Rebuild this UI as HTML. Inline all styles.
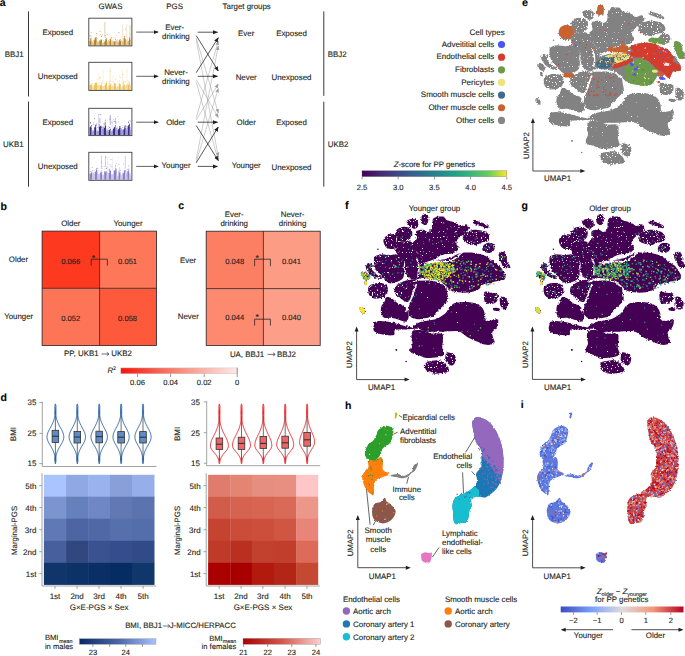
<!DOCTYPE html>
<html><head><meta charset="utf-8"><style>
html,body{margin:0;padding:0;background:#fff;}
svg{display:block;}
text{font-family:"Liberation Sans", sans-serif;text-rendering:geometricPrecision;stroke:currentColor;stroke-width:0.12px;color:#231f20;}
</style></head><body>
<svg width="685" height="656" viewBox="0 0 685 656">
<rect width="685" height="656" fill="#fff"/>
<text x="-0.30" y="5.70" font-size="10.5" text-anchor="start" fill="#000" color="#000" stroke-width="0.12" font-weight="bold" >a</text><text x="110.50" y="9.00" font-size="7.9" text-anchor="middle" fill="#231f20" color="#231f20" stroke-width="0.12" font-weight="normal" >GWAS</text><text x="174.70" y="9.00" font-size="7.9" text-anchor="middle" fill="#231f20" color="#231f20" stroke-width="0.12" font-weight="normal" >PGS</text><text x="246.70" y="8.80" font-size="7.9" text-anchor="middle" fill="#231f20" color="#231f20" stroke-width="0.12" font-weight="normal" >Target groups</text><line x1="28.50" y1="11.40" x2="28.50" y2="96.50" stroke="#3a3a3a" stroke-width="1.0" /><line x1="28.50" y1="101.60" x2="28.50" y2="186.70" stroke="#3a3a3a" stroke-width="1.0" /><line x1="323.80" y1="11.40" x2="323.80" y2="95.90" stroke="#3a3a3a" stroke-width="1.0" /><line x1="323.80" y1="101.70" x2="323.80" y2="186.70" stroke="#3a3a3a" stroke-width="1.0" /><text x="23.60" y="57.10" font-size="7.9" text-anchor="end" fill="#231f20" color="#231f20" stroke-width="0.12" font-weight="normal" >BBJ1</text><text x="23.60" y="146.80" font-size="7.9" text-anchor="end" fill="#231f20" color="#231f20" stroke-width="0.12" font-weight="normal" >UKB1</text><text x="327.80" y="56.60" font-size="7.9" text-anchor="start" fill="#231f20" color="#231f20" stroke-width="0.12" font-weight="normal" >BBJ2</text><text x="327.80" y="147.20" font-size="7.9" text-anchor="start" fill="#231f20" color="#231f20" stroke-width="0.12" font-weight="normal" >UKB2</text><text x="57.80" y="35.00" font-size="7.9" text-anchor="middle" fill="#231f20" color="#231f20" stroke-width="0.12" font-weight="normal" >Exposed</text><text x="57.80" y="79.10" font-size="7.9" text-anchor="middle" fill="#231f20" color="#231f20" stroke-width="0.12" font-weight="normal" >Unexposed</text><text x="57.80" y="124.90" font-size="7.9" text-anchor="middle" fill="#231f20" color="#231f20" stroke-width="0.12" font-weight="normal" >Exposed</text><text x="57.80" y="168.80" font-size="7.9" text-anchor="middle" fill="#231f20" color="#231f20" stroke-width="0.12" font-weight="normal" >Unexposed</text><path d="M89.60,45.40 L89.60,40.97 L90.20,40.97 L90.20,39.16 L90.80,39.16 L90.80,37.52 L91.40,37.52 L91.40,41.03 L91.65,41.03 L91.65,45.40Z" fill="#b6842a"/><rect x="90.74" y="32.41" width="0.75" height="0.75" fill="#b6842a"/><rect x="89.93" y="38.40" width="0.75" height="0.75" fill="#b6842a"/><rect x="89.61" y="35.61" width="0.75" height="0.75" fill="#b6842a"/><rect x="90.76" y="35.56" width="0.75" height="0.75" fill="#b6842a"/><path d="M91.65,45.40 L91.65,42.37 L92.25,42.37 L92.25,41.45 L92.85,41.45 L92.85,40.28 L93.45,40.28 L93.45,42.57 L94.00,42.57 L94.00,45.40Z" fill="#e2c690"/><rect x="93.93" y="37.49" width="0.75" height="0.75" fill="#e2c690"/><rect x="93.47" y="40.58" width="0.75" height="0.75" fill="#e2c690"/><rect x="93.04" y="40.28" width="0.75" height="0.75" fill="#e2c690"/><path d="M94.00,45.40 L94.00,40.20 L94.60,40.20 L94.60,38.44 L95.20,38.44 L95.20,37.33 L95.80,37.33 L95.80,37.55 L96.40,37.55 L96.40,39.30 L96.67,39.30 L96.67,45.40Z" fill="#b6842a"/><rect x="96.26" y="33.09" width="0.75" height="0.75" fill="#b6842a"/><rect x="96.05" y="36.96" width="0.75" height="0.75" fill="#b6842a"/><path d="M96.67,45.40 L96.67,42.12 L97.27,42.12 L97.27,41.25 L97.87,41.25 L97.87,42.27 L98.47,42.27 L98.47,41.29 L99.07,41.29 L99.07,41.90 L99.28,41.90 L99.28,45.40Z" fill="#e2c690"/><rect x="96.80" y="40.79" width="0.75" height="0.75" fill="#e2c690"/><rect x="97.48" y="38.29" width="0.75" height="0.75" fill="#e2c690"/><path d="M99.28,45.40 L99.28,40.24 L99.88,40.24 L99.88,40.68 L100.48,40.68 L100.48,39.62 L101.08,39.62 L101.08,39.72 L101.68,39.72 L101.68,39.27 L101.91,39.27 L101.91,45.40Z" fill="#b6842a"/><rect x="99.83" y="30.91" width="0.75" height="0.75" fill="#b6842a"/><rect x="100.33" y="34.38" width="0.75" height="0.75" fill="#b6842a"/><rect x="101.01" y="36.30" width="0.75" height="0.75" fill="#b6842a"/><rect x="101.12" y="35.71" width="0.75" height="0.75" fill="#b6842a"/><path d="M101.91,45.40 L101.91,43.09 L102.51,43.09 L102.51,42.60 L103.11,42.60 L103.11,42.57 L103.71,42.57 L103.71,42.85 L104.24,42.85 L104.24,45.40Z" fill="#e2c690"/><rect x="102.20" y="34.53" width="0.75" height="0.75" fill="#e2c690"/><rect x="102.85" y="39.98" width="0.75" height="0.75" fill="#e2c690"/><rect x="102.71" y="41.51" width="0.75" height="0.75" fill="#e2c690"/><path d="M104.24,45.40 L104.24,41.43 L104.84,41.43 L104.84,40.63 L105.44,40.63 L105.44,39.24 L106.04,39.24 L106.04,37.75 L106.64,37.75 L106.64,39.72 L106.94,39.72 L106.94,45.40Z" fill="#b6842a"/><rect x="105.32" y="36.89" width="0.75" height="0.75" fill="#b6842a"/><rect x="104.76" y="35.31" width="0.75" height="0.75" fill="#b6842a"/><rect x="104.98" y="39.46" width="0.75" height="0.75" fill="#b6842a"/><rect x="106.77" y="34.38" width="0.75" height="0.75" fill="#b6842a"/><rect x="104.56" y="22.07" width="0.7" height="14.72" fill="#b6842a" opacity="0.55"/><path d="M106.94,45.40 L106.94,41.90 L107.54,41.90 L107.54,41.36 L108.14,41.36 L108.14,40.22 L108.74,40.22 L108.74,40.90 L109.34,40.90 L109.34,42.42 L109.38,42.42 L109.38,45.40Z" fill="#e2c690"/><rect x="108.02" y="40.13" width="0.75" height="0.75" fill="#e2c690"/><rect x="109.32" y="40.22" width="0.75" height="0.75" fill="#e2c690"/><rect x="107.80" y="40.04" width="0.75" height="0.75" fill="#e2c690"/><rect x="109.11" y="39.18" width="0.75" height="0.75" fill="#e2c690"/><path d="M109.38,45.40 L109.38,40.88 L109.98,40.88 L109.98,39.16 L110.58,39.16 L110.58,38.58 L111.18,38.58 L111.18,40.47 L111.36,40.47 L111.36,45.40Z" fill="#b6842a"/><rect x="111.04" y="37.45" width="0.75" height="0.75" fill="#b6842a"/><rect x="110.61" y="37.48" width="0.75" height="0.75" fill="#b6842a"/><path d="M111.36,45.40 L111.36,42.51 L111.96,42.51 L111.96,41.54 L112.56,41.54 L112.56,39.41 L113.16,39.41 L113.16,40.89 L113.71,40.89 L113.71,45.40Z" fill="#e2c690"/><rect x="112.28" y="37.37" width="0.75" height="0.75" fill="#e2c690"/><rect x="113.38" y="42.35" width="0.75" height="0.75" fill="#e2c690"/><path d="M113.71,45.40 L113.71,41.81 L114.31,41.81 L114.31,41.22 L114.91,41.22 L114.91,41.11 L115.51,41.11 L115.51,40.34 L115.66,40.34 L115.66,45.40Z" fill="#b6842a"/><rect x="114.82" y="37.38" width="0.75" height="0.75" fill="#b6842a"/><rect x="115.19" y="39.04" width="0.75" height="0.75" fill="#b6842a"/><path d="M115.66,45.40 L115.66,41.69 L116.26,41.69 L116.26,39.82 L116.86,39.82 L116.86,41.46 L117.46,41.46 L117.46,39.48 L118.06,39.48 L118.06,40.13 L118.49,40.13 L118.49,45.40Z" fill="#e2c690"/><rect x="118.25" y="32.04" width="0.75" height="0.75" fill="#e2c690"/><rect x="116.46" y="35.07" width="0.75" height="0.75" fill="#e2c690"/><path d="M118.49,45.40 L118.49,42.15 L119.09,42.15 L119.09,40.22 L119.69,40.22 L119.69,39.44 L120.29,39.44 L120.29,40.99 L120.89,40.99 L120.89,40.02 L121.34,40.02 L121.34,45.40Z" fill="#b6842a"/><rect x="119.85" y="39.22" width="0.75" height="0.75" fill="#b6842a"/><rect x="118.63" y="32.33" width="0.75" height="0.75" fill="#b6842a"/><path d="M121.34,45.40 L121.34,42.59 L121.94,42.59 L121.94,41.26 L122.54,41.26 L122.54,41.22 L123.14,41.22 L123.14,41.93 L123.57,41.93 L123.57,45.40Z" fill="#e2c690"/><rect x="122.63" y="29.91" width="0.75" height="0.75" fill="#e2c690"/><rect x="121.36" y="36.50" width="0.75" height="0.75" fill="#e2c690"/><rect x="122.13" y="24.52" width="0.7" height="16.11" fill="#e2c690" opacity="0.55"/><path d="M123.57,45.40 L123.57,38.26 L124.17,38.26 L124.17,35.93 L124.77,35.93 L124.77,38.54 L125.37,38.54 L125.37,39.92 L125.78,39.92 L125.78,45.40Z" fill="#b6842a"/><rect x="125.27" y="28.69" width="0.75" height="0.75" fill="#b6842a"/><rect x="125.15" y="39.31" width="0.75" height="0.75" fill="#b6842a"/><rect x="124.02" y="35.93" width="0.75" height="0.75" fill="#b6842a"/><path d="M125.78,45.40 L125.78,42.51 L126.38,42.51 L126.38,39.67 L126.98,39.67 L126.98,41.19 L127.58,41.19 L127.58,39.81 L128.18,39.81 L128.18,40.25 L128.45,40.25 L128.45,45.40Z" fill="#e2c690"/><rect x="127.23" y="38.56" width="0.75" height="0.75" fill="#e2c690"/><rect x="127.11" y="39.42" width="0.75" height="0.75" fill="#e2c690"/><rect x="126.46" y="24.09" width="0.7" height="14.39" fill="#e2c690" opacity="0.55"/><path d="M128.45,45.40 L128.45,41.06 L129.05,41.06 L129.05,38.16 L129.65,38.16 L129.65,37.40 L130.25,37.40 L130.25,40.75 L130.56,40.75 L130.56,45.40Z" fill="#b6842a"/><rect x="129.01" y="37.07" width="0.75" height="0.75" fill="#b6842a"/><rect x="129.84" y="40.23" width="0.75" height="0.75" fill="#b6842a"/><rect x="129.68" y="25.22" width="0.7" height="11.70" fill="#b6842a" opacity="0.55"/><path d="M130.56,45.40 L130.56,41.30 L131.10,41.30 L131.10,45.40Z" fill="#e2c690"/><rect x="130.57" y="38.98" width="0.75" height="0.75" fill="#e2c690"/><rect x="130.83" y="33.78" width="0.75" height="0.75" fill="#e2c690"/><rect x="130.75" y="37.82" width="0.75" height="0.75" fill="#e2c690"/><rect x="88.80" y="18.20" width="43.10" height="27.70" fill="none" stroke="#3f3f3f" stroke-width="0.9"/><path d="M89.60,89.90 L89.60,84.64 L90.20,84.64 L90.20,84.56 L90.80,84.56 L90.80,84.55 L91.40,84.55 L91.40,84.38 L92.00,84.38 L92.00,85.49 L92.08,85.49 L92.08,89.90Z" fill="#edc25a"/><rect x="91.64" y="79.85" width="0.75" height="0.75" fill="#edc25a"/><rect x="91.79" y="83.14" width="0.75" height="0.75" fill="#edc25a"/><path d="M92.08,89.90 L92.08,86.37 L92.68,86.37 L92.68,87.17 L93.28,87.17 L93.28,85.85 L93.88,85.85 L93.88,86.31 L94.18,86.31 L94.18,89.90Z" fill="#f5dc9f"/><rect x="92.13" y="85.32" width="0.75" height="0.75" fill="#f5dc9f"/><rect x="93.26" y="87.07" width="0.75" height="0.75" fill="#f5dc9f"/><rect x="92.46" y="86.98" width="0.75" height="0.75" fill="#f5dc9f"/><path d="M94.18,89.90 L94.18,84.65 L94.78,84.65 L94.78,82.82 L95.38,82.82 L95.38,82.70 L95.98,82.70 L95.98,82.78 L96.58,82.78 L96.58,82.19 L97.04,82.19 L97.04,89.90Z" fill="#edc25a"/><rect x="96.67" y="78.45" width="0.75" height="0.75" fill="#edc25a"/><rect x="94.19" y="85.38" width="0.75" height="0.75" fill="#edc25a"/><path d="M97.04,89.90 L97.04,84.91 L97.64,84.91 L97.64,84.30 L98.24,84.30 L98.24,85.81 L98.84,85.81 L98.84,84.20 L99.44,84.20 L99.44,84.67 L99.87,84.67 L99.87,89.90Z" fill="#f5dc9f"/><rect x="99.28" y="85.90" width="0.75" height="0.75" fill="#f5dc9f"/><rect x="99.28" y="77.27" width="0.75" height="0.75" fill="#f5dc9f"/><rect x="98.30" y="82.87" width="0.75" height="0.75" fill="#f5dc9f"/><rect x="99.74" y="82.10" width="0.75" height="0.75" fill="#f5dc9f"/><rect x="98.56" y="72.92" width="0.7" height="9.94" fill="#f5dc9f" opacity="0.55"/><path d="M99.87,89.90 L99.87,86.25 L100.47,86.25 L100.47,84.89 L101.07,84.89 L101.07,82.13 L101.67,82.13 L101.67,85.55 L102.23,85.55 L102.23,89.90Z" fill="#edc25a"/><rect x="100.46" y="85.12" width="0.75" height="0.75" fill="#edc25a"/><rect x="102.19" y="80.79" width="0.75" height="0.75" fill="#edc25a"/><rect x="100.09" y="76.64" width="0.75" height="0.75" fill="#edc25a"/><rect x="99.89" y="77.47" width="0.75" height="0.75" fill="#edc25a"/><path d="M102.23,89.90 L102.23,85.80 L102.83,85.80 L102.83,86.48 L103.43,86.48 L103.43,85.93 L104.03,85.93 L104.03,85.34 L104.63,85.34 L104.63,86.16 L104.80,86.16 L104.80,89.90Z" fill="#f5dc9f"/><rect x="103.09" y="83.11" width="0.75" height="0.75" fill="#f5dc9f"/><rect x="103.97" y="82.75" width="0.75" height="0.75" fill="#f5dc9f"/><rect x="102.37" y="86.50" width="0.75" height="0.75" fill="#f5dc9f"/><rect x="102.77" y="69.08" width="0.7" height="14.82" fill="#f5dc9f" opacity="0.55"/><path d="M104.80,89.90 L104.80,85.09 L105.40,85.09 L105.40,83.44 L106.00,83.44 L106.00,82.86 L106.60,82.86 L106.60,83.86 L106.91,83.86 L106.91,89.90Z" fill="#edc25a"/><rect x="106.20" y="83.26" width="0.75" height="0.75" fill="#edc25a"/><rect x="105.95" y="81.48" width="0.75" height="0.75" fill="#edc25a"/><rect x="106.35" y="83.54" width="0.75" height="0.75" fill="#edc25a"/><path d="M106.91,89.90 L106.91,87.67 L107.51,87.67 L107.51,87.23 L108.11,87.23 L108.11,84.86 L108.71,84.86 L108.71,86.09 L109.03,86.09 L109.03,89.90Z" fill="#f5dc9f"/><rect x="108.32" y="83.25" width="0.75" height="0.75" fill="#f5dc9f"/><rect x="108.93" y="83.50" width="0.75" height="0.75" fill="#f5dc9f"/><rect x="109.00" y="84.73" width="0.75" height="0.75" fill="#f5dc9f"/><path d="M109.03,89.90 L109.03,85.44 L109.63,85.44 L109.63,83.42 L110.23,83.42 L110.23,84.61 L110.83,84.61 L110.83,83.34 L111.22,83.34 L111.22,89.90Z" fill="#edc25a"/><rect x="109.17" y="81.78" width="0.75" height="0.75" fill="#edc25a"/><rect x="110.43" y="71.43" width="0.75" height="0.75" fill="#edc25a"/><rect x="110.78" y="80.65" width="0.75" height="0.75" fill="#edc25a"/><rect x="109.35" y="80.97" width="0.75" height="0.75" fill="#edc25a"/><rect x="109.71" y="67.70" width="0.7" height="13.38" fill="#edc25a" opacity="0.55"/><path d="M111.22,89.90 L111.22,86.95 L111.82,86.95 L111.82,86.14 L112.42,86.14 L112.42,85.76 L113.02,85.76 L113.02,86.18 L113.62,86.18 L113.62,85.32 L113.81,85.32 L113.81,89.90Z" fill="#f5dc9f"/><rect x="112.94" y="81.88" width="0.75" height="0.75" fill="#f5dc9f"/><rect x="111.32" y="84.31" width="0.75" height="0.75" fill="#f5dc9f"/><rect x="113.07" y="81.45" width="0.75" height="0.75" fill="#f5dc9f"/><rect x="112.70" y="75.63" width="0.7" height="7.64" fill="#f5dc9f" opacity="0.55"/><path d="M113.81,89.90 L113.81,83.80 L114.41,83.80 L114.41,82.73 L115.01,82.73 L115.01,83.33 L115.61,83.33 L115.61,84.60 L115.93,84.60 L115.93,89.90Z" fill="#edc25a"/><rect x="114.05" y="83.50" width="0.75" height="0.75" fill="#edc25a"/><rect x="115.32" y="78.77" width="0.75" height="0.75" fill="#edc25a"/><path d="M115.93,89.90 L115.93,87.37 L116.53,87.37 L116.53,87.18 L117.13,87.18 L117.13,86.30 L117.73,86.30 L117.73,85.82 L118.33,85.82 L118.33,85.33 L118.80,85.33 L118.80,89.90Z" fill="#f5dc9f"/><rect x="116.60" y="83.81" width="0.75" height="0.75" fill="#f5dc9f"/><rect x="117.53" y="81.43" width="0.75" height="0.75" fill="#f5dc9f"/><path d="M118.80,89.90 L118.80,82.68 L119.40,82.68 L119.40,83.64 L120.00,83.64 L120.00,84.61 L120.60,84.61 L120.60,84.49 L120.77,84.49 L120.77,89.90Z" fill="#edc25a"/><rect x="119.72" y="84.25" width="0.75" height="0.75" fill="#edc25a"/><rect x="119.12" y="75.52" width="0.75" height="0.75" fill="#edc25a"/><rect x="120.54" y="77.19" width="0.75" height="0.75" fill="#edc25a"/><rect x="119.17" y="80.54" width="0.75" height="0.75" fill="#edc25a"/><path d="M120.77,89.90 L120.77,86.69 L121.37,86.69 L121.37,87.46 L121.97,87.46 L121.97,86.36 L122.57,86.36 L122.57,86.78 L122.86,86.78 L122.86,89.90Z" fill="#f5dc9f"/><rect x="122.20" y="82.39" width="0.75" height="0.75" fill="#f5dc9f"/><rect x="122.73" y="74.75" width="0.75" height="0.75" fill="#f5dc9f"/><rect x="122.55" y="84.61" width="0.75" height="0.75" fill="#f5dc9f"/><rect x="122.05" y="69.40" width="0.7" height="16.00" fill="#f5dc9f" opacity="0.55"/><path d="M122.86,89.90 L122.86,85.51 L123.46,85.51 L123.46,80.87 L124.06,80.87 L124.06,84.35 L124.66,84.35 L124.66,85.18 L124.85,85.18 L124.85,89.90Z" fill="#edc25a"/><rect x="123.11" y="74.30" width="0.75" height="0.75" fill="#edc25a"/><rect x="124.68" y="81.15" width="0.75" height="0.75" fill="#edc25a"/><path d="M124.85,89.90 L124.85,86.66 L125.45,86.66 L125.45,84.42 L126.05,84.42 L126.05,84.39 L126.65,84.39 L126.65,84.86 L127.25,84.86 L127.25,86.41 L127.52,86.41 L127.52,89.90Z" fill="#f5dc9f"/><rect x="126.87" y="83.32" width="0.75" height="0.75" fill="#f5dc9f"/><rect x="127.30" y="79.83" width="0.75" height="0.75" fill="#f5dc9f"/><rect x="124.97" y="81.53" width="0.75" height="0.75" fill="#f5dc9f"/><rect x="126.59" y="68.46" width="0.7" height="15.00" fill="#f5dc9f" opacity="0.55"/><path d="M127.52,89.90 L127.52,84.01 L128.12,84.01 L128.12,84.80 L128.72,84.80 L128.72,80.82 L129.32,80.82 L129.32,84.59 L129.79,84.59 L129.79,89.90Z" fill="#edc25a"/><rect x="128.52" y="85.44" width="0.75" height="0.75" fill="#edc25a"/><rect x="129.24" y="83.23" width="0.75" height="0.75" fill="#edc25a"/><path d="M129.79,89.90 L129.79,86.00 L130.39,86.00 L130.39,84.78 L130.99,84.78 L130.99,87.09 L131.10,87.09 L131.10,89.90Z" fill="#f5dc9f"/><rect x="130.82" y="78.93" width="0.75" height="0.75" fill="#f5dc9f"/><rect x="130.72" y="76.39" width="0.75" height="0.75" fill="#f5dc9f"/><rect x="88.80" y="62.30" width="43.10" height="28.10" fill="none" stroke="#3f3f3f" stroke-width="0.9"/><path d="M89.60,135.10 L89.60,127.24 L90.20,127.24 L90.20,126.57 L90.80,126.57 L90.80,125.67 L91.40,125.67 L91.40,128.40 L91.65,128.40 L91.65,135.10Z" fill="#36308a"/><rect x="89.90" y="122.30" width="0.75" height="0.75" fill="#36308a"/><rect x="90.97" y="127.85" width="0.75" height="0.75" fill="#36308a"/><rect x="90.28" y="122.63" width="0.75" height="0.75" fill="#36308a"/><rect x="91.13" y="125.20" width="0.75" height="0.75" fill="#36308a"/><path d="M91.65,135.10 L91.65,132.02 L92.25,132.02 L92.25,130.57 L92.85,130.57 L92.85,129.83 L93.45,129.83 L93.45,130.85 L94.05,130.85 L94.05,131.14 L94.16,131.14 L94.16,135.10Z" fill="#a49ed4"/><rect x="93.33" y="123.91" width="0.75" height="0.75" fill="#a49ed4"/><rect x="93.26" y="121.90" width="0.75" height="0.75" fill="#a49ed4"/><rect x="92.77" y="124.06" width="0.75" height="0.75" fill="#a49ed4"/><path d="M94.16,135.10 L94.16,127.61 L94.76,127.61 L94.76,126.81 L95.36,126.81 L95.36,124.67 L95.96,124.67 L95.96,127.45 L96.23,127.45 L96.23,135.10Z" fill="#36308a"/><rect x="96.18" y="125.48" width="0.75" height="0.75" fill="#36308a"/><rect x="96.10" y="123.62" width="0.75" height="0.75" fill="#36308a"/><rect x="94.31" y="118.34" width="0.75" height="0.75" fill="#36308a"/><rect x="94.96" y="125.39" width="0.75" height="0.75" fill="#36308a"/><path d="M96.23,135.10 L96.23,131.40 L96.83,131.40 L96.83,130.29 L97.43,130.29 L97.43,130.93 L98.03,130.93 L98.03,130.73 L98.63,130.73 L98.63,131.91 L98.85,131.91 L98.85,135.10Z" fill="#a49ed4"/><rect x="96.83" y="130.68" width="0.75" height="0.75" fill="#a49ed4"/><rect x="96.63" y="131.52" width="0.75" height="0.75" fill="#a49ed4"/><rect x="97.33" y="127.32" width="0.75" height="0.75" fill="#a49ed4"/><rect x="97.32" y="130.89" width="0.75" height="0.75" fill="#a49ed4"/><rect x="98.03" y="113.45" width="0.7" height="15.10" fill="#a49ed4" opacity="0.55"/><path d="M98.85,135.10 L98.85,127.12 L99.45,127.12 L99.45,125.75 L100.05,125.75 L100.05,126.36 L100.65,126.36 L100.65,125.45 L101.25,125.45 L101.25,127.56 L101.35,127.56 L101.35,135.10Z" fill="#36308a"/><rect x="99.08" y="124.57" width="0.75" height="0.75" fill="#36308a"/><rect x="99.82" y="114.31" width="0.75" height="0.75" fill="#36308a"/><rect x="101.15" y="127.14" width="0.75" height="0.75" fill="#36308a"/><rect x="99.56" y="118.21" width="0.7" height="5.24" fill="#36308a" opacity="0.55"/><path d="M101.35,135.10 L101.35,129.06 L101.95,129.06 L101.95,128.71 L102.55,128.71 L102.55,127.00 L103.15,127.00 L103.15,129.11 L103.64,129.11 L103.64,135.10Z" fill="#a49ed4"/><rect x="103.27" y="125.86" width="0.75" height="0.75" fill="#a49ed4"/><rect x="103.02" y="127.23" width="0.75" height="0.75" fill="#a49ed4"/><rect x="101.78" y="126.54" width="0.75" height="0.75" fill="#a49ed4"/><rect x="102.38" y="126.77" width="0.75" height="0.75" fill="#a49ed4"/><path d="M103.64,135.10 L103.64,127.73 L104.24,127.73 L104.24,127.69 L104.84,127.69 L104.84,121.83 L105.44,121.83 L105.44,125.70 L106.04,125.70 L106.04,127.95 L106.16,127.95 L106.16,135.10Z" fill="#36308a"/><rect x="103.66" y="123.64" width="0.75" height="0.75" fill="#36308a"/><rect x="105.04" y="119.78" width="0.75" height="0.75" fill="#36308a"/><path d="M106.16,135.10 L106.16,131.08 L106.76,131.08 L106.76,130.43 L107.36,130.43 L107.36,129.23 L107.96,129.23 L107.96,132.10 L108.56,132.10 L108.56,131.52 L108.62,131.52 L108.62,135.10Z" fill="#a49ed4"/><rect x="107.63" y="130.03" width="0.75" height="0.75" fill="#a49ed4"/><rect x="108.38" y="125.90" width="0.75" height="0.75" fill="#a49ed4"/><rect x="108.52" y="130.44" width="0.75" height="0.75" fill="#a49ed4"/><rect x="107.87" y="128.14" width="0.75" height="0.75" fill="#a49ed4"/><path d="M108.62,135.10 L108.62,130.26 L109.22,130.26 L109.22,129.63 L109.82,129.63 L109.82,128.92 L110.42,128.92 L110.42,126.98 L110.57,126.98 L110.57,135.10Z" fill="#36308a"/><rect x="110.34" y="128.85" width="0.75" height="0.75" fill="#36308a"/><rect x="109.54" y="118.68" width="0.75" height="0.75" fill="#36308a"/><rect x="109.09" y="127.21" width="0.75" height="0.75" fill="#36308a"/><rect x="109.85" y="114.91" width="0.7" height="9.76" fill="#36308a" opacity="0.55"/><path d="M110.57,135.10 L110.57,130.21 L111.17,130.21 L111.17,131.20 L111.77,131.20 L111.77,130.77 L112.37,130.77 L112.37,129.38 L112.97,129.38 L112.97,129.40 L113.00,129.40 L113.00,135.10Z" fill="#a49ed4"/><rect x="111.66" y="122.19" width="0.75" height="0.75" fill="#a49ed4"/><rect x="112.97" y="118.97" width="0.75" height="0.75" fill="#a49ed4"/><rect x="111.73" y="120.33" width="0.7" height="7.21" fill="#a49ed4" opacity="0.55"/><path d="M113.00,135.10 L113.00,128.76 L113.60,128.76 L113.60,127.72 L114.20,127.72 L114.20,127.05 L114.80,127.05 L114.80,125.86 L115.40,125.86 L115.40,126.47 L115.52,126.47 L115.52,135.10Z" fill="#36308a"/><rect x="113.81" y="121.05" width="0.75" height="0.75" fill="#36308a"/><rect x="115.05" y="118.57" width="0.75" height="0.75" fill="#36308a"/><rect x="115.12" y="125.29" width="0.75" height="0.75" fill="#36308a"/><rect x="114.95" y="120.44" width="0.7" height="3.37" fill="#36308a" opacity="0.55"/><path d="M115.52,135.10 L115.52,130.56 L116.12,130.56 L116.12,128.12 L116.72,128.12 L116.72,126.35 L117.32,126.35 L117.32,129.99 L117.92,129.99 L117.92,131.27 L117.93,131.27 L117.93,135.10Z" fill="#a49ed4"/><rect x="116.04" y="122.62" width="0.75" height="0.75" fill="#a49ed4"/><rect x="117.50" y="116.23" width="0.75" height="0.75" fill="#a49ed4"/><rect x="117.87" y="121.46" width="0.75" height="0.75" fill="#a49ed4"/><path d="M117.93,135.10 L117.93,128.63 L118.53,128.63 L118.53,129.40 L119.13,129.40 L119.13,127.62 L119.73,127.62 L119.73,126.10 L120.33,126.10 L120.33,130.29 L120.71,130.29 L120.71,135.10Z" fill="#36308a"/><rect x="119.15" y="128.86" width="0.75" height="0.75" fill="#36308a"/><rect x="119.39" y="128.43" width="0.75" height="0.75" fill="#36308a"/><rect x="119.05" y="126.28" width="0.75" height="0.75" fill="#36308a"/><rect x="120.12" y="128.42" width="0.75" height="0.75" fill="#36308a"/><path d="M120.71,135.10 L120.71,128.73 L121.31,128.73 L121.31,128.30 L121.91,128.30 L121.91,129.15 L122.51,129.15 L122.51,129.46 L123.11,129.46 L123.11,128.57 L123.35,128.57 L123.35,135.10Z" fill="#a49ed4"/><rect x="122.39" y="127.01" width="0.75" height="0.75" fill="#a49ed4"/><rect x="121.73" y="125.21" width="0.75" height="0.75" fill="#a49ed4"/><rect x="122.95" y="130.66" width="0.75" height="0.75" fill="#a49ed4"/><rect x="122.04" y="127.30" width="0.75" height="0.75" fill="#a49ed4"/><path d="M123.35,135.10 L123.35,129.50 L123.95,129.50 L123.95,129.00 L124.55,129.00 L124.55,126.00 L125.15,126.00 L125.15,127.44 L125.63,127.44 L125.63,135.10Z" fill="#36308a"/><rect x="125.04" y="126.34" width="0.75" height="0.75" fill="#36308a"/><rect x="124.59" y="128.09" width="0.75" height="0.75" fill="#36308a"/><rect x="124.83" y="125.24" width="0.75" height="0.75" fill="#36308a"/><rect x="124.16" y="128.97" width="0.75" height="0.75" fill="#36308a"/><rect x="124.23" y="127.60" width="0.75" height="0.75" fill="#36308a"/><path d="M125.63,135.10 L125.63,130.78 L126.23,130.78 L126.23,128.24 L126.83,128.24 L126.83,126.72 L127.43,126.72 L127.43,130.58 L127.75,130.58 L127.75,135.10Z" fill="#a49ed4"/><rect x="127.69" y="128.29" width="0.75" height="0.75" fill="#a49ed4"/><rect x="125.95" y="126.07" width="0.75" height="0.75" fill="#a49ed4"/><rect x="127.50" y="128.08" width="0.75" height="0.75" fill="#a49ed4"/><path d="M127.75,135.10 L127.75,125.98 L128.35,125.98 L128.35,125.00 L128.95,125.00 L128.95,123.47 L129.55,123.47 L129.55,124.31 L129.78,124.31 L129.78,135.10Z" fill="#36308a"/><rect x="128.24" y="121.73" width="0.75" height="0.75" fill="#36308a"/><rect x="129.75" y="120.55" width="0.75" height="0.75" fill="#36308a"/><rect x="128.08" y="121.83" width="0.75" height="0.75" fill="#36308a"/><path d="M129.78,135.10 L129.78,130.15 L130.38,130.15 L130.38,127.06 L130.98,127.06 L130.98,129.48 L131.10,129.48 L131.10,135.10Z" fill="#a49ed4"/><rect x="130.86" y="123.69" width="0.75" height="0.75" fill="#a49ed4"/><rect x="131.00" y="129.96" width="0.75" height="0.75" fill="#a49ed4"/><rect x="88.80" y="108.30" width="43.10" height="27.30" fill="none" stroke="#3f3f3f" stroke-width="0.9"/><path d="M89.60,179.80 L89.60,173.88 L90.20,173.88 L90.20,174.37 L90.80,174.37 L90.80,172.73 L91.40,172.73 L91.40,171.51 L92.00,171.51 L92.00,172.47 L92.48,172.47 L92.48,179.80Z" fill="#8a82c8"/><rect x="91.86" y="167.06" width="0.75" height="0.75" fill="#8a82c8"/><rect x="90.32" y="170.95" width="0.75" height="0.75" fill="#8a82c8"/><rect x="92.32" y="170.12" width="0.75" height="0.75" fill="#8a82c8"/><rect x="90.32" y="173.35" width="0.75" height="0.75" fill="#8a82c8"/><path d="M92.48,179.80 L92.48,173.35 L93.08,173.35 L93.08,173.56 L93.68,173.56 L93.68,171.99 L94.28,171.99 L94.28,174.44 L94.84,174.44 L94.84,179.80Z" fill="#cbc6ea"/><rect x="92.82" y="173.04" width="0.75" height="0.75" fill="#cbc6ea"/><rect x="92.71" y="170.90" width="0.75" height="0.75" fill="#cbc6ea"/><rect x="94.39" y="172.11" width="0.75" height="0.75" fill="#cbc6ea"/><rect x="93.62" y="157.79" width="0.75" height="0.75" fill="#cbc6ea"/><path d="M94.84,179.80 L94.84,171.27 L95.44,171.27 L95.44,172.09 L96.04,172.09 L96.04,169.57 L96.64,169.57 L96.64,170.08 L97.24,170.08 L97.24,172.26 L97.45,172.26 L97.45,179.80Z" fill="#8a82c8"/><rect x="96.00" y="168.47" width="0.75" height="0.75" fill="#8a82c8"/><rect x="96.00" y="171.09" width="0.75" height="0.75" fill="#8a82c8"/><rect x="97.12" y="167.79" width="0.75" height="0.75" fill="#8a82c8"/><rect x="96.47" y="171.30" width="0.75" height="0.75" fill="#8a82c8"/><rect x="96.35" y="168.05" width="0.75" height="0.75" fill="#8a82c8"/><rect x="96.09" y="169.54" width="0.75" height="0.75" fill="#8a82c8"/><path d="M97.45,179.80 L97.45,175.31 L98.05,175.31 L98.05,174.18 L98.65,174.18 L98.65,174.40 L99.25,174.40 L99.25,173.52 L99.85,173.52 L99.85,175.98 L100.09,175.98 L100.09,179.80Z" fill="#cbc6ea"/><rect x="97.93" y="170.39" width="0.75" height="0.75" fill="#cbc6ea"/><rect x="97.54" y="168.28" width="0.75" height="0.75" fill="#cbc6ea"/><rect x="99.94" y="172.88" width="0.75" height="0.75" fill="#cbc6ea"/><rect x="98.33" y="174.16" width="0.75" height="0.75" fill="#cbc6ea"/><rect x="97.53" y="170.36" width="0.75" height="0.75" fill="#cbc6ea"/><rect x="97.88" y="174.19" width="0.75" height="0.75" fill="#cbc6ea"/><path d="M100.09,179.80 L100.09,172.70 L100.69,172.70 L100.69,171.28 L101.29,171.28 L101.29,172.56 L101.89,172.56 L101.89,173.89 L102.20,173.89 L102.20,179.80Z" fill="#8a82c8"/><rect x="100.93" y="170.44" width="0.75" height="0.75" fill="#8a82c8"/><rect x="101.77" y="172.32" width="0.75" height="0.75" fill="#8a82c8"/><rect x="101.73" y="166.25" width="0.75" height="0.75" fill="#8a82c8"/><rect x="101.24" y="161.68" width="0.75" height="0.75" fill="#8a82c8"/><rect x="101.13" y="155.51" width="0.7" height="13.49" fill="#8a82c8" opacity="0.55"/><path d="M102.20,179.80 L102.20,176.34 L102.80,176.34 L102.80,175.02 L103.40,175.02 L103.40,174.14 L104.00,174.14 L104.00,174.58 L104.18,174.58 L104.18,179.80Z" fill="#cbc6ea"/><rect x="102.23" y="168.23" width="0.75" height="0.75" fill="#cbc6ea"/><rect x="103.29" y="176.37" width="0.75" height="0.75" fill="#cbc6ea"/><rect x="104.05" y="168.88" width="0.75" height="0.75" fill="#cbc6ea"/><path d="M104.18,179.80 L104.18,170.91 L104.78,170.91 L104.78,172.29 L105.38,172.29 L105.38,171.30 L105.98,171.30 L105.98,171.18 L106.58,171.18 L106.58,170.83 L106.68,170.83 L106.68,179.80Z" fill="#8a82c8"/><rect x="106.08" y="168.14" width="0.75" height="0.75" fill="#8a82c8"/><rect x="104.67" y="166.22" width="0.75" height="0.75" fill="#8a82c8"/><rect x="105.47" y="157.30" width="0.75" height="0.75" fill="#8a82c8"/><rect x="106.54" y="172.75" width="0.75" height="0.75" fill="#8a82c8"/><rect x="105.72" y="168.22" width="0.75" height="0.75" fill="#8a82c8"/><rect x="106.51" y="166.66" width="0.75" height="0.75" fill="#8a82c8"/><rect x="105.01" y="155.55" width="0.7" height="11.25" fill="#8a82c8" opacity="0.55"/><path d="M106.68,179.80 L106.68,174.69 L107.28,174.69 L107.28,172.17 L107.88,172.17 L107.88,172.99 L108.48,172.99 L108.48,174.93 L108.71,174.93 L108.71,179.80Z" fill="#cbc6ea"/><rect x="107.44" y="174.95" width="0.75" height="0.75" fill="#cbc6ea"/><rect x="108.00" y="172.88" width="0.75" height="0.75" fill="#cbc6ea"/><rect x="108.12" y="173.16" width="0.75" height="0.75" fill="#cbc6ea"/><rect x="107.34" y="171.35" width="0.75" height="0.75" fill="#cbc6ea"/><rect x="107.55" y="156.51" width="0.7" height="14.61" fill="#cbc6ea" opacity="0.55"/><path d="M108.71,179.80 L108.71,173.33 L109.31,173.33 L109.31,168.85 L109.91,168.85 L109.91,170.25 L110.51,170.25 L110.51,170.65 L110.99,170.65 L110.99,179.80Z" fill="#8a82c8"/><rect x="110.58" y="166.38" width="0.75" height="0.75" fill="#8a82c8"/><rect x="108.78" y="169.51" width="0.75" height="0.75" fill="#8a82c8"/><rect x="109.65" y="164.34" width="0.75" height="0.75" fill="#8a82c8"/><rect x="110.59" y="159.21" width="0.75" height="0.75" fill="#8a82c8"/><path d="M110.99,179.80 L110.99,174.67 L111.59,174.67 L111.59,174.50 L112.19,174.50 L112.19,174.46 L112.79,174.46 L112.79,174.12 L113.39,174.12 L113.39,172.60 L113.78,172.60 L113.78,179.80Z" fill="#cbc6ea"/><rect x="111.11" y="174.11" width="0.75" height="0.75" fill="#cbc6ea"/><rect x="112.51" y="174.06" width="0.75" height="0.75" fill="#cbc6ea"/><rect x="111.72" y="167.38" width="0.75" height="0.75" fill="#cbc6ea"/><rect x="113.27" y="171.31" width="0.75" height="0.75" fill="#cbc6ea"/><rect x="111.54" y="165.05" width="0.75" height="0.75" fill="#cbc6ea"/><rect x="111.93" y="157.69" width="0.7" height="12.88" fill="#cbc6ea" opacity="0.55"/><path d="M113.78,179.80 L113.78,171.07 L114.38,171.07 L114.38,170.31 L114.98,170.31 L114.98,167.58 L115.58,167.58 L115.58,170.29 L116.18,170.29 L116.18,169.14 L116.55,169.14 L116.55,179.80Z" fill="#8a82c8"/><rect x="114.61" y="170.15" width="0.75" height="0.75" fill="#8a82c8"/><rect x="115.02" y="164.79" width="0.75" height="0.75" fill="#8a82c8"/><rect x="115.84" y="168.55" width="0.75" height="0.75" fill="#8a82c8"/><rect x="115.84" y="163.36" width="0.75" height="0.75" fill="#8a82c8"/><rect x="115.75" y="172.10" width="0.75" height="0.75" fill="#8a82c8"/><rect x="115.02" y="165.65" width="0.75" height="0.75" fill="#8a82c8"/><path d="M116.55,179.80 L116.55,176.36 L117.15,176.36 L117.15,175.81 L117.75,175.81 L117.75,175.32 L118.35,175.32 L118.35,175.47 L118.57,175.47 L118.57,179.80Z" fill="#cbc6ea"/><rect x="116.84" y="173.88" width="0.75" height="0.75" fill="#cbc6ea"/><rect x="118.21" y="157.08" width="0.75" height="0.75" fill="#cbc6ea"/><rect x="118.04" y="175.82" width="0.75" height="0.75" fill="#cbc6ea"/><path d="M118.57,179.80 L118.57,170.86 L119.17,170.86 L119.17,172.45 L119.77,172.45 L119.77,171.86 L120.37,171.86 L120.37,173.78 L120.55,173.78 L120.55,179.80Z" fill="#8a82c8"/><rect x="119.29" y="170.66" width="0.75" height="0.75" fill="#8a82c8"/><rect x="118.62" y="163.92" width="0.75" height="0.75" fill="#8a82c8"/><rect x="119.86" y="170.14" width="0.75" height="0.75" fill="#8a82c8"/><rect x="119.43" y="168.90" width="0.75" height="0.75" fill="#8a82c8"/><rect x="119.37" y="167.61" width="0.75" height="0.75" fill="#8a82c8"/><path d="M120.55,179.80 L120.55,177.12 L121.15,177.12 L121.15,175.11 L121.75,175.11 L121.75,174.57 L122.35,174.57 L122.35,176.52 L122.67,176.52 L122.67,179.80Z" fill="#cbc6ea"/><rect x="122.59" y="175.14" width="0.75" height="0.75" fill="#cbc6ea"/><rect x="122.65" y="174.45" width="0.75" height="0.75" fill="#cbc6ea"/><rect x="121.63" y="173.61" width="0.75" height="0.75" fill="#cbc6ea"/><path d="M122.67,179.80 L122.67,172.40 L123.27,172.40 L123.27,173.16 L123.87,173.16 L123.87,169.74 L124.47,169.74 L124.47,170.65 L125.07,170.65 L125.07,170.94 L125.40,170.94 L125.40,179.80Z" fill="#8a82c8"/><rect x="125.02" y="169.90" width="0.75" height="0.75" fill="#8a82c8"/><rect x="125.16" y="171.34" width="0.75" height="0.75" fill="#8a82c8"/><rect x="123.25" y="163.72" width="0.75" height="0.75" fill="#8a82c8"/><rect x="124.87" y="155.72" width="0.7" height="12.86" fill="#8a82c8" opacity="0.55"/><path d="M125.40,179.80 L125.40,174.58 L126.00,174.58 L126.00,172.69 L126.60,172.69 L126.60,172.30 L127.20,172.30 L127.20,174.07 L127.33,174.07 L127.33,179.80Z" fill="#cbc6ea"/><rect x="126.29" y="170.11" width="0.75" height="0.75" fill="#cbc6ea"/><rect x="126.80" y="171.16" width="0.75" height="0.75" fill="#cbc6ea"/><rect x="126.98" y="172.35" width="0.75" height="0.75" fill="#cbc6ea"/><rect x="126.53" y="171.32" width="0.75" height="0.75" fill="#cbc6ea"/><rect x="125.46" y="171.44" width="0.75" height="0.75" fill="#cbc6ea"/><rect x="126.82" y="175.20" width="0.75" height="0.75" fill="#cbc6ea"/><path d="M127.33,179.80 L127.33,171.38 L127.93,171.38 L127.93,170.98 L128.53,170.98 L128.53,168.38 L129.13,168.38 L129.13,173.37 L129.45,173.37 L129.45,179.80Z" fill="#8a82c8"/><rect x="128.18" y="165.54" width="0.75" height="0.75" fill="#8a82c8"/><rect x="127.47" y="169.05" width="0.75" height="0.75" fill="#8a82c8"/><rect x="128.45" y="173.55" width="0.75" height="0.75" fill="#8a82c8"/><path d="M129.45,179.80 L129.45,174.59 L130.05,174.59 L130.05,174.70 L130.65,174.70 L130.65,175.40 L131.10,175.40 L131.10,179.80Z" fill="#cbc6ea"/><rect x="130.32" y="173.95" width="0.75" height="0.75" fill="#cbc6ea"/><rect x="131.05" y="170.40" width="0.75" height="0.75" fill="#cbc6ea"/><rect x="130.58" y="173.15" width="0.75" height="0.75" fill="#cbc6ea"/><rect x="88.80" y="152.30" width="43.10" height="28.00" fill="none" stroke="#3f3f3f" stroke-width="0.9"/><defs>
<marker id="ah" viewBox="0 0 10 10" refX="9" refY="5" markerWidth="5" markerHeight="5" orient="auto-start-reverse" markerUnits="userSpaceOnUse"><path d="M0,1 L10,5 L0,9 z" fill="#231f20"/></marker>
<marker id="ahg" viewBox="0 0 10 10" refX="9" refY="5" markerWidth="4.5" markerHeight="4.5" orient="auto-start-reverse" markerUnits="userSpaceOnUse"><path d="M0,1 L10,5 L0,9 z" fill="#a0a0a0"/></marker>
<marker id="ahs" viewBox="0 0 10 10" refX="9" refY="5" markerWidth="5" markerHeight="5" orient="auto-start-reverse" markerUnits="userSpaceOnUse"><path d="M0,1 L10,5 L0,9 z" fill="#231f20"/></marker>
</defs><line x1="136.20" y1="32.10" x2="158.20" y2="32.10" stroke="#231f20" stroke-width="0.7" marker-end="url(#ah)"/><line x1="136.20" y1="76.30" x2="158.20" y2="76.30" stroke="#231f20" stroke-width="0.7" marker-end="url(#ah)"/><line x1="136.20" y1="122.20" x2="158.20" y2="122.20" stroke="#231f20" stroke-width="0.7" marker-end="url(#ah)"/><line x1="136.20" y1="166.40" x2="158.20" y2="166.40" stroke="#231f20" stroke-width="0.7" marker-end="url(#ah)"/><text x="174.70" y="30.00" font-size="7.9" text-anchor="middle" fill="#231f20" color="#231f20" stroke-width="0.12" font-weight="normal" >Ever-</text><text x="175.90" y="38.90" font-size="7.9" text-anchor="middle" fill="#231f20" color="#231f20" stroke-width="0.12" font-weight="normal" >drinking</text><text x="176.00" y="74.60" font-size="7.9" text-anchor="middle" fill="#231f20" color="#231f20" stroke-width="0.12" font-weight="normal" >Never-</text><text x="175.90" y="83.60" font-size="7.9" text-anchor="middle" fill="#231f20" color="#231f20" stroke-width="0.12" font-weight="normal" >drinking</text><text x="175.80" y="124.50" font-size="7.9" text-anchor="middle" fill="#231f20" color="#231f20" stroke-width="0.12" font-weight="normal" >Older</text><text x="176.10" y="167.90" font-size="7.9" text-anchor="middle" fill="#231f20" color="#231f20" stroke-width="0.12" font-weight="normal" >Younger</text><text x="246.20" y="35.60" font-size="7.9" text-anchor="middle" fill="#231f20" color="#231f20" stroke-width="0.12" font-weight="normal" >Ever</text><text x="246.20" y="79.90" font-size="7.9" text-anchor="middle" fill="#231f20" color="#231f20" stroke-width="0.12" font-weight="normal" >Never</text><text x="246.20" y="124.70" font-size="7.9" text-anchor="middle" fill="#231f20" color="#231f20" stroke-width="0.12" font-weight="normal" >Older</text><text x="246.20" y="167.90" font-size="7.9" text-anchor="middle" fill="#231f20" color="#231f20" stroke-width="0.12" font-weight="normal" >Younger</text><text x="291.50" y="35.60" font-size="7.9" text-anchor="middle" fill="#231f20" color="#231f20" stroke-width="0.12" font-weight="normal" >Exposed</text><text x="291.50" y="79.90" font-size="7.9" text-anchor="middle" fill="#231f20" color="#231f20" stroke-width="0.12" font-weight="normal" >Unexposed</text><text x="291.50" y="124.70" font-size="7.9" text-anchor="middle" fill="#231f20" color="#231f20" stroke-width="0.12" font-weight="normal" >Exposed</text><text x="291.50" y="170.00" font-size="7.9" text-anchor="middle" fill="#231f20" color="#231f20" stroke-width="0.12" font-weight="normal" >Unexposed</text><line x1="196.20" y1="37.80" x2="218.30" y2="113.00" stroke="#9c9c9c" stroke-width="0.5" marker-end="url(#ahg)"/><line x1="196.20" y1="39.80" x2="218.30" y2="156.50" stroke="#9c9c9c" stroke-width="0.5" marker-end="url(#ahg)"/><line x1="196.20" y1="79.50" x2="218.30" y2="117.50" stroke="#9c9c9c" stroke-width="0.5" marker-end="url(#ahg)"/><line x1="196.20" y1="82.00" x2="218.30" y2="160.50" stroke="#9c9c9c" stroke-width="0.5" marker-end="url(#ahg)"/><line x1="196.20" y1="118.00" x2="218.30" y2="41.00" stroke="#9c9c9c" stroke-width="0.5" marker-end="url(#ahg)"/><line x1="196.20" y1="120.00" x2="218.30" y2="84.00" stroke="#9c9c9c" stroke-width="0.5" marker-end="url(#ahg)"/><line x1="196.20" y1="159.50" x2="218.30" y2="46.00" stroke="#9c9c9c" stroke-width="0.5" marker-end="url(#ahg)"/><line x1="196.20" y1="162.00" x2="218.30" y2="88.50" stroke="#9c9c9c" stroke-width="0.5" marker-end="url(#ahg)"/><line x1="197.70" y1="32.20" x2="217.50" y2="32.20" stroke="#231f20" stroke-width="0.75" marker-end="url(#ah)"/><line x1="197.70" y1="76.30" x2="217.50" y2="76.30" stroke="#231f20" stroke-width="0.75" marker-end="url(#ah)"/><line x1="197.70" y1="122.20" x2="217.50" y2="122.20" stroke="#231f20" stroke-width="0.75" marker-end="url(#ah)"/><line x1="197.70" y1="166.40" x2="217.50" y2="166.40" stroke="#231f20" stroke-width="0.75" marker-end="url(#ah)"/><line x1="196.20" y1="35.60" x2="218.30" y2="71.00" stroke="#231f20" stroke-width="0.75" marker-end="url(#ah)"/><line x1="196.20" y1="72.70" x2="218.30" y2="37.70" stroke="#231f20" stroke-width="0.75" marker-end="url(#ah)"/><line x1="196.20" y1="125.50" x2="218.30" y2="160.60" stroke="#231f20" stroke-width="0.75" marker-end="url(#ah)"/><line x1="196.20" y1="162.80" x2="218.30" y2="127.00" stroke="#231f20" stroke-width="0.75" marker-end="url(#ah)"/><text x="0.40" y="209.60" font-size="10.5" text-anchor="start" fill="#000" color="#000" stroke-width="0.12" font-weight="bold" >b</text><text x="178.20" y="209.00" font-size="10.5" text-anchor="start" fill="#000" color="#000" stroke-width="0.12" font-weight="bold" >c</text><rect x="42.10" y="231.10" width="57.50" height="57.20" fill="#fd3a1f"/><rect x="99.60" y="231.10" width="56.90" height="57.20" fill="#fe7759"/><rect x="42.10" y="288.30" width="57.50" height="57.10" fill="#fe7457"/><rect x="99.60" y="288.30" width="56.90" height="57.10" fill="#fe593b"/><rect x="42.10" y="231.10" width="114.40" height="114.30" fill="none" stroke="#231f20" stroke-width="0.8"/><line x1="99.60" y1="231.10" x2="99.60" y2="345.40" stroke="#231f20" stroke-width="0.8" /><line x1="42.10" y1="288.30" x2="156.50" y2="288.30" stroke="#231f20" stroke-width="0.8" /><text x="70.70" y="263.60" font-size="7.6" text-anchor="middle" fill="#231f20" color="#231f20" stroke-width="0.12" font-weight="normal" >0.066</text><text x="127.60" y="263.60" font-size="7.6" text-anchor="middle" fill="#231f20" color="#231f20" stroke-width="0.12" font-weight="normal" >0.051</text><text x="70.70" y="320.90" font-size="7.6" text-anchor="middle" fill="#231f20" color="#231f20" stroke-width="0.12" font-weight="normal" >0.052</text><text x="127.60" y="320.90" font-size="7.6" text-anchor="middle" fill="#231f20" color="#231f20" stroke-width="0.12" font-weight="normal" >0.058</text><rect x="206.20" y="231.20" width="57.20" height="57.40" fill="#fd7f63"/><rect x="263.40" y="231.20" width="56.80" height="57.40" fill="#fd9c85"/><rect x="206.20" y="288.60" width="57.20" height="56.80" fill="#fd8a6f"/><rect x="263.40" y="288.60" width="56.80" height="56.80" fill="#fd9e88"/><rect x="206.20" y="231.20" width="114.00" height="114.20" fill="none" stroke="#231f20" stroke-width="0.8"/><line x1="263.40" y1="231.20" x2="263.40" y2="345.40" stroke="#231f20" stroke-width="0.8" /><line x1="206.20" y1="288.60" x2="320.20" y2="288.60" stroke="#231f20" stroke-width="0.8" /><text x="234.70" y="263.90" font-size="7.6" text-anchor="middle" fill="#231f20" color="#231f20" stroke-width="0.12" font-weight="normal" >0.048</text><text x="291.50" y="263.90" font-size="7.6" text-anchor="middle" fill="#231f20" color="#231f20" stroke-width="0.12" font-weight="normal" >0.041</text><text x="234.70" y="320.20" font-size="7.6" text-anchor="middle" fill="#231f20" color="#231f20" stroke-width="0.12" font-weight="normal" >0.044</text><text x="291.50" y="320.20" font-size="7.6" text-anchor="middle" fill="#231f20" color="#231f20" stroke-width="0.12" font-weight="normal" >0.040</text><path d="M91.2,265.6 L91.2,259.2 L107.4,259.2 L107.4,265.6" fill="none" stroke="#231f20" stroke-width="0.75"/><text x="93.50" y="261.00" font-size="8.6" text-anchor="middle" fill="#231f20" color="#231f20" stroke-width="0.12" font-weight="normal" >*</text><path d="M254.6,266.2 L254.6,259.2 L270.4,259.2 L270.4,266.2" fill="none" stroke="#231f20" stroke-width="0.75"/><text x="257.10" y="261.00" font-size="8.6" text-anchor="middle" fill="#231f20" color="#231f20" stroke-width="0.12" font-weight="normal" >*</text><path d="M254.6,325.5 L254.6,319.2 L270.4,319.2 L270.4,325.5" fill="none" stroke="#231f20" stroke-width="0.75"/><text x="257.10" y="320.00" font-size="8.6" text-anchor="middle" fill="#231f20" color="#231f20" stroke-width="0.12" font-weight="normal" >*</text><text x="70.80" y="226.40" font-size="7.9" text-anchor="middle" fill="#231f20" color="#231f20" stroke-width="0.12" font-weight="normal" >Older</text><text x="128.00" y="226.40" font-size="7.9" text-anchor="middle" fill="#231f20" color="#231f20" stroke-width="0.12" font-weight="normal" >Younger</text><text x="18.50" y="262.20" font-size="7.9" text-anchor="middle" fill="#231f20" color="#231f20" stroke-width="0.12" font-weight="normal" >Older</text><text x="18.70" y="319.10" font-size="7.9" text-anchor="middle" fill="#231f20" color="#231f20" stroke-width="0.12" font-weight="normal" >Younger</text><text x="234.20" y="216.50" font-size="7.9" text-anchor="middle" fill="#231f20" color="#231f20" stroke-width="0.12" font-weight="normal" >Ever-</text><text x="234.20" y="226.10" font-size="7.9" text-anchor="middle" fill="#231f20" color="#231f20" stroke-width="0.12" font-weight="normal" >drinking</text><text x="292.60" y="216.50" font-size="7.9" text-anchor="middle" fill="#231f20" color="#231f20" stroke-width="0.12" font-weight="normal" >Never-</text><text x="292.60" y="226.10" font-size="7.9" text-anchor="middle" fill="#231f20" color="#231f20" stroke-width="0.12" font-weight="normal" >drinking</text><text x="188.10" y="262.70" font-size="7.9" text-anchor="middle" fill="#231f20" color="#231f20" stroke-width="0.12" font-weight="normal" >Ever</text><text x="188.30" y="318.50" font-size="7.9" text-anchor="middle" fill="#231f20" color="#231f20" stroke-width="0.12" font-weight="normal" >Never</text><text x="98.60" y="356.20" font-size="7.9" text-anchor="end" fill="#231f20" color="#231f20" stroke-width="0.12" font-weight="normal" >PP, UKB1</text><path d="M101.60,354.00 L108.70,354.00 M106.80,352.30 L109.00,354.00 L106.80,355.70" fill="none" stroke="#231f20" stroke-width="0.65"/><text x="111.30" y="356.20" font-size="7.9" text-anchor="start" fill="#231f20" color="#231f20" stroke-width="0.12" font-weight="normal" >UKB2</text><text x="264.10" y="356.60" font-size="7.9" text-anchor="end" fill="#231f20" color="#231f20" stroke-width="0.12" font-weight="normal" >UA, BBJ1</text><path d="M267.60,354.40 L274.90,354.40 M273.00,352.70 L275.20,354.40 L273.00,356.10" fill="none" stroke="#231f20" stroke-width="0.65"/><text x="277.00" y="356.60" font-size="7.9" text-anchor="start" fill="#231f20" color="#231f20" stroke-width="0.12" font-weight="normal" >BBJ2</text><defs><linearGradient id="gR2" x1="0" x2="1" y1="0" y2="0"><stop offset="0" stop-color="#f5140a"/><stop offset="0.5" stop-color="#f98a78"/><stop offset="1" stop-color="#fdeaea"/></linearGradient></defs><rect x="120.8" y="367.9" width="116.4" height="5.9" fill="url(#gR2)" stroke="#c8c8c8" stroke-width="0.5"/><line x1="137.50" y1="373.80" x2="137.50" y2="377.00" stroke="#555" stroke-width="0.6" /><text x="137.50" y="385.30" font-size="7.6" text-anchor="middle" fill="#231f20" color="#231f20" stroke-width="0.12" font-weight="normal" >0.06</text><line x1="170.60" y1="373.80" x2="170.60" y2="377.00" stroke="#555" stroke-width="0.6" /><text x="170.60" y="385.30" font-size="7.6" text-anchor="middle" fill="#231f20" color="#231f20" stroke-width="0.12" font-weight="normal" >0.04</text><line x1="204.20" y1="373.80" x2="204.20" y2="377.00" stroke="#555" stroke-width="0.6" /><text x="204.20" y="385.30" font-size="7.6" text-anchor="middle" fill="#231f20" color="#231f20" stroke-width="0.12" font-weight="normal" >0.02</text><line x1="237.20" y1="373.80" x2="237.20" y2="377.00" stroke="#555" stroke-width="0.6" /><text x="237.20" y="385.30" font-size="7.6" text-anchor="middle" fill="#231f20" color="#231f20" stroke-width="0.12" font-weight="normal" >0</text><line x1="237.20" y1="367.70" x2="237.20" y2="373.80" stroke="#555" stroke-width="0.6" /><text x="107.4" y="373.1" font-size="7.8" font-style="italic" fill="#231f20">R</text><text x="112.90" y="369.60" font-size="5.2" text-anchor="start" fill="#231f20" color="#231f20" stroke-width="0.12" font-weight="normal" >2</text><text x="0.40" y="401.20" font-size="10.5" text-anchor="start" fill="#000" color="#000" stroke-width="0.12" font-weight="bold" >d</text><line x1="42.30" y1="401.80" x2="42.30" y2="466.50" stroke="#8c8c8c" stroke-width="0.8" /><line x1="42.30" y1="466.50" x2="156.50" y2="466.50" stroke="#8c8c8c" stroke-width="0.8" /><line x1="39.40" y1="402.50" x2="42.30" y2="402.50" stroke="#8c8c8c" stroke-width="0.8" /><text x="36.30" y="405.30" font-size="7.9" text-anchor="end" fill="#231f20" color="#231f20" stroke-width="0.12" font-weight="normal" >35</text><line x1="39.40" y1="433.40" x2="42.30" y2="433.40" stroke="#8c8c8c" stroke-width="0.8" /><text x="36.30" y="436.20" font-size="7.9" text-anchor="end" fill="#231f20" color="#231f20" stroke-width="0.12" font-weight="normal" >25</text><line x1="39.40" y1="463.60" x2="42.30" y2="463.60" stroke="#8c8c8c" stroke-width="0.8" /><text x="36.30" y="466.40" font-size="7.9" text-anchor="end" fill="#231f20" color="#231f20" stroke-width="0.12" font-weight="normal" >15</text><text x="13.8" y="0" font-size="8.0" fill="#231f20" text-anchor="middle" transform="translate(13.8,434) rotate(-90) translate(-13.8,0) translate(0,2.6)">BMI</text><path d="M55.41,403.90 L55.62,404.65 L55.85,405.39 L55.95,406.14 L55.95,406.89 L55.95,407.64 L55.95,408.38 L55.95,409.13 L55.95,409.88 L55.95,410.63 L55.95,411.38 L55.95,412.12 L55.95,412.87 L55.95,413.62 L55.95,414.36 L55.95,415.11 L56.00,415.86 L56.12,416.61 L56.26,417.35 L56.42,418.10 L56.60,418.85 L56.80,419.60 L57.03,420.34 L57.28,421.09 L57.56,421.84 L57.86,422.59 L58.18,423.33 L58.53,424.08 L58.90,424.83 L59.28,425.58 L59.68,426.32 L60.09,427.07 L60.50,427.82 L60.92,428.57 L61.32,429.31 L61.72,430.06 L62.10,430.81 L62.45,431.56 L62.77,432.31 L63.06,433.05 L63.31,433.80 L63.51,434.55 L63.66,435.29 L63.75,436.04 L63.80,436.79 L63.78,437.54 L63.70,438.28 L63.56,439.03 L63.36,439.78 L63.10,440.53 L62.80,441.27 L62.45,442.02 L62.07,442.77 L61.65,443.52 L61.22,444.26 L60.78,445.01 L60.33,445.76 L59.88,446.51 L59.45,447.25 L59.02,448.00 L58.62,448.75 L58.24,449.50 L57.88,450.25 L57.56,450.99 L57.26,451.74 L56.99,452.49 L56.75,453.24 L56.53,453.98 L56.35,454.73 L56.18,455.48 L56.05,456.22 L55.95,456.97 L55.95,457.72 L55.95,458.47 L55.95,459.21 L55.95,459.96 L55.95,460.71 L55.95,461.46 L55.85,462.20 L55.62,462.95 L55.46,463.70 L55.34,463.70 L55.18,462.95 L54.95,462.20 L54.85,461.46 L54.85,460.71 L54.85,459.96 L54.85,459.21 L54.85,458.47 L54.85,457.72 L54.85,456.97 L54.75,456.22 L54.62,455.48 L54.45,454.73 L54.27,453.98 L54.05,453.24 L53.81,452.49 L53.54,451.74 L53.24,450.99 L52.92,450.25 L52.56,449.50 L52.18,448.75 L51.78,448.00 L51.35,447.25 L50.92,446.51 L50.47,445.76 L50.02,445.01 L49.58,444.26 L49.15,443.52 L48.73,442.77 L48.35,442.02 L48.00,441.27 L47.70,440.53 L47.44,439.78 L47.24,439.03 L47.10,438.28 L47.02,437.54 L47.00,436.79 L47.05,436.04 L47.14,435.29 L47.29,434.55 L47.49,433.80 L47.74,433.05 L48.03,432.31 L48.35,431.56 L48.70,430.81 L49.08,430.06 L49.48,429.31 L49.88,428.57 L50.30,427.82 L50.71,427.07 L51.12,426.32 L51.52,425.58 L51.90,424.83 L52.27,424.08 L52.62,423.33 L52.94,422.59 L53.24,421.84 L53.52,421.09 L53.77,420.34 L54.00,419.60 L54.20,418.85 L54.38,418.10 L54.54,417.35 L54.68,416.61 L54.80,415.86 L54.85,415.11 L54.85,414.36 L54.85,413.62 L54.85,412.87 L54.85,412.12 L54.85,411.38 L54.85,410.63 L54.85,409.88 L54.85,409.13 L54.85,408.38 L54.85,407.64 L54.85,406.89 L54.85,406.14 L54.95,405.39 L55.18,404.65 L55.39,403.90Z" fill="none" stroke="#1d5ea8" stroke-width="0.9" stroke-linejoin="round"/><line x1="55.40" y1="415.90" x2="55.40" y2="460.70" stroke="#4a4a4a" stroke-width="0.8" /><rect x="52.10" y="430.30" width="6.6" height="12.30" fill="#5d8cc6" stroke="#333" stroke-width="0.8"/><line x1="52.10" y1="436.20" x2="58.70" y2="436.20" stroke="#333" stroke-width="1.1" /><path d="M55.40,403.90 L56.10,412.90 L55.40,417.90 L54.70,412.90Z" fill="#1d5ea8" opacity="0.9"/><path d="M55.40,463.70 L56.10,458.70 L55.40,454.70 L54.70,458.70Z" fill="#1d5ea8" opacity="0.9"/><path d="M77.31,403.90 L77.52,404.65 L77.75,405.39 L77.85,406.14 L77.85,406.89 L77.85,407.64 L77.85,408.38 L77.85,409.13 L77.85,409.88 L77.85,410.63 L77.85,411.38 L77.85,412.12 L77.85,412.87 L77.85,413.62 L77.85,414.36 L77.85,415.11 L77.88,415.86 L78.00,416.61 L78.14,417.35 L78.29,418.10 L78.47,418.85 L78.67,419.60 L78.89,420.34 L79.13,421.09 L79.40,421.84 L79.70,422.59 L80.02,423.33 L80.36,424.08 L80.71,424.83 L81.09,425.58 L81.48,426.32 L81.88,427.07 L82.28,427.82 L82.68,428.57 L83.08,429.31 L83.47,430.06 L83.84,430.81 L84.18,431.56 L84.50,432.31 L84.78,433.05 L85.02,433.80 L85.21,434.55 L85.36,435.29 L85.46,436.04 L85.50,436.79 L85.48,437.54 L85.41,438.28 L85.27,439.03 L85.07,439.78 L84.82,440.53 L84.52,441.27 L84.18,442.02 L83.81,442.77 L83.41,443.52 L82.98,444.26 L82.55,445.01 L82.11,445.76 L81.68,446.51 L81.25,447.25 L80.84,448.00 L80.44,448.75 L80.07,449.50 L79.73,450.25 L79.41,450.99 L79.11,451.74 L78.85,452.49 L78.61,453.24 L78.41,453.98 L78.22,454.73 L78.07,455.48 L77.93,456.22 L77.85,456.97 L77.85,457.72 L77.85,458.47 L77.85,459.21 L77.85,459.96 L77.85,460.71 L77.85,461.46 L77.75,462.20 L77.52,462.95 L77.36,463.70 L77.24,463.70 L77.08,462.95 L76.85,462.20 L76.75,461.46 L76.75,460.71 L76.75,459.96 L76.75,459.21 L76.75,458.47 L76.75,457.72 L76.75,456.97 L76.67,456.22 L76.53,455.48 L76.38,454.73 L76.19,453.98 L75.99,453.24 L75.75,452.49 L75.49,451.74 L75.19,450.99 L74.87,450.25 L74.53,449.50 L74.16,448.75 L73.76,448.00 L73.35,447.25 L72.92,446.51 L72.49,445.76 L72.05,445.01 L71.62,444.26 L71.19,443.52 L70.79,442.77 L70.42,442.02 L70.08,441.27 L69.78,440.53 L69.53,439.78 L69.33,439.03 L69.19,438.28 L69.12,437.54 L69.10,436.79 L69.14,436.04 L69.24,435.29 L69.39,434.55 L69.58,433.80 L69.82,433.05 L70.10,432.31 L70.42,431.56 L70.76,430.81 L71.13,430.06 L71.52,429.31 L71.92,428.57 L72.32,427.82 L72.72,427.07 L73.12,426.32 L73.51,425.58 L73.89,424.83 L74.24,424.08 L74.58,423.33 L74.90,422.59 L75.20,421.84 L75.47,421.09 L75.71,420.34 L75.93,419.60 L76.13,418.85 L76.31,418.10 L76.46,417.35 L76.60,416.61 L76.72,415.86 L76.75,415.11 L76.75,414.36 L76.75,413.62 L76.75,412.87 L76.75,412.12 L76.75,411.38 L76.75,410.63 L76.75,409.88 L76.75,409.13 L76.75,408.38 L76.75,407.64 L76.75,406.89 L76.75,406.14 L76.85,405.39 L77.08,404.65 L77.29,403.90Z" fill="none" stroke="#1d5ea8" stroke-width="0.9" stroke-linejoin="round"/><line x1="77.30" y1="415.90" x2="77.30" y2="460.70" stroke="#4a4a4a" stroke-width="0.8" /><rect x="74.00" y="431.50" width="6.6" height="11.50" fill="#5d8cc6" stroke="#333" stroke-width="0.8"/><line x1="74.00" y1="437.00" x2="80.60" y2="437.00" stroke="#333" stroke-width="1.1" /><path d="M77.30,403.90 L78.00,412.90 L77.30,417.90 L76.60,412.90Z" fill="#1d5ea8" opacity="0.9"/><path d="M77.30,463.70 L78.00,458.70 L77.30,454.70 L76.60,458.70Z" fill="#1d5ea8" opacity="0.9"/><path d="M99.21,403.90 L99.42,404.65 L99.65,405.39 L99.75,406.14 L99.75,406.89 L99.75,407.64 L99.75,408.38 L99.75,409.13 L99.75,409.88 L99.75,410.63 L99.75,411.38 L99.75,412.12 L99.75,412.87 L99.75,413.62 L99.75,414.36 L99.75,415.11 L99.78,415.86 L99.90,416.61 L100.04,417.35 L100.19,418.10 L100.37,418.85 L100.57,419.60 L100.79,420.34 L101.03,421.09 L101.30,421.84 L101.60,422.59 L101.92,423.33 L102.26,424.08 L102.61,424.83 L102.99,425.58 L103.38,426.32 L103.78,427.07 L104.18,427.82 L104.58,428.57 L104.98,429.31 L105.37,430.06 L105.74,430.81 L106.08,431.56 L106.40,432.31 L106.68,433.05 L106.92,433.80 L107.11,434.55 L107.26,435.29 L107.36,436.04 L107.40,436.79 L107.38,437.54 L107.31,438.28 L107.17,439.03 L106.97,439.78 L106.72,440.53 L106.42,441.27 L106.08,442.02 L105.71,442.77 L105.31,443.52 L104.88,444.26 L104.45,445.01 L104.01,445.76 L103.58,446.51 L103.15,447.25 L102.74,448.00 L102.34,448.75 L101.97,449.50 L101.63,450.25 L101.31,450.99 L101.01,451.74 L100.75,452.49 L100.51,453.24 L100.31,453.98 L100.12,454.73 L99.97,455.48 L99.83,456.22 L99.75,456.97 L99.75,457.72 L99.75,458.47 L99.75,459.21 L99.75,459.96 L99.75,460.71 L99.75,461.46 L99.65,462.20 L99.42,462.95 L99.26,463.70 L99.14,463.70 L98.98,462.95 L98.75,462.20 L98.65,461.46 L98.65,460.71 L98.65,459.96 L98.65,459.21 L98.65,458.47 L98.65,457.72 L98.65,456.97 L98.57,456.22 L98.43,455.48 L98.28,454.73 L98.09,453.98 L97.89,453.24 L97.65,452.49 L97.39,451.74 L97.09,450.99 L96.77,450.25 L96.43,449.50 L96.06,448.75 L95.66,448.00 L95.25,447.25 L94.82,446.51 L94.39,445.76 L93.95,445.01 L93.52,444.26 L93.09,443.52 L92.69,442.77 L92.32,442.02 L91.98,441.27 L91.68,440.53 L91.43,439.78 L91.23,439.03 L91.09,438.28 L91.02,437.54 L91.00,436.79 L91.04,436.04 L91.14,435.29 L91.29,434.55 L91.48,433.80 L91.72,433.05 L92.00,432.31 L92.32,431.56 L92.66,430.81 L93.03,430.06 L93.42,429.31 L93.82,428.57 L94.22,427.82 L94.62,427.07 L95.02,426.32 L95.41,425.58 L95.79,424.83 L96.14,424.08 L96.48,423.33 L96.80,422.59 L97.10,421.84 L97.37,421.09 L97.61,420.34 L97.83,419.60 L98.03,418.85 L98.21,418.10 L98.36,417.35 L98.50,416.61 L98.62,415.86 L98.65,415.11 L98.65,414.36 L98.65,413.62 L98.65,412.87 L98.65,412.12 L98.65,411.38 L98.65,410.63 L98.65,409.88 L98.65,409.13 L98.65,408.38 L98.65,407.64 L98.65,406.89 L98.65,406.14 L98.75,405.39 L98.98,404.65 L99.19,403.90Z" fill="none" stroke="#1d5ea8" stroke-width="0.9" stroke-linejoin="round"/><line x1="99.20" y1="415.90" x2="99.20" y2="460.70" stroke="#4a4a4a" stroke-width="0.8" /><rect x="95.90" y="431.20" width="6.6" height="11.60" fill="#5d8cc6" stroke="#333" stroke-width="0.8"/><line x1="95.90" y1="436.60" x2="102.50" y2="436.60" stroke="#333" stroke-width="1.1" /><path d="M99.20,403.90 L99.90,412.90 L99.20,417.90 L98.50,412.90Z" fill="#1d5ea8" opacity="0.9"/><path d="M99.20,463.70 L99.90,458.70 L99.20,454.70 L98.50,458.70Z" fill="#1d5ea8" opacity="0.9"/><path d="M121.11,403.90 L121.32,404.65 L121.55,405.39 L121.65,406.14 L121.65,406.89 L121.65,407.64 L121.65,408.38 L121.65,409.13 L121.65,409.88 L121.65,410.63 L121.65,411.38 L121.65,412.12 L121.65,412.87 L121.65,413.62 L121.65,414.36 L121.65,415.11 L121.68,415.86 L121.79,416.61 L121.93,417.35 L122.08,418.10 L122.25,418.85 L122.45,419.60 L122.67,420.34 L122.91,421.09 L123.18,421.84 L123.47,422.59 L123.78,423.33 L124.12,424.08 L124.47,424.83 L124.84,425.58 L125.23,426.32 L125.62,427.07 L126.02,427.82 L126.42,428.57 L126.81,429.31 L127.19,430.06 L127.56,430.81 L127.90,431.56 L128.21,432.31 L128.49,433.05 L128.72,433.80 L128.92,434.55 L129.06,435.29 L129.16,436.04 L129.20,436.79 L129.18,437.54 L129.11,438.28 L128.97,439.03 L128.78,439.78 L128.53,440.53 L128.23,441.27 L127.90,442.02 L127.53,442.77 L127.13,443.52 L126.71,444.26 L126.29,445.01 L125.85,445.76 L125.42,446.51 L125.00,447.25 L124.59,448.00 L124.21,448.75 L123.84,449.50 L123.50,450.25 L123.18,450.99 L122.89,451.74 L122.63,452.49 L122.40,453.24 L122.19,453.98 L122.01,454.73 L121.86,455.48 L121.72,456.22 L121.65,456.97 L121.65,457.72 L121.65,458.47 L121.65,459.21 L121.65,459.96 L121.65,460.71 L121.65,461.46 L121.55,462.20 L121.32,462.95 L121.16,463.70 L121.04,463.70 L120.88,462.95 L120.65,462.20 L120.55,461.46 L120.55,460.71 L120.55,459.96 L120.55,459.21 L120.55,458.47 L120.55,457.72 L120.55,456.97 L120.48,456.22 L120.34,455.48 L120.19,454.73 L120.01,453.98 L119.80,453.24 L119.57,452.49 L119.31,451.74 L119.02,450.99 L118.70,450.25 L118.36,449.50 L117.99,448.75 L117.61,448.00 L117.20,447.25 L116.78,446.51 L116.35,445.76 L115.91,445.01 L115.49,444.26 L115.07,443.52 L114.67,442.77 L114.30,442.02 L113.97,441.27 L113.67,440.53 L113.42,439.78 L113.23,439.03 L113.09,438.28 L113.02,437.54 L113.00,436.79 L113.04,436.04 L113.14,435.29 L113.28,434.55 L113.48,433.80 L113.71,433.05 L113.99,432.31 L114.30,431.56 L114.64,430.81 L115.01,430.06 L115.39,429.31 L115.78,428.57 L116.18,427.82 L116.58,427.07 L116.97,426.32 L117.36,425.58 L117.73,424.83 L118.08,424.08 L118.42,423.33 L118.73,422.59 L119.02,421.84 L119.29,421.09 L119.53,420.34 L119.75,419.60 L119.95,418.85 L120.12,418.10 L120.27,417.35 L120.41,416.61 L120.52,415.86 L120.55,415.11 L120.55,414.36 L120.55,413.62 L120.55,412.87 L120.55,412.12 L120.55,411.38 L120.55,410.63 L120.55,409.88 L120.55,409.13 L120.55,408.38 L120.55,407.64 L120.55,406.89 L120.55,406.14 L120.65,405.39 L120.88,404.65 L121.09,403.90Z" fill="none" stroke="#1d5ea8" stroke-width="0.9" stroke-linejoin="round"/><line x1="121.10" y1="415.90" x2="121.10" y2="460.70" stroke="#4a4a4a" stroke-width="0.8" /><rect x="117.80" y="431.60" width="6.6" height="11.40" fill="#5d8cc6" stroke="#333" stroke-width="0.8"/><line x1="117.80" y1="437.20" x2="124.40" y2="437.20" stroke="#333" stroke-width="1.1" /><path d="M121.10,403.90 L121.80,412.90 L121.10,417.90 L120.40,412.90Z" fill="#1d5ea8" opacity="0.9"/><path d="M121.10,463.70 L121.80,458.70 L121.10,454.70 L120.40,458.70Z" fill="#1d5ea8" opacity="0.9"/><path d="M143.01,403.90 L143.22,404.65 L143.45,405.39 L143.55,406.14 L143.55,406.89 L143.55,407.64 L143.55,408.38 L143.55,409.13 L143.55,409.88 L143.55,410.63 L143.55,411.38 L143.55,412.12 L143.55,412.87 L143.55,413.62 L143.55,414.36 L143.55,415.11 L143.58,415.86 L143.69,416.61 L143.83,417.35 L143.98,418.10 L144.15,418.85 L144.35,419.60 L144.57,420.34 L144.81,421.09 L145.08,421.84 L145.37,422.59 L145.68,423.33 L146.02,424.08 L146.37,424.83 L146.74,425.58 L147.13,426.32 L147.52,427.07 L147.92,427.82 L148.32,428.57 L148.71,429.31 L149.09,430.06 L149.46,430.81 L149.80,431.56 L150.11,432.31 L150.39,433.05 L150.62,433.80 L150.82,434.55 L150.96,435.29 L151.06,436.04 L151.10,436.79 L151.08,437.54 L151.01,438.28 L150.87,439.03 L150.68,439.78 L150.43,440.53 L150.13,441.27 L149.80,442.02 L149.43,442.77 L149.03,443.52 L148.61,444.26 L148.19,445.01 L147.75,445.76 L147.32,446.51 L146.90,447.25 L146.49,448.00 L146.11,448.75 L145.74,449.50 L145.40,450.25 L145.08,450.99 L144.79,451.74 L144.53,452.49 L144.30,453.24 L144.09,453.98 L143.91,454.73 L143.76,455.48 L143.62,456.22 L143.55,456.97 L143.55,457.72 L143.55,458.47 L143.55,459.21 L143.55,459.96 L143.55,460.71 L143.55,461.46 L143.45,462.20 L143.22,462.95 L143.06,463.70 L142.94,463.70 L142.78,462.95 L142.55,462.20 L142.45,461.46 L142.45,460.71 L142.45,459.96 L142.45,459.21 L142.45,458.47 L142.45,457.72 L142.45,456.97 L142.38,456.22 L142.24,455.48 L142.09,454.73 L141.91,453.98 L141.70,453.24 L141.47,452.49 L141.21,451.74 L140.92,450.99 L140.60,450.25 L140.26,449.50 L139.89,448.75 L139.51,448.00 L139.10,447.25 L138.68,446.51 L138.25,445.76 L137.81,445.01 L137.39,444.26 L136.97,443.52 L136.57,442.77 L136.20,442.02 L135.87,441.27 L135.57,440.53 L135.32,439.78 L135.13,439.03 L134.99,438.28 L134.92,437.54 L134.90,436.79 L134.94,436.04 L135.04,435.29 L135.18,434.55 L135.38,433.80 L135.61,433.05 L135.89,432.31 L136.20,431.56 L136.54,430.81 L136.91,430.06 L137.29,429.31 L137.68,428.57 L138.08,427.82 L138.48,427.07 L138.87,426.32 L139.26,425.58 L139.63,424.83 L139.98,424.08 L140.32,423.33 L140.63,422.59 L140.92,421.84 L141.19,421.09 L141.43,420.34 L141.65,419.60 L141.85,418.85 L142.02,418.10 L142.17,417.35 L142.31,416.61 L142.42,415.86 L142.45,415.11 L142.45,414.36 L142.45,413.62 L142.45,412.87 L142.45,412.12 L142.45,411.38 L142.45,410.63 L142.45,409.88 L142.45,409.13 L142.45,408.38 L142.45,407.64 L142.45,406.89 L142.45,406.14 L142.55,405.39 L142.78,404.65 L142.99,403.90Z" fill="none" stroke="#1d5ea8" stroke-width="0.9" stroke-linejoin="round"/><line x1="143.00" y1="415.90" x2="143.00" y2="460.70" stroke="#4a4a4a" stroke-width="0.8" /><rect x="139.70" y="431.60" width="6.6" height="11.40" fill="#5d8cc6" stroke="#333" stroke-width="0.8"/><line x1="139.70" y1="437.20" x2="146.30" y2="437.20" stroke="#333" stroke-width="1.1" /><path d="M143.00,403.90 L143.70,412.90 L143.00,417.90 L142.30,412.90Z" fill="#1d5ea8" opacity="0.9"/><path d="M143.00,463.70 L143.70,458.70 L143.00,454.70 L142.30,458.70Z" fill="#1d5ea8" opacity="0.9"/><line x1="206.70" y1="401.20" x2="206.70" y2="465.70" stroke="#8c8c8c" stroke-width="0.8" /><line x1="206.70" y1="465.70" x2="320.20" y2="465.70" stroke="#8c8c8c" stroke-width="0.8" /><line x1="203.80" y1="401.90" x2="206.70" y2="401.90" stroke="#8c8c8c" stroke-width="0.8" /><text x="199.90" y="404.70" font-size="7.9" text-anchor="end" fill="#231f20" color="#231f20" stroke-width="0.12" font-weight="normal" >35</text><line x1="203.80" y1="432.70" x2="206.70" y2="432.70" stroke="#8c8c8c" stroke-width="0.8" /><text x="199.90" y="435.50" font-size="7.9" text-anchor="end" fill="#231f20" color="#231f20" stroke-width="0.12" font-weight="normal" >25</text><line x1="203.80" y1="463.20" x2="206.70" y2="463.20" stroke="#8c8c8c" stroke-width="0.8" /><text x="199.90" y="466.00" font-size="7.9" text-anchor="end" fill="#231f20" color="#231f20" stroke-width="0.12" font-weight="normal" >15</text><text x="177.4" y="0" font-size="8.0" fill="#231f20" text-anchor="middle" transform="translate(177.4,434) rotate(-90) translate(-177.4,0) translate(0,2.6)">BMI</text><path d="M219.40,403.90 L219.62,404.65 L219.85,405.39 L219.95,406.14 L219.95,406.89 L219.95,407.64 L219.95,408.38 L219.95,409.13 L219.95,409.88 L219.95,410.63 L219.95,411.38 L219.95,412.12 L219.95,412.87 L219.95,413.62 L219.95,414.36 L219.95,415.11 L219.95,415.86 L219.95,416.61 L219.95,417.35 L219.95,418.10 L219.95,418.85 L219.95,419.60 L219.95,420.34 L219.97,421.09 L220.07,421.84 L220.19,422.59 L220.32,423.33 L220.46,424.08 L220.63,424.83 L220.81,425.58 L221.01,426.32 L221.23,427.07 L221.47,427.82 L221.73,428.57 L222.01,429.31 L222.31,430.06 L222.63,430.81 L222.96,431.56 L223.31,432.31 L223.67,433.05 L224.04,433.80 L224.42,434.55 L224.81,435.29 L225.19,436.04 L225.57,436.79 L225.95,437.54 L226.31,438.28 L226.65,439.03 L226.98,439.78 L227.28,440.53 L227.55,441.27 L227.79,442.02 L227.99,442.77 L228.16,443.52 L228.28,444.26 L228.36,445.01 L228.40,445.76 L228.37,446.51 L228.23,447.25 L227.97,448.00 L227.60,448.75 L227.14,449.50 L226.60,450.25 L226.02,450.99 L225.39,451.74 L224.75,452.49 L224.12,453.24 L223.50,453.98 L222.91,454.73 L222.37,455.48 L221.88,456.22 L221.44,456.97 L221.05,457.72 L220.72,458.47 L220.44,459.21 L220.21,459.96 L220.02,460.71 L219.95,461.46 L219.85,462.20 L219.66,462.95 L219.59,463.70 L219.21,463.70 L219.14,462.95 L218.95,462.20 L218.85,461.46 L218.78,460.71 L218.59,459.96 L218.36,459.21 L218.08,458.47 L217.75,457.72 L217.36,456.97 L216.92,456.22 L216.43,455.48 L215.89,454.73 L215.30,453.98 L214.68,453.24 L214.05,452.49 L213.41,451.74 L212.78,450.99 L212.20,450.25 L211.66,449.50 L211.20,448.75 L210.83,448.00 L210.57,447.25 L210.43,446.51 L210.40,445.76 L210.44,445.01 L210.52,444.26 L210.64,443.52 L210.81,442.77 L211.01,442.02 L211.25,441.27 L211.52,440.53 L211.82,439.78 L212.15,439.03 L212.49,438.28 L212.85,437.54 L213.23,436.79 L213.61,436.04 L213.99,435.29 L214.38,434.55 L214.76,433.80 L215.13,433.05 L215.49,432.31 L215.84,431.56 L216.17,430.81 L216.49,430.06 L216.79,429.31 L217.07,428.57 L217.33,427.82 L217.57,427.07 L217.79,426.32 L217.99,425.58 L218.17,424.83 L218.34,424.08 L218.48,423.33 L218.61,422.59 L218.73,421.84 L218.83,421.09 L218.85,420.34 L218.85,419.60 L218.85,418.85 L218.85,418.10 L218.85,417.35 L218.85,416.61 L218.85,415.86 L218.85,415.11 L218.85,414.36 L218.85,413.62 L218.85,412.87 L218.85,412.12 L218.85,411.38 L218.85,410.63 L218.85,409.88 L218.85,409.13 L218.85,408.38 L218.85,407.64 L218.85,406.89 L218.85,406.14 L218.95,405.39 L219.18,404.65 L219.40,403.90Z" fill="none" stroke="#ee1c22" stroke-width="0.9" stroke-linejoin="round"/><line x1="219.40" y1="415.90" x2="219.40" y2="460.70" stroke="#4a4a4a" stroke-width="0.8" /><rect x="216.10" y="438.00" width="6.6" height="11.40" fill="#f26464" stroke="#333" stroke-width="0.8"/><line x1="216.10" y1="444.20" x2="222.70" y2="444.20" stroke="#333" stroke-width="1.1" /><path d="M219.40,403.90 L220.10,412.90 L219.40,417.90 L218.70,412.90Z" fill="#ee1c22" opacity="0.9"/><path d="M219.40,463.70 L220.10,458.70 L219.40,454.70 L218.70,458.70Z" fill="#ee1c22" opacity="0.9"/><path d="M241.50,403.90 L241.72,404.65 L241.95,405.39 L242.05,406.14 L242.05,406.89 L242.05,407.64 L242.05,408.38 L242.05,409.13 L242.05,409.88 L242.05,410.63 L242.05,411.38 L242.05,412.12 L242.05,412.87 L242.05,413.62 L242.05,414.36 L242.05,415.11 L242.05,415.86 L242.05,416.61 L242.05,417.35 L242.05,418.10 L242.05,418.85 L242.05,419.60 L242.05,420.34 L242.14,421.09 L242.25,421.84 L242.37,422.59 L242.51,423.33 L242.67,424.08 L242.85,424.83 L243.04,425.58 L243.26,426.32 L243.49,427.07 L243.74,427.82 L244.02,428.57 L244.31,429.31 L244.62,430.06 L244.95,430.81 L245.29,431.56 L245.65,432.31 L246.02,433.05 L246.40,433.80 L246.78,434.55 L247.17,435.29 L247.55,436.04 L247.92,436.79 L248.29,437.54 L248.64,438.28 L248.97,439.03 L249.28,439.78 L249.56,440.53 L249.81,441.27 L250.03,442.02 L250.21,442.77 L250.34,443.52 L250.44,444.26 L250.49,445.01 L250.49,445.76 L250.39,446.51 L250.16,447.25 L249.83,448.00 L249.40,448.75 L248.89,449.50 L248.32,450.25 L247.70,450.99 L247.07,451.74 L246.43,452.49 L245.80,453.24 L245.20,453.98 L244.64,454.73 L244.13,455.48 L243.68,456.22 L243.27,456.97 L242.92,457.72 L242.63,458.47 L242.38,459.21 L242.18,459.96 L242.05,460.71 L242.05,461.46 L241.95,462.20 L241.72,462.95 L241.65,463.70 L241.35,463.70 L241.28,462.95 L241.05,462.20 L240.95,461.46 L240.95,460.71 L240.82,459.96 L240.62,459.21 L240.37,458.47 L240.08,457.72 L239.73,456.97 L239.32,456.22 L238.87,455.48 L238.36,454.73 L237.80,453.98 L237.20,453.24 L236.57,452.49 L235.93,451.74 L235.30,450.99 L234.68,450.25 L234.11,449.50 L233.60,448.75 L233.17,448.00 L232.84,447.25 L232.61,446.51 L232.51,445.76 L232.51,445.01 L232.56,444.26 L232.66,443.52 L232.79,442.77 L232.97,442.02 L233.19,441.27 L233.44,440.53 L233.72,439.78 L234.03,439.03 L234.36,438.28 L234.71,437.54 L235.08,436.79 L235.45,436.04 L235.83,435.29 L236.22,434.55 L236.60,433.80 L236.98,433.05 L237.35,432.31 L237.71,431.56 L238.05,430.81 L238.38,430.06 L238.69,429.31 L238.98,428.57 L239.26,427.82 L239.51,427.07 L239.74,426.32 L239.96,425.58 L240.15,424.83 L240.33,424.08 L240.49,423.33 L240.63,422.59 L240.75,421.84 L240.86,421.09 L240.95,420.34 L240.95,419.60 L240.95,418.85 L240.95,418.10 L240.95,417.35 L240.95,416.61 L240.95,415.86 L240.95,415.11 L240.95,414.36 L240.95,413.62 L240.95,412.87 L240.95,412.12 L240.95,411.38 L240.95,410.63 L240.95,409.88 L240.95,409.13 L240.95,408.38 L240.95,407.64 L240.95,406.89 L240.95,406.14 L241.05,405.39 L241.28,404.65 L241.50,403.90Z" fill="none" stroke="#ee1c22" stroke-width="0.9" stroke-linejoin="round"/><line x1="241.50" y1="415.90" x2="241.50" y2="460.70" stroke="#4a4a4a" stroke-width="0.8" /><rect x="238.20" y="437.20" width="6.6" height="12.20" fill="#f26464" stroke="#333" stroke-width="0.8"/><line x1="238.20" y1="443.40" x2="244.80" y2="443.40" stroke="#333" stroke-width="1.1" /><path d="M241.50,403.90 L242.20,412.90 L241.50,417.90 L240.80,412.90Z" fill="#ee1c22" opacity="0.9"/><path d="M241.50,463.70 L242.20,458.70 L241.50,454.70 L240.80,458.70Z" fill="#ee1c22" opacity="0.9"/><path d="M263.30,403.90 L263.52,404.65 L263.75,405.39 L263.85,406.14 L263.85,406.89 L263.85,407.64 L263.85,408.38 L263.85,409.13 L263.85,409.88 L263.85,410.63 L263.85,411.38 L263.85,412.12 L263.85,412.87 L263.85,413.62 L263.85,414.36 L263.85,415.11 L263.85,415.86 L263.85,416.61 L263.85,417.35 L263.85,418.10 L263.85,418.85 L263.85,419.60 L263.85,420.34 L263.90,421.09 L264.01,421.84 L264.12,422.59 L264.26,423.33 L264.41,424.08 L264.57,424.83 L264.76,425.58 L264.96,426.32 L265.18,427.07 L265.42,427.82 L265.68,428.57 L265.95,429.31 L266.25,430.06 L266.56,430.81 L266.88,431.56 L267.22,432.31 L267.57,433.05 L267.93,433.80 L268.29,434.55 L268.65,435.29 L269.01,436.04 L269.37,436.79 L269.71,437.54 L270.04,438.28 L270.36,439.03 L270.65,439.78 L270.92,440.53 L271.15,441.27 L271.36,442.02 L271.52,442.77 L271.65,443.52 L271.74,444.26 L271.79,445.01 L271.79,445.76 L271.69,446.51 L271.48,447.25 L271.17,448.00 L270.76,448.75 L270.28,449.50 L269.74,450.25 L269.16,450.99 L268.56,451.74 L267.95,452.49 L267.36,453.24 L266.80,453.98 L266.27,454.73 L265.79,455.48 L265.35,456.22 L264.97,456.97 L264.65,457.72 L264.37,458.47 L264.13,459.21 L263.94,459.96 L263.85,460.71 L263.85,461.46 L263.75,462.20 L263.52,462.95 L263.44,463.70 L263.16,463.70 L263.08,462.95 L262.85,462.20 L262.75,461.46 L262.75,460.71 L262.66,459.96 L262.47,459.21 L262.23,458.47 L261.95,457.72 L261.63,456.97 L261.25,456.22 L260.81,455.48 L260.33,454.73 L259.80,453.98 L259.24,453.24 L258.65,452.49 L258.04,451.74 L257.44,450.99 L256.86,450.25 L256.32,449.50 L255.84,448.75 L255.43,448.00 L255.12,447.25 L254.91,446.51 L254.81,445.76 L254.81,445.01 L254.86,444.26 L254.95,443.52 L255.08,442.77 L255.24,442.02 L255.45,441.27 L255.68,440.53 L255.95,439.78 L256.24,439.03 L256.56,438.28 L256.89,437.54 L257.23,436.79 L257.59,436.04 L257.95,435.29 L258.31,434.55 L258.67,433.80 L259.03,433.05 L259.38,432.31 L259.72,431.56 L260.04,430.81 L260.35,430.06 L260.65,429.31 L260.92,428.57 L261.18,427.82 L261.42,427.07 L261.64,426.32 L261.84,425.58 L262.03,424.83 L262.19,424.08 L262.34,423.33 L262.48,422.59 L262.59,421.84 L262.70,421.09 L262.75,420.34 L262.75,419.60 L262.75,418.85 L262.75,418.10 L262.75,417.35 L262.75,416.61 L262.75,415.86 L262.75,415.11 L262.75,414.36 L262.75,413.62 L262.75,412.87 L262.75,412.12 L262.75,411.38 L262.75,410.63 L262.75,409.88 L262.75,409.13 L262.75,408.38 L262.75,407.64 L262.75,406.89 L262.75,406.14 L262.85,405.39 L263.08,404.65 L263.30,403.90Z" fill="none" stroke="#ee1c22" stroke-width="0.9" stroke-linejoin="round"/><line x1="263.30" y1="415.90" x2="263.30" y2="460.70" stroke="#4a4a4a" stroke-width="0.8" /><rect x="260.00" y="436.40" width="6.6" height="12.00" fill="#f26464" stroke="#333" stroke-width="0.8"/><line x1="260.00" y1="443.40" x2="266.60" y2="443.40" stroke="#333" stroke-width="1.1" /><path d="M263.30,403.90 L264.00,412.90 L263.30,417.90 L262.60,412.90Z" fill="#ee1c22" opacity="0.9"/><path d="M263.30,463.70 L264.00,458.70 L263.30,454.70 L262.60,458.70Z" fill="#ee1c22" opacity="0.9"/><path d="M285.20,403.90 L285.42,404.65 L285.65,405.39 L285.75,406.14 L285.75,406.89 L285.75,407.64 L285.75,408.38 L285.75,409.13 L285.75,409.88 L285.75,410.63 L285.75,411.38 L285.75,412.12 L285.75,412.87 L285.75,413.62 L285.75,414.36 L285.75,415.11 L285.75,415.86 L285.75,416.61 L285.75,417.35 L285.75,418.10 L285.75,418.85 L285.75,419.60 L285.77,420.34 L285.87,421.09 L285.98,421.84 L286.11,422.59 L286.26,423.33 L286.42,424.08 L286.59,424.83 L286.79,425.58 L287.00,426.32 L287.24,427.07 L287.49,427.82 L287.76,428.57 L288.05,429.31 L288.35,430.06 L288.67,430.81 L289.01,431.56 L289.35,432.31 L289.71,433.05 L290.07,433.80 L290.43,434.55 L290.79,435.29 L291.15,436.04 L291.50,436.79 L291.84,437.54 L292.16,438.28 L292.46,439.03 L292.73,439.78 L292.98,440.53 L293.19,441.27 L293.37,442.02 L293.51,442.77 L293.62,443.52 L293.68,444.26 L293.70,445.01 L293.64,445.76 L293.46,446.51 L293.18,447.25 L292.80,448.00 L292.35,448.75 L291.82,449.50 L291.25,450.25 L290.66,450.99 L290.05,451.74 L289.45,452.49 L288.88,453.24 L288.34,453.98 L287.84,454.73 L287.39,455.48 L286.99,456.22 L286.65,456.97 L286.35,457.72 L286.11,458.47 L285.90,459.21 L285.75,459.96 L285.75,460.71 L285.75,461.46 L285.65,462.20 L285.42,462.95 L285.31,463.70 L285.09,463.70 L284.98,462.95 L284.75,462.20 L284.65,461.46 L284.65,460.71 L284.65,459.96 L284.50,459.21 L284.29,458.47 L284.05,457.72 L283.75,456.97 L283.41,456.22 L283.01,455.48 L282.56,454.73 L282.06,453.98 L281.52,453.24 L280.95,452.49 L280.35,451.74 L279.74,450.99 L279.15,450.25 L278.58,449.50 L278.05,448.75 L277.60,448.00 L277.22,447.25 L276.94,446.51 L276.76,445.76 L276.70,445.01 L276.72,444.26 L276.78,443.52 L276.89,442.77 L277.03,442.02 L277.21,441.27 L277.42,440.53 L277.67,439.78 L277.94,439.03 L278.24,438.28 L278.56,437.54 L278.90,436.79 L279.25,436.04 L279.61,435.29 L279.97,434.55 L280.33,433.80 L280.69,433.05 L281.05,432.31 L281.39,431.56 L281.73,430.81 L282.05,430.06 L282.35,429.31 L282.64,428.57 L282.91,427.82 L283.16,427.07 L283.40,426.32 L283.61,425.58 L283.81,424.83 L283.98,424.08 L284.14,423.33 L284.29,422.59 L284.42,421.84 L284.53,421.09 L284.63,420.34 L284.65,419.60 L284.65,418.85 L284.65,418.10 L284.65,417.35 L284.65,416.61 L284.65,415.86 L284.65,415.11 L284.65,414.36 L284.65,413.62 L284.65,412.87 L284.65,412.12 L284.65,411.38 L284.65,410.63 L284.65,409.88 L284.65,409.13 L284.65,408.38 L284.65,407.64 L284.65,406.89 L284.65,406.14 L284.75,405.39 L284.98,404.65 L285.20,403.90Z" fill="none" stroke="#ee1c22" stroke-width="0.9" stroke-linejoin="round"/><line x1="285.20" y1="415.90" x2="285.20" y2="460.70" stroke="#4a4a4a" stroke-width="0.8" /><rect x="281.90" y="436.20" width="6.6" height="12.00" fill="#f26464" stroke="#333" stroke-width="0.8"/><line x1="281.90" y1="442.80" x2="288.50" y2="442.80" stroke="#333" stroke-width="1.1" /><path d="M285.20,403.90 L285.90,412.90 L285.20,417.90 L284.50,412.90Z" fill="#ee1c22" opacity="0.9"/><path d="M285.20,463.70 L285.90,458.70 L285.20,454.70 L284.50,458.70Z" fill="#ee1c22" opacity="0.9"/><path d="M307.11,403.90 L307.32,404.65 L307.55,405.39 L307.65,406.14 L307.65,406.89 L307.65,407.64 L307.65,408.38 L307.65,409.13 L307.65,409.88 L307.65,410.63 L307.65,411.38 L307.65,412.12 L307.65,412.87 L307.65,413.62 L307.65,414.36 L307.65,415.11 L307.65,415.86 L307.65,416.61 L307.65,417.35 L307.66,418.10 L307.75,418.85 L307.86,419.60 L307.98,420.34 L308.12,421.09 L308.27,421.84 L308.43,422.59 L308.62,423.33 L308.82,424.08 L309.03,424.83 L309.26,425.58 L309.51,426.32 L309.78,427.07 L310.05,427.82 L310.34,428.57 L310.64,429.31 L310.95,430.06 L311.27,430.81 L311.59,431.56 L311.91,432.31 L312.23,433.05 L312.54,433.80 L312.84,434.55 L313.13,435.29 L313.40,436.04 L313.65,436.79 L313.88,437.54 L314.08,438.28 L314.25,439.03 L314.39,439.78 L314.50,440.53 L314.57,441.27 L314.60,442.02 L314.58,442.77 L314.49,443.52 L314.32,444.26 L314.07,445.01 L313.75,445.76 L313.38,446.51 L312.97,447.25 L312.52,448.00 L312.05,448.75 L311.57,449.50 L311.09,450.25 L310.62,450.99 L310.18,451.74 L309.76,452.49 L309.37,453.24 L309.02,453.98 L308.70,454.73 L308.42,455.48 L308.18,456.22 L307.97,456.97 L307.80,457.72 L307.65,458.47 L307.65,459.21 L307.65,459.96 L307.65,460.71 L307.65,461.46 L307.55,462.20 L307.32,462.95 L307.18,463.70 L307.02,463.70 L306.88,462.95 L306.65,462.20 L306.55,461.46 L306.55,460.71 L306.55,459.96 L306.55,459.21 L306.55,458.47 L306.40,457.72 L306.23,456.97 L306.02,456.22 L305.78,455.48 L305.50,454.73 L305.18,453.98 L304.83,453.24 L304.44,452.49 L304.02,451.74 L303.58,450.99 L303.11,450.25 L302.63,449.50 L302.15,448.75 L301.68,448.00 L301.23,447.25 L300.82,446.51 L300.45,445.76 L300.13,445.01 L299.88,444.26 L299.71,443.52 L299.62,442.77 L299.60,442.02 L299.63,441.27 L299.70,440.53 L299.81,439.78 L299.95,439.03 L300.12,438.28 L300.32,437.54 L300.55,436.79 L300.80,436.04 L301.07,435.29 L301.36,434.55 L301.66,433.80 L301.97,433.05 L302.29,432.31 L302.61,431.56 L302.93,430.81 L303.25,430.06 L303.56,429.31 L303.86,428.57 L304.15,427.82 L304.42,427.07 L304.69,426.32 L304.94,425.58 L305.17,424.83 L305.38,424.08 L305.58,423.33 L305.77,422.59 L305.93,421.84 L306.08,421.09 L306.22,420.34 L306.34,419.60 L306.45,418.85 L306.54,418.10 L306.55,417.35 L306.55,416.61 L306.55,415.86 L306.55,415.11 L306.55,414.36 L306.55,413.62 L306.55,412.87 L306.55,412.12 L306.55,411.38 L306.55,410.63 L306.55,409.88 L306.55,409.13 L306.55,408.38 L306.55,407.64 L306.55,406.89 L306.55,406.14 L306.65,405.39 L306.88,404.65 L307.09,403.90Z" fill="none" stroke="#ee1c22" stroke-width="0.9" stroke-linejoin="round"/><line x1="307.10" y1="415.90" x2="307.10" y2="460.70" stroke="#4a4a4a" stroke-width="0.8" /><rect x="303.80" y="432.40" width="6.6" height="13.80" fill="#f26464" stroke="#333" stroke-width="0.8"/><line x1="303.80" y1="439.80" x2="310.40" y2="439.80" stroke="#333" stroke-width="1.1" /><path d="M307.10,403.90 L307.80,412.90 L307.10,417.90 L306.40,412.90Z" fill="#ee1c22" opacity="0.9"/><path d="M307.10,463.70 L307.80,458.70 L307.10,454.70 L306.40,458.70Z" fill="#ee1c22" opacity="0.9"/><rect x="43.90" y="474.80" width="22.45" height="22.10" fill="#aac4ff"/><rect x="66.05" y="474.80" width="22.35" height="22.10" fill="#90a9e4"/><rect x="88.10" y="474.80" width="22.20" height="22.10" fill="#9ab3ee"/><rect x="110.00" y="474.80" width="22.30" height="22.10" fill="#889fd9"/><rect x="132.00" y="474.80" width="22.50" height="22.10" fill="#96aeea"/><rect x="43.90" y="496.60" width="22.45" height="22.40" fill="#7b95d0"/><rect x="66.05" y="496.60" width="22.35" height="22.40" fill="#6580bd"/><rect x="88.10" y="496.60" width="22.20" height="22.40" fill="#6f88c5"/><rect x="110.00" y="496.60" width="22.30" height="22.40" fill="#6178b4"/><rect x="132.00" y="496.60" width="22.50" height="22.40" fill="#5b74b0"/><rect x="43.90" y="518.70" width="22.45" height="22.40" fill="#5f78b6"/><rect x="66.05" y="518.70" width="22.35" height="22.40" fill="#4d65a2"/><rect x="88.10" y="518.70" width="22.20" height="22.40" fill="#5068a6"/><rect x="110.00" y="518.70" width="22.30" height="22.40" fill="#5670ad"/><rect x="132.00" y="518.70" width="22.50" height="22.40" fill="#546dab"/><rect x="43.90" y="540.80" width="22.45" height="22.10" fill="#485f9e"/><rect x="66.05" y="540.80" width="22.35" height="22.10" fill="#30487f"/><rect x="88.10" y="540.80" width="22.20" height="22.10" fill="#3a5290"/><rect x="110.00" y="540.80" width="22.30" height="22.10" fill="#354d8c"/><rect x="132.00" y="540.80" width="22.50" height="22.10" fill="#314a88"/><rect x="43.90" y="562.60" width="22.45" height="22.30" fill="#10356b"/><rect x="66.05" y="562.60" width="22.35" height="22.30" fill="#0c3268"/><rect x="88.10" y="562.60" width="22.20" height="22.30" fill="#0a2f66"/><rect x="110.00" y="562.60" width="22.30" height="22.30" fill="#052c63"/><rect x="132.00" y="562.60" width="22.50" height="22.30" fill="#103769"/><line x1="42.00" y1="473.20" x2="42.00" y2="586.00" stroke="#8c8c8c" stroke-width="0.8" /><line x1="42.00" y1="586.00" x2="156.00" y2="586.00" stroke="#8c8c8c" stroke-width="0.8" /><line x1="39.20" y1="485.70" x2="42.00" y2="485.70" stroke="#8c8c8c" stroke-width="0.8" /><text x="36.40" y="488.80" font-size="8.0" text-anchor="end" fill="#231f20" color="#231f20" stroke-width="0.12" font-weight="normal" >5th</text><line x1="39.20" y1="507.65" x2="42.00" y2="507.65" stroke="#8c8c8c" stroke-width="0.8" /><text x="36.40" y="510.75" font-size="8.0" text-anchor="end" fill="#231f20" color="#231f20" stroke-width="0.12" font-weight="normal" >4th</text><line x1="39.20" y1="529.75" x2="42.00" y2="529.75" stroke="#8c8c8c" stroke-width="0.8" /><text x="36.40" y="532.85" font-size="8.0" text-anchor="end" fill="#231f20" color="#231f20" stroke-width="0.12" font-weight="normal" >3rd</text><line x1="39.20" y1="551.70" x2="42.00" y2="551.70" stroke="#8c8c8c" stroke-width="0.8" /><text x="36.40" y="554.80" font-size="8.0" text-anchor="end" fill="#231f20" color="#231f20" stroke-width="0.12" font-weight="normal" >2nd</text><line x1="39.20" y1="573.60" x2="42.00" y2="573.60" stroke="#8c8c8c" stroke-width="0.8" /><text x="36.40" y="576.70" font-size="8.0" text-anchor="end" fill="#231f20" color="#231f20" stroke-width="0.12" font-weight="normal" >1st</text><line x1="54.97" y1="586.00" x2="54.97" y2="588.80" stroke="#8c8c8c" stroke-width="0.8" /><text x="54.97" y="598.80" font-size="8.0" text-anchor="middle" fill="#231f20" color="#231f20" stroke-width="0.12" font-weight="normal" >1st</text><line x1="77.07" y1="586.00" x2="77.07" y2="588.80" stroke="#8c8c8c" stroke-width="0.8" /><text x="77.07" y="598.80" font-size="8.0" text-anchor="middle" fill="#231f20" color="#231f20" stroke-width="0.12" font-weight="normal" >2nd</text><line x1="99.05" y1="586.00" x2="99.05" y2="588.80" stroke="#8c8c8c" stroke-width="0.8" /><text x="99.05" y="598.80" font-size="8.0" text-anchor="middle" fill="#231f20" color="#231f20" stroke-width="0.12" font-weight="normal" >3rd</text><line x1="121.00" y1="586.00" x2="121.00" y2="588.80" stroke="#8c8c8c" stroke-width="0.8" /><text x="121.00" y="598.80" font-size="8.0" text-anchor="middle" fill="#231f20" color="#231f20" stroke-width="0.12" font-weight="normal" >4th</text><line x1="143.10" y1="586.00" x2="143.10" y2="588.80" stroke="#8c8c8c" stroke-width="0.8" /><text x="143.10" y="598.80" font-size="8.0" text-anchor="middle" fill="#231f20" color="#231f20" stroke-width="0.12" font-weight="normal" >5th</text><text x="99.05" y="610.20" font-size="8.0" text-anchor="middle" fill="#231f20" color="#231f20" stroke-width="0.12" font-weight="normal" >G×E-PGS × Sex</text><rect x="208.10" y="474.80" width="22.50" height="22.10" fill="#e07c6e"/><rect x="230.30" y="474.80" width="21.80" height="22.10" fill="#e48574"/><rect x="251.80" y="474.80" width="22.50" height="22.10" fill="#e68e80"/><rect x="274.00" y="474.80" width="22.40" height="22.10" fill="#e88f82"/><rect x="296.10" y="474.80" width="22.10" height="22.10" fill="#fec6c6"/><rect x="208.10" y="496.60" width="22.50" height="22.40" fill="#d15c4a"/><rect x="230.30" y="496.60" width="21.80" height="22.40" fill="#d66350"/><rect x="251.80" y="496.60" width="22.50" height="22.40" fill="#d86552"/><rect x="274.00" y="496.60" width="22.40" height="22.40" fill="#d96a57"/><rect x="296.10" y="496.60" width="22.10" height="22.40" fill="#eb978a"/><rect x="208.10" y="518.70" width="22.50" height="22.40" fill="#c54431"/><rect x="230.30" y="518.70" width="21.80" height="22.40" fill="#ca4c39"/><rect x="251.80" y="518.70" width="22.50" height="22.40" fill="#cc4f3d"/><rect x="274.00" y="518.70" width="22.40" height="22.40" fill="#ce5643"/><rect x="296.10" y="518.70" width="22.10" height="22.40" fill="#e88578"/><rect x="208.10" y="540.80" width="22.50" height="22.10" fill="#bf3a28"/><rect x="230.30" y="540.80" width="21.80" height="22.10" fill="#ba3020"/><rect x="251.80" y="540.80" width="22.50" height="22.10" fill="#c2402e"/><rect x="274.00" y="540.80" width="22.40" height="22.10" fill="#c13d2c"/><rect x="296.10" y="540.80" width="22.10" height="22.10" fill="#dc6b59"/><rect x="208.10" y="562.60" width="22.50" height="22.30" fill="#aa0000"/><rect x="230.30" y="562.60" width="21.80" height="22.30" fill="#a80000"/><rect x="251.80" y="562.60" width="22.50" height="22.30" fill="#b21a0e"/><rect x="274.00" y="562.60" width="22.40" height="22.30" fill="#b32516"/><rect x="296.10" y="562.60" width="22.10" height="22.30" fill="#c54833"/><line x1="206.20" y1="473.20" x2="206.20" y2="586.00" stroke="#8c8c8c" stroke-width="0.8" /><line x1="206.20" y1="586.00" x2="319.70" y2="586.00" stroke="#8c8c8c" stroke-width="0.8" /><line x1="203.40" y1="485.70" x2="206.20" y2="485.70" stroke="#8c8c8c" stroke-width="0.8" /><text x="200.60" y="488.80" font-size="8.0" text-anchor="end" fill="#231f20" color="#231f20" stroke-width="0.12" font-weight="normal" >5th</text><line x1="203.40" y1="507.65" x2="206.20" y2="507.65" stroke="#8c8c8c" stroke-width="0.8" /><text x="200.60" y="510.75" font-size="8.0" text-anchor="end" fill="#231f20" color="#231f20" stroke-width="0.12" font-weight="normal" >4th</text><line x1="203.40" y1="529.75" x2="206.20" y2="529.75" stroke="#8c8c8c" stroke-width="0.8" /><text x="200.60" y="532.85" font-size="8.0" text-anchor="end" fill="#231f20" color="#231f20" stroke-width="0.12" font-weight="normal" >3rd</text><line x1="203.40" y1="551.70" x2="206.20" y2="551.70" stroke="#8c8c8c" stroke-width="0.8" /><text x="200.60" y="554.80" font-size="8.0" text-anchor="end" fill="#231f20" color="#231f20" stroke-width="0.12" font-weight="normal" >2nd</text><line x1="203.40" y1="573.60" x2="206.20" y2="573.60" stroke="#8c8c8c" stroke-width="0.8" /><text x="200.60" y="576.70" font-size="8.0" text-anchor="end" fill="#231f20" color="#231f20" stroke-width="0.12" font-weight="normal" >1st</text><line x1="219.20" y1="586.00" x2="219.20" y2="588.80" stroke="#8c8c8c" stroke-width="0.8" /><text x="219.20" y="598.80" font-size="8.0" text-anchor="middle" fill="#231f20" color="#231f20" stroke-width="0.12" font-weight="normal" >1st</text><line x1="241.05" y1="586.00" x2="241.05" y2="588.80" stroke="#8c8c8c" stroke-width="0.8" /><text x="241.05" y="598.80" font-size="8.0" text-anchor="middle" fill="#231f20" color="#231f20" stroke-width="0.12" font-weight="normal" >2nd</text><line x1="262.90" y1="586.00" x2="262.90" y2="588.80" stroke="#8c8c8c" stroke-width="0.8" /><text x="262.90" y="598.80" font-size="8.0" text-anchor="middle" fill="#231f20" color="#231f20" stroke-width="0.12" font-weight="normal" >3rd</text><line x1="285.05" y1="586.00" x2="285.05" y2="588.80" stroke="#8c8c8c" stroke-width="0.8" /><text x="285.05" y="598.80" font-size="8.0" text-anchor="middle" fill="#231f20" color="#231f20" stroke-width="0.12" font-weight="normal" >4th</text><line x1="307.00" y1="586.00" x2="307.00" y2="588.80" stroke="#8c8c8c" stroke-width="0.8" /><text x="307.00" y="598.80" font-size="8.0" text-anchor="middle" fill="#231f20" color="#231f20" stroke-width="0.12" font-weight="normal" >5th</text><text x="263.00" y="610.20" font-size="8.0" text-anchor="middle" fill="#231f20" color="#231f20" stroke-width="0.12" font-weight="normal" >G×E-PGS × Sex</text><text x="0" y="0" font-size="7.8" fill="#231f20" text-anchor="middle" transform="translate(17.1,530.4) rotate(-90)">Marginal-PGS</text><text x="0" y="0" font-size="7.8" fill="#231f20" text-anchor="middle" transform="translate(179.79999999999998,530.4) rotate(-90)">Marginal-PGS</text><text x="162.00" y="628.30" font-size="7.8" text-anchor="end" fill="#231f20" color="#231f20" stroke-width="0.12" font-weight="normal" >BMI, BBJ1</text><path d="M162.90,626.00 L169.60,626.00 M167.70,624.30 L169.90,626.00 L167.70,627.70" fill="none" stroke="#231f20" stroke-width="0.6"/><text x="169.70" y="628.30" font-size="7.8" text-anchor="start" fill="#231f20" color="#231f20" stroke-width="0.12" font-weight="normal" >J-MICC/HERPACC</text><defs><linearGradient id="gBl" x1="0" x2="1"><stop offset="0" stop-color="#082a64"/><stop offset="0.5" stop-color="#4a64a6"/><stop offset="1" stop-color="#a8c2ff"/></linearGradient><linearGradient id="gRd" x1="0" x2="1"><stop offset="0" stop-color="#a80000"/><stop offset="0.5" stop-color="#d2584a"/><stop offset="1" stop-color="#ffd0d0"/></linearGradient></defs><rect x="79.4" y="638.7" width="76.6" height="5.6" fill="url(#gBl)" stroke="#9a9a9a" stroke-width="0.4"/><rect x="243.0" y="638.3" width="77.7" height="6.0" fill="url(#gRd)" stroke="#9a9a9a" stroke-width="0.4"/><line x1="92.90" y1="644.30" x2="92.90" y2="646.90" stroke="#555" stroke-width="0.6" /><line x1="109.70" y1="644.30" x2="109.70" y2="646.90" stroke="#555" stroke-width="0.6" /><line x1="125.80" y1="644.30" x2="125.80" y2="646.90" stroke="#555" stroke-width="0.6" /><line x1="142.50" y1="644.30" x2="142.50" y2="646.90" stroke="#555" stroke-width="0.6" /><text x="92.90" y="655.10" font-size="7.6" text-anchor="middle" fill="#231f20" color="#231f20" stroke-width="0.12" font-weight="normal" >23</text><text x="125.80" y="655.10" font-size="7.6" text-anchor="middle" fill="#231f20" color="#231f20" stroke-width="0.12" font-weight="normal" >24</text><line x1="243.60" y1="644.30" x2="243.60" y2="646.90" stroke="#555" stroke-width="0.6" /><text x="243.60" y="655.10" font-size="7.6" text-anchor="middle" fill="#231f20" color="#231f20" stroke-width="0.12" font-weight="normal" >21</text><line x1="267.70" y1="644.30" x2="267.70" y2="646.90" stroke="#555" stroke-width="0.6" /><text x="267.70" y="655.10" font-size="7.6" text-anchor="middle" fill="#231f20" color="#231f20" stroke-width="0.12" font-weight="normal" >22</text><line x1="291.80" y1="644.30" x2="291.80" y2="646.90" stroke="#555" stroke-width="0.6" /><text x="291.80" y="655.10" font-size="7.6" text-anchor="middle" fill="#231f20" color="#231f20" stroke-width="0.12" font-weight="normal" >23</text><line x1="315.90" y1="644.30" x2="315.90" y2="646.90" stroke="#555" stroke-width="0.6" /><text x="315.90" y="655.10" font-size="7.6" text-anchor="middle" fill="#231f20" color="#231f20" stroke-width="0.12" font-weight="normal" >24</text><text x="44.90" y="639.90" font-size="7.6" text-anchor="start" fill="#231f20" color="#231f20" stroke-width="0.12" font-weight="normal" >BMI</text><text x="58.90" y="642.50" font-size="5.4" text-anchor="start" fill="#231f20" color="#231f20" stroke-width="0.12" font-weight="normal" >mean</text><text x="44.90" y="648.70" font-size="7.6" text-anchor="start" fill="#231f20" color="#231f20" stroke-width="0.12" font-weight="normal" >in males</text><text x="236.20" y="640.70" font-size="7.6" text-anchor="end" fill="#231f20" color="#231f20" stroke-width="0.12" font-weight="normal" >BMI<tspan font-size="5.4" dy="2.6">mean</tspan></text><text x="236.20" y="648.90" font-size="7.6" text-anchor="end" fill="#231f20" color="#231f20" stroke-width="0.12" font-weight="normal" >in females</text><defs><g id="umapA"><path d="M362.00,273.00 C362.50,272.33 364.00,271.83 365.00,272.00 C366.00,272.17 367.23,273.00 368.00,274.00 C368.77,275.00 369.68,277.00 369.60,278.00 C369.52,279.00 368.43,279.92 367.50,280.00 C366.57,280.08 364.92,279.17 364.00,278.50 C363.08,277.83 362.33,276.92 362.00,276.00 C361.67,275.08 361.50,273.67 362.00,273.00Z"/><path d="M360.00,307.50 C360.42,306.98 361.70,306.98 362.50,307.40 C363.30,307.82 364.47,308.98 364.80,310.00 C365.13,311.02 364.97,313.00 364.50,313.50 C364.03,314.00 362.75,313.50 362.00,313.00 C361.25,312.50 360.33,311.42 360.00,310.50 C359.67,309.58 359.58,308.02 360.00,307.50Z"/><path d="M364.60,281.50 C364.88,280.87 366.32,280.70 366.70,281.20 C367.08,281.70 367.18,283.87 366.90,284.50 C366.62,285.13 365.38,285.50 365.00,285.00 C364.62,284.50 364.32,282.13 364.60,281.50Z"/><path d="M426.00,263.00 C427.50,262.47 428.12,263.22 430.00,262.80 C431.88,262.38 434.87,261.08 437.30,260.50 C439.73,259.92 442.15,259.88 444.60,259.30 C447.05,258.72 449.97,257.80 452.00,257.00 C454.03,256.20 454.78,255.23 456.80,254.50 C458.82,253.77 461.65,252.92 464.10,252.60 C466.55,252.28 469.05,252.40 471.50,252.60 C473.95,252.80 476.37,253.20 478.80,253.80 C481.23,254.40 484.07,255.18 486.10,256.20 C488.13,257.22 489.37,258.68 491.00,259.90 C492.63,261.12 494.48,262.48 495.90,263.50 C497.32,264.52 498.28,264.77 499.50,266.00 C500.72,267.23 502.18,269.28 503.20,270.90 C504.22,272.52 505.40,274.25 505.60,275.70 C505.80,277.15 505.33,278.82 504.40,279.60 C503.47,280.38 501.83,280.02 500.00,280.40 C498.17,280.78 495.73,281.38 493.40,281.90 C491.07,282.42 487.93,282.93 486.00,283.50 C484.07,284.07 483.00,284.35 481.80,285.30 C480.60,286.25 480.75,288.03 478.80,289.20 C476.85,290.37 473.50,291.78 470.10,292.30 C466.70,292.82 461.75,292.68 458.40,292.30 C455.05,291.92 452.07,291.13 450.00,290.00 C447.93,288.87 447.52,286.92 446.00,285.50 C444.48,284.08 443.57,282.58 440.90,281.50 C438.23,280.42 433.42,279.72 430.00,279.00 C426.58,278.28 422.32,278.37 420.40,277.20 C418.48,276.03 418.40,273.87 418.50,272.00 C418.60,270.13 419.75,267.50 421.00,266.00 C422.25,264.50 424.50,263.53 426.00,263.00Z"/><path d="M416.00,282.00 C417.75,280.25 421.83,280.75 425.00,280.50 C428.17,280.25 432.17,280.25 435.00,280.50 C437.83,280.75 440.17,281.25 442.00,282.00 C443.83,282.75 445.17,283.33 446.00,285.00 C446.83,286.67 446.67,289.50 447.00,292.00 C447.33,294.50 448.80,297.53 448.00,300.00 C447.20,302.47 443.98,304.85 442.20,306.80 C440.42,308.75 438.72,310.07 437.30,311.70 C435.88,313.33 435.02,315.63 433.70,316.60 C432.38,317.57 431.13,317.18 429.40,317.50 C427.67,317.82 425.13,318.17 423.30,318.50 C421.47,318.83 420.23,319.58 418.40,319.50 C416.57,319.42 413.92,318.90 412.30,318.00 C410.68,317.10 409.30,315.97 408.70,314.10 C408.10,312.23 408.10,309.43 408.70,306.80 C409.30,304.17 411.33,300.93 412.30,298.30 C413.27,295.67 413.88,293.72 414.50,291.00 C415.12,288.28 414.25,283.75 416.00,282.00Z"/><path d="M384.30,302.00 C385.22,300.38 385.48,297.72 386.70,297.10 C387.92,296.48 389.77,297.28 391.60,298.30 C393.43,299.32 395.67,301.98 397.70,303.20 C399.73,304.42 402.18,304.38 403.80,305.60 C405.42,306.82 406.58,308.67 407.40,310.50 C408.22,312.33 408.90,314.77 408.70,316.60 C408.50,318.43 407.63,320.90 406.20,321.50 C404.77,322.10 402.53,320.82 400.10,320.20 C397.67,319.58 394.23,318.20 391.60,317.80 C388.97,317.40 386.03,318.42 384.30,317.80 C382.57,317.18 381.72,315.93 381.20,314.10 C380.68,312.27 380.68,308.82 381.20,306.80 C381.72,304.78 383.38,303.62 384.30,302.00Z"/><path d="M374.50,322.10 C375.42,321.40 377.37,321.00 379.40,320.90 C381.43,320.80 384.07,321.10 386.70,321.50 C389.33,321.90 392.35,322.60 395.20,323.30 C398.05,324.00 400.95,324.98 403.80,325.70 C406.65,326.42 410.68,327.08 412.30,327.60 C413.92,328.12 414.52,328.50 413.50,328.80 C412.48,329.10 409.25,329.20 406.20,329.40 C403.15,329.60 397.23,329.08 395.20,330.00 C393.17,330.92 395.62,334.08 394.00,334.90 C392.38,335.72 388.55,335.32 385.50,334.90 C382.45,334.48 377.73,333.42 375.70,332.40 C373.67,331.38 373.60,330.02 373.30,328.80 C373.00,327.58 373.70,326.22 373.90,325.10 C374.10,323.98 373.58,322.80 374.50,322.10Z"/><path d="M450.70,305.60 C452.12,304.48 454.15,303.20 456.80,302.60 C459.45,302.00 463.35,301.80 466.60,302.00 C469.85,302.20 473.67,302.80 476.30,303.80 C478.93,304.80 480.97,306.28 482.40,308.00 C483.83,309.72 484.28,312.07 484.90,314.10 C485.52,316.13 484.68,319.18 486.10,320.20 C487.52,321.22 491.57,320.40 493.40,320.20 C495.23,320.00 496.28,318.58 497.10,319.00 C497.92,319.42 498.50,321.07 498.30,322.70 C498.10,324.33 496.92,327.18 495.90,328.80 C494.88,330.42 492.62,330.78 492.20,332.40 C491.78,334.02 493.00,336.87 493.40,338.50 C493.80,340.13 495.00,341.18 494.60,342.20 C494.20,343.22 492.62,344.20 491.00,344.60 C489.38,345.00 486.93,345.00 484.90,344.60 C482.87,344.20 480.83,343.00 478.80,342.20 C476.77,341.40 474.53,340.62 472.70,339.80 C470.87,338.98 469.43,338.32 467.80,337.30 C466.17,336.28 464.32,334.62 462.90,333.70 C461.48,332.78 461.12,332.12 459.30,331.80 C457.48,331.48 454.45,331.77 452.00,331.80 C449.55,331.83 447.27,331.87 444.60,332.00 C441.93,332.13 438.43,332.53 436.00,332.60 C433.57,332.67 431.92,332.63 430.00,332.40 C428.08,332.17 426.43,331.80 424.50,331.20 C422.57,330.60 420.23,329.20 418.40,328.80 C416.57,328.40 414.52,329.00 413.50,328.80 C412.48,328.60 411.55,328.57 412.30,327.60 C413.05,326.63 415.88,324.10 418.00,323.00 C420.12,321.90 423.00,321.47 425.00,321.00 C427.00,320.53 428.15,320.53 430.00,320.20 C431.85,319.87 433.67,320.02 436.10,319.00 C438.53,317.98 442.57,315.72 444.60,314.10 C446.63,312.48 447.28,310.72 448.30,309.30 C449.32,307.88 449.28,306.72 450.70,305.60Z"/><path d="M412.50,331.10 C413.67,329.83 416.07,329.90 418.40,329.90 C420.73,329.90 424.57,330.55 426.50,331.10 C428.43,331.65 427.47,332.78 430.00,333.20 C432.53,333.62 439.55,332.30 441.70,333.60 C443.85,334.90 442.80,338.60 442.90,341.00 C443.00,343.40 442.10,345.85 442.30,348.00 C442.50,350.15 444.58,352.43 444.10,353.90 C443.62,355.37 441.75,356.12 439.40,356.80 C437.05,357.48 432.53,357.90 430.00,358.00 C427.47,358.10 426.13,357.90 424.20,357.40 C422.27,356.90 420.53,355.78 418.40,355.00 C416.27,354.22 412.77,353.67 411.40,352.70 C410.03,351.73 410.02,350.75 410.20,349.20 C410.38,347.65 412.30,345.35 412.50,343.40 C412.70,341.45 411.40,339.55 411.40,337.50 C411.40,335.45 411.33,332.37 412.50,331.10Z"/><path d="M493.40,308.00 C494.32,307.67 498.57,308.03 499.50,308.50 C500.43,308.97 499.92,310.47 499.00,310.80 C498.08,311.13 494.93,310.97 494.00,310.50 C493.07,310.03 492.48,308.33 493.40,308.00Z"/></g><g id="umapB"><path d="M422.10,215.40 C422.90,214.68 425.28,213.90 426.30,214.10 C427.32,214.30 427.88,215.47 428.20,216.60 C428.52,217.73 428.40,219.58 428.20,220.90 C428.00,222.22 427.82,223.90 427.00,224.50 C426.18,225.10 424.32,224.90 423.30,224.50 C422.28,224.10 421.20,223.12 420.90,222.10 C420.60,221.08 421.30,219.52 421.50,218.40 C421.70,217.28 421.30,216.12 422.10,215.40Z"/><path d="M406.80,220.90 C407.42,219.98 409.57,219.22 411.10,219.00 C412.63,218.78 414.78,218.88 416.00,219.60 C417.22,220.32 418.20,221.97 418.40,223.30 C418.60,224.63 418.02,226.68 417.20,227.60 C416.38,228.52 414.72,228.90 413.50,228.80 C412.28,228.70 410.92,227.72 409.90,227.00 C408.88,226.28 407.92,225.52 407.40,224.50 C406.88,223.48 406.18,221.82 406.80,220.90Z"/><path d="M395.90,231.20 C396.72,229.68 398.38,228.30 400.10,227.60 C401.82,226.90 404.37,226.70 406.20,227.00 C408.03,227.30 410.08,228.18 411.10,229.40 C412.12,230.62 412.50,232.68 412.30,234.30 C412.10,235.92 411.32,237.88 409.90,239.10 C408.48,240.32 405.83,241.38 403.80,241.60 C401.77,241.82 399.13,241.22 397.70,240.40 C396.27,239.58 395.50,238.23 395.20,236.70 C394.90,235.17 395.08,232.72 395.90,231.20Z"/><path d="M384.30,237.90 C385.42,236.48 388.37,234.70 390.40,234.30 C392.43,233.90 395.08,234.48 396.50,235.50 C397.92,236.52 398.70,238.57 398.90,240.40 C399.10,242.23 398.72,245.08 397.70,246.50 C396.68,247.92 394.63,248.70 392.80,248.90 C390.97,249.10 388.22,248.72 386.70,247.70 C385.18,246.68 384.10,244.43 383.70,242.80 C383.30,241.17 383.18,239.32 384.30,237.90Z"/><path d="M465.40,233.00 C467.03,231.88 470.07,230.40 472.70,230.00 C475.33,229.60 478.77,230.10 481.20,230.60 C483.63,231.10 485.87,231.78 487.30,233.00 C488.73,234.22 489.80,236.47 489.80,237.90 C489.80,239.33 488.73,240.78 487.30,241.60 C485.87,242.42 483.03,242.20 481.20,242.80 C479.37,243.40 478.13,245.00 476.30,245.20 C474.47,245.40 472.23,244.60 470.20,244.00 C468.17,243.40 465.32,242.82 464.10,241.60 C462.88,240.38 462.68,238.13 462.90,236.70 C463.12,235.27 463.77,234.12 465.40,233.00Z"/><path d="M473.90,220.90 C474.82,220.60 476.97,221.00 478.80,221.50 C480.63,222.00 483.28,223.10 484.90,223.90 C486.52,224.70 488.10,225.58 488.50,226.30 C488.90,227.02 488.32,228.08 487.30,228.20 C486.28,228.32 484.02,227.52 482.40,227.00 C480.78,226.48 479.12,225.72 477.60,225.10 C476.08,224.48 473.92,224.00 473.30,223.30 C472.68,222.60 472.98,221.20 473.90,220.90Z"/><path d="M483.70,245.20 C484.72,243.98 486.88,243.00 488.50,242.80 C490.12,242.60 492.38,242.98 493.40,244.00 C494.42,245.02 495.00,247.47 494.60,248.90 C494.20,250.33 492.42,251.98 491.00,252.60 C489.58,253.22 487.53,253.02 486.10,252.60 C484.67,252.18 482.80,251.33 482.40,250.10 C482.00,248.87 482.68,246.42 483.70,245.20Z"/><path d="M499.50,252.60 C500.43,251.60 503.18,251.40 504.40,252.00 C505.62,252.60 506.37,254.60 506.80,256.20 C507.23,257.80 506.45,259.97 507.00,261.60 C507.55,263.23 509.95,264.92 510.10,266.00 C510.25,267.08 509.00,267.85 507.90,268.10 C506.80,268.35 504.60,268.40 503.50,267.50 C502.40,266.60 502.08,264.28 501.30,262.70 C500.52,261.12 499.10,259.68 498.80,258.00 C498.50,256.32 498.57,253.60 499.50,252.60Z"/><path d="M366.00,264.70 C366.53,263.93 367.72,262.97 368.70,262.90 C369.68,262.83 371.22,263.70 371.90,264.30 C372.58,264.90 372.95,265.97 372.80,266.50 C372.65,267.03 370.92,266.73 371.00,267.50 C371.08,268.27 372.30,269.88 373.30,271.10 C374.30,272.32 375.78,274.03 377.00,274.80 C378.22,275.57 379.85,275.10 380.60,275.70 C381.35,276.30 382.10,277.95 381.50,278.40 C380.90,278.85 378.37,278.70 377.00,278.40 C375.63,278.10 374.53,277.35 373.30,276.60 C372.07,275.85 370.67,274.97 369.60,273.90 C368.53,272.83 367.58,271.27 366.90,270.20 C366.22,269.13 365.65,268.42 365.50,267.50 C365.35,266.58 365.47,265.47 366.00,264.70Z"/><path d="M368.40,287.30 C369.12,285.48 371.27,284.42 373.30,283.70 C375.33,282.98 378.37,282.70 380.60,283.00 C382.83,283.30 385.48,284.17 386.70,285.50 C387.92,286.83 388.10,289.27 387.90,291.00 C387.70,292.73 386.92,294.68 385.50,295.90 C384.08,297.12 381.43,297.90 379.40,298.30 C377.37,298.70 375.03,298.92 373.30,298.30 C371.57,297.68 369.82,296.43 369.00,294.60 C368.18,292.77 367.68,289.12 368.40,287.30Z"/><path d="M425.40,362.60 C426.37,361.23 428.87,361.28 431.20,360.90 C433.53,360.52 437.25,359.92 439.40,360.30 C441.55,360.68 442.73,362.13 444.10,363.20 C445.47,364.27 446.83,365.33 447.60,366.70 C448.37,368.07 449.68,370.33 448.70,371.40 C447.72,372.47 444.03,372.72 441.70,373.10 C439.37,373.48 436.83,373.88 434.70,373.70 C432.57,373.52 430.45,372.77 428.90,372.00 C427.35,371.23 425.98,370.67 425.40,369.10 C424.82,367.53 424.43,363.97 425.40,362.60Z"/><path d="M446.40,352.70 C447.18,351.73 448.73,352.50 449.90,352.70 C451.07,352.90 452.43,353.12 453.40,353.90 C454.37,354.68 455.50,355.85 455.70,357.40 C455.90,358.95 455.38,361.85 454.60,363.20 C453.82,364.55 452.37,365.70 451.00,365.50 C449.63,365.30 447.37,363.17 446.40,362.00 C445.43,360.83 445.20,360.05 445.20,358.50 C445.20,356.95 445.62,353.67 446.40,352.70Z"/><path d="M484.30,292.20 C485.32,290.67 488.87,292.50 491.00,292.80 C493.13,293.10 495.98,292.88 497.10,294.00 C498.22,295.12 498.12,297.97 497.70,299.50 C497.28,301.03 496.13,302.48 494.60,303.20 C493.07,303.92 490.12,304.00 488.50,303.80 C486.88,303.60 485.60,303.93 484.90,302.00 C484.20,300.07 483.28,293.73 484.30,292.20Z"/><path d="M500.10,297.10 C500.82,295.88 503.18,296.50 504.40,297.10 C505.62,297.70 506.80,299.28 507.40,300.70 C508.00,302.12 508.30,304.17 508.00,305.60 C507.70,307.03 506.60,308.78 505.60,309.30 C504.60,309.82 502.92,309.52 502.00,308.70 C501.08,307.88 500.42,306.33 500.10,304.40 C499.78,302.47 499.38,298.32 500.10,297.10Z"/></g><g id="umapM"><path d="M416.90,230.80 C418.18,230.07 421.68,229.52 423.50,229.70 C425.32,229.88 426.47,232.02 427.80,231.90 C429.13,231.78 430.77,230.65 431.50,229.00 C432.23,227.35 431.72,223.88 432.20,222.00 C432.68,220.12 432.57,218.60 434.40,217.70 C436.23,216.80 441.18,216.23 443.20,216.60 C445.22,216.97 445.05,219.08 446.50,219.90 C447.95,220.72 450.08,220.87 451.90,221.50 C453.72,222.13 455.93,222.97 457.40,223.70 C458.87,224.43 459.23,225.82 460.70,225.90 C462.17,225.98 464.83,223.93 466.20,224.20 C467.57,224.47 468.90,226.13 468.90,227.50 C468.90,228.87 467.57,230.93 466.20,232.40 C464.83,233.87 462.17,235.10 460.70,236.30 C459.23,237.50 458.13,238.33 457.40,239.60 C456.67,240.87 456.12,242.63 456.30,243.90 C456.48,245.17 458.50,245.92 458.50,247.20 C458.50,248.48 457.58,250.50 456.30,251.60 C455.02,252.70 452.80,253.32 450.80,253.80 C448.80,254.28 446.30,254.05 444.30,254.50 C442.30,254.95 440.45,255.70 438.80,256.50 C437.15,257.30 436.23,258.47 434.40,259.30 C432.57,260.13 429.62,260.95 427.80,261.50 C425.98,262.05 424.58,263.33 423.50,262.60 C422.42,261.87 422.22,258.75 421.30,257.10 C420.38,255.45 419.10,253.80 418.00,252.70 C416.90,251.60 415.80,251.60 414.70,250.50 C413.60,249.40 411.58,247.55 411.40,246.10 C411.22,244.65 412.68,243.07 413.60,241.80 C414.52,240.53 416.53,239.78 416.90,238.50 C417.27,237.22 415.80,235.38 415.80,234.10 C415.80,232.82 415.62,231.53 416.90,230.80Z"/><path d="M400.50,242.50 C402.42,241.33 408.63,240.67 411.00,242.00 C413.37,243.33 413.53,248.72 414.70,250.50 C415.87,252.28 416.90,251.60 418.00,252.70 C419.10,253.80 420.38,255.45 421.30,257.10 C422.22,258.75 422.72,260.95 423.50,262.60 C424.28,264.25 425.92,265.43 426.00,267.00 C426.08,268.57 424.83,270.17 424.00,272.00 C423.17,273.83 422.67,276.75 421.00,278.00 C419.33,279.25 416.17,279.67 414.00,279.50 C411.83,279.33 409.50,278.58 408.00,277.00 C406.50,275.42 405.50,272.33 405.00,270.00 C404.50,267.67 405.50,265.33 405.00,263.00 C404.50,260.67 402.92,258.33 402.00,256.00 C401.08,253.67 399.75,251.25 399.50,249.00 C399.25,246.75 398.58,243.67 400.50,242.50Z"/><path d="M374.90,256.40 C376.12,255.70 378.80,254.48 381.30,254.30 C383.80,254.12 387.58,255.30 389.90,255.30 C392.22,255.30 393.27,254.18 395.20,254.30 C397.13,254.42 399.98,254.93 401.50,256.00 C403.02,257.07 403.95,258.85 404.30,260.70 C404.65,262.55 403.60,265.33 403.60,267.10 C403.60,268.87 404.33,269.62 404.30,271.30 C404.27,272.98 404.05,275.70 403.40,277.20 C402.75,278.70 401.77,279.40 400.40,280.30 C399.03,281.20 396.95,282.12 395.20,282.60 C393.45,283.08 391.68,283.73 389.90,283.20 C388.12,282.67 386.02,280.85 384.50,279.40 C382.98,277.95 382.13,275.90 380.80,274.50 C379.47,273.10 377.60,272.77 376.50,271.00 C375.40,269.23 374.62,265.98 374.20,263.90 C373.78,261.82 373.88,259.75 374.00,258.50 C374.12,257.25 373.68,257.10 374.90,256.40Z"/><path d="M397.00,244.00 C398.42,242.67 401.50,241.75 404.00,241.50 C406.50,241.25 410.33,241.25 412.00,242.50 C413.67,243.75 414.17,246.92 414.00,249.00 C413.83,251.08 412.67,253.50 411.00,255.00 C409.33,256.50 406.17,258.00 404.00,258.00 C401.83,258.00 399.42,256.42 398.00,255.00 C396.58,253.58 395.67,251.33 395.50,249.50 C395.33,247.67 395.58,245.33 397.00,244.00Z"/><path d="M395.20,287.30 C396.22,285.47 399.05,283.62 401.30,282.40 C403.55,281.18 405.85,280.40 408.70,280.00 C411.55,279.60 417.18,278.78 418.40,280.00 C419.62,281.22 417.02,285.27 416.00,287.30 C414.98,289.33 412.92,290.37 412.30,292.20 C411.68,294.03 412.90,296.67 412.30,298.30 C411.70,299.93 410.12,301.60 408.70,302.00 C407.28,302.40 405.43,301.52 403.80,300.70 C402.17,299.88 400.33,298.32 398.90,297.10 C397.47,295.88 395.82,295.03 395.20,293.40 C394.58,291.77 394.18,289.13 395.20,287.30Z"/></g><g id="umapcr"><polyline points="424,265.5 430,262.6 438,261.4 446,261.6 452,260.2 457,256.8 462,252.5" fill="none" stroke="#fff" stroke-width="1.6"/><polyline points="416.8,258.5 418.6,264 418.9,270 418,276" fill="none" stroke="#fff" stroke-width="1.6"/><polyline points="430,319.2 434.9,316.8 439.8,313.1 444.6,309.5 448.3,306.4 452,304" fill="none" stroke="#fff" stroke-width="1.6"/><polyline points="412,320.3 420,320.1 430,319.2" fill="none" stroke="#fff" stroke-width="1.6"/><polyline points="430,332.6 445,332.4 458,331.8" fill="none" stroke="#fff" stroke-width="1.6"/><polyline points="405.5,312 408,305 411.2,298.5 413.8,291 416.5,284" fill="none" stroke="#fff" stroke-width="1.6"/><polyline points="413,282 420,279.2 430,279.4 440,281.8 446,287" fill="none" stroke="#fff" stroke-width="1.6"/></g><g id="umapdots"><circle cx="377.9" cy="249.2" r="0.8"/><circle cx="396.2" cy="349.8" r="0.8"/><circle cx="406.1" cy="361.5" r="0.8"/><circle cx="396.5" cy="350.1" r="0.8"/><circle cx="437.5" cy="216.5" r="0.8"/></g><filter id="rough" x="-2%" y="-2%" width="104%" height="104%" color-interpolation-filters="sRGB"><feTurbulence type="fractalNoise" baseFrequency="0.55" numOctaves="2" seed="4" result="n"/><feDisplacementMap in="SourceGraphic" in2="n" scale="3.0" xChannelSelector="R" yChannelSelector="G" result="d"/><feTurbulence type="fractalNoise" baseFrequency="0.8" numOctaves="1" seed="9" result="n2"/><feColorMatrix in="n2" type="matrix" values="0 0 0 0 0  0 0 0 0 0  0 0 0 0 0  0 0 0 -18 14.40" result="m"/><feComposite in="d" in2="m" operator="in"/></filter><filter id="rough2" x="-2%" y="-2%" width="104%" height="104%" color-interpolation-filters="sRGB"><feTurbulence type="fractalNoise" baseFrequency="0.55" numOctaves="2" seed="4" result="n"/><feDisplacementMap in="SourceGraphic" in2="n" scale="3.0" xChannelSelector="R" yChannelSelector="G" result="d"/><feTurbulence type="fractalNoise" baseFrequency="0.8" numOctaves="1" seed="9" result="n2"/><feColorMatrix in="n2" type="matrix" values="0 0 0 0 0  0 0 0 0 0  0 0 0 0 0  0 0 0 -18 12.42" result="m"/><feComposite in="d" in2="m" operator="in"/></filter><filter id="roughM" x="-2%" y="-2%" width="104%" height="104%" color-interpolation-filters="sRGB"><feTurbulence type="fractalNoise" baseFrequency="0.55" numOctaves="2" seed="6" result="n"/><feDisplacementMap in="SourceGraphic" in2="n" scale="3.0" xChannelSelector="R" yChannelSelector="G" result="d"/><feTurbulence type="fractalNoise" baseFrequency="0.8" numOctaves="1" seed="11" result="n2"/><feColorMatrix in="n2" type="matrix" values="0 0 0 0 0  0 0 0 0 0  0 0 0 0 0  0 0 0 -18 13.23" result="m"/><feComposite in="d" in2="m" operator="in"/></filter></defs><g filter="url(#rough)"><g fill="#828282" transform="translate(175.6,-209.0)"><use href="#umapA"/></g></g><g filter="url(#rough2)"><g fill="#828282" transform="translate(175.6,-209.0)"><use href="#umapB"/></g></g><g filter="url(#roughM)"><g fill="#828282" transform="translate(175.6,-209.0)"><use href="#umapM"/></g></g><g filter="url(#rough)"><g transform="translate(175.6,-209.0)"><use href="#umapcr"/></g></g><g fill="#828282" transform="translate(175.6,-209.0)"><use href="#umapdots"/></g><g filter="url(#rough)"><g fill="#440154" transform="translate(0,0)"><use href="#umapA"/></g></g><g filter="url(#rough2)"><g fill="#440154" transform="translate(0,0)"><use href="#umapB"/></g></g><g filter="url(#roughM)"><g fill="#440154" transform="translate(0,0)"><use href="#umapM"/></g></g><g filter="url(#rough)"><g transform="translate(0,0)"><use href="#umapcr"/></g></g><g fill="#440154" transform="translate(0,0)"><use href="#umapdots"/></g><g filter="url(#rough)"><g fill="#440154" transform="translate(175.5,0)"><use href="#umapA"/></g></g><g filter="url(#rough2)"><g fill="#440154" transform="translate(175.5,0)"><use href="#umapB"/></g></g><g filter="url(#roughM)"><g fill="#440154" transform="translate(175.5,0)"><use href="#umapM"/></g></g><g filter="url(#rough)"><g transform="translate(175.5,0)"><use href="#umapcr"/></g></g><g fill="#440154" transform="translate(175.5,0)"><use href="#umapdots"/></g><defs><filter id="roughO" x="-5%" y="-5%" width="110%" height="110%"><feTurbulence type="fractalNoise" baseFrequency="0.7" numOctaves="2" seed="31" result="n"/><feDisplacementMap in="SourceGraphic" in2="n" scale="2.6" xChannelSelector="R" yChannelSelector="G"/></filter></defs><g filter="url(#roughO)"><path d="M631.40,46.10 C632.83,45.15 636.15,43.85 639.00,43.30 C641.85,42.75 645.65,42.65 648.50,42.80 C651.35,42.95 654.22,43.48 656.10,44.20 C657.98,44.92 657.92,46.30 659.80,47.10 C661.68,47.90 665.50,47.90 667.40,49.00 C669.30,50.10 670.08,52.28 671.20,53.70 C672.32,55.12 673.78,56.38 674.10,57.50 C674.42,58.62 672.47,59.28 673.10,60.40 C673.73,61.52 676.63,63.25 677.90,64.20 C679.17,65.15 680.38,65.00 680.70,66.10 C681.02,67.20 681.07,69.87 679.80,70.80 C678.53,71.73 674.68,70.60 673.10,71.70 C671.52,72.80 671.25,76.45 670.30,77.40 C669.35,78.35 668.67,78.18 667.40,77.40 C666.13,76.62 664.27,73.97 662.70,72.70 C661.13,71.43 659.73,71.07 658.00,69.80 C656.27,68.53 653.88,66.52 652.30,65.10 C650.72,63.68 649.93,62.40 648.50,61.30 C647.07,60.20 645.28,59.13 643.70,58.50 C642.12,57.87 640.90,57.67 639.00,57.50 C637.10,57.33 634.52,57.65 632.30,57.50 C630.08,57.35 627.43,56.92 625.70,56.60 C623.97,56.28 621.90,56.23 621.90,55.60 C621.90,54.97 623.80,53.43 625.70,52.80 C627.60,52.17 632.52,52.43 633.30,51.80 C634.08,51.17 630.72,49.95 630.40,49.00 C630.08,48.05 629.97,47.05 631.40,46.10Z" fill="#d43c2e" /><path d="M663,63 L667,62.5 L671,64.5 L668,66 L664,65.5Z" fill="#fff" opacity="0.85"/><path d="M625.70,65.10 C626.82,63.05 629.18,62.25 631.40,61.30 C633.62,60.35 636.78,59.72 639.00,59.40 C641.22,59.08 643.12,58.92 644.70,59.40 C646.28,59.88 647.23,61.18 648.50,62.30 C649.77,63.42 651.20,64.68 652.30,66.10 C653.40,67.52 654.47,69.07 655.10,70.80 C655.73,72.53 656.25,74.77 656.10,76.50 C655.95,78.23 655.15,79.78 654.20,81.20 C653.25,82.62 651.98,84.20 650.40,85.00 C648.82,85.80 646.92,86.00 644.70,86.00 C642.48,86.00 639.63,85.48 637.10,85.00 C634.57,84.52 631.40,84.05 629.50,83.10 C627.60,82.15 626.50,80.88 625.70,79.30 C624.90,77.72 624.70,75.97 624.70,73.60 C624.70,71.23 624.58,67.15 625.70,65.10Z" fill="#6c9a4a" /><path d="M605.00,57.00 C604.67,56.25 608.17,55.07 610.00,54.50 C611.83,53.93 614.00,53.75 616.00,53.60 C618.00,53.45 620.00,53.53 622.00,53.60 C624.00,53.67 626.67,53.60 628.00,54.00 C629.33,54.40 630.00,55.00 630.00,56.00 C630.00,57.00 629.00,59.00 628.00,60.00 C627.00,61.00 625.67,61.42 624.00,62.00 C622.33,62.58 619.83,63.00 618.00,63.50 C616.17,64.00 614.33,65.08 613.00,65.00 C611.67,64.92 610.17,64.00 610.00,63.00 C609.83,62.00 612.83,60.00 612.00,59.00 C611.17,58.00 605.33,57.75 605.00,57.00Z" fill="#ece37a" /><path d="M596.60,62.00 C597.10,60.83 598.60,59.75 600.00,59.00 C601.40,58.25 603.33,57.83 605.00,57.50 C606.67,57.17 608.50,56.92 610.00,57.00 C611.50,57.08 613.33,57.00 614.00,58.00 C614.67,59.00 614.50,61.58 614.00,63.00 C613.50,64.42 612.33,65.58 611.00,66.50 C609.67,67.42 607.83,68.25 606.00,68.50 C604.17,68.75 601.50,68.42 600.00,68.00 C598.50,67.58 597.57,67.00 597.00,66.00 C596.43,65.00 596.10,63.17 596.60,62.00Z" fill="#3d6a8e" /><path d="M612.40,64.50 C613.40,63.50 617.73,63.25 620.00,62.50 C622.27,61.75 624.17,60.75 626.00,60.00 C627.83,59.25 629.83,58.00 631.00,58.00 C632.17,58.00 633.50,59.00 633.00,60.00 C632.50,61.00 630.17,62.83 628.00,64.00 C625.83,65.17 622.33,66.25 620.00,67.00 C617.67,67.75 615.27,68.92 614.00,68.50 C612.73,68.08 611.40,65.50 612.40,64.50Z" fill="#d43c2e" /><path d="M608.00,49.00 C608.18,48.20 608.83,47.35 610.00,47.10 C611.17,46.85 613.58,47.65 615.00,47.50 C616.42,47.35 617.47,46.57 618.50,46.20 C619.53,45.83 619.88,45.38 621.20,45.30 C622.52,45.22 625.17,45.33 626.40,45.70 C627.63,46.07 628.45,46.68 628.60,47.50 C628.75,48.32 628.10,49.80 627.30,50.60 C626.50,51.40 625.27,52.08 623.80,52.30 C622.33,52.52 620.25,51.90 618.50,51.90 C616.75,51.90 614.90,52.30 613.30,52.30 C611.70,52.30 609.78,52.45 608.90,51.90 C608.02,51.35 607.82,49.80 608.00,49.00Z" fill="#c9622f" /><path d="M620.00,46.00 C620.75,45.03 623.58,45.03 625.00,45.20 C626.42,45.37 628.00,46.03 628.50,47.00 C629.00,47.97 628.75,50.03 628.00,51.00 C627.25,51.97 625.25,52.80 624.00,52.80 C622.75,52.80 621.17,52.13 620.50,51.00 C619.83,49.87 619.25,46.97 620.00,46.00Z" fill="#c9622f" /><path d="M648.50,39.50 C649.00,38.77 650.58,37.85 652.00,37.60 C653.42,37.35 655.50,37.68 657.00,38.00 C658.50,38.32 659.73,39.00 661.00,39.50 C662.27,40.00 664.27,40.22 664.60,41.00 C664.93,41.78 664.10,43.78 663.00,44.20 C661.90,44.62 659.67,43.70 658.00,43.50 C656.33,43.30 654.50,43.25 653.00,43.00 C651.50,42.75 649.75,42.58 649.00,42.00 C648.25,41.42 648.00,40.23 648.50,39.50Z" fill="#6c9a4a" /><path d="M674.50,41.40 C675.32,40.70 677.83,41.20 679.00,41.80 C680.17,42.40 681.00,43.63 681.50,45.00 C682.00,46.37 681.50,48.67 682.00,50.00 C682.50,51.33 684.17,51.75 684.50,53.00 C684.83,54.25 684.83,56.58 684.00,57.50 C683.17,58.42 680.67,58.92 679.50,58.50 C678.33,58.08 677.67,56.42 677.00,55.00 C676.33,53.58 675.98,51.50 675.50,50.00 C675.02,48.50 674.27,47.43 674.10,46.00 C673.93,44.57 673.68,42.10 674.50,41.40Z" fill="#6c9a4a" /><ellipse cx="566.2" cy="32" rx="7.6" ry="7" fill="#c9622f"/><path d="M598.90,4.90 C599.52,4.50 601.28,3.90 602.00,4.30 C602.72,4.70 603.10,6.18 603.20,7.30 C603.30,8.42 602.50,9.88 602.60,11.00 C602.70,12.12 604.22,13.40 603.80,14.00 C603.38,14.60 601.32,14.60 600.10,14.60 C598.88,14.60 597.20,14.50 596.50,14.00 C595.80,13.50 595.60,12.30 595.90,11.60 C596.20,10.90 597.90,10.62 598.30,9.80 C598.70,8.98 598.20,7.52 598.30,6.70 C598.40,5.88 598.28,5.30 598.90,4.90Z" fill="#c9622f" /><path d="M564.00,73.50 C565.00,72.92 568.33,72.92 570.00,73.00 C571.67,73.08 573.50,73.33 574.00,74.00 C574.50,74.67 574.17,76.42 573.00,77.00 C571.83,77.58 568.50,77.58 567.00,77.50 C565.50,77.42 564.50,77.17 564.00,76.50 C563.50,75.83 563.00,74.08 564.00,73.50Z" fill="#c9622f" /><path d="M658.00,71.70 C658.25,70.95 660.07,71.20 661.00,71.50 C661.93,71.80 663.27,72.67 663.60,73.50 C663.93,74.33 663.68,76.08 663.00,76.50 C662.32,76.92 660.33,76.80 659.50,76.00 C658.67,75.20 657.75,72.45 658.00,71.70Z" fill="#c9622f" /><path d="M652.30,70.00 C652.80,69.55 655.05,69.55 656.00,69.80 C656.95,70.05 658.00,71.02 658.00,71.50 C658.00,71.98 656.83,72.53 656.00,72.70 C655.17,72.87 653.62,72.95 653.00,72.50 C652.38,72.05 651.80,70.45 652.30,70.00Z" fill="#ece37a" /><path d="M658.90,77.00 C659.23,76.50 660.90,76.25 662.00,76.50 C663.10,76.75 665.08,77.95 665.50,78.50 C665.92,79.05 665.42,79.63 664.50,79.80 C663.58,79.97 660.93,79.97 660.00,79.50 C659.07,79.03 658.57,77.50 658.90,77.00Z" fill="#4b55f2" /><rect x="630.4" y="62.3" width="2.9" height="3.8" fill="#4b55f2"/><rect x="634.2" y="68" width="3.5" height="2.5" fill="#4b55f2"/><rect x="636.5" y="66.5" width="2" height="2.5" fill="#4b55f2"/><rect x="633.3" y="73.6" width="2.8" height="1.9" fill="#4b55f2"/><rect x="575" y="45" width="1.5" height="1.5" fill="#4b55f2"/><rect x="657.5" y="81.2" width="2.3" height="1.9" fill="#d43c2e"/><rect x="617.23" y="54.23" width="1.20" height="1.20" fill="#d43c2e"/><rect x="599.41" y="61.48" width="1.20" height="1.20" fill="#d43c2e"/><rect x="609.78" y="56.62" width="1.20" height="1.20" fill="#d43c2e"/><rect x="609.98" y="64.94" width="1.20" height="1.20" fill="#ece37a"/><rect x="615.06" y="54.08" width="1.20" height="1.20" fill="#d43c2e"/><rect x="597.89" y="65.39" width="1.20" height="1.20" fill="#3d6a8e"/><rect x="609.81" y="60.88" width="1.20" height="1.20" fill="#d43c2e"/><rect x="606.27" y="64.79" width="1.20" height="1.20" fill="#ece37a"/><rect x="599.70" y="61.31" width="1.20" height="1.20" fill="#ece37a"/><rect x="608.32" y="60.98" width="1.20" height="1.20" fill="#ece37a"/><rect x="614.46" y="61.99" width="1.20" height="1.20" fill="#3d6a8e"/><rect x="618.17" y="59.27" width="1.20" height="1.20" fill="#3d6a8e"/><rect x="607.97" y="56.73" width="1.20" height="1.20" fill="#ece37a"/><rect x="618.77" y="56.67" width="1.20" height="1.20" fill="#d43c2e"/><rect x="606.01" y="60.23" width="1.20" height="1.20" fill="#3d6a8e"/><rect x="619.74" y="57.29" width="1.20" height="1.20" fill="#ece37a"/><rect x="600.18" y="59.14" width="1.20" height="1.20" fill="#3d6a8e"/><rect x="601.26" y="60.14" width="1.20" height="1.20" fill="#ece37a"/><rect x="627.18" y="54.30" width="1.20" height="1.20" fill="#d43c2e"/><rect x="606.44" y="63.07" width="1.20" height="1.20" fill="#d43c2e"/><rect x="612.29" y="64.52" width="1.20" height="1.20" fill="#ece37a"/><rect x="611.57" y="62.63" width="1.20" height="1.20" fill="#ece37a"/><rect x="619.80" y="57.60" width="1.20" height="1.20" fill="#d43c2e"/><rect x="605.51" y="58.68" width="1.20" height="1.20" fill="#6c9a4a"/><rect x="607.77" y="61.88" width="1.20" height="1.20" fill="#3d6a8e"/><rect x="598.29" y="64.11" width="1.20" height="1.20" fill="#ece37a"/><rect x="620.03" y="58.85" width="1.20" height="1.20" fill="#3d6a8e"/><rect x="605.31" y="59.10" width="1.20" height="1.20" fill="#3d6a8e"/><rect x="618.25" y="58.60" width="1.20" height="1.20" fill="#ece37a"/><rect x="611.92" y="61.57" width="1.20" height="1.20" fill="#3d6a8e"/><rect x="613.51" y="61.86" width="1.20" height="1.20" fill="#3d6a8e"/><rect x="612.90" y="61.97" width="1.20" height="1.20" fill="#6c9a4a"/><rect x="620.07" y="59.68" width="1.20" height="1.20" fill="#6c9a4a"/><rect x="621.93" y="58.77" width="1.20" height="1.20" fill="#3d6a8e"/><rect x="609.01" y="60.04" width="1.20" height="1.20" fill="#3d6a8e"/><rect x="616.05" y="55.31" width="1.20" height="1.20" fill="#3d6a8e"/><rect x="611.57" y="54.84" width="1.20" height="1.20" fill="#3d6a8e"/><rect x="611.88" y="54.42" width="1.20" height="1.20" fill="#ece37a"/><rect x="611.72" y="63.03" width="1.20" height="1.20" fill="#d43c2e"/><rect x="613.30" y="55.28" width="1.20" height="1.20" fill="#d43c2e"/><rect x="605.94" y="62.33" width="1.20" height="1.20" fill="#ece37a"/><rect x="618.68" y="56.91" width="1.20" height="1.20" fill="#3d6a8e"/><rect x="625.46" y="58.25" width="1.20" height="1.20" fill="#ece37a"/><rect x="613.44" y="64.26" width="1.20" height="1.20" fill="#3d6a8e"/><rect x="616.77" y="61.91" width="1.20" height="1.20" fill="#ece37a"/><rect x="620.08" y="56.42" width="1.20" height="1.20" fill="#d43c2e"/><rect x="612.17" y="63.58" width="1.20" height="1.20" fill="#ece37a"/><rect x="621.68" y="59.91" width="1.20" height="1.20" fill="#ece37a"/><rect x="608.07" y="56.33" width="1.20" height="1.20" fill="#ece37a"/><rect x="611.44" y="58.00" width="1.20" height="1.20" fill="#3d6a8e"/><rect x="623.29" y="60.01" width="1.20" height="1.20" fill="#6c9a4a"/><rect x="607.41" y="62.33" width="1.20" height="1.20" fill="#6c9a4a"/><rect x="619.17" y="56.03" width="1.20" height="1.20" fill="#ece37a"/><rect x="610.29" y="62.23" width="1.20" height="1.20" fill="#ece37a"/><rect x="609.07" y="58.90" width="1.20" height="1.20" fill="#ece37a"/><rect x="619.59" y="55.61" width="1.20" height="1.20" fill="#ece37a"/><rect x="597.28" y="61.59" width="1.20" height="1.20" fill="#3d6a8e"/><rect x="622.21" y="55.28" width="1.20" height="1.20" fill="#d43c2e"/><rect x="607.61" y="60.99" width="1.20" height="1.20" fill="#ece37a"/><rect x="619.64" y="54.66" width="1.20" height="1.20" fill="#6c9a4a"/><rect x="626.28" y="59.36" width="1.20" height="1.20" fill="#ece37a"/><rect x="622.84" y="56.20" width="1.20" height="1.20" fill="#3d6a8e"/><rect x="603.21" y="60.32" width="1.20" height="1.20" fill="#d43c2e"/><rect x="606.83" y="60.93" width="1.20" height="1.20" fill="#ece37a"/><rect x="598.35" y="63.71" width="1.20" height="1.20" fill="#3d6a8e"/><rect x="624.50" y="55.06" width="1.20" height="1.20" fill="#ece37a"/><rect x="610.48" y="55.80" width="1.20" height="1.20" fill="#ece37a"/><rect x="621.23" y="55.33" width="1.20" height="1.20" fill="#ece37a"/><rect x="611.55" y="63.50" width="1.20" height="1.20" fill="#d43c2e"/><rect x="598.38" y="62.89" width="1.20" height="1.20" fill="#d43c2e"/><rect x="599.80" y="61.16" width="1.20" height="1.20" fill="#ece37a"/><rect x="599.53" y="59.62" width="1.20" height="1.20" fill="#ece37a"/><rect x="610.58" y="61.90" width="1.20" height="1.20" fill="#d43c2e"/><rect x="615.80" y="56.03" width="1.20" height="1.20" fill="#3d6a8e"/><rect x="610.88" y="60.77" width="1.20" height="1.20" fill="#3d6a8e"/><rect x="612.65" y="56.72" width="1.20" height="1.20" fill="#d43c2e"/><rect x="604.71" y="61.15" width="1.20" height="1.20" fill="#ece37a"/><rect x="623.28" y="55.15" width="1.20" height="1.20" fill="#ece37a"/><rect x="608.96" y="57.69" width="1.20" height="1.20" fill="#6c9a4a"/><rect x="625.10" y="55.39" width="1.20" height="1.20" fill="#6c9a4a"/><rect x="616.99" y="58.40" width="1.20" height="1.20" fill="#3d6a8e"/><rect x="603.43" y="66.73" width="1.20" height="1.20" fill="#3d6a8e"/><rect x="624.72" y="55.51" width="1.20" height="1.20" fill="#6c9a4a"/><rect x="623.04" y="55.49" width="1.20" height="1.20" fill="#3d6a8e"/><rect x="628.21" y="58.93" width="1.20" height="1.20" fill="#3d6a8e"/><rect x="602.66" y="57.72" width="1.20" height="1.20" fill="#6c9a4a"/><rect x="608.11" y="58.00" width="1.20" height="1.20" fill="#3d6a8e"/><rect x="607.01" y="62.06" width="1.20" height="1.20" fill="#d43c2e"/><rect x="627.14" y="54.80" width="1.20" height="1.20" fill="#ece37a"/><rect x="627.49" y="54.69" width="1.20" height="1.20" fill="#3d6a8e"/><rect x="632.64" y="82.90" width="1.20" height="1.20" fill="#8a8a8a"/><rect x="632.59" y="62.25" width="1.20" height="1.20" fill="#ece37a"/><rect x="650.78" y="76.78" width="1.20" height="1.20" fill="#3d6a8e"/><rect x="636.85" y="73.07" width="1.20" height="1.20" fill="#ece37a"/><rect x="646.09" y="61.18" width="1.20" height="1.20" fill="#8a8a8a"/><rect x="649.21" y="63.68" width="1.20" height="1.20" fill="#8a8a8a"/><rect x="626.88" y="65.73" width="1.20" height="1.20" fill="#8a8a8a"/><rect x="638.35" y="67.82" width="1.20" height="1.20" fill="#ece37a"/><rect x="628.16" y="72.82" width="1.20" height="1.20" fill="#8a8a8a"/><rect x="632.32" y="63.62" width="1.20" height="1.20" fill="#3d6a8e"/><rect x="643.84" y="72.93" width="1.20" height="1.20" fill="#8a8a8a"/><rect x="633.20" y="72.10" width="1.20" height="1.20" fill="#8a8a8a"/><rect x="632.59" y="80.18" width="1.20" height="1.20" fill="#3d6a8e"/><rect x="639.98" y="84.82" width="1.20" height="1.20" fill="#ece37a"/><rect x="631.81" y="70.69" width="1.20" height="1.20" fill="#ece37a"/><rect x="644.71" y="73.32" width="1.20" height="1.20" fill="#ece37a"/><rect x="630.86" y="64.91" width="1.20" height="1.20" fill="#8a8a8a"/><rect x="650.23" y="77.60" width="1.20" height="1.20" fill="#8a8a8a"/><rect x="636.81" y="68.04" width="1.20" height="1.20" fill="#8a8a8a"/><rect x="643.74" y="82.20" width="1.20" height="1.20" fill="#ece37a"/><rect x="650.52" y="81.96" width="1.20" height="1.20" fill="#3d6a8e"/><rect x="642.90" y="77.23" width="1.20" height="1.20" fill="#8a8a8a"/><rect x="638.53" y="62.99" width="1.20" height="1.20" fill="#ece37a"/><rect x="629.84" y="67.72" width="1.20" height="1.20" fill="#8a8a8a"/><rect x="639.00" y="72.17" width="1.20" height="1.20" fill="#8a8a8a"/><rect x="631.89" y="79.45" width="1.20" height="1.20" fill="#8a8a8a"/><rect x="632.39" y="61.19" width="1.20" height="1.20" fill="#ece37a"/><rect x="642.53" y="69.28" width="1.20" height="1.20" fill="#3d6a8e"/><rect x="633.65" y="64.99" width="1.20" height="1.20" fill="#8a8a8a"/><rect x="644.75" y="77.85" width="1.20" height="1.20" fill="#ece37a"/><rect x="648.10" y="77.97" width="1.20" height="1.20" fill="#ece37a"/><rect x="628.79" y="78.06" width="1.20" height="1.20" fill="#8a8a8a"/><rect x="652.11" y="75.49" width="1.20" height="1.20" fill="#8a8a8a"/><rect x="652.67" y="78.83" width="1.20" height="1.20" fill="#8a8a8a"/><rect x="650.05" y="74.34" width="1.20" height="1.20" fill="#8a8a8a"/><rect x="644.11" y="84.32" width="1.20" height="1.20" fill="#ece37a"/><rect x="650.34" y="73.66" width="1.20" height="1.20" fill="#8a8a8a"/><rect x="643.76" y="76.91" width="1.20" height="1.20" fill="#ece37a"/><rect x="632.38" y="70.95" width="1.20" height="1.20" fill="#8a8a8a"/><rect x="647.60" y="72.18" width="1.20" height="1.20" fill="#8a8a8a"/><rect x="664.72" y="51.03" width="1.00" height="1.00" fill="#8a8a8a"/><rect x="665.88" y="50.28" width="1.00" height="1.00" fill="#4b55f2"/><rect x="661.60" y="68.84" width="1.00" height="1.00" fill="#4b55f2"/><rect x="658.61" y="49.16" width="1.00" height="1.00" fill="#4b55f2"/><rect x="665.10" y="52.83" width="1.00" height="1.00" fill="#4b55f2"/><rect x="653.69" y="53.08" width="1.00" height="1.00" fill="#8a8a8a"/><rect x="637.20" y="49.56" width="1.00" height="1.00" fill="#8a8a8a"/><rect x="665.35" y="51.36" width="1.00" height="1.00" fill="#ffffff"/><rect x="662.76" y="50.31" width="1.00" height="1.00" fill="#ffffff"/><rect x="644.57" y="47.80" width="1.00" height="1.00" fill="#ffffff"/><rect x="661.48" y="56.33" width="1.00" height="1.00" fill="#4b55f2"/><rect x="629.67" y="54.20" width="1.00" height="1.00" fill="#ffffff"/><rect x="628.51" y="53.76" width="1.00" height="1.00" fill="#ffffff"/><rect x="665.54" y="71.33" width="1.00" height="1.00" fill="#8a8a8a"/><rect x="636.29" y="44.55" width="1.00" height="1.00" fill="#ffffff"/><rect x="642.61" y="57.11" width="1.00" height="1.00" fill="#ffffff"/><rect x="658.74" y="47.45" width="1.00" height="1.00" fill="#ffffff"/><rect x="647.05" y="53.22" width="1.00" height="1.00" fill="#ffffff"/><rect x="667.57" y="57.10" width="1.00" height="1.00" fill="#8a8a8a"/><rect x="669.14" y="64.13" width="1.00" height="1.00" fill="#4b55f2"/><rect x="659.30" y="52.20" width="1.00" height="1.00" fill="#8a8a8a"/><rect x="631.44" y="56.65" width="1.00" height="1.00" fill="#ffffff"/><rect x="659.97" y="52.71" width="1.00" height="1.00" fill="#4b55f2"/><rect x="653.76" y="57.97" width="1.00" height="1.00" fill="#ffffff"/><rect x="626.73" y="54.13" width="1.00" height="1.00" fill="#8a8a8a"/></g><rect x="605.4" y="90.3" width="1.1" height="1.1" fill="#d43c2e"/><rect x="610.3" y="94.7" width="1.1" height="1.1" fill="#d43c2e"/><rect x="608.7" y="94.3" width="1.1" height="1.1" fill="#d43c2e"/><rect x="588.8" y="84.2" width="1.1" height="1.1" fill="#d43c2e"/><rect x="614.4" y="88.3" width="1.1" height="1.1" fill="#d43c2e"/><rect x="613.2" y="76.5" width="1.1" height="1.1" fill="#d43c2e"/><rect x="601.1" y="79.4" width="1.1" height="1.1" fill="#d43c2e"/><rect x="603.2" y="86.6" width="1.1" height="1.1" fill="#d43c2e"/><rect x="588.4" y="78.8" width="1.1" height="1.1" fill="#d43c2e"/><rect x="595.8" y="94.2" width="1.1" height="1.1" fill="#d43c2e"/><rect x="609.4" y="77.5" width="1.1" height="1.1" fill="#d43c2e"/><rect x="610.3" y="77.1" width="1.1" height="1.1" fill="#d43c2e"/><rect x="605.3" y="76.8" width="1.1" height="1.1" fill="#d43c2e"/><rect x="588.0" y="93.2" width="1.1" height="1.1" fill="#d43c2e"/><rect x="593.9" y="78.7" width="1.1" height="1.1" fill="#d43c2e"/><rect x="615.5" y="93.2" width="1.1" height="1.1" fill="#d43c2e"/><rect x="596.1" y="95.2" width="1.1" height="1.1" fill="#d43c2e"/><rect x="603.1" y="88.9" width="1.1" height="1.1" fill="#d43c2e"/><rect x="593.7" y="94.7" width="1.1" height="1.1" fill="#d43c2e"/><rect x="607.3" y="95.3" width="1.1" height="1.1" fill="#d43c2e"/><rect x="613.0" y="80.6" width="1.1" height="1.1" fill="#d43c2e"/><rect x="598.1" y="77.7" width="1.1" height="1.1" fill="#d43c2e"/><rect x="592.1" y="75.4" width="1.1" height="1.1" fill="#d43c2e"/><rect x="596.4" y="87.3" width="1.1" height="1.1" fill="#d43c2e"/><rect x="588.1" y="88.9" width="1.1" height="1.1" fill="#d43c2e"/><rect x="597.5" y="80.8" width="1.1" height="1.1" fill="#d43c2e"/><rect x="610.9" y="84.6" width="1.1" height="1.1" fill="#d43c2e"/><rect x="596.8" y="84.6" width="1.1" height="1.1" fill="#d43c2e"/><rect x="607.7" y="75.3" width="1.1" height="1.1" fill="#d43c2e"/><rect x="615.3" y="74.5" width="1.1" height="1.1" fill="#d43c2e"/><rect x="609.0" y="92.6" width="1.1" height="1.1" fill="#d43c2e"/><rect x="588.5" y="91.3" width="1.1" height="1.1" fill="#d43c2e"/><rect x="598.3" y="86.7" width="1.1" height="1.1" fill="#d43c2e"/><rect x="588.3" y="75.0" width="1.1" height="1.1" fill="#d43c2e"/><rect x="593.1" y="95.0" width="1.1" height="1.1" fill="#d43c2e"/><rect x="593.5" y="90.6" width="1.1" height="1.1" fill="#d43c2e"/><rect x="614.0" y="94.7" width="1.1" height="1.1" fill="#d43c2e"/><rect x="597.6" y="81.8" width="1.1" height="1.1" fill="#d43c2e"/><rect x="602.7" y="91.1" width="1.1" height="1.1" fill="#d43c2e"/><rect x="591.0" y="90.5" width="1.1" height="1.1" fill="#d43c2e"/><rect x="610.3" y="92.9" width="1.1" height="1.1" fill="#d43c2e"/><rect x="589.0" y="94.8" width="1.1" height="1.1" fill="#d43c2e"/><rect x="590.6" y="81.5" width="1.1" height="1.1" fill="#d43c2e"/><rect x="605.1" y="94.2" width="1.1" height="1.1" fill="#d43c2e"/><rect x="597.5" y="94.3" width="1.1" height="1.1" fill="#d43c2e"/><rect x="572" y="40" width="1.2" height="1.2" fill="#d43c2e"/><rect x="579" y="42" width="1.2" height="1.2" fill="#d43c2e"/><rect x="585" y="47" width="1.2" height="1.2" fill="#d43c2e"/><rect x="589" y="52" width="1.2" height="1.2" fill="#d43c2e"/><rect x="558" y="64" width="1.2" height="1.2" fill="#d43c2e"/><rect x="566" y="54" width="1.2" height="1.2" fill="#d43c2e"/><rect x="592" y="48" width="1.2" height="1.2" fill="#d43c2e"/><rect x="604" y="30" width="1.2" height="1.2" fill="#d43c2e"/><rect x="640" y="32" width="1.2" height="1.2" fill="#d43c2e"/><rect x="571" y="44" width="1.2" height="1.2" fill="#d43c2e"/><rect x="586" y="44" width="1.2" height="1.2" fill="#d43c2e"/><rect x="622" y="41" width="1.2" height="1.2" fill="#d43c2e"/><rect x="628" y="23" width="1.2" height="1.2" fill="#d43c2e"/><text x="504.70" y="34.60" font-size="8.0" text-anchor="end" fill="#231f20" color="#231f20" stroke-width="0.12" font-weight="normal" >Cell types</text><text x="494.20" y="46.70" font-size="8.0" text-anchor="end" fill="#231f20" color="#231f20" stroke-width="0.12" font-weight="normal" >Adveititial cells</text><circle cx="501.5" cy="44.50" r="3.6" fill="#4b55f2"/><text x="494.20" y="59.35" font-size="8.0" text-anchor="end" fill="#231f20" color="#231f20" stroke-width="0.12" font-weight="normal" >Endothelial cells</text><circle cx="501.5" cy="57.15" r="3.6" fill="#d43c2e"/><text x="494.20" y="72.00" font-size="8.0" text-anchor="end" fill="#231f20" color="#231f20" stroke-width="0.12" font-weight="normal" >Fibroblasts</text><circle cx="501.5" cy="69.80" r="3.6" fill="#6c9a4a"/><text x="494.20" y="84.65" font-size="8.0" text-anchor="end" fill="#231f20" color="#231f20" stroke-width="0.12" font-weight="normal" >Pericytes</text><circle cx="501.5" cy="82.45" r="3.6" fill="#ece37a"/><text x="494.20" y="97.30" font-size="8.0" text-anchor="end" fill="#231f20" color="#231f20" stroke-width="0.12" font-weight="normal" >Smooth muscle cells</text><circle cx="501.5" cy="95.10" r="3.6" fill="#3d6a8e"/><text x="494.20" y="109.95" font-size="8.0" text-anchor="end" fill="#231f20" color="#231f20" stroke-width="0.12" font-weight="normal" >Other muscle cells</text><circle cx="501.5" cy="107.75" r="3.6" fill="#c9622f"/><text x="494.20" y="122.60" font-size="8.0" text-anchor="end" fill="#231f20" color="#231f20" stroke-width="0.12" font-weight="normal" >Other cells</text><circle cx="501.5" cy="120.40" r="3.6" fill="#868686"/><defs><linearGradient id="gVir" x1="0" x2="1"><stop offset="0" stop-color="#440154"/><stop offset="0.13" stop-color="#482878"/><stop offset="0.25" stop-color="#3e4989"/><stop offset="0.38" stop-color="#31688e"/><stop offset="0.5" stop-color="#26828e"/><stop offset="0.63" stop-color="#1f9e89"/><stop offset="0.75" stop-color="#35b779"/><stop offset="0.88" stop-color="#6ece58"/><stop offset="1" stop-color="#fde725"/></linearGradient></defs><rect x="362" y="170.8" width="144.8" height="5.8" fill="url(#gVir)" stroke="#555" stroke-width="0.3"/><line x1="362.00" y1="176.60" x2="362.00" y2="179.40" stroke="#555" stroke-width="0.6" /><text x="362.00" y="189.50" font-size="7.6" text-anchor="middle" fill="#231f20" color="#231f20" stroke-width="0.12" font-weight="normal" >2.5</text><line x1="398.20" y1="176.60" x2="398.20" y2="179.40" stroke="#555" stroke-width="0.6" /><text x="398.20" y="189.50" font-size="7.6" text-anchor="middle" fill="#231f20" color="#231f20" stroke-width="0.12" font-weight="normal" >3.0</text><line x1="434.40" y1="176.60" x2="434.40" y2="179.40" stroke="#555" stroke-width="0.6" /><text x="434.40" y="189.50" font-size="7.6" text-anchor="middle" fill="#231f20" color="#231f20" stroke-width="0.12" font-weight="normal" >3.5</text><line x1="470.60" y1="176.60" x2="470.60" y2="179.40" stroke="#555" stroke-width="0.6" /><text x="470.60" y="189.50" font-size="7.6" text-anchor="middle" fill="#231f20" color="#231f20" stroke-width="0.12" font-weight="normal" >4.0</text><line x1="506.80" y1="176.60" x2="506.80" y2="179.40" stroke="#555" stroke-width="0.6" /><text x="506.80" y="189.50" font-size="7.6" text-anchor="middle" fill="#231f20" color="#231f20" stroke-width="0.12" font-weight="normal" >4.5</text><text x="434.4" y="166.5" font-size="7.8" text-anchor="middle" fill="#231f20"><tspan font-style="italic">Z</tspan>-score for PP genetics</text><text x="522.10" y="5.80" font-size="10.8" text-anchor="start" fill="#000" color="#000" stroke-width="0.12" font-weight="bold" >e</text><path d="M532.9,121.9 L532.9,171.0 L581.3,171.0" fill="none" stroke="#231f20" stroke-width="0.8"/><path d="M532.9,117.9 L530.9,122.9 L534.9,122.9Z" fill="#231f20"/><path d="M585.3,171.0 L580.3,169.0 L580.3,173.0Z" fill="#231f20"/><text x="557.60" y="180.70" font-size="7.9" text-anchor="middle" fill="#231f20" color="#231f20" stroke-width="0.12" font-weight="normal" >UMAP1</text><text x="0" y="0" font-size="7.8" fill="#231f20" text-anchor="middle" transform="translate(528.7,145.5) rotate(-90)">UMAP2</text><path d="M356.6,330.6 L356.6,379.6 L405.6,379.6" fill="none" stroke="#231f20" stroke-width="0.8"/><path d="M356.6,326.6 L354.6,331.6 L358.6,331.6Z" fill="#231f20"/><path d="M409.6,379.6 L404.6,377.6 L404.6,381.6Z" fill="#231f20"/><text x="381.50" y="390.40" font-size="7.9" text-anchor="middle" fill="#231f20" color="#231f20" stroke-width="0.12" font-weight="normal" >UMAP1</text><text x="0" y="0" font-size="7.8" fill="#231f20" text-anchor="middle" transform="translate(352.3,354.6) rotate(-90)">UMAP2</text><path d="M532.4,330.6 L532.4,379.4 L581.9,379.4" fill="none" stroke="#231f20" stroke-width="0.8"/><path d="M532.4,326.6 L530.4,331.6 L534.4,331.6Z" fill="#231f20"/><path d="M585.9,379.4 L580.9,377.4 L580.9,381.4Z" fill="#231f20"/><text x="557.60" y="390.40" font-size="7.9" text-anchor="middle" fill="#231f20" color="#231f20" stroke-width="0.12" font-weight="normal" >UMAP1</text><text x="0" y="0" font-size="7.8" fill="#231f20" text-anchor="middle" transform="translate(528.1,354.6) rotate(-90)">UMAP2</text><text x="345.00" y="209.20" font-size="11" text-anchor="start" fill="#000" color="#000" stroke-width="0.12" font-weight="bold" >f</text><text x="521.60" y="208.60" font-size="10.5" text-anchor="start" fill="#000" color="#000" stroke-width="0.12" font-weight="bold" >g</text><text x="434.50" y="210.90" font-size="7.9" text-anchor="middle" fill="#231f20" color="#231f20" stroke-width="0.12" font-weight="normal" >Younger group</text><text x="610.00" y="210.90" font-size="7.9" text-anchor="middle" fill="#231f20" color="#231f20" stroke-width="0.12" font-weight="normal" >Older group</text><rect x="435.49" y="271.60" width="1.40" height="1.40" fill="#b5de2b"/><rect x="435.47" y="276.76" width="1.40" height="1.40" fill="#fde725"/><rect x="425.32" y="270.76" width="1.40" height="1.40" fill="#fde725"/><rect x="421.88" y="267.11" width="1.40" height="1.40" fill="#fde725"/><rect x="438.77" y="277.38" width="1.40" height="1.40" fill="#fde725"/><rect x="440.93" y="268.73" width="1.40" height="1.40" fill="#b5de2b"/><rect x="443.15" y="272.57" width="1.40" height="1.40" fill="#fde725"/><rect x="441.98" y="276.35" width="1.40" height="1.40" fill="#fde725"/><rect x="435.93" y="269.51" width="1.40" height="1.40" fill="#fde725"/><rect x="438.03" y="273.01" width="1.40" height="1.40" fill="#b5de2b"/><rect x="443.18" y="268.92" width="1.40" height="1.40" fill="#fde725"/><rect x="445.20" y="267.32" width="1.40" height="1.40" fill="#fde725"/><rect x="437.79" y="262.32" width="1.40" height="1.40" fill="#fde725"/><rect x="433.52" y="276.62" width="1.40" height="1.40" fill="#22a884"/><rect x="444.33" y="265.54" width="1.40" height="1.40" fill="#fde725"/><rect x="433.40" y="263.08" width="1.40" height="1.40" fill="#fde725"/><rect x="447.88" y="266.52" width="1.40" height="1.40" fill="#fde725"/><rect x="433.88" y="277.95" width="1.40" height="1.40" fill="#fde725"/><rect x="427.66" y="263.57" width="1.40" height="1.40" fill="#fde725"/><rect x="435.97" y="270.32" width="1.40" height="1.40" fill="#fde725"/><rect x="435.30" y="265.14" width="1.40" height="1.40" fill="#fde725"/><rect x="434.23" y="268.52" width="1.40" height="1.40" fill="#22a884"/><rect x="434.29" y="265.53" width="1.40" height="1.40" fill="#7ad151"/><rect x="440.22" y="262.54" width="1.40" height="1.40" fill="#fde725"/><rect x="426.40" y="266.32" width="1.40" height="1.40" fill="#7ad151"/><rect x="449.85" y="268.56" width="1.40" height="1.40" fill="#fde725"/><rect x="421.72" y="272.00" width="1.40" height="1.40" fill="#fde725"/><rect x="418.89" y="268.25" width="1.40" height="1.40" fill="#b5de2b"/><rect x="423.13" y="272.08" width="1.40" height="1.40" fill="#fde725"/><rect x="451.23" y="265.00" width="1.40" height="1.40" fill="#fde725"/><rect x="430.11" y="265.80" width="1.40" height="1.40" fill="#fde725"/><rect x="445.86" y="264.57" width="1.40" height="1.40" fill="#fde725"/><rect x="444.41" y="268.59" width="1.40" height="1.40" fill="#b5de2b"/><rect x="441.23" y="269.18" width="1.40" height="1.40" fill="#fde725"/><rect x="422.44" y="270.77" width="1.40" height="1.40" fill="#7ad151"/><rect x="427.36" y="274.13" width="1.40" height="1.40" fill="#7ad151"/><rect x="434.29" y="277.63" width="1.40" height="1.40" fill="#b5de2b"/><rect x="429.45" y="264.87" width="1.40" height="1.40" fill="#fde725"/><rect x="423.10" y="270.19" width="1.40" height="1.40" fill="#fde725"/><rect x="428.53" y="269.60" width="1.40" height="1.40" fill="#fde725"/><rect x="420.07" y="266.73" width="1.40" height="1.40" fill="#fde725"/><rect x="435.41" y="267.59" width="1.40" height="1.40" fill="#fde725"/><rect x="440.72" y="277.96" width="1.40" height="1.40" fill="#b5de2b"/><rect x="442.48" y="270.24" width="1.40" height="1.40" fill="#7ad151"/><rect x="421.16" y="271.36" width="1.40" height="1.40" fill="#fde725"/><rect x="445.04" y="275.68" width="1.40" height="1.40" fill="#7ad151"/><rect x="431.67" y="273.79" width="1.40" height="1.40" fill="#fde725"/><rect x="451.40" y="269.10" width="1.40" height="1.40" fill="#fde725"/><rect x="451.11" y="271.82" width="1.40" height="1.40" fill="#22a884"/><rect x="422.69" y="266.30" width="1.40" height="1.40" fill="#22a884"/><rect x="445.97" y="268.60" width="1.40" height="1.40" fill="#b5de2b"/><rect x="435.04" y="276.47" width="1.40" height="1.40" fill="#fde725"/><rect x="438.01" y="270.80" width="1.40" height="1.40" fill="#7ad151"/><rect x="441.15" y="270.22" width="1.40" height="1.40" fill="#fde725"/><rect x="447.94" y="273.35" width="1.40" height="1.40" fill="#b5de2b"/><rect x="429.74" y="273.67" width="1.40" height="1.40" fill="#fde725"/><rect x="438.00" y="274.99" width="1.40" height="1.40" fill="#7ad151"/><rect x="443.38" y="269.53" width="1.40" height="1.40" fill="#fde725"/><rect x="430.72" y="273.45" width="1.40" height="1.40" fill="#fde725"/><rect x="442.40" y="275.86" width="1.40" height="1.40" fill="#fde725"/><rect x="451.75" y="268.53" width="1.40" height="1.40" fill="#7ad151"/><rect x="426.28" y="264.15" width="1.40" height="1.40" fill="#7ad151"/><rect x="428.82" y="264.76" width="1.40" height="1.40" fill="#b5de2b"/><rect x="436.21" y="278.00" width="1.40" height="1.40" fill="#22a884"/><rect x="432.84" y="270.90" width="1.40" height="1.40" fill="#7ad151"/><rect x="445.52" y="276.53" width="1.40" height="1.40" fill="#b5de2b"/><rect x="430.47" y="276.30" width="1.40" height="1.40" fill="#7ad151"/><rect x="445.23" y="271.79" width="1.40" height="1.40" fill="#7ad151"/><rect x="442.97" y="271.67" width="1.40" height="1.40" fill="#fde725"/><rect x="433.70" y="265.12" width="1.40" height="1.40" fill="#7ad151"/><rect x="427.32" y="264.27" width="1.40" height="1.40" fill="#fde725"/><rect x="422.44" y="271.17" width="1.40" height="1.40" fill="#7ad151"/><rect x="425.87" y="270.11" width="1.40" height="1.40" fill="#fde725"/><rect x="445.44" y="275.01" width="1.40" height="1.40" fill="#fde725"/><rect x="425.11" y="266.57" width="1.40" height="1.40" fill="#7ad151"/><rect x="438.81" y="278.37" width="1.40" height="1.40" fill="#fde725"/><rect x="433.25" y="275.66" width="1.40" height="1.40" fill="#fde725"/><rect x="445.75" y="264.07" width="1.40" height="1.40" fill="#b5de2b"/><rect x="425.78" y="277.33" width="1.40" height="1.40" fill="#fde725"/><rect x="432.62" y="271.75" width="1.40" height="1.40" fill="#7ad151"/><rect x="435.92" y="273.20" width="1.40" height="1.40" fill="#fde725"/><rect x="422.99" y="266.04" width="1.40" height="1.40" fill="#22a884"/><rect x="438.70" y="275.64" width="1.40" height="1.40" fill="#7ad151"/><rect x="428.25" y="274.37" width="1.40" height="1.40" fill="#fde725"/><rect x="431.54" y="263.25" width="1.40" height="1.40" fill="#b5de2b"/><rect x="431.30" y="269.17" width="1.40" height="1.40" fill="#7ad151"/><rect x="436.82" y="262.30" width="1.40" height="1.40" fill="#fde725"/><rect x="434.60" y="262.41" width="1.40" height="1.40" fill="#7ad151"/><rect x="452.52" y="270.87" width="1.40" height="1.40" fill="#b5de2b"/><rect x="454.24" y="270.42" width="1.40" height="1.40" fill="#fde725"/><rect x="447.10" y="269.49" width="1.40" height="1.40" fill="#7ad151"/><rect x="449.88" y="271.63" width="1.40" height="1.40" fill="#fde725"/><rect x="438.17" y="276.56" width="1.40" height="1.40" fill="#7ad151"/><rect x="430.14" y="268.47" width="1.40" height="1.40" fill="#fde725"/><rect x="429.87" y="264.27" width="1.40" height="1.40" fill="#7ad151"/><rect x="440.07" y="265.32" width="1.40" height="1.40" fill="#fde725"/><rect x="437.42" y="272.39" width="1.40" height="1.40" fill="#fde725"/><rect x="438.76" y="262.57" width="1.40" height="1.40" fill="#22a884"/><rect x="438.97" y="279.11" width="1.40" height="1.40" fill="#fde725"/><rect x="436.96" y="273.89" width="1.40" height="1.40" fill="#fde725"/><rect x="453.67" y="269.83" width="1.40" height="1.40" fill="#22a884"/><rect x="428.53" y="270.08" width="1.40" height="1.40" fill="#fde725"/><rect x="431.21" y="277.57" width="1.40" height="1.40" fill="#b5de2b"/><rect x="438.25" y="263.70" width="1.40" height="1.40" fill="#22a884"/><rect x="441.78" y="277.99" width="1.40" height="1.40" fill="#fde725"/><rect x="418.75" y="266.77" width="1.40" height="1.40" fill="#7ad151"/><rect x="427.59" y="270.53" width="1.40" height="1.40" fill="#b5de2b"/><rect x="446.07" y="263.95" width="1.40" height="1.40" fill="#7ad151"/><rect x="445.57" y="274.07" width="1.40" height="1.40" fill="#22a884"/><rect x="419.18" y="272.88" width="1.40" height="1.40" fill="#fde725"/><rect x="438.75" y="276.92" width="1.40" height="1.40" fill="#fde725"/><rect x="438.43" y="276.70" width="1.40" height="1.40" fill="#fde725"/><rect x="427.14" y="274.76" width="1.40" height="1.40" fill="#7ad151"/><rect x="452.60" y="267.33" width="1.40" height="1.40" fill="#7ad151"/><rect x="452.14" y="265.21" width="1.40" height="1.40" fill="#fde725"/><rect x="452.03" y="264.14" width="1.40" height="1.40" fill="#fde725"/><rect x="433.04" y="269.41" width="1.40" height="1.40" fill="#22a884"/><rect x="438.94" y="274.13" width="1.40" height="1.40" fill="#fde725"/><rect x="433.61" y="273.79" width="1.40" height="1.40" fill="#fde725"/><rect x="421.95" y="271.77" width="1.40" height="1.40" fill="#7ad151"/><rect x="422.69" y="270.65" width="1.40" height="1.40" fill="#7ad151"/><rect x="437.41" y="273.80" width="1.40" height="1.40" fill="#fde725"/><rect x="448.81" y="270.24" width="1.40" height="1.40" fill="#fde725"/><rect x="419.72" y="271.45" width="1.40" height="1.40" fill="#b5de2b"/><rect x="423.87" y="265.03" width="1.40" height="1.40" fill="#fde725"/><rect x="424.85" y="264.57" width="1.40" height="1.40" fill="#7ad151"/><rect x="435.86" y="275.18" width="1.40" height="1.40" fill="#7ad151"/><rect x="433.15" y="269.26" width="1.40" height="1.40" fill="#7ad151"/><rect x="434.64" y="272.32" width="1.40" height="1.40" fill="#fde725"/><rect x="442.39" y="262.52" width="1.40" height="1.40" fill="#fde725"/><rect x="425.19" y="269.74" width="1.40" height="1.40" fill="#7ad151"/><rect x="433.70" y="265.21" width="1.40" height="1.40" fill="#fde725"/><rect x="430.60" y="263.28" width="1.40" height="1.40" fill="#22a884"/><rect x="439.95" y="265.14" width="1.40" height="1.40" fill="#7ad151"/><rect x="448.88" y="266.32" width="1.40" height="1.40" fill="#fde725"/><rect x="446.59" y="275.41" width="1.40" height="1.40" fill="#22a884"/><rect x="423.36" y="267.57" width="1.40" height="1.40" fill="#7ad151"/><rect x="447.46" y="275.19" width="1.40" height="1.40" fill="#22a884"/><rect x="426.16" y="265.03" width="1.40" height="1.40" fill="#7ad151"/><rect x="429.76" y="263.57" width="1.40" height="1.40" fill="#7ad151"/><rect x="420.18" y="266.58" width="1.40" height="1.40" fill="#7ad151"/><rect x="431.14" y="273.35" width="1.40" height="1.40" fill="#fde725"/><rect x="438.56" y="268.62" width="1.40" height="1.40" fill="#b5de2b"/><rect x="442.71" y="274.07" width="1.40" height="1.40" fill="#22a884"/><rect x="441.69" y="274.73" width="1.40" height="1.40" fill="#7ad151"/><rect x="435.16" y="270.63" width="1.40" height="1.40" fill="#fde725"/><rect x="442.92" y="261.99" width="1.40" height="1.40" fill="#7ad151"/><rect x="427.83" y="277.65" width="1.40" height="1.40" fill="#22a884"/><rect x="449.06" y="263.13" width="1.40" height="1.40" fill="#fde725"/><rect x="432.98" y="278.23" width="1.40" height="1.40" fill="#22a884"/><rect x="436.23" y="264.76" width="1.40" height="1.40" fill="#b5de2b"/><rect x="438.89" y="272.24" width="1.40" height="1.40" fill="#22a884"/><rect x="454.22" y="269.16" width="1.40" height="1.40" fill="#22a884"/><rect x="441.02" y="268.20" width="1.40" height="1.40" fill="#7ad151"/><rect x="436.66" y="266.52" width="1.40" height="1.40" fill="#7ad151"/><rect x="443.52" y="274.89" width="1.40" height="1.40" fill="#fde725"/><rect x="446.98" y="268.62" width="1.40" height="1.40" fill="#7ad151"/><rect x="446.74" y="262.68" width="1.40" height="1.40" fill="#7ad151"/><rect x="434.62" y="270.16" width="1.40" height="1.40" fill="#fde725"/><rect x="427.62" y="274.16" width="1.40" height="1.40" fill="#fde725"/><rect x="442.02" y="269.77" width="1.40" height="1.40" fill="#fde725"/><rect x="451.02" y="268.04" width="1.40" height="1.40" fill="#fde725"/><rect x="423.02" y="269.55" width="1.40" height="1.40" fill="#22a884"/><rect x="435.61" y="266.39" width="1.40" height="1.40" fill="#22a884"/><rect x="432.13" y="274.82" width="1.40" height="1.40" fill="#fde725"/><rect x="427.36" y="263.79" width="1.40" height="1.40" fill="#7ad151"/><rect x="448.10" y="272.74" width="1.40" height="1.40" fill="#7ad151"/><rect x="428.74" y="272.47" width="1.40" height="1.40" fill="#fde725"/><rect x="442.36" y="274.98" width="1.40" height="1.40" fill="#fde725"/><rect x="443.11" y="265.23" width="1.40" height="1.40" fill="#fde725"/><rect x="442.18" y="261.97" width="1.40" height="1.40" fill="#7ad151"/><rect x="434.46" y="272.71" width="1.40" height="1.40" fill="#fde725"/><rect x="426.76" y="266.67" width="1.40" height="1.40" fill="#fde725"/><rect x="452.99" y="264.62" width="1.40" height="1.40" fill="#fde725"/><rect x="442.28" y="268.33" width="1.40" height="1.40" fill="#b5de2b"/><rect x="431.76" y="267.72" width="1.40" height="1.40" fill="#b5de2b"/><rect x="446.60" y="276.47" width="1.40" height="1.40" fill="#fde725"/><rect x="448.79" y="269.63" width="1.40" height="1.40" fill="#fde725"/><rect x="435.18" y="274.88" width="1.40" height="1.40" fill="#22a884"/><rect x="449.08" y="268.26" width="1.40" height="1.40" fill="#7ad151"/><rect x="429.35" y="275.08" width="1.40" height="1.40" fill="#fde725"/><rect x="434.55" y="268.26" width="1.40" height="1.40" fill="#fde725"/><rect x="435.86" y="267.47" width="1.40" height="1.40" fill="#fde725"/><rect x="434.72" y="271.74" width="1.40" height="1.40" fill="#b5de2b"/><rect x="429.66" y="275.37" width="1.40" height="1.40" fill="#fde725"/><rect x="430.09" y="277.74" width="1.40" height="1.40" fill="#fde725"/><rect x="444.71" y="270.46" width="1.40" height="1.40" fill="#7ad151"/><rect x="429.05" y="264.30" width="1.40" height="1.40" fill="#7ad151"/><rect x="443.28" y="267.52" width="1.40" height="1.40" fill="#fde725"/><rect x="430.55" y="269.52" width="1.40" height="1.40" fill="#7ad151"/><rect x="434.94" y="275.85" width="1.40" height="1.40" fill="#7ad151"/><rect x="435.71" y="265.67" width="1.40" height="1.40" fill="#fde725"/><rect x="419.22" y="273.65" width="1.40" height="1.40" fill="#22a884"/><rect x="448.55" y="274.73" width="1.40" height="1.40" fill="#7ad151"/><rect x="448.59" y="271.26" width="1.40" height="1.40" fill="#fde725"/><rect x="425.01" y="275.08" width="1.40" height="1.40" fill="#7ad151"/><rect x="449.15" y="265.67" width="1.40" height="1.40" fill="#fde725"/><rect x="438.98" y="271.73" width="1.40" height="1.40" fill="#fde725"/><rect x="443.05" y="275.88" width="1.40" height="1.40" fill="#fde725"/><rect x="440.41" y="267.15" width="1.40" height="1.40" fill="#fde725"/><rect x="431.01" y="266.59" width="1.40" height="1.40" fill="#fde725"/><rect x="442.40" y="264.32" width="1.40" height="1.40" fill="#22a884"/><rect x="427.63" y="265.66" width="1.40" height="1.40" fill="#7ad151"/><rect x="447.36" y="268.70" width="1.40" height="1.40" fill="#7ad151"/><rect x="448.98" y="267.63" width="1.40" height="1.40" fill="#fde725"/><rect x="437.06" y="271.20" width="1.40" height="1.40" fill="#fde725"/><rect x="433.90" y="276.26" width="1.40" height="1.40" fill="#7ad151"/><rect x="438.21" y="274.23" width="1.40" height="1.40" fill="#fde725"/><rect x="434.32" y="269.16" width="1.40" height="1.40" fill="#fde725"/><rect x="427.64" y="264.64" width="1.40" height="1.40" fill="#22a884"/><rect x="444.29" y="267.42" width="1.40" height="1.40" fill="#22a884"/><rect x="434.45" y="266.91" width="1.40" height="1.40" fill="#fde725"/><rect x="436.21" y="274.59" width="1.40" height="1.40" fill="#7ad151"/><rect x="442.92" y="275.38" width="1.40" height="1.40" fill="#fde725"/><rect x="418.95" y="270.22" width="1.40" height="1.40" fill="#fde725"/><rect x="430.18" y="265.26" width="1.40" height="1.40" fill="#7ad151"/><rect x="426.56" y="265.92" width="1.40" height="1.40" fill="#b5de2b"/><rect x="440.90" y="265.72" width="1.40" height="1.40" fill="#fde725"/><rect x="452.29" y="268.84" width="1.40" height="1.40" fill="#7ad151"/><rect x="442.12" y="278.28" width="1.40" height="1.40" fill="#b5de2b"/><rect x="450.73" y="270.28" width="1.40" height="1.40" fill="#22a884"/><rect x="453.04" y="267.79" width="1.40" height="1.40" fill="#fde725"/><rect x="436.64" y="265.67" width="1.40" height="1.40" fill="#fde725"/><rect x="426.56" y="264.15" width="1.40" height="1.40" fill="#22a884"/><rect x="447.72" y="275.58" width="1.40" height="1.40" fill="#fde725"/><rect x="443.29" y="265.96" width="1.40" height="1.40" fill="#fde725"/><rect x="435.40" y="266.11" width="1.40" height="1.40" fill="#22a884"/><rect x="441.33" y="264.55" width="1.40" height="1.40" fill="#fde725"/><rect x="447.63" y="264.33" width="1.40" height="1.40" fill="#fde725"/><rect x="428.43" y="271.16" width="1.40" height="1.40" fill="#fde725"/><rect x="440.03" y="264.92" width="1.40" height="1.40" fill="#fde725"/><rect x="449.54" y="263.24" width="1.40" height="1.40" fill="#7ad151"/><rect x="441.66" y="271.04" width="1.40" height="1.40" fill="#b5de2b"/><rect x="444.66" y="263.25" width="1.40" height="1.40" fill="#7ad151"/><rect x="425.64" y="273.74" width="1.40" height="1.40" fill="#b5de2b"/><rect x="426.22" y="271.31" width="1.40" height="1.40" fill="#b5de2b"/><rect x="424.29" y="276.36" width="1.40" height="1.40" fill="#7ad151"/><rect x="430.31" y="268.90" width="1.40" height="1.40" fill="#7ad151"/><rect x="423.64" y="273.48" width="1.40" height="1.40" fill="#b5de2b"/><rect x="446.67" y="275.53" width="1.40" height="1.40" fill="#fde725"/><rect x="443.15" y="262.02" width="1.40" height="1.40" fill="#22a884"/><rect x="445.35" y="270.12" width="1.40" height="1.40" fill="#7ad151"/><rect x="439.74" y="269.82" width="1.40" height="1.40" fill="#fde725"/><rect x="424.08" y="272.79" width="1.40" height="1.40" fill="#7ad151"/><rect x="439.41" y="263.32" width="1.40" height="1.40" fill="#fde725"/><rect x="425.90" y="274.60" width="1.40" height="1.40" fill="#7ad151"/><rect x="430.07" y="266.59" width="1.40" height="1.40" fill="#b5de2b"/><rect x="445.80" y="267.60" width="1.40" height="1.40" fill="#22a884"/><rect x="421.89" y="273.66" width="1.40" height="1.40" fill="#fde725"/><rect x="425.14" y="268.84" width="1.40" height="1.40" fill="#b5de2b"/><rect x="440.82" y="263.38" width="1.40" height="1.40" fill="#fde725"/><rect x="434.78" y="275.30" width="1.40" height="1.40" fill="#7ad151"/><rect x="453.28" y="269.27" width="1.40" height="1.40" fill="#fde725"/><rect x="442.90" y="275.22" width="1.40" height="1.40" fill="#22a884"/><rect x="436.64" y="277.92" width="1.40" height="1.40" fill="#fde725"/><rect x="445.92" y="272.53" width="1.40" height="1.40" fill="#7ad151"/><rect x="443.39" y="272.45" width="1.40" height="1.40" fill="#fde725"/><rect x="428.21" y="265.10" width="1.40" height="1.40" fill="#7ad151"/><rect x="443.03" y="263.66" width="1.40" height="1.40" fill="#22a884"/><rect x="426.09" y="267.62" width="1.40" height="1.40" fill="#7ad151"/><rect x="449.66" y="272.50" width="1.40" height="1.40" fill="#fde725"/><rect x="427.95" y="271.23" width="1.40" height="1.40" fill="#7ad151"/><rect x="439.13" y="267.97" width="1.40" height="1.40" fill="#fde725"/><rect x="440.12" y="265.27" width="1.40" height="1.40" fill="#fde725"/><rect x="439.86" y="262.27" width="1.40" height="1.40" fill="#fde725"/><rect x="447.81" y="264.18" width="1.40" height="1.40" fill="#b5de2b"/><rect x="440.21" y="274.00" width="1.40" height="1.40" fill="#7ad151"/><rect x="428.41" y="277.25" width="1.40" height="1.40" fill="#b5de2b"/><rect x="452.65" y="271.31" width="1.40" height="1.40" fill="#fde725"/><rect x="439.59" y="266.43" width="1.40" height="1.40" fill="#7ad151"/><rect x="441.16" y="263.95" width="1.40" height="1.40" fill="#fde725"/><rect x="429.27" y="277.50" width="1.40" height="1.40" fill="#fde725"/><rect x="447.12" y="268.15" width="1.40" height="1.40" fill="#fde725"/><rect x="425.35" y="271.39" width="1.40" height="1.40" fill="#fde725"/><rect x="435.57" y="268.86" width="1.40" height="1.40" fill="#fde725"/><rect x="429.99" y="273.55" width="1.40" height="1.40" fill="#22a884"/><rect x="441.68" y="273.01" width="1.40" height="1.40" fill="#fde725"/><rect x="424.32" y="269.01" width="1.40" height="1.40" fill="#fde725"/><rect x="423.73" y="268.56" width="1.40" height="1.40" fill="#22a884"/><rect x="424.90" y="270.90" width="1.40" height="1.40" fill="#7ad151"/><rect x="445.72" y="275.58" width="1.40" height="1.40" fill="#22a884"/><rect x="436.16" y="269.00" width="1.40" height="1.40" fill="#22a884"/><rect x="446.87" y="270.30" width="1.40" height="1.40" fill="#b5de2b"/><rect x="433.84" y="269.39" width="1.40" height="1.40" fill="#fde725"/><rect x="452.70" y="271.00" width="1.40" height="1.40" fill="#22a884"/><rect x="452.78" y="266.98" width="1.40" height="1.40" fill="#22a884"/><rect x="446.12" y="272.26" width="1.40" height="1.40" fill="#7ad151"/><rect x="427.59" y="276.58" width="1.40" height="1.40" fill="#fde725"/><rect x="437.40" y="268.74" width="1.40" height="1.40" fill="#fde725"/><rect x="436.38" y="263.64" width="1.40" height="1.40" fill="#fde725"/><rect x="439.01" y="273.29" width="1.40" height="1.40" fill="#fde725"/><rect x="432.31" y="271.36" width="1.40" height="1.40" fill="#fde725"/><rect x="426.73" y="274.87" width="1.40" height="1.40" fill="#fde725"/><rect x="448.41" y="263.97" width="1.40" height="1.40" fill="#b5de2b"/><rect x="429.67" y="267.48" width="1.40" height="1.40" fill="#fde725"/><rect x="435.05" y="269.68" width="1.40" height="1.40" fill="#22a884"/><rect x="423.67" y="273.91" width="1.40" height="1.40" fill="#fde725"/><rect x="452.44" y="267.19" width="1.40" height="1.40" fill="#b5de2b"/><rect x="423.74" y="275.39" width="1.40" height="1.40" fill="#b5de2b"/><rect x="451.69" y="265.35" width="1.40" height="1.40" fill="#fde725"/><rect x="448.16" y="274.00" width="1.30" height="1.30" fill="#fde725"/><rect x="472.63" y="280.99" width="1.30" height="1.30" fill="#22a884"/><rect x="434.92" y="278.95" width="1.30" height="1.30" fill="#7ad151"/><rect x="473.91" y="268.84" width="1.30" height="1.30" fill="#7ad151"/><rect x="453.92" y="286.60" width="1.30" height="1.30" fill="#7ad151"/><rect x="456.08" y="261.80" width="1.30" height="1.30" fill="#7ad151"/><rect x="477.48" y="267.69" width="1.30" height="1.30" fill="#2a788e"/><rect x="437.83" y="279.95" width="1.30" height="1.30" fill="#414487"/><rect x="462.97" y="262.94" width="1.30" height="1.30" fill="#22a884"/><rect x="437.27" y="268.68" width="1.30" height="1.30" fill="#fde725"/><rect x="475.38" y="267.93" width="1.30" height="1.30" fill="#2a788e"/><rect x="475.45" y="273.69" width="1.30" height="1.30" fill="#fde725"/><rect x="455.66" y="275.73" width="1.30" height="1.30" fill="#22a884"/><rect x="468.38" y="276.00" width="1.30" height="1.30" fill="#22a884"/><rect x="487.23" y="262.05" width="1.30" height="1.30" fill="#7ad151"/><rect x="471.46" y="287.76" width="1.30" height="1.30" fill="#2a788e"/><rect x="460.84" y="264.93" width="1.30" height="1.30" fill="#22a884"/><rect x="445.26" y="274.34" width="1.30" height="1.30" fill="#fde725"/><rect x="462.31" y="275.02" width="1.30" height="1.30" fill="#2a788e"/><rect x="476.88" y="275.49" width="1.30" height="1.30" fill="#22a884"/><rect x="431.72" y="278.20" width="1.30" height="1.30" fill="#7ad151"/><rect x="475.50" y="276.33" width="1.30" height="1.30" fill="#7ad151"/><rect x="485.78" y="283.88" width="1.30" height="1.30" fill="#7ad151"/><rect x="439.94" y="276.22" width="1.30" height="1.30" fill="#2a788e"/><rect x="469.84" y="267.45" width="1.30" height="1.30" fill="#7ad151"/><rect x="469.27" y="281.51" width="1.30" height="1.30" fill="#2a788e"/><rect x="456.36" y="286.65" width="1.30" height="1.30" fill="#7ad151"/><rect x="460.51" y="272.82" width="1.30" height="1.30" fill="#22a884"/><rect x="480.26" y="285.91" width="1.30" height="1.30" fill="#fde725"/><rect x="466.84" y="276.19" width="1.30" height="1.30" fill="#414487"/><rect x="480.18" y="278.67" width="1.30" height="1.30" fill="#fde725"/><rect x="444.70" y="278.61" width="1.30" height="1.30" fill="#22a884"/><rect x="485.27" y="283.07" width="1.30" height="1.30" fill="#22a884"/><rect x="432.28" y="267.25" width="1.30" height="1.30" fill="#fde725"/><rect x="460.58" y="279.78" width="1.30" height="1.30" fill="#2a788e"/><rect x="453.07" y="270.65" width="1.30" height="1.30" fill="#7ad151"/><rect x="469.62" y="263.52" width="1.30" height="1.30" fill="#2a788e"/><rect x="456.96" y="282.44" width="1.30" height="1.30" fill="#fde725"/><rect x="463.08" y="262.18" width="1.30" height="1.30" fill="#22a884"/><rect x="443.28" y="272.51" width="1.30" height="1.30" fill="#fde725"/><rect x="470.63" y="268.52" width="1.30" height="1.30" fill="#fde725"/><rect x="465.36" y="266.84" width="1.30" height="1.30" fill="#22a884"/><rect x="424.83" y="266.39" width="1.30" height="1.30" fill="#7ad151"/><rect x="470.50" y="260.58" width="1.30" height="1.30" fill="#22a884"/><rect x="481.51" y="276.94" width="1.30" height="1.30" fill="#2a788e"/><rect x="435.91" y="271.09" width="1.30" height="1.30" fill="#fde725"/><rect x="436.09" y="270.12" width="1.30" height="1.30" fill="#fde725"/><rect x="486.37" y="284.28" width="1.30" height="1.30" fill="#22a884"/><rect x="435.07" y="266.00" width="1.30" height="1.30" fill="#22a884"/><rect x="483.44" y="274.00" width="1.30" height="1.30" fill="#22a884"/><rect x="492.41" y="265.69" width="1.30" height="1.30" fill="#22a884"/><rect x="453.82" y="260.81" width="1.30" height="1.30" fill="#7ad151"/><rect x="448.92" y="267.86" width="1.30" height="1.30" fill="#fde725"/><rect x="462.49" y="282.34" width="1.30" height="1.30" fill="#22a884"/><rect x="451.54" y="287.98" width="1.30" height="1.30" fill="#2a788e"/><rect x="436.28" y="262.56" width="1.30" height="1.30" fill="#fde725"/><rect x="448.65" y="283.09" width="1.30" height="1.30" fill="#2a788e"/><rect x="490.37" y="263.05" width="1.30" height="1.30" fill="#7ad151"/><rect x="490.33" y="273.30" width="1.30" height="1.30" fill="#22a884"/><rect x="445.65" y="283.24" width="1.30" height="1.30" fill="#22a884"/><rect x="475.57" y="268.72" width="1.30" height="1.30" fill="#2a788e"/><rect x="430.48" y="277.81" width="1.30" height="1.30" fill="#fde725"/><rect x="435.49" y="272.08" width="1.30" height="1.30" fill="#22a884"/><rect x="464.68" y="263.57" width="1.30" height="1.30" fill="#2a788e"/><rect x="465.04" y="269.08" width="1.30" height="1.30" fill="#22a884"/><rect x="475.31" y="263.91" width="1.30" height="1.30" fill="#7ad151"/><rect x="489.96" y="275.93" width="1.30" height="1.30" fill="#22a884"/><rect x="452.61" y="271.33" width="1.30" height="1.30" fill="#7ad151"/><rect x="437.02" y="268.40" width="1.30" height="1.30" fill="#7ad151"/><rect x="470.53" y="263.70" width="1.30" height="1.30" fill="#fde725"/><rect x="482.35" y="274.32" width="1.30" height="1.30" fill="#fde725"/><rect x="443.28" y="280.14" width="1.30" height="1.30" fill="#7ad151"/><rect x="465.91" y="270.30" width="1.30" height="1.30" fill="#fde725"/><rect x="437.76" y="278.96" width="1.30" height="1.30" fill="#fde725"/><rect x="486.91" y="263.06" width="1.30" height="1.30" fill="#22a884"/><rect x="422.58" y="271.23" width="1.30" height="1.30" fill="#7ad151"/><rect x="442.11" y="281.15" width="1.30" height="1.30" fill="#7ad151"/><rect x="431.15" y="271.83" width="1.30" height="1.30" fill="#22a884"/><rect x="484.19" y="270.22" width="1.30" height="1.30" fill="#2a788e"/><rect x="438.21" y="262.23" width="1.30" height="1.30" fill="#7ad151"/><rect x="458.96" y="267.32" width="1.30" height="1.30" fill="#22a884"/><rect x="441.01" y="271.04" width="1.30" height="1.30" fill="#2a788e"/><rect x="443.45" y="281.64" width="1.30" height="1.30" fill="#7ad151"/><rect x="445.50" y="270.92" width="1.30" height="1.30" fill="#7ad151"/><rect x="440.14" y="280.06" width="1.30" height="1.30" fill="#fde725"/><rect x="473.23" y="271.27" width="1.30" height="1.30" fill="#7ad151"/><rect x="500.41" y="270.59" width="1.30" height="1.30" fill="#2a788e"/><rect x="478.88" y="266.06" width="1.30" height="1.30" fill="#fde725"/><rect x="471.93" y="278.60" width="1.30" height="1.30" fill="#22a884"/><rect x="470.66" y="261.32" width="1.30" height="1.30" fill="#fde725"/><rect x="450.57" y="287.55" width="1.30" height="1.30" fill="#fde725"/><rect x="487.28" y="280.54" width="1.30" height="1.30" fill="#7ad151"/><rect x="444.20" y="270.52" width="1.30" height="1.30" fill="#fde725"/><rect x="430.39" y="265.32" width="1.30" height="1.30" fill="#7ad151"/><rect x="439.81" y="266.17" width="1.30" height="1.30" fill="#22a884"/><rect x="451.62" y="266.77" width="1.30" height="1.30" fill="#22a884"/><rect x="491.21" y="283.07" width="1.30" height="1.30" fill="#fde725"/><rect x="471.67" y="276.73" width="1.30" height="1.30" fill="#2a788e"/><rect x="501.64" y="269.69" width="1.30" height="1.30" fill="#7ad151"/><rect x="487.44" y="265.80" width="1.30" height="1.30" fill="#22a884"/><rect x="489.07" y="264.29" width="1.30" height="1.30" fill="#2a788e"/><rect x="477.32" y="284.30" width="1.30" height="1.30" fill="#7ad151"/><rect x="449.50" y="268.21" width="1.30" height="1.30" fill="#2a788e"/><rect x="475.47" y="274.80" width="1.30" height="1.30" fill="#2a788e"/><rect x="439.04" y="269.42" width="1.30" height="1.30" fill="#fde725"/><rect x="461.92" y="280.41" width="1.30" height="1.30" fill="#fde725"/><rect x="439.44" y="275.08" width="1.30" height="1.30" fill="#414487"/><rect x="477.71" y="267.19" width="1.30" height="1.30" fill="#2a788e"/><rect x="445.79" y="269.70" width="1.30" height="1.30" fill="#414487"/><rect x="435.17" y="276.83" width="1.30" height="1.30" fill="#fde725"/><rect x="466.72" y="272.39" width="1.30" height="1.30" fill="#2a788e"/><rect x="440.75" y="264.34" width="1.30" height="1.30" fill="#7ad151"/><rect x="450.14" y="280.10" width="1.30" height="1.30" fill="#7ad151"/><rect x="458.40" y="280.86" width="1.30" height="1.30" fill="#414487"/><rect x="477.17" y="272.35" width="1.30" height="1.30" fill="#2a788e"/><rect x="475.27" y="271.34" width="1.30" height="1.30" fill="#2a788e"/><rect x="479.40" y="263.02" width="1.30" height="1.30" fill="#fde725"/><rect x="434.21" y="270.40" width="1.30" height="1.30" fill="#22a884"/><rect x="464.55" y="274.32" width="1.30" height="1.30" fill="#7ad151"/><rect x="423.21" y="272.95" width="1.30" height="1.30" fill="#2a788e"/><rect x="442.03" y="271.49" width="1.30" height="1.30" fill="#2a788e"/><rect x="452.86" y="263.75" width="1.30" height="1.30" fill="#2a788e"/><rect x="451.22" y="280.87" width="1.30" height="1.30" fill="#22a884"/><rect x="455.83" y="285.20" width="1.30" height="1.30" fill="#22a884"/><rect x="459.83" y="263.08" width="1.30" height="1.30" fill="#7ad151"/><rect x="494.30" y="267.73" width="1.30" height="1.30" fill="#2a788e"/><rect x="441.19" y="266.40" width="1.30" height="1.30" fill="#22a884"/><rect x="434.85" y="276.45" width="1.30" height="1.30" fill="#22a884"/><rect x="495.01" y="268.94" width="1.30" height="1.30" fill="#fde725"/><rect x="420.14" y="270.24" width="1.30" height="1.30" fill="#22a884"/><rect x="451.80" y="261.14" width="1.30" height="1.30" fill="#22a884"/><rect x="471.00" y="284.99" width="1.30" height="1.30" fill="#7ad151"/><rect x="455.91" y="285.20" width="1.30" height="1.30" fill="#2a788e"/><rect x="499.54" y="276.06" width="1.30" height="1.30" fill="#2a788e"/><rect x="423.85" y="270.48" width="1.30" height="1.30" fill="#414487"/><rect x="465.70" y="261.30" width="1.30" height="1.30" fill="#22a884"/><rect x="418.26" y="265.86" width="1.30" height="1.30" fill="#7ad151"/><rect x="487.83" y="283.91" width="1.30" height="1.30" fill="#2a788e"/><rect x="460.41" y="268.90" width="1.30" height="1.30" fill="#22a884"/><rect x="489.36" y="283.15" width="1.30" height="1.30" fill="#414487"/><rect x="452.35" y="281.21" width="1.30" height="1.30" fill="#7ad151"/><rect x="495.56" y="278.69" width="1.30" height="1.30" fill="#fde725"/><rect x="467.53" y="266.39" width="1.30" height="1.30" fill="#22a884"/><rect x="480.37" y="275.04" width="1.30" height="1.30" fill="#7ad151"/><rect x="487.89" y="270.66" width="1.30" height="1.30" fill="#2a788e"/><rect x="456.48" y="269.03" width="1.30" height="1.30" fill="#fde725"/><rect x="496.10" y="269.32" width="1.30" height="1.30" fill="#fde725"/><rect x="440.37" y="265.97" width="1.30" height="1.30" fill="#fde725"/><rect x="464.87" y="280.44" width="1.30" height="1.30" fill="#fde725"/><rect x="447.58" y="264.17" width="1.30" height="1.30" fill="#7ad151"/><rect x="447.83" y="272.70" width="1.30" height="1.30" fill="#fde725"/><rect x="452.13" y="260.97" width="1.30" height="1.30" fill="#fde725"/><rect x="445.32" y="276.00" width="1.30" height="1.30" fill="#414487"/><rect x="445.27" y="282.73" width="1.30" height="1.30" fill="#fde725"/><rect x="467.70" y="269.32" width="1.30" height="1.30" fill="#22a884"/><rect x="452.86" y="281.24" width="1.30" height="1.30" fill="#fde725"/><rect x="451.29" y="287.90" width="1.30" height="1.30" fill="#fde725"/><rect x="485.01" y="275.63" width="1.30" height="1.30" fill="#fde725"/><rect x="450.25" y="279.31" width="1.30" height="1.30" fill="#7ad151"/><rect x="470.98" y="270.03" width="1.30" height="1.30" fill="#22a884"/><rect x="491.85" y="278.84" width="1.30" height="1.30" fill="#22a884"/><rect x="482.09" y="272.87" width="1.30" height="1.30" fill="#22a884"/><rect x="453.84" y="271.27" width="1.30" height="1.30" fill="#7ad151"/><rect x="450.01" y="276.13" width="1.30" height="1.30" fill="#fde725"/><rect x="462.18" y="260.35" width="1.30" height="1.30" fill="#2a788e"/><rect x="456.65" y="268.16" width="1.30" height="1.30" fill="#fde725"/><rect x="469.08" y="288.23" width="1.30" height="1.30" fill="#fde725"/><rect x="464.07" y="269.52" width="1.30" height="1.30" fill="#7ad151"/><rect x="481.56" y="269.05" width="1.30" height="1.30" fill="#2a788e"/><rect x="458.15" y="276.45" width="1.30" height="1.30" fill="#fde725"/><rect x="503.49" y="274.57" width="1.30" height="1.30" fill="#7ad151"/><rect x="486.07" y="263.76" width="1.30" height="1.30" fill="#fde725"/><rect x="486.75" y="275.21" width="1.30" height="1.30" fill="#7ad151"/><rect x="479.26" y="267.12" width="1.30" height="1.30" fill="#414487"/><rect x="447.69" y="265.78" width="1.30" height="1.30" fill="#fde725"/><rect x="492.65" y="265.43" width="1.30" height="1.30" fill="#7ad151"/><rect x="426.68" y="273.00" width="1.30" height="1.30" fill="#414487"/><rect x="460.05" y="266.85" width="1.30" height="1.30" fill="#414487"/><rect x="460.56" y="261.08" width="1.30" height="1.30" fill="#22a884"/><rect x="432.88" y="269.70" width="1.30" height="1.30" fill="#7ad151"/><rect x="442.45" y="272.25" width="1.30" height="1.30" fill="#2a788e"/><rect x="451.16" y="285.68" width="1.30" height="1.30" fill="#2a788e"/><rect x="457.86" y="274.51" width="1.30" height="1.30" fill="#fde725"/><rect x="472.09" y="286.52" width="1.30" height="1.30" fill="#2a788e"/><rect x="501.76" y="276.71" width="1.30" height="1.30" fill="#22a884"/><rect x="450.25" y="284.66" width="1.30" height="1.30" fill="#2a788e"/><rect x="444.78" y="278.87" width="1.30" height="1.30" fill="#7ad151"/><rect x="474.62" y="265.82" width="1.30" height="1.30" fill="#7ad151"/><rect x="433.07" y="263.32" width="1.30" height="1.30" fill="#2a788e"/><rect x="467.86" y="260.63" width="1.30" height="1.30" fill="#7ad151"/><rect x="470.42" y="270.43" width="1.30" height="1.30" fill="#7ad151"/><rect x="493.08" y="283.21" width="1.30" height="1.30" fill="#7ad151"/><rect x="454.30" y="284.77" width="1.30" height="1.30" fill="#22a884"/><rect x="441.64" y="263.50" width="1.30" height="1.30" fill="#fde725"/><rect x="499.27" y="270.09" width="1.30" height="1.30" fill="#2a788e"/><rect x="453.70" y="274.62" width="1.30" height="1.30" fill="#fde725"/><rect x="476.22" y="273.45" width="1.30" height="1.30" fill="#22a884"/><rect x="451.07" y="282.39" width="1.30" height="1.30" fill="#2a788e"/><rect x="436.52" y="279.18" width="1.30" height="1.30" fill="#7ad151"/><rect x="453.81" y="268.07" width="1.30" height="1.30" fill="#22a884"/><rect x="474.64" y="267.65" width="1.30" height="1.30" fill="#2a788e"/><rect x="477.81" y="280.18" width="1.30" height="1.30" fill="#7ad151"/><rect x="468.97" y="286.20" width="1.30" height="1.30" fill="#22a884"/><rect x="453.95" y="269.94" width="1.30" height="1.30" fill="#414487"/><rect x="468.74" y="276.27" width="1.30" height="1.30" fill="#fde725"/><rect x="456.77" y="265.84" width="1.30" height="1.30" fill="#414487"/><rect x="448.98" y="270.96" width="1.30" height="1.30" fill="#2a788e"/><rect x="468.70" y="280.97" width="1.30" height="1.30" fill="#fde725"/><rect x="475.46" y="264.18" width="1.30" height="1.30" fill="#fde725"/><rect x="448.82" y="273.76" width="1.30" height="1.30" fill="#7ad151"/><rect x="459.08" y="279.56" width="1.30" height="1.30" fill="#fde725"/><rect x="489.44" y="279.50" width="1.30" height="1.30" fill="#2a788e"/><rect x="462.40" y="277.46" width="1.30" height="1.30" fill="#22a884"/><rect x="449.53" y="263.78" width="1.30" height="1.30" fill="#22a884"/><rect x="477.89" y="283.73" width="1.30" height="1.30" fill="#7ad151"/><rect x="458.57" y="286.75" width="1.30" height="1.30" fill="#22a884"/><rect x="458.12" y="259.84" width="1.30" height="1.30" fill="#7ad151"/><rect x="419.45" y="270.23" width="1.30" height="1.30" fill="#22a884"/><rect x="466.16" y="289.56" width="1.30" height="1.30" fill="#414487"/><rect x="486.01" y="268.70" width="1.30" height="1.30" fill="#22a884"/><rect x="466.42" y="261.45" width="1.30" height="1.30" fill="#7ad151"/><rect x="461.91" y="268.46" width="1.30" height="1.30" fill="#414487"/><rect x="438.74" y="277.66" width="1.30" height="1.30" fill="#22a884"/><rect x="422.07" y="266.10" width="1.30" height="1.30" fill="#22a884"/><rect x="432.16" y="262.59" width="1.30" height="1.30" fill="#fde725"/><rect x="491.31" y="264.15" width="1.30" height="1.30" fill="#2a788e"/><rect x="463.02" y="271.95" width="1.30" height="1.30" fill="#2a788e"/><rect x="450.11" y="268.47" width="1.30" height="1.30" fill="#2a788e"/><rect x="473.30" y="285.63" width="1.30" height="1.30" fill="#fde725"/><rect x="451.26" y="268.63" width="1.30" height="1.30" fill="#7ad151"/><rect x="463.63" y="231.12" width="1.20" height="1.20" fill="#2a788e"/><rect x="443.01" y="222.34" width="1.20" height="1.20" fill="#7ad151"/><rect x="446.78" y="228.30" width="1.20" height="1.20" fill="#7ad151"/><rect x="425.65" y="232.92" width="1.20" height="1.20" fill="#2a788e"/><rect x="456.32" y="233.69" width="1.20" height="1.20" fill="#2a788e"/><rect x="428.69" y="240.43" width="1.20" height="1.20" fill="#22a884"/><rect x="441.15" y="241.19" width="1.20" height="1.20" fill="#2a788e"/><rect x="440.69" y="240.24" width="1.20" height="1.20" fill="#22a884"/><rect x="432.27" y="243.29" width="1.20" height="1.20" fill="#22a884"/><rect x="445.19" y="232.97" width="1.20" height="1.20" fill="#2a788e"/><rect x="422.86" y="251.08" width="1.20" height="1.20" fill="#22a884"/><rect x="428.92" y="238.89" width="1.20" height="1.20" fill="#7ad151"/><rect x="454.41" y="231.86" width="1.20" height="1.20" fill="#22a884"/><rect x="423.06" y="243.12" width="1.20" height="1.20" fill="#2a788e"/><rect x="393.01" y="264.49" width="1.20" height="1.20" fill="#22a884"/><rect x="382.06" y="273.35" width="1.20" height="1.20" fill="#22a884"/><rect x="385.42" y="260.21" width="1.20" height="1.20" fill="#2a788e"/><rect x="383.34" y="262.87" width="1.20" height="1.20" fill="#22a884"/><rect x="397.29" y="272.26" width="1.20" height="1.20" fill="#22a884"/><rect x="385.37" y="256.12" width="1.20" height="1.20" fill="#22a884"/><rect x="401.50" y="272.16" width="1.20" height="1.20" fill="#22a884"/><rect x="392.09" y="273.43" width="1.20" height="1.20" fill="#22a884"/><rect x="395.73" y="265.79" width="1.20" height="1.20" fill="#22a884"/><rect x="378.63" y="256.11" width="1.20" height="1.20" fill="#22a884"/><rect x="384.85" y="266.64" width="1.20" height="1.20" fill="#2a788e"/><rect x="397.68" y="266.56" width="1.20" height="1.20" fill="#22a884"/><rect x="384.18" y="277.73" width="1.20" height="1.20" fill="#22a884"/><rect x="394.70" y="265.18" width="1.20" height="1.20" fill="#7ad151"/><rect x="376.34" y="263.07" width="1.20" height="1.20" fill="#22a884"/><rect x="398.83" y="257.27" width="1.20" height="1.20" fill="#2a788e"/><rect x="387.71" y="254.61" width="1.20" height="1.20" fill="#2a788e"/><rect x="401.59" y="259.49" width="1.20" height="1.20" fill="#2a788e"/><rect x="388.36" y="273.63" width="1.20" height="1.20" fill="#2a788e"/><rect x="388.90" y="267.62" width="1.20" height="1.20" fill="#7ad151"/><rect x="395.89" y="258.51" width="1.20" height="1.20" fill="#7ad151"/><rect x="383.22" y="254.13" width="1.20" height="1.20" fill="#22a884"/><rect x="393.14" y="264.60" width="1.20" height="1.20" fill="#7ad151"/><rect x="394.12" y="266.79" width="1.20" height="1.20" fill="#7ad151"/><rect x="398.92" y="264.05" width="1.20" height="1.20" fill="#7ad151"/><rect x="385.41" y="256.31" width="1.20" height="1.20" fill="#2a788e"/><rect x="380.48" y="261.25" width="1.20" height="1.20" fill="#2a788e"/><rect x="390.82" y="261.13" width="1.20" height="1.20" fill="#22a884"/><rect x="397.72" y="261.06" width="1.20" height="1.20" fill="#22a884"/><rect x="395.11" y="266.21" width="1.20" height="1.20" fill="#7ad151"/><rect x="365.94" y="265.09" width="1.20" height="1.20" fill="#2a788e"/><rect x="370.23" y="264.65" width="1.20" height="1.20" fill="#2a788e"/><rect x="368.09" y="270.59" width="1.20" height="1.20" fill="#7ad151"/><rect x="370.41" y="264.83" width="1.20" height="1.20" fill="#22a884"/><rect x="374.22" y="276.24" width="1.20" height="1.20" fill="#2a788e"/><rect x="369.59" y="266.22" width="1.20" height="1.20" fill="#22a884"/><rect x="369.10" y="263.47" width="1.20" height="1.20" fill="#22a884"/><rect x="369.46" y="266.60" width="1.20" height="1.20" fill="#7ad151"/><rect x="367.33" y="268.34" width="1.20" height="1.20" fill="#7ad151"/><rect x="373.60" y="273.68" width="1.20" height="1.20" fill="#7ad151"/><rect x="374.33" y="272.20" width="1.20" height="1.20" fill="#2a788e"/><rect x="370.70" y="274.50" width="1.20" height="1.20" fill="#22a884"/><rect x="372.60" y="272.94" width="1.20" height="1.20" fill="#2a788e"/><rect x="376.57" y="276.93" width="1.20" height="1.20" fill="#7ad151"/><rect x="418.74" y="308.24" width="1.20" height="1.20" fill="#22a884"/><rect x="411.06" y="301.35" width="1.20" height="1.20" fill="#7ad151"/><rect x="410.92" y="315.07" width="1.20" height="1.20" fill="#22a884"/><rect x="415.78" y="294.23" width="1.20" height="1.20" fill="#2a788e"/><rect x="442.37" y="282.30" width="1.20" height="1.20" fill="#22a884"/><rect x="413.63" y="296.02" width="1.20" height="1.20" fill="#22a884"/><rect x="428.58" y="282.91" width="1.20" height="1.20" fill="#7ad151"/><rect x="434.80" y="283.26" width="1.20" height="1.20" fill="#2a788e"/><rect x="471.34" y="302.66" width="1.20" height="1.20" fill="#7ad151"/><rect x="479.99" y="327.34" width="1.20" height="1.20" fill="#7ad151"/><rect x="427.73" y="327.16" width="1.20" height="1.20" fill="#7ad151"/><rect x="477.63" y="329.98" width="1.20" height="1.20" fill="#22a884"/><rect x="483.37" y="318.76" width="1.20" height="1.20" fill="#2a788e"/><rect x="473.87" y="323.60" width="1.20" height="1.20" fill="#2a788e"/><rect x="450.82" y="311.38" width="1.20" height="1.20" fill="#2a788e"/><rect x="433.49" y="321.81" width="1.20" height="1.20" fill="#2a788e"/><rect x="427.59" y="330.29" width="1.20" height="1.20" fill="#7ad151"/><rect x="434.08" y="323.67" width="1.20" height="1.20" fill="#2a788e"/><rect x="461.01" y="302.35" width="1.20" height="1.20" fill="#2a788e"/><rect x="469.67" y="335.07" width="1.20" height="1.20" fill="#7ad151"/><rect x="396.18" y="236.40" width="1.20" height="1.20" fill="#7ad151"/><rect x="398.78" y="229.58" width="1.20" height="1.20" fill="#2a788e"/><rect x="404.13" y="228.42" width="1.20" height="1.20" fill="#2a788e"/><rect x="401.77" y="236.19" width="1.20" height="1.20" fill="#22a884"/><rect x="400.38" y="237.94" width="1.20" height="1.20" fill="#2a788e"/><rect x="410.10" y="234.61" width="1.20" height="1.20" fill="#22a884"/><rect x="377.08" y="294.92" width="1.20" height="1.20" fill="#22a884"/><rect x="386.41" y="288.90" width="1.20" height="1.20" fill="#22a884"/><rect x="370.60" y="285.55" width="1.20" height="1.20" fill="#2a788e"/><rect x="374.47" y="296.64" width="1.20" height="1.20" fill="#22a884"/><rect x="383.47" y="287.29" width="1.20" height="1.20" fill="#22a884"/><rect x="371.56" y="284.48" width="1.20" height="1.20" fill="#22a884"/><rect x="385.01" y="293.51" width="1.20" height="1.20" fill="#2a788e"/><rect x="374.96" y="293.52" width="1.20" height="1.20" fill="#2a788e"/><rect x="480.49" y="231.27" width="1.20" height="1.20" fill="#2a788e"/><rect x="476.47" y="237.61" width="1.20" height="1.20" fill="#7ad151"/><rect x="474.20" y="241.61" width="1.20" height="1.20" fill="#2a788e"/><rect x="470.62" y="240.96" width="1.20" height="1.20" fill="#7ad151"/><rect x="479.47" y="230.99" width="1.20" height="1.20" fill="#2a788e"/><rect x="474.67" y="238.57" width="1.20" height="1.20" fill="#2a788e"/><rect x="474.81" y="232.30" width="1.20" height="1.20" fill="#2a788e"/><rect x="482.82" y="235.49" width="1.20" height="1.20" fill="#22a884"/><rect x="473.09" y="241.90" width="1.20" height="1.20" fill="#22a884"/><rect x="462.95" y="235.85" width="1.20" height="1.20" fill="#2a788e"/><rect x="489.27" y="242.82" width="1.20" height="1.20" fill="#22a884"/><rect x="484.98" y="248.26" width="1.20" height="1.20" fill="#2a788e"/><rect x="490.19" y="244.66" width="1.20" height="1.20" fill="#2a788e"/><rect x="488.87" y="248.20" width="1.20" height="1.20" fill="#2a788e"/><rect x="488.39" y="246.71" width="1.20" height="1.20" fill="#2a788e"/><rect x="493.38" y="247.02" width="1.20" height="1.20" fill="#7ad151"/><rect x="483.78" y="247.19" width="1.20" height="1.20" fill="#2a788e"/><rect x="485.62" y="247.64" width="1.20" height="1.20" fill="#2a788e"/><rect x="419.23" y="332.02" width="1.20" height="1.20" fill="#22a884"/><rect x="421.37" y="345.02" width="1.20" height="1.20" fill="#2a788e"/><rect x="434.86" y="351.79" width="1.20" height="1.20" fill="#2a788e"/><rect x="432.84" y="347.92" width="1.20" height="1.20" fill="#2a788e"/><rect x="418.72" y="345.44" width="1.20" height="1.20" fill="#7ad151"/><rect x="425.27" y="331.83" width="1.20" height="1.20" fill="#2a788e"/><rect x="402.69" y="242.42" width="1.20" height="1.20" fill="#7ad151"/><rect x="410.63" y="244.57" width="1.20" height="1.20" fill="#22a884"/><rect x="410.19" y="262.22" width="1.20" height="1.20" fill="#22a884"/><rect x="411.88" y="259.48" width="1.20" height="1.20" fill="#2a788e"/><rect x="407.27" y="266.36" width="1.20" height="1.20" fill="#7ad151"/><rect x="407.98" y="248.77" width="1.20" height="1.20" fill="#22a884"/><rect x="417.17" y="258.13" width="1.20" height="1.20" fill="#2a788e"/><rect x="417.06" y="271.30" width="1.20" height="1.20" fill="#2a788e"/><rect x="420.35" y="271.45" width="1.20" height="1.20" fill="#22a884"/><rect x="420.33" y="277.26" width="1.20" height="1.20" fill="#2a788e"/><rect x="411.38" y="265.55" width="1.20" height="1.20" fill="#2a788e"/><rect x="423.61" y="265.56" width="1.20" height="1.20" fill="#22a884"/><rect x="400.62" y="285.74" width="1.20" height="1.20" fill="#2a788e"/><rect x="401.81" y="283.49" width="1.20" height="1.20" fill="#2a788e"/><rect x="397.51" y="295.39" width="1.20" height="1.20" fill="#22a884"/><rect x="404.72" y="288.37" width="1.20" height="1.20" fill="#2a788e"/><rect x="407.80" y="300.16" width="1.20" height="1.20" fill="#2a788e"/><rect x="399.82" y="295.04" width="1.20" height="1.20" fill="#22a884"/><rect x="413.06" y="284.43" width="1.20" height="1.20" fill="#7ad151"/><rect x="406.57" y="286.35" width="1.20" height="1.20" fill="#2a788e"/><rect x="499.37" y="256.69" width="1.20" height="1.20" fill="#22a884"/><rect x="501.97" y="255.90" width="1.20" height="1.20" fill="#7ad151"/><rect x="504.15" y="256.04" width="1.20" height="1.20" fill="#7ad151"/><rect x="502.32" y="258.39" width="1.20" height="1.20" fill="#2a788e"/><rect x="498.99" y="252.24" width="1.20" height="1.20" fill="#2a788e"/><rect x="507.12" y="266.16" width="1.20" height="1.20" fill="#22a884"/><rect x="485.33" y="296.62" width="1.20" height="1.20" fill="#2a788e"/><rect x="493.92" y="298.04" width="1.20" height="1.20" fill="#7ad151"/><rect x="495.79" y="294.51" width="1.20" height="1.20" fill="#7ad151"/><rect x="484.87" y="293.71" width="1.20" height="1.20" fill="#22a884"/><rect x="611.83" y="273.31" width="1.40" height="1.40" fill="#fde725"/><rect x="607.09" y="268.48" width="1.40" height="1.40" fill="#7ad151"/><rect x="612.14" y="273.06" width="1.40" height="1.40" fill="#7ad151"/><rect x="620.04" y="272.33" width="1.40" height="1.40" fill="#2a788e"/><rect x="593.86" y="272.72" width="1.40" height="1.40" fill="#7ad151"/><rect x="607.77" y="267.74" width="1.40" height="1.40" fill="#22a884"/><rect x="596.64" y="273.82" width="1.40" height="1.40" fill="#7ad151"/><rect x="619.69" y="275.76" width="1.40" height="1.40" fill="#22a884"/><rect x="628.57" y="270.71" width="1.40" height="1.40" fill="#22a884"/><rect x="610.66" y="273.37" width="1.40" height="1.40" fill="#22a884"/><rect x="614.30" y="277.24" width="1.40" height="1.40" fill="#2a788e"/><rect x="600.01" y="273.99" width="1.40" height="1.40" fill="#22a884"/><rect x="614.90" y="270.68" width="1.40" height="1.40" fill="#22a884"/><rect x="609.02" y="269.13" width="1.40" height="1.40" fill="#2a788e"/><rect x="611.64" y="272.46" width="1.40" height="1.40" fill="#2a788e"/><rect x="619.02" y="268.04" width="1.40" height="1.40" fill="#7ad151"/><rect x="626.71" y="268.55" width="1.40" height="1.40" fill="#7ad151"/><rect x="598.13" y="265.91" width="1.40" height="1.40" fill="#7ad151"/><rect x="607.91" y="271.83" width="1.40" height="1.40" fill="#5ec962"/><rect x="612.80" y="262.29" width="1.40" height="1.40" fill="#5ec962"/><rect x="594.78" y="273.62" width="1.40" height="1.40" fill="#22a884"/><rect x="608.55" y="275.31" width="1.40" height="1.40" fill="#22a884"/><rect x="622.43" y="265.66" width="1.40" height="1.40" fill="#22a884"/><rect x="620.24" y="262.44" width="1.40" height="1.40" fill="#7ad151"/><rect x="612.74" y="272.34" width="1.40" height="1.40" fill="#fde725"/><rect x="595.78" y="269.84" width="1.40" height="1.40" fill="#22a884"/><rect x="606.71" y="269.77" width="1.40" height="1.40" fill="#fde725"/><rect x="628.92" y="268.17" width="1.40" height="1.40" fill="#22a884"/><rect x="622.92" y="265.65" width="1.40" height="1.40" fill="#2a788e"/><rect x="594.05" y="266.49" width="1.40" height="1.40" fill="#5ec962"/><rect x="624.25" y="264.94" width="1.40" height="1.40" fill="#5ec962"/><rect x="594.71" y="267.44" width="1.40" height="1.40" fill="#5ec962"/><rect x="619.21" y="266.69" width="1.40" height="1.40" fill="#22a884"/><rect x="602.52" y="271.03" width="1.40" height="1.40" fill="#7ad151"/><rect x="612.41" y="267.99" width="1.40" height="1.40" fill="#fde725"/><rect x="599.96" y="266.90" width="1.40" height="1.40" fill="#5ec962"/><rect x="595.55" y="267.58" width="1.40" height="1.40" fill="#5ec962"/><rect x="613.38" y="273.98" width="1.40" height="1.40" fill="#fde725"/><rect x="623.90" y="274.65" width="1.40" height="1.40" fill="#2a788e"/><rect x="603.49" y="273.76" width="1.40" height="1.40" fill="#fde725"/><rect x="594.84" y="271.57" width="1.40" height="1.40" fill="#7ad151"/><rect x="609.77" y="266.02" width="1.40" height="1.40" fill="#7ad151"/><rect x="611.73" y="262.83" width="1.40" height="1.40" fill="#2a788e"/><rect x="617.54" y="277.90" width="1.40" height="1.40" fill="#7ad151"/><rect x="622.70" y="269.11" width="1.40" height="1.40" fill="#2a788e"/><rect x="597.33" y="268.88" width="1.40" height="1.40" fill="#22a884"/><rect x="615.85" y="267.88" width="1.40" height="1.40" fill="#7ad151"/><rect x="618.05" y="268.54" width="1.40" height="1.40" fill="#22a884"/><rect x="614.13" y="275.61" width="1.40" height="1.40" fill="#7ad151"/><rect x="623.91" y="274.23" width="1.40" height="1.40" fill="#22a884"/><rect x="619.99" y="271.28" width="1.40" height="1.40" fill="#2a788e"/><rect x="617.02" y="265.51" width="1.40" height="1.40" fill="#2a788e"/><rect x="620.42" y="268.70" width="1.40" height="1.40" fill="#22a884"/><rect x="596.53" y="268.03" width="1.40" height="1.40" fill="#22a884"/><rect x="619.84" y="264.28" width="1.40" height="1.40" fill="#22a884"/><rect x="621.19" y="267.24" width="1.40" height="1.40" fill="#22a884"/><rect x="622.67" y="273.34" width="1.40" height="1.40" fill="#7ad151"/><rect x="612.34" y="269.56" width="1.40" height="1.40" fill="#22a884"/><rect x="595.95" y="272.20" width="1.40" height="1.40" fill="#7ad151"/><rect x="602.86" y="267.53" width="1.40" height="1.40" fill="#22a884"/><rect x="594.09" y="268.11" width="1.40" height="1.40" fill="#7ad151"/><rect x="626.05" y="273.85" width="1.40" height="1.40" fill="#7ad151"/><rect x="612.84" y="274.02" width="1.40" height="1.40" fill="#22a884"/><rect x="612.83" y="268.60" width="1.40" height="1.40" fill="#2a788e"/><rect x="625.83" y="266.17" width="1.40" height="1.40" fill="#7ad151"/><rect x="623.65" y="262.66" width="1.40" height="1.40" fill="#5ec962"/><rect x="602.45" y="271.21" width="1.40" height="1.40" fill="#5ec962"/><rect x="623.89" y="270.92" width="1.40" height="1.40" fill="#7ad151"/><rect x="614.85" y="273.71" width="1.40" height="1.40" fill="#7ad151"/><rect x="617.84" y="264.78" width="1.40" height="1.40" fill="#7ad151"/><rect x="602.38" y="271.33" width="1.40" height="1.40" fill="#7ad151"/><rect x="612.60" y="269.31" width="1.40" height="1.40" fill="#7ad151"/><rect x="616.55" y="268.61" width="1.40" height="1.40" fill="#5ec962"/><rect x="623.80" y="272.43" width="1.40" height="1.40" fill="#22a884"/><rect x="598.58" y="273.02" width="1.40" height="1.40" fill="#5ec962"/><rect x="618.81" y="275.73" width="1.40" height="1.40" fill="#7ad151"/><rect x="609.47" y="272.61" width="1.40" height="1.40" fill="#7ad151"/><rect x="606.71" y="275.25" width="1.40" height="1.40" fill="#7ad151"/><rect x="608.42" y="268.79" width="1.40" height="1.40" fill="#5ec962"/><rect x="600.74" y="275.60" width="1.40" height="1.40" fill="#5ec962"/><rect x="613.66" y="262.73" width="1.40" height="1.40" fill="#5ec962"/><rect x="618.61" y="274.78" width="1.40" height="1.40" fill="#fde725"/><rect x="607.43" y="274.66" width="1.40" height="1.40" fill="#7ad151"/><rect x="605.62" y="277.07" width="1.40" height="1.40" fill="#fde725"/><rect x="600.30" y="264.66" width="1.40" height="1.40" fill="#fde725"/><rect x="614.55" y="262.18" width="1.40" height="1.40" fill="#22a884"/><rect x="607.66" y="270.52" width="1.40" height="1.40" fill="#22a884"/><rect x="610.84" y="271.03" width="1.40" height="1.40" fill="#fde725"/><rect x="598.61" y="268.67" width="1.40" height="1.40" fill="#7ad151"/><rect x="617.95" y="269.98" width="1.40" height="1.40" fill="#fde725"/><rect x="599.69" y="275.05" width="1.40" height="1.40" fill="#7ad151"/><rect x="619.73" y="269.27" width="1.40" height="1.40" fill="#7ad151"/><rect x="630.38" y="268.36" width="1.40" height="1.40" fill="#22a884"/><rect x="625.68" y="264.06" width="1.40" height="1.40" fill="#22a884"/><rect x="602.60" y="269.20" width="1.40" height="1.40" fill="#5ec962"/><rect x="603.28" y="263.78" width="1.40" height="1.40" fill="#fde725"/><rect x="615.26" y="277.96" width="1.40" height="1.40" fill="#fde725"/><rect x="611.87" y="265.42" width="1.40" height="1.40" fill="#5ec962"/><rect x="606.60" y="273.17" width="1.40" height="1.40" fill="#5ec962"/><rect x="605.81" y="266.03" width="1.40" height="1.40" fill="#22a884"/><rect x="618.73" y="267.70" width="1.40" height="1.40" fill="#22a884"/><rect x="629.27" y="268.14" width="1.40" height="1.40" fill="#7ad151"/><rect x="598.45" y="270.30" width="1.40" height="1.40" fill="#22a884"/><rect x="602.48" y="270.24" width="1.40" height="1.40" fill="#fde725"/><rect x="606.72" y="268.89" width="1.40" height="1.40" fill="#7ad151"/><rect x="606.71" y="268.48" width="1.40" height="1.40" fill="#5ec962"/><rect x="606.82" y="277.36" width="1.40" height="1.40" fill="#fde725"/><rect x="614.17" y="268.13" width="1.40" height="1.40" fill="#22a884"/><rect x="606.77" y="266.46" width="1.40" height="1.40" fill="#2a788e"/><rect x="598.62" y="271.27" width="1.40" height="1.40" fill="#7ad151"/><rect x="622.11" y="266.21" width="1.40" height="1.40" fill="#7ad151"/><rect x="616.10" y="270.42" width="1.40" height="1.40" fill="#7ad151"/><rect x="614.63" y="272.23" width="1.40" height="1.40" fill="#2a788e"/><rect x="604.30" y="267.67" width="1.40" height="1.40" fill="#7ad151"/><rect x="606.35" y="270.59" width="1.40" height="1.40" fill="#7ad151"/><rect x="596.50" y="272.73" width="1.40" height="1.40" fill="#22a884"/><rect x="617.21" y="276.82" width="1.40" height="1.40" fill="#22a884"/><rect x="605.08" y="267.62" width="1.40" height="1.40" fill="#fde725"/><rect x="618.21" y="262.55" width="1.40" height="1.40" fill="#7ad151"/><rect x="618.41" y="263.09" width="1.40" height="1.40" fill="#fde725"/><rect x="613.77" y="276.95" width="1.40" height="1.40" fill="#22a884"/><rect x="619.40" y="264.80" width="1.40" height="1.40" fill="#7ad151"/><rect x="619.94" y="265.08" width="1.40" height="1.40" fill="#7ad151"/><rect x="618.05" y="272.95" width="1.40" height="1.40" fill="#2a788e"/><rect x="600.76" y="274.81" width="1.40" height="1.40" fill="#7ad151"/><rect x="611.22" y="278.20" width="1.40" height="1.40" fill="#7ad151"/><rect x="610.57" y="268.60" width="1.40" height="1.40" fill="#7ad151"/><rect x="620.97" y="274.95" width="1.40" height="1.40" fill="#22a884"/><rect x="616.23" y="275.53" width="1.40" height="1.40" fill="#7ad151"/><rect x="612.86" y="273.39" width="1.40" height="1.40" fill="#2a788e"/><rect x="626.07" y="267.74" width="1.40" height="1.40" fill="#7ad151"/><rect x="628.09" y="264.45" width="1.40" height="1.40" fill="#5ec962"/><rect x="613.57" y="271.90" width="1.40" height="1.40" fill="#22a884"/><rect x="603.65" y="269.04" width="1.40" height="1.40" fill="#22a884"/><rect x="599.20" y="269.73" width="1.40" height="1.40" fill="#2a788e"/><rect x="605.48" y="264.57" width="1.40" height="1.40" fill="#22a884"/><rect x="623.41" y="271.45" width="1.40" height="1.40" fill="#2a788e"/><rect x="612.43" y="272.32" width="1.40" height="1.40" fill="#22a884"/><rect x="599.35" y="265.79" width="1.40" height="1.40" fill="#5ec962"/><rect x="613.89" y="266.29" width="1.40" height="1.40" fill="#2a788e"/><rect x="624.97" y="275.54" width="1.40" height="1.40" fill="#22a884"/><rect x="614.76" y="275.65" width="1.40" height="1.40" fill="#7ad151"/><rect x="595.10" y="271.36" width="1.40" height="1.40" fill="#7ad151"/><rect x="597.93" y="272.60" width="1.40" height="1.40" fill="#22a884"/><rect x="625.97" y="262.81" width="1.40" height="1.40" fill="#7ad151"/><rect x="594.62" y="270.45" width="1.40" height="1.40" fill="#7ad151"/><rect x="625.78" y="263.29" width="1.40" height="1.40" fill="#2a788e"/><rect x="628.77" y="270.94" width="1.40" height="1.40" fill="#2a788e"/><rect x="622.59" y="268.79" width="1.40" height="1.40" fill="#22a884"/><rect x="625.99" y="268.32" width="1.40" height="1.40" fill="#22a884"/><rect x="613.85" y="272.69" width="1.40" height="1.40" fill="#7ad151"/><rect x="602.15" y="268.93" width="1.40" height="1.40" fill="#5ec962"/><rect x="613.38" y="268.69" width="1.40" height="1.40" fill="#22a884"/><rect x="623.33" y="273.65" width="1.40" height="1.40" fill="#5ec962"/><rect x="620.11" y="267.87" width="1.40" height="1.40" fill="#fde725"/><rect x="616.71" y="264.15" width="1.40" height="1.40" fill="#2a788e"/><rect x="614.04" y="264.90" width="1.40" height="1.40" fill="#5ec962"/><rect x="627.90" y="267.98" width="1.40" height="1.40" fill="#22a884"/><rect x="599.29" y="269.82" width="1.40" height="1.40" fill="#7ad151"/><rect x="620.44" y="274.95" width="1.40" height="1.40" fill="#5ec962"/><rect x="610.23" y="275.17" width="1.40" height="1.40" fill="#22a884"/><rect x="617.45" y="268.06" width="1.40" height="1.40" fill="#22a884"/><rect x="617.10" y="268.31" width="1.40" height="1.40" fill="#7ad151"/><rect x="606.16" y="271.71" width="1.40" height="1.40" fill="#2a788e"/><rect x="626.93" y="272.68" width="1.40" height="1.40" fill="#2a788e"/><rect x="628.18" y="267.03" width="1.40" height="1.40" fill="#5ec962"/><rect x="615.05" y="264.24" width="1.40" height="1.40" fill="#5ec962"/><rect x="595.99" y="267.37" width="1.40" height="1.40" fill="#2a788e"/><rect x="618.93" y="274.16" width="1.40" height="1.40" fill="#22a884"/><rect x="631.30" y="267.76" width="1.40" height="1.40" fill="#7ad151"/><rect x="623.41" y="269.45" width="1.40" height="1.40" fill="#7ad151"/><rect x="618.89" y="270.20" width="1.40" height="1.40" fill="#22a884"/><rect x="626.49" y="272.67" width="1.40" height="1.40" fill="#5ec962"/><rect x="597.37" y="270.18" width="1.40" height="1.40" fill="#5ec962"/><rect x="629.23" y="270.80" width="1.40" height="1.40" fill="#fde725"/><rect x="628.18" y="271.14" width="1.40" height="1.40" fill="#7ad151"/><rect x="625.93" y="273.66" width="1.40" height="1.40" fill="#2a788e"/><rect x="619.74" y="271.08" width="1.40" height="1.40" fill="#fde725"/><rect x="610.81" y="264.50" width="1.40" height="1.40" fill="#22a884"/><rect x="618.50" y="265.53" width="1.40" height="1.40" fill="#7ad151"/><rect x="617.52" y="267.54" width="1.40" height="1.40" fill="#fde725"/><rect x="610.93" y="263.39" width="1.40" height="1.40" fill="#fde725"/><rect x="608.68" y="265.31" width="1.40" height="1.40" fill="#5ec962"/><rect x="618.50" y="264.32" width="1.40" height="1.40" fill="#2a788e"/><rect x="620.45" y="274.46" width="1.40" height="1.40" fill="#fde725"/><rect x="616.11" y="264.78" width="1.40" height="1.40" fill="#22a884"/><rect x="611.73" y="276.71" width="1.40" height="1.40" fill="#fde725"/><rect x="627.61" y="264.59" width="1.40" height="1.40" fill="#22a884"/><rect x="626.39" y="269.86" width="1.40" height="1.40" fill="#fde725"/><rect x="615.16" y="265.82" width="1.40" height="1.40" fill="#7ad151"/><rect x="627.76" y="270.84" width="1.40" height="1.40" fill="#2a788e"/><rect x="603.21" y="276.84" width="1.40" height="1.40" fill="#7ad151"/><rect x="603.31" y="268.68" width="1.40" height="1.40" fill="#2a788e"/><rect x="627.18" y="273.52" width="1.40" height="1.40" fill="#7ad151"/><rect x="616.61" y="269.69" width="1.40" height="1.40" fill="#2a788e"/><rect x="598.59" y="265.30" width="1.40" height="1.40" fill="#7ad151"/><rect x="623.00" y="271.55" width="1.40" height="1.40" fill="#fde725"/><rect x="599.15" y="267.03" width="1.40" height="1.40" fill="#22a884"/><rect x="597.18" y="273.19" width="1.40" height="1.40" fill="#fde725"/><rect x="625.72" y="271.18" width="1.40" height="1.40" fill="#22a884"/><rect x="613.20" y="275.68" width="1.40" height="1.40" fill="#22a884"/><rect x="594.77" y="267.65" width="1.40" height="1.40" fill="#22a884"/><rect x="603.90" y="277.36" width="1.40" height="1.40" fill="#7ad151"/><rect x="605.38" y="268.07" width="1.40" height="1.40" fill="#fde725"/><rect x="616.02" y="269.48" width="1.40" height="1.40" fill="#5ec962"/><rect x="609.24" y="278.42" width="1.40" height="1.40" fill="#7ad151"/><rect x="604.19" y="273.98" width="1.40" height="1.40" fill="#7ad151"/><rect x="623.35" y="270.18" width="1.40" height="1.40" fill="#7ad151"/><rect x="608.72" y="273.98" width="1.40" height="1.40" fill="#fde725"/><rect x="608.49" y="262.98" width="1.40" height="1.40" fill="#22a884"/><rect x="616.90" y="264.74" width="1.40" height="1.40" fill="#fde725"/><rect x="625.93" y="269.66" width="1.40" height="1.40" fill="#2a788e"/><rect x="605.12" y="274.53" width="1.40" height="1.40" fill="#22a884"/><rect x="612.55" y="271.61" width="1.40" height="1.40" fill="#5ec962"/><rect x="620.92" y="264.84" width="1.40" height="1.40" fill="#22a884"/><rect x="624.33" y="269.04" width="1.40" height="1.40" fill="#22a884"/><rect x="594.02" y="269.89" width="1.40" height="1.40" fill="#7ad151"/><rect x="596.68" y="267.72" width="1.40" height="1.40" fill="#22a884"/><rect x="597.90" y="269.22" width="1.40" height="1.40" fill="#7ad151"/><rect x="601.21" y="269.05" width="1.40" height="1.40" fill="#22a884"/><rect x="673.59" y="281.62" width="1.30" height="1.30" fill="#2a788e"/><rect x="663.66" y="282.24" width="1.30" height="1.30" fill="#7ad151"/><rect x="662.06" y="279.54" width="1.30" height="1.30" fill="#414487"/><rect x="639.43" y="262.07" width="1.30" height="1.30" fill="#7ad151"/><rect x="607.83" y="272.82" width="1.30" height="1.30" fill="#7ad151"/><rect x="658.14" y="270.27" width="1.30" height="1.30" fill="#22a884"/><rect x="608.95" y="278.79" width="1.30" height="1.30" fill="#414487"/><rect x="636.11" y="272.60" width="1.30" height="1.30" fill="#7ad151"/><rect x="657.12" y="268.81" width="1.30" height="1.30" fill="#7ad151"/><rect x="597.84" y="275.27" width="1.30" height="1.30" fill="#7ad151"/><rect x="659.65" y="281.22" width="1.30" height="1.30" fill="#22a884"/><rect x="607.27" y="272.43" width="1.30" height="1.30" fill="#22a884"/><rect x="667.99" y="269.52" width="1.30" height="1.30" fill="#7ad151"/><rect x="643.31" y="279.45" width="1.30" height="1.30" fill="#22a884"/><rect x="636.17" y="272.61" width="1.30" height="1.30" fill="#7ad151"/><rect x="640.48" y="271.91" width="1.30" height="1.30" fill="#2a788e"/><rect x="663.39" y="268.05" width="1.30" height="1.30" fill="#2a788e"/><rect x="656.09" y="261.60" width="1.30" height="1.30" fill="#7ad151"/><rect x="663.49" y="279.35" width="1.30" height="1.30" fill="#7ad151"/><rect x="650.53" y="264.43" width="1.30" height="1.30" fill="#2a788e"/><rect x="640.70" y="269.22" width="1.30" height="1.30" fill="#7ad151"/><rect x="661.48" y="267.30" width="1.30" height="1.30" fill="#414487"/><rect x="628.60" y="268.15" width="1.30" height="1.30" fill="#22a884"/><rect x="647.39" y="273.50" width="1.30" height="1.30" fill="#2a788e"/><rect x="638.34" y="263.00" width="1.30" height="1.30" fill="#2a788e"/><rect x="639.95" y="263.84" width="1.30" height="1.30" fill="#7ad151"/><rect x="639.19" y="287.77" width="1.30" height="1.30" fill="#fde725"/><rect x="626.27" y="278.64" width="1.30" height="1.30" fill="#fde725"/><rect x="646.19" y="285.54" width="1.30" height="1.30" fill="#22a884"/><rect x="596.61" y="270.19" width="1.30" height="1.30" fill="#7ad151"/><rect x="651.09" y="279.12" width="1.30" height="1.30" fill="#22a884"/><rect x="625.71" y="265.17" width="1.30" height="1.30" fill="#22a884"/><rect x="610.94" y="266.93" width="1.30" height="1.30" fill="#7ad151"/><rect x="610.92" y="274.50" width="1.30" height="1.30" fill="#22a884"/><rect x="609.60" y="264.28" width="1.30" height="1.30" fill="#7ad151"/><rect x="639.89" y="262.19" width="1.30" height="1.30" fill="#2a788e"/><rect x="659.92" y="270.85" width="1.30" height="1.30" fill="#2a788e"/><rect x="626.20" y="285.12" width="1.30" height="1.30" fill="#22a884"/><rect x="645.91" y="272.78" width="1.30" height="1.30" fill="#2a788e"/><rect x="612.12" y="267.59" width="1.30" height="1.30" fill="#22a884"/><rect x="631.78" y="280.41" width="1.30" height="1.30" fill="#22a884"/><rect x="617.72" y="265.71" width="1.30" height="1.30" fill="#414487"/><rect x="636.49" y="278.44" width="1.30" height="1.30" fill="#7ad151"/><rect x="667.28" y="275.30" width="1.30" height="1.30" fill="#2a788e"/><rect x="616.64" y="266.50" width="1.30" height="1.30" fill="#fde725"/><rect x="670.31" y="273.18" width="1.30" height="1.30" fill="#2a788e"/><rect x="645.99" y="260.70" width="1.30" height="1.30" fill="#22a884"/><rect x="608.09" y="277.67" width="1.30" height="1.30" fill="#2a788e"/><rect x="635.50" y="263.53" width="1.30" height="1.30" fill="#22a884"/><rect x="625.40" y="276.81" width="1.30" height="1.30" fill="#fde725"/><rect x="632.41" y="269.10" width="1.30" height="1.30" fill="#22a884"/><rect x="642.16" y="286.02" width="1.30" height="1.30" fill="#414487"/><rect x="651.95" y="262.98" width="1.30" height="1.30" fill="#22a884"/><rect x="633.97" y="288.14" width="1.30" height="1.30" fill="#22a884"/><rect x="664.56" y="278.81" width="1.30" height="1.30" fill="#7ad151"/><rect x="598.64" y="265.20" width="1.30" height="1.30" fill="#7ad151"/><rect x="659.71" y="277.43" width="1.30" height="1.30" fill="#7ad151"/><rect x="653.34" y="285.15" width="1.30" height="1.30" fill="#7ad151"/><rect x="616.20" y="274.25" width="1.30" height="1.30" fill="#2a788e"/><rect x="605.15" y="266.96" width="1.30" height="1.30" fill="#22a884"/><rect x="630.61" y="280.57" width="1.30" height="1.30" fill="#7ad151"/><rect x="666.98" y="278.00" width="1.30" height="1.30" fill="#7ad151"/><rect x="615.90" y="268.33" width="1.30" height="1.30" fill="#22a884"/><rect x="615.18" y="263.28" width="1.30" height="1.30" fill="#7ad151"/><rect x="638.66" y="275.42" width="1.30" height="1.30" fill="#7ad151"/><rect x="610.02" y="278.61" width="1.30" height="1.30" fill="#fde725"/><rect x="645.37" y="284.42" width="1.30" height="1.30" fill="#414487"/><rect x="603.09" y="273.54" width="1.30" height="1.30" fill="#7ad151"/><rect x="625.31" y="282.41" width="1.30" height="1.30" fill="#2a788e"/><rect x="603.23" y="276.18" width="1.30" height="1.30" fill="#7ad151"/><rect x="663.92" y="272.59" width="1.30" height="1.30" fill="#414487"/><rect x="628.06" y="274.46" width="1.30" height="1.30" fill="#22a884"/><rect x="621.10" y="273.67" width="1.30" height="1.30" fill="#22a884"/><rect x="649.82" y="282.49" width="1.30" height="1.30" fill="#22a884"/><rect x="646.24" y="275.56" width="1.30" height="1.30" fill="#22a884"/><rect x="674.73" y="277.17" width="1.30" height="1.30" fill="#22a884"/><rect x="631.66" y="270.01" width="1.30" height="1.30" fill="#2a788e"/><rect x="656.35" y="272.29" width="1.30" height="1.30" fill="#2a788e"/><rect x="660.96" y="270.71" width="1.30" height="1.30" fill="#7ad151"/><rect x="657.07" y="283.68" width="1.30" height="1.30" fill="#2a788e"/><rect x="642.73" y="266.15" width="1.30" height="1.30" fill="#22a884"/><rect x="655.20" y="267.93" width="1.30" height="1.30" fill="#22a884"/><rect x="666.22" y="280.45" width="1.30" height="1.30" fill="#22a884"/><rect x="615.13" y="262.55" width="1.30" height="1.30" fill="#414487"/><rect x="625.70" y="268.04" width="1.30" height="1.30" fill="#22a884"/><rect x="623.71" y="281.09" width="1.30" height="1.30" fill="#2a788e"/><rect x="650.07" y="276.72" width="1.30" height="1.30" fill="#7ad151"/><rect x="631.66" y="263.07" width="1.30" height="1.30" fill="#22a884"/><rect x="640.01" y="286.79" width="1.30" height="1.30" fill="#7ad151"/><rect x="633.68" y="286.26" width="1.30" height="1.30" fill="#2a788e"/><rect x="648.40" y="266.34" width="1.30" height="1.30" fill="#7ad151"/><rect x="633.33" y="281.97" width="1.30" height="1.30" fill="#2a788e"/><rect x="656.11" y="271.95" width="1.30" height="1.30" fill="#22a884"/><rect x="642.79" y="283.61" width="1.30" height="1.30" fill="#2a788e"/><rect x="671.49" y="271.91" width="1.30" height="1.30" fill="#22a884"/><rect x="647.29" y="287.82" width="1.30" height="1.30" fill="#414487"/><rect x="600.60" y="275.32" width="1.30" height="1.30" fill="#2a788e"/><rect x="612.70" y="275.21" width="1.30" height="1.30" fill="#7ad151"/><rect x="596.27" y="274.34" width="1.30" height="1.30" fill="#2a788e"/><rect x="665.54" y="280.55" width="1.30" height="1.30" fill="#2a788e"/><rect x="642.40" y="275.17" width="1.30" height="1.30" fill="#22a884"/><rect x="653.25" y="287.17" width="1.30" height="1.30" fill="#fde725"/><rect x="650.42" y="260.28" width="1.30" height="1.30" fill="#22a884"/><rect x="660.62" y="272.24" width="1.30" height="1.30" fill="#22a884"/><rect x="673.57" y="275.54" width="1.30" height="1.30" fill="#414487"/><rect x="614.74" y="264.04" width="1.30" height="1.30" fill="#fde725"/><rect x="638.54" y="284.48" width="1.30" height="1.30" fill="#2a788e"/><rect x="625.45" y="286.41" width="1.30" height="1.30" fill="#2a788e"/><rect x="624.55" y="269.85" width="1.30" height="1.30" fill="#2a788e"/><rect x="664.69" y="277.67" width="1.30" height="1.30" fill="#2a788e"/><rect x="645.47" y="270.83" width="1.30" height="1.30" fill="#7ad151"/><rect x="597.93" y="275.67" width="1.30" height="1.30" fill="#7ad151"/><rect x="602.23" y="268.04" width="1.30" height="1.30" fill="#fde725"/><rect x="621.34" y="283.22" width="1.30" height="1.30" fill="#2a788e"/><rect x="598.86" y="267.15" width="1.30" height="1.30" fill="#22a884"/><rect x="654.95" y="277.36" width="1.30" height="1.30" fill="#2a788e"/><rect x="665.03" y="266.17" width="1.30" height="1.30" fill="#414487"/><rect x="645.00" y="273.75" width="1.30" height="1.30" fill="#2a788e"/><rect x="637.65" y="261.62" width="1.30" height="1.30" fill="#2a788e"/><rect x="629.66" y="276.60" width="1.30" height="1.30" fill="#7ad151"/><rect x="674.72" y="269.34" width="1.30" height="1.30" fill="#fde725"/><rect x="636.24" y="285.40" width="1.30" height="1.30" fill="#2a788e"/><rect x="654.48" y="275.83" width="1.30" height="1.30" fill="#22a884"/><rect x="639.32" y="268.52" width="1.30" height="1.30" fill="#7ad151"/><rect x="651.05" y="270.47" width="1.30" height="1.30" fill="#22a884"/><rect x="657.36" y="286.81" width="1.30" height="1.30" fill="#22a884"/><rect x="670.66" y="266.38" width="1.30" height="1.30" fill="#414487"/><rect x="622.51" y="268.58" width="1.30" height="1.30" fill="#7ad151"/><rect x="627.75" y="279.39" width="1.30" height="1.30" fill="#2a788e"/><rect x="622.99" y="267.24" width="1.30" height="1.30" fill="#2a788e"/><rect x="638.45" y="262.70" width="1.30" height="1.30" fill="#414487"/><rect x="599.77" y="269.99" width="1.30" height="1.30" fill="#2a788e"/><rect x="657.59" y="269.61" width="1.30" height="1.30" fill="#7ad151"/><rect x="667.89" y="282.61" width="1.30" height="1.30" fill="#22a884"/><rect x="667.04" y="274.12" width="1.30" height="1.30" fill="#22a884"/><rect x="657.79" y="264.70" width="1.30" height="1.30" fill="#fde725"/><rect x="642.37" y="286.60" width="1.30" height="1.30" fill="#414487"/><rect x="626.09" y="261.01" width="1.30" height="1.30" fill="#22a884"/><rect x="632.32" y="273.00" width="1.30" height="1.30" fill="#7ad151"/><rect x="615.53" y="270.66" width="1.30" height="1.30" fill="#22a884"/><rect x="608.58" y="268.42" width="1.30" height="1.30" fill="#414487"/><rect x="677.30" y="276.57" width="1.30" height="1.30" fill="#22a884"/><rect x="637.63" y="280.13" width="1.30" height="1.30" fill="#2a788e"/><rect x="673.09" y="278.11" width="1.30" height="1.30" fill="#2a788e"/><rect x="654.91" y="283.78" width="1.30" height="1.30" fill="#fde725"/><rect x="634.40" y="276.82" width="1.30" height="1.30" fill="#22a884"/><rect x="636.60" y="284.14" width="1.30" height="1.30" fill="#7ad151"/><rect x="637.80" y="285.16" width="1.30" height="1.30" fill="#7ad151"/><rect x="638.89" y="286.42" width="1.30" height="1.30" fill="#22a884"/><rect x="622.95" y="272.45" width="1.30" height="1.30" fill="#22a884"/><rect x="636.05" y="286.09" width="1.30" height="1.30" fill="#22a884"/><rect x="604.77" y="277.04" width="1.30" height="1.30" fill="#414487"/><rect x="632.91" y="278.86" width="1.30" height="1.30" fill="#414487"/><rect x="620.49" y="279.35" width="1.30" height="1.30" fill="#7ad151"/><rect x="676.92" y="276.26" width="1.30" height="1.30" fill="#414487"/><rect x="618.42" y="274.14" width="1.30" height="1.30" fill="#7ad151"/><rect x="623.36" y="285.30" width="1.30" height="1.30" fill="#2a788e"/><rect x="594.37" y="265.16" width="1.30" height="1.30" fill="#22a884"/><rect x="654.81" y="287.34" width="1.30" height="1.30" fill="#22a884"/><rect x="646.45" y="285.48" width="1.30" height="1.30" fill="#2a788e"/><rect x="646.94" y="265.55" width="1.30" height="1.30" fill="#7ad151"/><rect x="674.61" y="272.85" width="1.30" height="1.30" fill="#7ad151"/><rect x="605.56" y="277.28" width="1.30" height="1.30" fill="#22a884"/><rect x="675.36" y="277.28" width="1.30" height="1.30" fill="#7ad151"/><rect x="637.06" y="273.44" width="1.30" height="1.30" fill="#7ad151"/><rect x="634.50" y="259.82" width="1.30" height="1.30" fill="#fde725"/><rect x="640.62" y="263.60" width="1.30" height="1.30" fill="#2a788e"/><rect x="660.39" y="271.80" width="1.30" height="1.30" fill="#22a884"/><rect x="607.27" y="268.75" width="1.30" height="1.30" fill="#7ad151"/><rect x="649.26" y="282.92" width="1.30" height="1.30" fill="#2a788e"/><rect x="602.32" y="268.67" width="1.30" height="1.30" fill="#7ad151"/><rect x="679.51" y="276.29" width="1.30" height="1.30" fill="#2a788e"/><rect x="660.08" y="283.39" width="1.30" height="1.30" fill="#22a884"/><rect x="664.74" y="268.97" width="1.30" height="1.30" fill="#22a884"/><rect x="668.08" y="275.01" width="1.30" height="1.30" fill="#22a884"/><rect x="637.45" y="273.20" width="1.30" height="1.30" fill="#fde725"/><rect x="621.68" y="279.95" width="1.30" height="1.30" fill="#2a788e"/><rect x="667.83" y="274.64" width="1.30" height="1.30" fill="#22a884"/><rect x="597.23" y="274.17" width="1.30" height="1.30" fill="#2a788e"/><rect x="645.78" y="277.93" width="1.30" height="1.30" fill="#7ad151"/><rect x="626.31" y="282.99" width="1.30" height="1.30" fill="#7ad151"/><rect x="613.98" y="263.28" width="1.30" height="1.30" fill="#fde725"/><rect x="600.41" y="265.41" width="1.30" height="1.30" fill="#2a788e"/><rect x="639.38" y="270.34" width="1.30" height="1.30" fill="#22a884"/><rect x="628.42" y="267.32" width="1.30" height="1.30" fill="#7ad151"/><rect x="659.52" y="264.06" width="1.30" height="1.30" fill="#2a788e"/><rect x="652.06" y="266.20" width="1.30" height="1.30" fill="#22a884"/><rect x="663.81" y="264.16" width="1.30" height="1.30" fill="#22a884"/><rect x="648.23" y="276.25" width="1.30" height="1.30" fill="#414487"/><rect x="652.62" y="280.87" width="1.30" height="1.30" fill="#fde725"/><rect x="621.06" y="282.66" width="1.30" height="1.30" fill="#414487"/><rect x="636.63" y="274.64" width="1.30" height="1.30" fill="#2a788e"/><rect x="653.16" y="270.99" width="1.30" height="1.30" fill="#7ad151"/><rect x="600.84" y="267.44" width="1.30" height="1.30" fill="#22a884"/><rect x="633.36" y="268.88" width="1.30" height="1.30" fill="#7ad151"/><rect x="654.19" y="284.91" width="1.30" height="1.30" fill="#2a788e"/><rect x="648.43" y="282.52" width="1.30" height="1.30" fill="#7ad151"/><rect x="630.12" y="284.42" width="1.30" height="1.30" fill="#7ad151"/><rect x="671.58" y="281.52" width="1.30" height="1.30" fill="#7ad151"/><rect x="615.60" y="271.90" width="1.30" height="1.30" fill="#22a884"/><rect x="638.63" y="286.19" width="1.30" height="1.30" fill="#22a884"/><rect x="665.73" y="276.62" width="1.30" height="1.30" fill="#7ad151"/><rect x="643.11" y="274.36" width="1.30" height="1.30" fill="#7ad151"/><rect x="659.38" y="275.19" width="1.30" height="1.30" fill="#22a884"/><rect x="641.93" y="279.20" width="1.30" height="1.30" fill="#22a884"/><rect x="669.26" y="271.42" width="1.30" height="1.30" fill="#22a884"/><rect x="611.32" y="272.60" width="1.30" height="1.30" fill="#22a884"/><rect x="622.14" y="278.86" width="1.30" height="1.30" fill="#22a884"/><rect x="663.45" y="275.63" width="1.30" height="1.30" fill="#7ad151"/><rect x="626.91" y="264.86" width="1.30" height="1.30" fill="#2a788e"/><rect x="664.23" y="283.56" width="1.30" height="1.30" fill="#414487"/><rect x="658.64" y="278.27" width="1.30" height="1.30" fill="#7ad151"/><rect x="643.30" y="259.64" width="1.30" height="1.30" fill="#fde725"/><rect x="660.09" y="284.34" width="1.30" height="1.30" fill="#22a884"/><rect x="619.85" y="268.28" width="1.30" height="1.30" fill="#7ad151"/><rect x="608.60" y="265.58" width="1.30" height="1.30" fill="#414487"/><rect x="595.69" y="271.26" width="1.30" height="1.30" fill="#22a884"/><rect x="611.05" y="276.99" width="1.30" height="1.30" fill="#2a788e"/><rect x="596.47" y="266.91" width="1.30" height="1.30" fill="#7ad151"/><rect x="623.36" y="269.39" width="1.30" height="1.30" fill="#22a884"/><rect x="672.34" y="267.01" width="1.30" height="1.30" fill="#7ad151"/><rect x="629.91" y="280.01" width="1.30" height="1.30" fill="#414487"/><rect x="609.56" y="275.20" width="1.30" height="1.30" fill="#414487"/><rect x="630.78" y="269.93" width="1.30" height="1.30" fill="#414487"/><rect x="638.63" y="285.98" width="1.30" height="1.30" fill="#22a884"/><rect x="627.34" y="276.56" width="1.30" height="1.30" fill="#7ad151"/><rect x="642.84" y="260.91" width="1.30" height="1.30" fill="#22a884"/><rect x="641.87" y="267.28" width="1.30" height="1.30" fill="#2a788e"/><rect x="625.87" y="275.20" width="1.30" height="1.30" fill="#22a884"/><rect x="596.01" y="266.83" width="1.30" height="1.30" fill="#22a884"/><rect x="592.51" y="239.47" width="1.20" height="1.20" fill="#2a788e"/><rect x="605.60" y="247.00" width="1.20" height="1.20" fill="#22a884"/><rect x="600.02" y="252.76" width="1.20" height="1.20" fill="#2a788e"/><rect x="591.97" y="231.65" width="1.20" height="1.20" fill="#2a788e"/><rect x="601.74" y="254.06" width="1.20" height="1.20" fill="#2a788e"/><rect x="622.80" y="231.28" width="1.20" height="1.20" fill="#22a884"/><rect x="609.50" y="248.11" width="1.20" height="1.20" fill="#7ad151"/><rect x="607.55" y="226.15" width="1.20" height="1.20" fill="#22a884"/><rect x="599.54" y="234.64" width="1.20" height="1.20" fill="#22a884"/><rect x="600.48" y="254.30" width="1.20" height="1.20" fill="#2a788e"/><rect x="635.02" y="233.33" width="1.20" height="1.20" fill="#22a884"/><rect x="638.30" y="232.77" width="1.20" height="1.20" fill="#22a884"/><rect x="597.22" y="242.87" width="1.20" height="1.20" fill="#7ad151"/><rect x="629.08" y="250.83" width="1.20" height="1.20" fill="#22a884"/><rect x="554.57" y="272.71" width="1.20" height="1.20" fill="#22a884"/><rect x="571.50" y="256.99" width="1.20" height="1.20" fill="#22a884"/><rect x="569.77" y="261.10" width="1.20" height="1.20" fill="#22a884"/><rect x="550.67" y="257.09" width="1.20" height="1.20" fill="#7ad151"/><rect x="576.81" y="261.85" width="1.20" height="1.20" fill="#7ad151"/><rect x="554.77" y="261.58" width="1.20" height="1.20" fill="#22a884"/><rect x="560.08" y="274.77" width="1.20" height="1.20" fill="#7ad151"/><rect x="563.32" y="277.29" width="1.20" height="1.20" fill="#7ad151"/><rect x="570.46" y="267.69" width="1.20" height="1.20" fill="#2a788e"/><rect x="565.53" y="279.32" width="1.20" height="1.20" fill="#7ad151"/><rect x="561.60" y="258.38" width="1.20" height="1.20" fill="#2a788e"/><rect x="561.97" y="266.21" width="1.20" height="1.20" fill="#7ad151"/><rect x="566.50" y="269.06" width="1.20" height="1.20" fill="#2a788e"/><rect x="560.90" y="254.66" width="1.20" height="1.20" fill="#7ad151"/><rect x="565.76" y="269.18" width="1.20" height="1.20" fill="#2a788e"/><rect x="574.72" y="258.95" width="1.20" height="1.20" fill="#22a884"/><rect x="551.75" y="257.85" width="1.20" height="1.20" fill="#7ad151"/><rect x="568.48" y="272.66" width="1.20" height="1.20" fill="#2a788e"/><rect x="573.88" y="256.45" width="1.20" height="1.20" fill="#22a884"/><rect x="568.60" y="278.56" width="1.20" height="1.20" fill="#2a788e"/><rect x="551.73" y="255.30" width="1.20" height="1.20" fill="#2a788e"/><rect x="556.13" y="272.01" width="1.20" height="1.20" fill="#2a788e"/><rect x="561.96" y="258.14" width="1.20" height="1.20" fill="#2a788e"/><rect x="562.12" y="255.83" width="1.20" height="1.20" fill="#22a884"/><rect x="553.21" y="256.23" width="1.20" height="1.20" fill="#2a788e"/><rect x="560.90" y="269.59" width="1.20" height="1.20" fill="#2a788e"/><rect x="563.88" y="264.68" width="1.20" height="1.20" fill="#22a884"/><rect x="569.44" y="265.73" width="1.20" height="1.20" fill="#22a884"/><rect x="556.41" y="256.60" width="1.20" height="1.20" fill="#22a884"/><rect x="574.88" y="255.72" width="1.20" height="1.20" fill="#2a788e"/><rect x="544.46" y="263.44" width="1.20" height="1.20" fill="#22a884"/><rect x="541.07" y="264.19" width="1.20" height="1.20" fill="#22a884"/><rect x="544.92" y="270.34" width="1.20" height="1.20" fill="#2a788e"/><rect x="548.91" y="274.42" width="1.20" height="1.20" fill="#2a788e"/><rect x="552.11" y="274.66" width="1.20" height="1.20" fill="#22a884"/><rect x="543.66" y="267.32" width="1.20" height="1.20" fill="#2a788e"/><rect x="551.89" y="276.67" width="1.20" height="1.20" fill="#7ad151"/><rect x="543.05" y="268.78" width="1.20" height="1.20" fill="#22a884"/><rect x="545.51" y="266.78" width="1.20" height="1.20" fill="#2a788e"/><rect x="545.68" y="264.96" width="1.20" height="1.20" fill="#22a884"/><rect x="547.20" y="271.93" width="1.20" height="1.20" fill="#22a884"/><rect x="542.05" y="263.93" width="1.20" height="1.20" fill="#7ad151"/><rect x="550.23" y="273.31" width="1.20" height="1.20" fill="#22a884"/><rect x="555.18" y="277.35" width="1.20" height="1.20" fill="#22a884"/><rect x="589.39" y="291.12" width="1.20" height="1.20" fill="#2a788e"/><rect x="603.39" y="283.52" width="1.20" height="1.20" fill="#2a788e"/><rect x="598.56" y="286.65" width="1.20" height="1.20" fill="#22a884"/><rect x="601.60" y="313.74" width="1.20" height="1.20" fill="#7ad151"/><rect x="618.34" y="292.02" width="1.20" height="1.20" fill="#2a788e"/><rect x="606.45" y="293.72" width="1.20" height="1.20" fill="#22a884"/><rect x="606.04" y="280.34" width="1.20" height="1.20" fill="#7ad151"/><rect x="584.27" y="305.73" width="1.20" height="1.20" fill="#2a788e"/><rect x="662.72" y="333.56" width="1.20" height="1.20" fill="#2a788e"/><rect x="644.17" y="321.67" width="1.20" height="1.20" fill="#22a884"/><rect x="670.59" y="321.69" width="1.20" height="1.20" fill="#22a884"/><rect x="643.98" y="307.30" width="1.20" height="1.20" fill="#2a788e"/><rect x="660.85" y="324.56" width="1.20" height="1.20" fill="#2a788e"/><rect x="618.74" y="316.05" width="1.20" height="1.20" fill="#2a788e"/><rect x="629.72" y="318.96" width="1.20" height="1.20" fill="#22a884"/><rect x="619.85" y="313.30" width="1.20" height="1.20" fill="#22a884"/><rect x="672.90" y="322.60" width="1.20" height="1.20" fill="#22a884"/><rect x="604.26" y="322.67" width="1.20" height="1.20" fill="#22a884"/><rect x="653.46" y="310.71" width="1.20" height="1.20" fill="#7ad151"/><rect x="646.79" y="328.52" width="1.20" height="1.20" fill="#22a884"/><rect x="585.57" y="236.57" width="1.20" height="1.20" fill="#2a788e"/><rect x="576.38" y="229.40" width="1.20" height="1.20" fill="#2a788e"/><rect x="574.00" y="232.59" width="1.20" height="1.20" fill="#2a788e"/><rect x="580.49" y="235.05" width="1.20" height="1.20" fill="#2a788e"/><rect x="578.70" y="238.80" width="1.20" height="1.20" fill="#2a788e"/><rect x="580.03" y="239.02" width="1.20" height="1.20" fill="#2a788e"/><rect x="545.65" y="285.11" width="1.20" height="1.20" fill="#2a788e"/><rect x="554.41" y="292.16" width="1.20" height="1.20" fill="#22a884"/><rect x="548.63" y="291.53" width="1.20" height="1.20" fill="#2a788e"/><rect x="554.81" y="295.94" width="1.20" height="1.20" fill="#7ad151"/><rect x="554.11" y="290.55" width="1.20" height="1.20" fill="#22a884"/><rect x="554.96" y="293.34" width="1.20" height="1.20" fill="#2a788e"/><rect x="558.09" y="295.27" width="1.20" height="1.20" fill="#2a788e"/><rect x="547.37" y="293.76" width="1.20" height="1.20" fill="#22a884"/><rect x="639.53" y="238.19" width="1.20" height="1.20" fill="#7ad151"/><rect x="646.36" y="241.14" width="1.20" height="1.20" fill="#22a884"/><rect x="658.84" y="239.56" width="1.20" height="1.20" fill="#22a884"/><rect x="652.07" y="240.38" width="1.20" height="1.20" fill="#2a788e"/><rect x="649.14" y="230.96" width="1.20" height="1.20" fill="#2a788e"/><rect x="651.57" y="233.18" width="1.20" height="1.20" fill="#22a884"/><rect x="644.75" y="233.11" width="1.20" height="1.20" fill="#2a788e"/><rect x="658.81" y="238.33" width="1.20" height="1.20" fill="#22a884"/><rect x="647.89" y="232.07" width="1.20" height="1.20" fill="#22a884"/><rect x="656.73" y="233.90" width="1.20" height="1.20" fill="#7ad151"/><rect x="663.87" y="246.29" width="1.20" height="1.20" fill="#22a884"/><rect x="661.36" y="246.10" width="1.20" height="1.20" fill="#2a788e"/><rect x="659.19" y="249.56" width="1.20" height="1.20" fill="#22a884"/><rect x="663.81" y="247.23" width="1.20" height="1.20" fill="#22a884"/><rect x="658.76" y="249.26" width="1.20" height="1.20" fill="#22a884"/><rect x="666.33" y="250.84" width="1.20" height="1.20" fill="#2a788e"/><rect x="661.66" y="249.13" width="1.20" height="1.20" fill="#7ad151"/><rect x="658.13" y="249.50" width="1.20" height="1.20" fill="#2a788e"/><rect x="596.54" y="336.80" width="1.20" height="1.20" fill="#2a788e"/><rect x="615.06" y="353.19" width="1.20" height="1.20" fill="#7ad151"/><rect x="615.23" y="344.10" width="1.20" height="1.20" fill="#22a884"/><rect x="606.69" y="332.78" width="1.20" height="1.20" fill="#2a788e"/><rect x="604.38" y="337.30" width="1.20" height="1.20" fill="#2a788e"/><rect x="595.97" y="346.25" width="1.20" height="1.20" fill="#2a788e"/><rect x="593.36" y="263.41" width="1.20" height="1.20" fill="#2a788e"/><rect x="582.71" y="255.17" width="1.20" height="1.20" fill="#22a884"/><rect x="590.59" y="260.38" width="1.20" height="1.20" fill="#22a884"/><rect x="593.72" y="255.24" width="1.20" height="1.20" fill="#2a788e"/><rect x="584.98" y="263.21" width="1.20" height="1.20" fill="#2a788e"/><rect x="582.06" y="252.52" width="1.20" height="1.20" fill="#22a884"/><rect x="591.16" y="274.65" width="1.20" height="1.20" fill="#2a788e"/><rect x="586.96" y="273.79" width="1.20" height="1.20" fill="#22a884"/><rect x="591.95" y="252.04" width="1.20" height="1.20" fill="#2a788e"/><rect x="583.13" y="247.66" width="1.20" height="1.20" fill="#2a788e"/><rect x="588.13" y="249.34" width="1.20" height="1.20" fill="#2a788e"/><rect x="586.26" y="275.93" width="1.20" height="1.20" fill="#7ad151"/><rect x="588.53" y="284.39" width="1.20" height="1.20" fill="#22a884"/><rect x="587.99" y="284.96" width="1.20" height="1.20" fill="#2a788e"/><rect x="586.14" y="286.90" width="1.20" height="1.20" fill="#2a788e"/><rect x="578.58" y="288.20" width="1.20" height="1.20" fill="#22a884"/><rect x="572.66" y="288.48" width="1.20" height="1.20" fill="#22a884"/><rect x="590.10" y="287.16" width="1.20" height="1.20" fill="#2a788e"/><rect x="583.78" y="293.18" width="1.20" height="1.20" fill="#7ad151"/><rect x="578.07" y="286.22" width="1.20" height="1.20" fill="#7ad151"/><rect x="675.80" y="256.09" width="1.20" height="1.20" fill="#7ad151"/><rect x="681.21" y="264.04" width="1.20" height="1.20" fill="#22a884"/><rect x="679.55" y="256.90" width="1.20" height="1.20" fill="#2a788e"/><rect x="679.68" y="252.28" width="1.20" height="1.20" fill="#2a788e"/><rect x="675.02" y="255.89" width="1.20" height="1.20" fill="#22a884"/><rect x="674.70" y="258.69" width="1.20" height="1.20" fill="#22a884"/><rect x="664.82" y="302.48" width="1.20" height="1.20" fill="#2a788e"/><rect x="659.76" y="299.83" width="1.20" height="1.20" fill="#22a884"/><rect x="666.68" y="300.73" width="1.20" height="1.20" fill="#2a788e"/><rect x="669.37" y="296.81" width="1.20" height="1.20" fill="#22a884"/><rect x="363.46" y="274.06" width="1.50" height="1.50" fill="#22a884"/><rect x="368.15" y="274.20" width="1.50" height="1.50" fill="#22a884"/><rect x="362.54" y="273.18" width="1.50" height="1.50" fill="#fde725"/><rect x="364.98" y="275.92" width="1.50" height="1.50" fill="#fde725"/><rect x="361.82" y="275.28" width="1.50" height="1.50" fill="#fde725"/><rect x="364.02" y="276.56" width="1.50" height="1.50" fill="#7ad151"/><rect x="368.36" y="275.01" width="1.50" height="1.50" fill="#22a884"/><rect x="364.91" y="271.41" width="1.50" height="1.50" fill="#22a884"/><rect x="362.86" y="271.73" width="1.50" height="1.50" fill="#fde725"/><rect x="366.71" y="278.37" width="1.50" height="1.50" fill="#7ad151"/><rect x="360.76" y="271.88" width="1.50" height="1.50" fill="#22a884"/><rect x="368.57" y="276.56" width="1.50" height="1.50" fill="#fde725"/><rect x="368.93" y="276.39" width="1.50" height="1.50" fill="#22a884"/><rect x="366.16" y="277.04" width="1.50" height="1.50" fill="#fde725"/><rect x="361.60" y="273.45" width="1.50" height="1.50" fill="#22a884"/><rect x="362.38" y="273.10" width="1.50" height="1.50" fill="#22a884"/><rect x="363.44" y="278.30" width="1.50" height="1.50" fill="#fde725"/><rect x="364.79" y="272.86" width="1.50" height="1.50" fill="#fde725"/><rect x="361.00" y="274.46" width="1.50" height="1.50" fill="#fde725"/><rect x="361.22" y="272.50" width="1.50" height="1.50" fill="#7ad151"/><rect x="361.44" y="272.80" width="1.50" height="1.50" fill="#7ad151"/><rect x="361.04" y="273.79" width="1.50" height="1.50" fill="#7ad151"/><rect x="363.83" y="274.32" width="1.50" height="1.50" fill="#fde725"/><rect x="367.53" y="277.40" width="1.50" height="1.50" fill="#22a884"/><rect x="361.32" y="275.21" width="1.50" height="1.50" fill="#fde725"/><rect x="363.40" y="278.13" width="1.50" height="1.50" fill="#fde725"/><rect x="364.70" y="273.14" width="1.50" height="1.50" fill="#fde725"/><rect x="365.94" y="278.82" width="1.50" height="1.50" fill="#7ad151"/><rect x="364.29" y="276.74" width="1.50" height="1.50" fill="#22a884"/><rect x="361.99" y="274.29" width="1.50" height="1.50" fill="#fde725"/><rect x="364.28" y="277.14" width="1.50" height="1.50" fill="#fde725"/><rect x="368.26" y="277.34" width="1.50" height="1.50" fill="#fde725"/><rect x="366.40" y="274.16" width="1.50" height="1.50" fill="#fde725"/><rect x="361.44" y="274.53" width="1.50" height="1.50" fill="#fde725"/><rect x="365.52" y="277.58" width="1.50" height="1.50" fill="#7ad151"/><rect x="363.78" y="278.14" width="1.50" height="1.50" fill="#7ad151"/><rect x="362.41" y="275.62" width="1.50" height="1.50" fill="#7ad151"/><rect x="362.39" y="274.03" width="1.50" height="1.50" fill="#7ad151"/><rect x="361.01" y="274.45" width="1.50" height="1.50" fill="#7ad151"/><rect x="362.93" y="277.48" width="1.50" height="1.50" fill="#22a884"/><path d="M364.60,281.50 C364.88,280.87 366.32,280.70 366.70,281.20 C367.08,281.70 367.18,283.87 366.90,284.50 C366.62,285.13 365.38,285.50 365.00,285.00 C364.62,284.50 364.32,282.13 364.60,281.50Z" fill="#fde725" /><path d="M360.00,307.50 C360.42,306.98 361.70,306.98 362.50,307.40 C363.30,307.82 364.47,308.98 364.80,310.00 C365.13,311.02 364.97,313.00 364.50,313.50 C364.03,314.00 362.75,313.50 362.00,313.00 C361.25,312.50 360.33,311.42 360.00,310.50 C359.67,309.58 359.58,308.02 360.00,307.50Z" fill="#fde725" /><rect x="539.13" y="273.20" width="1.50" height="1.50" fill="#fde725"/><rect x="542.11" y="279.07" width="1.50" height="1.50" fill="#7ad151"/><rect x="544.04" y="276.46" width="1.50" height="1.50" fill="#22a884"/><rect x="536.46" y="272.85" width="1.50" height="1.50" fill="#2a788e"/><rect x="542.33" y="274.94" width="1.50" height="1.50" fill="#2a788e"/><rect x="542.96" y="278.97" width="1.50" height="1.50" fill="#2a788e"/><rect x="537.38" y="275.22" width="1.50" height="1.50" fill="#22a884"/><rect x="543.07" y="277.40" width="1.50" height="1.50" fill="#22a884"/><rect x="541.41" y="273.70" width="1.50" height="1.50" fill="#7ad151"/><rect x="540.17" y="277.80" width="1.50" height="1.50" fill="#fde725"/><rect x="536.92" y="272.53" width="1.50" height="1.50" fill="#22a884"/><rect x="538.35" y="271.33" width="1.50" height="1.50" fill="#22a884"/><rect x="540.34" y="275.65" width="1.50" height="1.50" fill="#22a884"/><rect x="536.96" y="271.62" width="1.50" height="1.50" fill="#2a788e"/><rect x="537.72" y="271.95" width="1.50" height="1.50" fill="#2a788e"/><rect x="541.52" y="276.82" width="1.50" height="1.50" fill="#fde725"/><rect x="543.45" y="276.73" width="1.50" height="1.50" fill="#22a884"/><rect x="542.88" y="273.40" width="1.50" height="1.50" fill="#7ad151"/><rect x="541.07" y="274.11" width="1.50" height="1.50" fill="#7ad151"/><rect x="537.94" y="272.98" width="1.50" height="1.50" fill="#22a884"/><rect x="538.25" y="273.28" width="1.50" height="1.50" fill="#fde725"/><rect x="537.85" y="271.33" width="1.50" height="1.50" fill="#7ad151"/><rect x="537.12" y="275.02" width="1.50" height="1.50" fill="#22a884"/><rect x="536.59" y="273.39" width="1.50" height="1.50" fill="#22a884"/><rect x="536.89" y="275.36" width="1.50" height="1.50" fill="#22a884"/><rect x="540.07" y="273.09" width="1.50" height="1.50" fill="#22a884"/><rect x="537.15" y="276.12" width="1.50" height="1.50" fill="#fde725"/><rect x="539.22" y="271.09" width="1.50" height="1.50" fill="#7ad151"/><rect x="537.45" y="272.59" width="1.50" height="1.50" fill="#7ad151"/><rect x="543.21" y="274.43" width="1.50" height="1.50" fill="#7ad151"/><rect x="537.82" y="273.56" width="1.50" height="1.50" fill="#22a884"/><rect x="536.52" y="275.21" width="1.50" height="1.50" fill="#2a788e"/><rect x="536.79" y="271.66" width="1.50" height="1.50" fill="#2a788e"/><rect x="541.89" y="272.14" width="1.50" height="1.50" fill="#fde725"/><rect x="537.02" y="272.22" width="1.50" height="1.50" fill="#7ad151"/><rect x="539.73" y="273.30" width="1.50" height="1.50" fill="#7ad151"/><rect x="539.80" y="271.21" width="1.50" height="1.50" fill="#fde725"/><rect x="543.76" y="274.48" width="1.50" height="1.50" fill="#22a884"/><rect x="539.34" y="272.52" width="1.50" height="1.50" fill="#2a788e"/><rect x="543.22" y="274.41" width="1.50" height="1.50" fill="#7ad151"/><path d="M540.10,281.50 C540.38,280.87 541.82,280.70 542.20,281.20 C542.58,281.70 542.68,283.87 542.40,284.50 C542.12,285.13 540.88,285.50 540.50,285.00 C540.12,284.50 539.82,282.13 540.10,281.50Z" fill="#fde725" /><path d="M535.50,307.50 C535.92,306.98 537.20,306.98 538.00,307.40 C538.80,307.82 539.97,308.98 540.30,310.00 C540.63,311.02 540.47,313.00 540.00,313.50 C539.53,314.00 538.25,313.50 537.50,313.00 C536.75,312.50 535.83,311.42 535.50,310.50 C535.17,309.58 535.08,308.02 535.50,307.50Z" fill="#d8e030" /><defs><filter id="roughE" x="-5%" y="-5%" width="110%" height="110%"><feTurbulence type="fractalNoise" baseFrequency="0.6" numOctaves="2" seed="21" result="n"/><feDisplacementMap in="SourceGraphic" in2="n" scale="2.4" xChannelSelector="R" yChannelSelector="G"/></filter></defs><g filter="url(#roughE)"><path d="M369.00,459.00 C370.33,458.42 374.00,459.83 376.00,459.50 C378.00,459.17 379.83,456.58 381.00,457.00 C382.17,457.42 383.00,460.50 383.00,462.00 C383.00,463.50 382.83,465.33 381.00,466.00 C379.17,466.67 374.17,466.50 372.00,466.00 C369.83,465.50 368.50,464.17 368.00,463.00 C367.50,461.83 367.67,459.58 369.00,459.00Z" fill="#ff7f0e" /><rect x="377.01" y="464.59" width="1.20" height="1.20" fill="#2ca02c"/><rect x="375.99" y="464.75" width="1.20" height="1.20" fill="#2ca02c"/><rect x="369.59" y="458.95" width="1.20" height="1.20" fill="#2ca02c"/><rect x="374.76" y="463.64" width="1.20" height="1.20" fill="#2ca02c"/><rect x="371.92" y="463.94" width="1.20" height="1.20" fill="#2ca02c"/><rect x="382.03" y="460.74" width="1.20" height="1.20" fill="#2ca02c"/><rect x="376.51" y="462.13" width="1.20" height="1.20" fill="#2ca02c"/><rect x="380.96" y="461.98" width="1.20" height="1.20" fill="#2ca02c"/><rect x="377.00" y="464.11" width="1.20" height="1.20" fill="#2ca02c"/><rect x="374.49" y="461.49" width="1.20" height="1.20" fill="#2ca02c"/><rect x="373.40" y="461.06" width="1.20" height="1.20" fill="#2ca02c"/><rect x="370.29" y="464.35" width="1.20" height="1.20" fill="#2ca02c"/><rect x="377.42" y="459.32" width="1.20" height="1.20" fill="#2ca02c"/><rect x="376.39" y="461.35" width="1.20" height="1.20" fill="#2ca02c"/><rect x="377.14" y="459.17" width="1.20" height="1.20" fill="#2ca02c"/><rect x="373.79" y="462.33" width="1.20" height="1.20" fill="#2ca02c"/><rect x="374.38" y="460.42" width="1.20" height="1.20" fill="#2ca02c"/><rect x="379.95" y="463.69" width="1.20" height="1.20" fill="#2ca02c"/><rect x="374.03" y="460.99" width="1.20" height="1.20" fill="#2ca02c"/><rect x="381.23" y="459.22" width="1.20" height="1.20" fill="#2ca02c"/><rect x="368.21" y="460.94" width="1.20" height="1.20" fill="#2ca02c"/><rect x="377.19" y="463.46" width="1.20" height="1.20" fill="#2ca02c"/><rect x="380.26" y="465.37" width="1.20" height="1.20" fill="#2ca02c"/><rect x="374.78" y="465.01" width="1.20" height="1.20" fill="#2ca02c"/><rect x="377.69" y="462.89" width="1.20" height="1.20" fill="#2ca02c"/><path d="M386.20,425.70 C387.73,425.58 389.67,426.33 390.80,426.90 C391.93,427.47 392.57,428.22 393.00,429.10 C393.43,429.98 393.52,430.80 393.40,432.20 C393.28,433.60 392.73,435.85 392.30,437.50 C391.87,439.15 391.43,440.95 390.80,442.10 C390.17,443.25 389.40,443.77 388.50,444.40 C387.60,445.03 386.42,445.13 385.40,445.90 C384.38,446.67 383.15,447.85 382.40,449.00 C381.65,450.15 381.42,451.53 380.90,452.80 C380.38,454.07 380.07,455.47 379.30,456.60 C378.53,457.73 377.32,458.97 376.30,459.60 C375.28,460.23 374.47,460.40 373.20,460.40 C371.93,460.40 369.97,460.23 368.70,459.60 C367.43,458.97 366.23,457.87 365.60,456.60 C364.97,455.33 364.77,453.53 364.90,452.00 C365.03,450.47 365.65,448.80 366.40,447.40 C367.15,446.00 368.27,444.73 369.40,443.60 C370.53,442.47 372.05,442.00 373.20,440.60 C374.35,439.20 375.53,436.85 376.30,435.20 C377.07,433.55 376.92,431.97 377.80,430.70 C378.68,429.43 380.20,428.43 381.60,427.60 C383.00,426.77 384.67,425.82 386.20,425.70Z" fill="#2ca02c" /><path d="M369.50,462.40 C371.73,461.52 379.45,460.77 381.70,462.00 C383.95,463.23 381.78,467.70 383.00,469.80 C384.22,471.90 390.23,472.78 389.00,474.60 C387.77,476.42 378.13,477.45 375.60,480.70 C373.07,483.95 374.40,491.75 373.80,494.10 C373.20,496.45 373.32,495.60 372.00,494.80 C370.68,494.00 367.53,492.05 365.90,489.30 C364.27,486.55 362.42,481.25 362.20,478.30 C361.98,475.35 363.58,473.43 364.60,471.60 C365.62,469.77 367.48,468.83 368.30,467.30 C369.12,465.77 367.27,463.28 369.50,462.40Z" fill="#ff7f0e" /><path d="M390.20,475.20 C391.43,474.88 395.35,473.88 397.60,474.00 C399.85,474.12 402.08,475.80 403.70,475.90 C405.32,476.00 405.88,475.42 407.30,474.60 C408.72,473.78 411.18,472.42 412.20,471.00 C413.22,469.58 412.58,467.53 413.40,466.10 C414.22,464.67 416.38,462.60 417.10,462.40 C417.82,462.20 418.12,463.47 417.70,464.90 C417.28,466.33 415.72,469.58 414.60,471.00 C413.48,472.42 412.22,472.38 411.00,473.40 C409.78,474.42 408.93,476.28 407.30,477.10 C405.67,477.92 403.03,478.30 401.20,478.30 C399.37,478.30 398.13,477.50 396.30,477.10 C394.47,476.70 391.22,476.22 390.20,475.90 C389.18,475.58 388.97,475.52 390.20,475.20Z" fill="#7f7f7f" /><path d="M384.80,497.80 C385.82,497.70 385.70,500.48 386.60,501.50 C387.50,502.52 388.68,502.28 390.20,503.90 C391.72,505.52 395.48,508.55 395.70,511.20 C395.92,513.85 393.62,517.77 391.50,519.80 C389.38,521.83 385.85,523.40 383.00,523.40 C380.15,523.40 376.23,521.83 374.40,519.80 C372.57,517.77 372.00,513.85 372.00,511.20 C372.00,508.55 372.98,505.42 374.40,503.90 C375.82,502.38 378.77,503.12 380.50,502.10 C382.23,501.08 383.78,497.90 384.80,497.80Z" fill="#8c564b" /><path d="M421,554 L425,552.3 L429,553 L432,552.5 L431.5,558 L430,562.6 L424,562.3 L421.5,560Z" fill="#e377c2" /><path d="M394.80,413.00 C395.03,412.60 396.17,412.35 396.60,412.60 C397.03,412.85 397.40,413.77 397.40,414.50 C397.40,415.23 396.90,416.32 396.60,417.00 C396.30,417.68 395.93,418.52 395.60,418.60 C395.27,418.68 394.67,418.10 394.60,417.50 C394.53,416.90 395.17,415.75 395.20,415.00 C395.23,414.25 394.57,413.40 394.80,413.00Z" fill="#bcbd22" /><defs><clipPath id="cres"><path d="M475.10,417.80 C476.17,417.03 477.18,417.08 478.70,417.30 C480.22,417.52 482.37,418.18 484.20,419.10 C486.03,420.02 488.02,421.27 489.70,422.80 C491.38,424.33 492.93,426.32 494.30,428.30 C495.67,430.28 496.83,432.42 497.90,434.70 C498.97,436.98 499.93,439.57 500.70,442.00 C501.47,444.43 502.05,446.70 502.50,449.30 C502.95,451.90 503.25,455.00 503.40,457.60 C503.55,460.20 503.43,462.72 503.40,464.90 C503.37,467.08 503.68,467.97 503.20,470.70 C502.72,473.43 501.48,478.47 500.50,481.30 C499.52,484.13 498.72,485.73 497.30,487.70 C495.88,489.67 493.95,491.48 492.00,493.10 C490.05,494.72 487.57,496.78 485.60,497.40 C483.63,498.02 482.35,496.90 480.20,496.80 C478.05,496.70 474.22,496.17 472.70,496.80 C471.18,497.43 471.27,499.08 471.10,500.60 C470.93,502.12 471.97,504.30 471.70,505.90 C471.43,507.50 470.03,508.25 469.50,510.20 C468.97,512.15 469.03,515.65 468.50,517.60 C467.97,519.55 467.55,521.00 466.30,521.90 C465.05,522.80 462.77,522.65 461.00,523.00 C459.23,523.35 456.95,524.53 455.70,524.00 C454.45,523.47 453.95,521.93 453.50,519.80 C453.05,517.67 453.17,513.33 453.00,511.20 C452.83,509.07 452.42,508.77 452.50,507.00 C452.58,505.23 452.80,502.30 453.50,500.60 C454.20,498.90 455.27,497.87 456.70,496.80 C458.13,495.73 460.32,495.00 462.10,494.20 C463.88,493.40 465.80,492.90 467.40,492.00 C469.00,491.10 470.27,490.05 471.70,488.80 C473.13,487.55 475.12,486.10 476.00,484.50 C476.88,482.90 477.00,480.97 477.00,479.20 C477.00,477.43 475.63,475.50 476.00,473.90 C476.37,472.30 478.32,470.85 479.20,469.60 C480.08,468.35 480.95,467.65 481.30,466.40 C481.65,465.15 481.27,463.27 481.30,462.10 C481.33,460.93 481.40,460.92 481.50,459.40 C481.60,457.88 482.05,454.83 481.90,453.00 C481.75,451.17 481.28,449.77 480.60,448.40 C479.92,447.03 478.72,446.17 477.80,444.80 C476.88,443.43 475.72,441.88 475.10,440.20 C474.48,438.52 474.48,436.68 474.10,434.70 C473.72,432.72 473.10,430.43 472.80,428.30 C472.50,426.17 471.92,423.65 472.30,421.90 C472.68,420.15 474.03,418.57 475.10,417.80Z"/></clipPath><clipPath id="cresI"><path d="M649.90,417.80 C650.97,417.03 651.98,417.08 653.50,417.30 C655.02,417.52 657.17,418.18 659.00,419.10 C660.83,420.02 662.82,421.27 664.50,422.80 C666.18,424.33 667.73,426.32 669.10,428.30 C670.47,430.28 671.63,432.42 672.70,434.70 C673.77,436.98 674.73,439.57 675.50,442.00 C676.27,444.43 676.85,446.70 677.30,449.30 C677.75,451.90 678.05,455.00 678.20,457.60 C678.35,460.20 678.23,462.72 678.20,464.90 C678.17,467.08 678.48,467.97 678.00,470.70 C677.52,473.43 676.28,478.47 675.30,481.30 C674.32,484.13 673.52,485.73 672.10,487.70 C670.68,489.67 668.75,491.48 666.80,493.10 C664.85,494.72 662.37,496.78 660.40,497.40 C658.43,498.02 657.15,496.90 655.00,496.80 C652.85,496.70 649.02,496.17 647.50,496.80 C645.98,497.43 646.07,499.08 645.90,500.60 C645.73,502.12 646.77,504.30 646.50,505.90 C646.23,507.50 644.83,508.25 644.30,510.20 C643.77,512.15 643.83,515.65 643.30,517.60 C642.77,519.55 642.35,521.00 641.10,521.90 C639.85,522.80 637.57,522.65 635.80,523.00 C634.03,523.35 631.75,524.53 630.50,524.00 C629.25,523.47 628.75,521.93 628.30,519.80 C627.85,517.67 627.97,513.33 627.80,511.20 C627.63,509.07 627.22,508.77 627.30,507.00 C627.38,505.23 627.60,502.30 628.30,500.60 C629.00,498.90 630.07,497.87 631.50,496.80 C632.93,495.73 635.12,495.00 636.90,494.20 C638.68,493.40 640.60,492.90 642.20,492.00 C643.80,491.10 645.07,490.05 646.50,488.80 C647.93,487.55 649.92,486.10 650.80,484.50 C651.68,482.90 651.80,480.97 651.80,479.20 C651.80,477.43 650.43,475.50 650.80,473.90 C651.17,472.30 653.12,470.85 654.00,469.60 C654.88,468.35 655.75,467.65 656.10,466.40 C656.45,465.15 656.07,463.27 656.10,462.10 C656.13,460.93 656.20,460.92 656.30,459.40 C656.40,457.88 656.85,454.83 656.70,453.00 C656.55,451.17 656.08,449.77 655.40,448.40 C654.72,447.03 653.52,446.17 652.60,444.80 C651.68,443.43 650.52,441.88 649.90,440.20 C649.28,438.52 649.28,436.68 648.90,434.70 C648.52,432.72 647.90,430.43 647.60,428.30 C647.30,426.17 646.72,423.65 647.10,421.90 C647.48,420.15 648.83,418.57 649.90,417.80Z"/></clipPath></defs><g clip-path="url(#cres)"><rect x="440" y="410" width="70" height="120" fill="#1f77b4"/><path d="M465,410 L510,410 L510,486 L501,483 L496,474 L490,465 L484,458 L479,452 L476,446 L470,430Z" fill="#9467bd" /><path d="M440,492 L458,491 L466,489 L474,486 L479,490 L480,530 L440,530Z" fill="#17becf" /></g><rect x="487.46" y="483.24" width="1.20" height="1.20" fill="#9467bd"/><rect x="489.97" y="467.43" width="1.20" height="1.20" fill="#9467bd"/><rect x="478.50" y="443.78" width="1.20" height="1.20" fill="#1f77b4"/><rect x="492.43" y="481.96" width="1.20" height="1.20" fill="#9467bd"/><rect x="486.09" y="462.52" width="1.20" height="1.20" fill="#9467bd"/><rect x="480.46" y="463.26" width="1.20" height="1.20" fill="#1f77b4"/><rect x="483.92" y="454.59" width="1.20" height="1.20" fill="#9467bd"/><rect x="483.49" y="475.16" width="1.20" height="1.20" fill="#1f77b4"/><rect x="479.84" y="467.40" width="1.20" height="1.20" fill="#9467bd"/><rect x="481.70" y="462.24" width="1.20" height="1.20" fill="#1f77b4"/><rect x="491.30" y="486.57" width="1.20" height="1.20" fill="#1f77b4"/><rect x="499.40" y="481.98" width="1.20" height="1.20" fill="#9467bd"/><rect x="481.55" y="467.93" width="1.20" height="1.20" fill="#1f77b4"/><rect x="487.75" y="481.97" width="1.20" height="1.20" fill="#9467bd"/><rect x="487.08" y="467.25" width="1.20" height="1.20" fill="#9467bd"/><rect x="489.74" y="466.03" width="1.20" height="1.20" fill="#9467bd"/><rect x="483.65" y="478.48" width="1.20" height="1.20" fill="#9467bd"/><rect x="497.80" y="476.07" width="1.20" height="1.20" fill="#1f77b4"/><rect x="489.60" y="466.70" width="1.20" height="1.20" fill="#1f77b4"/><rect x="488.28" y="456.51" width="1.20" height="1.20" fill="#9467bd"/><rect x="484.97" y="462.35" width="1.20" height="1.20" fill="#1f77b4"/><rect x="490.57" y="461.85" width="1.20" height="1.20" fill="#9467bd"/><rect x="498.30" y="476.11" width="1.20" height="1.20" fill="#1f77b4"/><rect x="482.79" y="474.38" width="1.20" height="1.20" fill="#1f77b4"/><rect x="488.91" y="458.07" width="1.20" height="1.20" fill="#1f77b4"/><rect x="499.40" y="481.90" width="1.20" height="1.20" fill="#9467bd"/><rect x="480.69" y="447.68" width="1.20" height="1.20" fill="#9467bd"/><rect x="499.85" y="474.20" width="1.20" height="1.20" fill="#1f77b4"/><rect x="497.25" y="483.33" width="1.20" height="1.20" fill="#1f77b4"/><rect x="486.55" y="479.06" width="1.20" height="1.20" fill="#9467bd"/><rect x="493.69" y="465.06" width="1.20" height="1.20" fill="#1f77b4"/><rect x="489.79" y="464.79" width="1.20" height="1.20" fill="#9467bd"/><rect x="492.79" y="468.36" width="1.20" height="1.20" fill="#9467bd"/><rect x="496.29" y="478.02" width="1.20" height="1.20" fill="#9467bd"/><rect x="498.03" y="474.70" width="1.20" height="1.20" fill="#1f77b4"/><rect x="497.14" y="477.62" width="1.20" height="1.20" fill="#9467bd"/><rect x="496.50" y="468.24" width="1.20" height="1.20" fill="#1f77b4"/><rect x="495.58" y="469.01" width="1.20" height="1.20" fill="#1f77b4"/><rect x="482.34" y="457.44" width="1.20" height="1.20" fill="#9467bd"/><rect x="483.23" y="483.77" width="1.20" height="1.20" fill="#9467bd"/><rect x="482.38" y="485.53" width="1.20" height="1.20" fill="#1f77b4"/><rect x="494.28" y="476.43" width="1.20" height="1.20" fill="#9467bd"/><rect x="485.62" y="475.60" width="1.20" height="1.20" fill="#1f77b4"/><rect x="489.25" y="472.55" width="1.20" height="1.20" fill="#9467bd"/><rect x="485.61" y="462.62" width="1.20" height="1.20" fill="#1f77b4"/><rect x="487.16" y="476.83" width="1.20" height="1.20" fill="#9467bd"/><rect x="496.23" y="484.19" width="1.20" height="1.20" fill="#9467bd"/><rect x="495.46" y="471.65" width="1.20" height="1.20" fill="#9467bd"/><rect x="484.64" y="455.92" width="1.20" height="1.20" fill="#9467bd"/><rect x="485.22" y="468.98" width="1.20" height="1.20" fill="#1f77b4"/><rect x="479.17" y="449.09" width="1.20" height="1.20" fill="#1f77b4"/><rect x="487.43" y="455.12" width="1.20" height="1.20" fill="#9467bd"/><rect x="490.03" y="471.24" width="1.20" height="1.20" fill="#1f77b4"/><rect x="497.01" y="469.83" width="1.20" height="1.20" fill="#1f77b4"/><rect x="495.06" y="465.52" width="1.20" height="1.20" fill="#9467bd"/><rect x="482.75" y="468.82" width="1.20" height="1.20" fill="#9467bd"/><rect x="494.53" y="478.38" width="1.20" height="1.20" fill="#1f77b4"/><rect x="477.73" y="443.51" width="1.20" height="1.20" fill="#9467bd"/><rect x="493.65" y="466.75" width="1.20" height="1.20" fill="#1f77b4"/><rect x="495.66" y="473.53" width="1.20" height="1.20" fill="#1f77b4"/><rect x="493.03" y="465.95" width="1.20" height="1.20" fill="#1f77b4"/><rect x="497.09" y="470.13" width="1.20" height="1.20" fill="#1f77b4"/><rect x="497.27" y="470.74" width="1.20" height="1.20" fill="#9467bd"/><rect x="486.11" y="451.68" width="1.20" height="1.20" fill="#9467bd"/><rect x="484.60" y="472.46" width="1.20" height="1.20" fill="#9467bd"/><rect x="480.40" y="457.43" width="1.20" height="1.20" fill="#1f77b4"/><rect x="487.91" y="469.78" width="1.20" height="1.20" fill="#9467bd"/><rect x="480.43" y="446.73" width="1.20" height="1.20" fill="#9467bd"/><rect x="489.49" y="463.53" width="1.20" height="1.20" fill="#1f77b4"/><rect x="487.74" y="468.64" width="1.20" height="1.20" fill="#1f77b4"/><rect x="488.01" y="456.74" width="1.20" height="1.20" fill="#1f77b4"/><rect x="479.28" y="470.99" width="1.20" height="1.20" fill="#1f77b4"/><rect x="487.79" y="483.90" width="1.20" height="1.20" fill="#1f77b4"/><rect x="481.08" y="456.18" width="1.20" height="1.20" fill="#9467bd"/><rect x="491.00" y="470.49" width="1.20" height="1.20" fill="#1f77b4"/><rect x="480.82" y="447.07" width="1.20" height="1.20" fill="#1f77b4"/><rect x="496.07" y="468.38" width="1.20" height="1.20" fill="#1f77b4"/><rect x="491.38" y="472.88" width="1.20" height="1.20" fill="#9467bd"/><rect x="483.29" y="468.62" width="1.20" height="1.20" fill="#1f77b4"/><rect x="483.93" y="448.58" width="1.20" height="1.20" fill="#1f77b4"/><rect x="492.41" y="460.44" width="1.20" height="1.20" fill="#1f77b4"/><rect x="483.42" y="469.43" width="1.20" height="1.20" fill="#1f77b4"/><rect x="486.83" y="457.68" width="1.20" height="1.20" fill="#9467bd"/><rect x="499.40" y="479.83" width="1.20" height="1.20" fill="#9467bd"/><rect x="482.49" y="484.42" width="1.20" height="1.20" fill="#1f77b4"/><rect x="496.68" y="468.32" width="1.20" height="1.20" fill="#9467bd"/><rect x="490.43" y="465.48" width="1.20" height="1.20" fill="#9467bd"/><rect x="484.67" y="463.20" width="1.20" height="1.20" fill="#1f77b4"/><rect x="495.28" y="470.16" width="1.20" height="1.20" fill="#1f77b4"/><rect x="495.47" y="479.02" width="1.20" height="1.20" fill="#9467bd"/><rect x="489.00" y="460.59" width="1.20" height="1.20" fill="#9467bd"/><rect x="482.38" y="471.59" width="1.20" height="1.20" fill="#1f77b4"/><rect x="492.03" y="479.11" width="1.20" height="1.20" fill="#1f77b4"/><rect x="483.49" y="469.02" width="1.20" height="1.20" fill="#9467bd"/><rect x="490.47" y="470.89" width="1.20" height="1.20" fill="#1f77b4"/><rect x="486.96" y="474.77" width="1.20" height="1.20" fill="#9467bd"/><rect x="486.69" y="462.73" width="1.20" height="1.20" fill="#9467bd"/><rect x="481.36" y="453.18" width="1.20" height="1.20" fill="#1f77b4"/><rect x="488.91" y="478.39" width="1.20" height="1.20" fill="#1f77b4"/><rect x="483.34" y="461.07" width="1.20" height="1.20" fill="#1f77b4"/><rect x="487.58" y="486.10" width="1.20" height="1.20" fill="#1f77b4"/><rect x="482.28" y="450.96" width="1.20" height="1.20" fill="#1f77b4"/><rect x="488.92" y="456.51" width="1.20" height="1.20" fill="#1f77b4"/><rect x="491.82" y="476.43" width="1.20" height="1.20" fill="#1f77b4"/><rect x="490.53" y="467.47" width="1.20" height="1.20" fill="#1f77b4"/><rect x="491.98" y="480.60" width="1.20" height="1.20" fill="#1f77b4"/><rect x="495.09" y="482.93" width="1.20" height="1.20" fill="#9467bd"/><rect x="483.73" y="478.18" width="1.20" height="1.20" fill="#1f77b4"/><rect x="481.86" y="457.33" width="1.20" height="1.20" fill="#1f77b4"/><rect x="489.59" y="482.92" width="1.20" height="1.20" fill="#1f77b4"/><rect x="489.51" y="483.17" width="1.20" height="1.20" fill="#1f77b4"/><rect x="490.03" y="487.04" width="1.20" height="1.20" fill="#9467bd"/><rect x="486.71" y="456.85" width="1.20" height="1.20" fill="#9467bd"/><rect x="492.14" y="486.71" width="1.20" height="1.20" fill="#9467bd"/><rect x="489.33" y="458.84" width="1.20" height="1.20" fill="#9467bd"/><rect x="494.32" y="471.53" width="1.20" height="1.20" fill="#9467bd"/><rect x="491.00" y="472.28" width="1.20" height="1.20" fill="#1f77b4"/><rect x="492.15" y="481.68" width="1.20" height="1.20" fill="#9467bd"/><rect x="482.11" y="473.33" width="1.20" height="1.20" fill="#9467bd"/><rect x="500.22" y="478.82" width="1.20" height="1.20" fill="#1f77b4"/><rect x="489.50" y="458.21" width="1.20" height="1.20" fill="#9467bd"/><rect x="483.57" y="468.93" width="1.20" height="1.20" fill="#1f77b4"/><rect x="486.75" y="475.86" width="1.20" height="1.20" fill="#1f77b4"/><rect x="499.86" y="476.20" width="1.20" height="1.20" fill="#1f77b4"/><rect x="482.75" y="449.96" width="1.20" height="1.20" fill="#1f77b4"/><rect x="490.36" y="486.23" width="1.20" height="1.20" fill="#9467bd"/><rect x="485.40" y="481.58" width="1.20" height="1.20" fill="#1f77b4"/><rect x="484.25" y="454.96" width="1.20" height="1.20" fill="#9467bd"/><rect x="485.23" y="465.91" width="1.20" height="1.20" fill="#9467bd"/><rect x="488.37" y="463.48" width="1.20" height="1.20" fill="#1f77b4"/><rect x="494.41" y="483.85" width="1.20" height="1.20" fill="#9467bd"/><rect x="484.47" y="472.23" width="1.20" height="1.20" fill="#1f77b4"/><rect x="484.18" y="463.51" width="1.20" height="1.20" fill="#1f77b4"/><rect x="495.98" y="475.55" width="1.20" height="1.20" fill="#9467bd"/><rect x="484.55" y="462.49" width="1.20" height="1.20" fill="#1f77b4"/><rect x="486.74" y="466.05" width="1.20" height="1.20" fill="#9467bd"/><rect x="495.23" y="479.96" width="1.20" height="1.20" fill="#9467bd"/><rect x="491.12" y="476.34" width="1.20" height="1.20" fill="#9467bd"/><rect x="481.26" y="466.97" width="1.20" height="1.20" fill="#9467bd"/><rect x="499.90" y="475.30" width="1.20" height="1.20" fill="#1f77b4"/><rect x="499.92" y="482.72" width="1.20" height="1.20" fill="#9467bd"/><rect x="497.56" y="468.67" width="1.20" height="1.20" fill="#9467bd"/><rect x="482.32" y="447.53" width="1.20" height="1.20" fill="#9467bd"/><rect x="484.41" y="458.71" width="1.20" height="1.20" fill="#9467bd"/><rect x="480.62" y="462.09" width="1.20" height="1.20" fill="#1f77b4"/><rect x="494.54" y="484.25" width="1.20" height="1.20" fill="#1f77b4"/><rect x="489.91" y="458.35" width="1.20" height="1.20" fill="#9467bd"/><rect x="486.58" y="454.73" width="1.20" height="1.20" fill="#1f77b4"/><rect x="478.12" y="447.80" width="1.20" height="1.20" fill="#9467bd"/><rect x="499.00" y="481.79" width="1.20" height="1.20" fill="#1f77b4"/><rect x="469.46" y="492.33" width="1.20" height="1.20" fill="#1f77b4"/><rect x="462.24" y="500.64" width="1.20" height="1.20" fill="#17becf"/><rect x="461.17" y="492.91" width="1.20" height="1.20" fill="#1f77b4"/><rect x="467.59" y="491.54" width="1.20" height="1.20" fill="#1f77b4"/><rect x="469.86" y="492.10" width="1.20" height="1.20" fill="#17becf"/><rect x="466.02" y="491.57" width="1.20" height="1.20" fill="#1f77b4"/><rect x="459.99" y="495.58" width="1.20" height="1.20" fill="#1f77b4"/><rect x="463.98" y="496.64" width="1.20" height="1.20" fill="#1f77b4"/><rect x="458.83" y="496.56" width="1.20" height="1.20" fill="#17becf"/><rect x="474.78" y="495.88" width="1.20" height="1.20" fill="#17becf"/><rect x="456.45" y="493.74" width="1.20" height="1.20" fill="#1f77b4"/><rect x="465.46" y="492.19" width="1.20" height="1.20" fill="#17becf"/><rect x="472.11" y="497.22" width="1.20" height="1.20" fill="#1f77b4"/><rect x="469.34" y="492.35" width="1.20" height="1.20" fill="#1f77b4"/><rect x="469.75" y="500.82" width="1.20" height="1.20" fill="#1f77b4"/><rect x="458.73" y="498.59" width="1.20" height="1.20" fill="#1f77b4"/><rect x="466.64" y="492.43" width="1.20" height="1.20" fill="#1f77b4"/><rect x="468.94" y="497.19" width="1.20" height="1.20" fill="#1f77b4"/><rect x="465.29" y="494.61" width="1.20" height="1.20" fill="#17becf"/><rect x="473.51" y="496.55" width="1.20" height="1.20" fill="#17becf"/><rect x="459.62" y="497.85" width="1.20" height="1.20" fill="#17becf"/><rect x="466.47" y="502.27" width="1.20" height="1.20" fill="#17becf"/><rect x="465.32" y="496.09" width="1.20" height="1.20" fill="#1f77b4"/><rect x="461.14" y="500.07" width="1.20" height="1.20" fill="#17becf"/><rect x="466.50" y="502.87" width="1.20" height="1.20" fill="#17becf"/><rect x="378.50" y="443.01" width="1.00" height="1.00" fill="#e8e8e8"/><rect x="387.33" y="429.86" width="1.00" height="1.00" fill="#ff7f0e"/><rect x="391.97" y="432.96" width="1.00" height="1.00" fill="#ff7f0e"/><rect x="385.45" y="434.27" width="1.00" height="1.00" fill="#e8e8e8"/><rect x="382.55" y="441.30" width="1.00" height="1.00" fill="#ff7f0e"/><rect x="384.43" y="428.77" width="1.00" height="1.00" fill="#ff7f0e"/><rect x="384.84" y="426.77" width="1.00" height="1.00" fill="#ff7f0e"/><rect x="377.65" y="445.53" width="1.00" height="1.00" fill="#8c564b"/><rect x="383.46" y="441.23" width="1.00" height="1.00" fill="#8c564b"/><rect x="369.08" y="453.86" width="1.00" height="1.00" fill="#e8e8e8"/><rect x="372.02" y="475.19" width="1.20" height="1.20" fill="#2ca02c"/><rect x="372.20" y="492.27" width="1.20" height="1.20" fill="#2ca02c"/><rect x="370.67" y="469.28" width="1.20" height="1.20" fill="#2ca02c"/><rect x="370.19" y="474.54" width="1.20" height="1.20" fill="#2ca02c"/><rect x="370.31" y="466.21" width="1.20" height="1.20" fill="#2ca02c"/><rect x="368.28" y="475.25" width="1.20" height="1.20" fill="#2ca02c"/><rect x="371.37" y="478.81" width="1.20" height="1.20" fill="#2ca02c"/><rect x="370.29" y="467.99" width="1.20" height="1.20" fill="#2ca02c"/><rect x="367.64" y="475.20" width="1.20" height="1.20" fill="#2ca02c"/><rect x="368.72" y="483.65" width="1.20" height="1.20" fill="#2ca02c"/><rect x="386.29" y="517.84" width="1.20" height="1.20" fill="#2ca02c"/><rect x="386.12" y="503.61" width="1.20" height="1.20" fill="#dddddd"/><rect x="373.40" y="512.31" width="1.20" height="1.20" fill="#2ca02c"/><rect x="381.83" y="510.30" width="1.20" height="1.20" fill="#ff7f0e"/><rect x="393.10" y="511.98" width="1.20" height="1.20" fill="#ff7f0e"/><rect x="384.35" y="518.70" width="1.20" height="1.20" fill="#dddddd"/><rect x="387.87" y="502.87" width="1.20" height="1.20" fill="#ff7f0e"/><rect x="376.17" y="515.39" width="1.20" height="1.20" fill="#ff7f0e"/></g><text x="345.00" y="409.10" font-size="10.5" text-anchor="start" fill="#000" color="#000" stroke-width="0.12" font-weight="bold" >h</text><text x="402.40" y="420.30" font-size="7.9" text-anchor="start" fill="#231f20" color="#231f20" stroke-width="0.12" font-weight="normal" >Epicardial cells</text><text x="400.00" y="433.90" font-size="7.9" text-anchor="start" fill="#231f20" color="#231f20" stroke-width="0.12" font-weight="normal" >Adventitial</text><text x="400.00" y="443.30" font-size="7.9" text-anchor="start" fill="#231f20" color="#231f20" stroke-width="0.12" font-weight="normal" >fibroblasts</text><text x="472.20" y="459.40" font-size="7.9" text-anchor="end" fill="#231f20" color="#231f20" stroke-width="0.12" font-weight="normal" >Endothelial</text><text x="472.20" y="468.30" font-size="7.9" text-anchor="end" fill="#231f20" color="#231f20" stroke-width="0.12" font-weight="normal" >cells</text><text x="406.80" y="491.70" font-size="7.9" text-anchor="middle" fill="#231f20" color="#231f20" stroke-width="0.12" font-weight="normal" >Immune</text><text x="406.80" y="500.30" font-size="7.9" text-anchor="middle" fill="#231f20" color="#231f20" stroke-width="0.12" font-weight="normal" >cells</text><text x="378.20" y="533.30" font-size="7.9" text-anchor="middle" fill="#231f20" color="#231f20" stroke-width="0.12" font-weight="normal" >Smooth</text><text x="378.20" y="542.40" font-size="7.9" text-anchor="middle" fill="#231f20" color="#231f20" stroke-width="0.12" font-weight="normal" >muscle</text><text x="378.20" y="551.90" font-size="7.9" text-anchor="middle" fill="#231f20" color="#231f20" stroke-width="0.12" font-weight="normal" >cells</text><text x="442.00" y="536.10" font-size="7.9" text-anchor="start" fill="#231f20" color="#231f20" stroke-width="0.12" font-weight="normal" >Lymphatic</text><text x="442.00" y="545.10" font-size="7.9" text-anchor="start" fill="#231f20" color="#231f20" stroke-width="0.12" font-weight="normal" >endothelial-</text><text x="442.00" y="554.40" font-size="7.9" text-anchor="start" fill="#231f20" color="#231f20" stroke-width="0.12" font-weight="normal" >like cells</text><line x1="399.00" y1="415.40" x2="402.00" y2="417.30" stroke="#231f20" stroke-width="0.7" /><line x1="393.50" y1="434.20" x2="397.60" y2="432.20" stroke="#231f20" stroke-width="0.7" /><line x1="474.80" y1="437.40" x2="465.70" y2="452.10" stroke="#231f20" stroke-width="0.7" /><line x1="471.70" y1="471.30" x2="474.80" y2="475.00" stroke="#231f20" stroke-width="0.7" /><line x1="462.60" y1="472.40" x2="463.50" y2="493.20" stroke="#231f20" stroke-width="0.7" /><line x1="408.50" y1="477.00" x2="406.70" y2="483.80" stroke="#231f20" stroke-width="0.7" /><line x1="366.50" y1="489.30" x2="370.10" y2="524.60" stroke="#231f20" stroke-width="0.7" /><line x1="375.60" y1="521.00" x2="373.20" y2="525.20" stroke="#231f20" stroke-width="0.7" /><line x1="432.50" y1="557.00" x2="439.00" y2="547.50" stroke="#231f20" stroke-width="0.7" /><path d="M357.8,519.1 L357.8,567.7 L406.8,567.7" fill="none" stroke="#231f20" stroke-width="0.8"/><path d="M357.8,515.1 L355.8,520.1 L359.8,520.1Z" fill="#231f20"/><path d="M410.8,567.7 L405.8,565.7 L405.8,569.7Z" fill="#231f20"/><text x="382.40" y="578.60" font-size="7.9" text-anchor="middle" fill="#231f20" color="#231f20" stroke-width="0.12" font-weight="normal" >UMAP1</text><text x="0" y="0" font-size="7.8" fill="#231f20" text-anchor="middle" transform="translate(352.8,542.9) rotate(-90)">UMAP2</text><text x="342.90" y="601.70" font-size="7.9" text-anchor="start" fill="#231f20" color="#231f20" stroke-width="0.12" font-weight="normal" >Endothelial cells</text><circle cx="346.4" cy="611.0" r="3.7" fill="#9467bd"/><text x="353.10" y="613.90" font-size="7.9" text-anchor="start" fill="#231f20" color="#231f20" stroke-width="0.12" font-weight="normal" >Aortic arch</text><circle cx="346.4" cy="623.9" r="3.7" fill="#1f77b4"/><text x="353.10" y="626.80" font-size="7.9" text-anchor="start" fill="#231f20" color="#231f20" stroke-width="0.12" font-weight="normal" >Coronary artery 1</text><circle cx="346.4" cy="636.7" r="3.7" fill="#17becf"/><text x="353.10" y="639.60" font-size="7.9" text-anchor="start" fill="#231f20" color="#231f20" stroke-width="0.12" font-weight="normal" >Coronary artery 2</text><text x="444.90" y="601.70" font-size="7.9" text-anchor="start" fill="#231f20" color="#231f20" stroke-width="0.12" font-weight="normal" >Smooth muscle cells</text><circle cx="448.2" cy="611.0" r="3.7" fill="#ff7f0e"/><text x="455.00" y="613.90" font-size="7.9" text-anchor="start" fill="#231f20" color="#231f20" stroke-width="0.12" font-weight="normal" >Aortic arch</text><circle cx="448.2" cy="623.9" r="3.7" fill="#8c564b"/><text x="455.00" y="626.80" font-size="7.9" text-anchor="start" fill="#231f20" color="#231f20" stroke-width="0.12" font-weight="normal" >Coronary artery</text><g filter="url(#roughE)"><path d="M561.00,425.70 C562.53,425.58 564.47,426.33 565.60,426.90 C566.73,427.47 567.37,428.22 567.80,429.10 C568.23,429.98 568.32,430.80 568.20,432.20 C568.08,433.60 567.53,435.85 567.10,437.50 C566.67,439.15 566.23,440.95 565.60,442.10 C564.97,443.25 564.20,443.77 563.30,444.40 C562.40,445.03 561.22,445.13 560.20,445.90 C559.18,446.67 557.95,447.85 557.20,449.00 C556.45,450.15 556.22,451.53 555.70,452.80 C555.18,454.07 554.87,455.47 554.10,456.60 C553.33,457.73 552.12,458.97 551.10,459.60 C550.08,460.23 549.27,460.40 548.00,460.40 C546.73,460.40 544.77,460.23 543.50,459.60 C542.23,458.97 541.03,457.87 540.40,456.60 C539.77,455.33 539.57,453.53 539.70,452.00 C539.83,450.47 540.45,448.80 541.20,447.40 C541.95,446.00 543.07,444.73 544.20,443.60 C545.33,442.47 546.85,442.00 548.00,440.60 C549.15,439.20 550.33,436.85 551.10,435.20 C551.87,433.55 551.72,431.97 552.60,430.70 C553.48,429.43 555.00,428.43 556.40,427.60 C557.80,426.77 559.47,425.82 561.00,425.70Z" fill="#5b77de" /><path d="M544.30,462.40 C546.53,461.52 554.25,460.77 556.50,462.00 C558.75,463.23 556.58,467.70 557.80,469.80 C559.02,471.90 565.03,472.78 563.80,474.60 C562.57,476.42 552.93,477.45 550.40,480.70 C547.87,483.95 549.20,491.75 548.60,494.10 C548.00,496.45 548.12,495.60 546.80,494.80 C545.48,494.00 542.33,492.05 540.70,489.30 C539.07,486.55 537.22,481.25 537.00,478.30 C536.78,475.35 538.38,473.43 539.40,471.60 C540.42,469.77 542.28,468.83 543.10,467.30 C543.92,465.77 542.07,463.28 544.30,462.40Z" fill="#5b77de" /><path d="M565.00,475.20 C566.23,474.88 570.15,473.88 572.40,474.00 C574.65,474.12 576.88,475.80 578.50,475.90 C580.12,476.00 580.68,475.42 582.10,474.60 C583.52,473.78 585.98,472.42 587.00,471.00 C588.02,469.58 587.38,467.53 588.20,466.10 C589.02,464.67 591.18,462.60 591.90,462.40 C592.62,462.20 592.92,463.47 592.50,464.90 C592.08,466.33 590.52,469.58 589.40,471.00 C588.28,472.42 587.02,472.38 585.80,473.40 C584.58,474.42 583.73,476.28 582.10,477.10 C580.47,477.92 577.83,478.30 576.00,478.30 C574.17,478.30 572.93,477.50 571.10,477.10 C569.27,476.70 566.02,476.22 565.00,475.90 C563.98,475.58 563.77,475.52 565.00,475.20Z" fill="#5b77de" /><path d="M559.60,497.80 C560.62,497.70 560.50,500.48 561.40,501.50 C562.30,502.52 563.48,502.28 565.00,503.90 C566.52,505.52 570.28,508.55 570.50,511.20 C570.72,513.85 568.42,517.77 566.30,519.80 C564.18,521.83 560.65,523.40 557.80,523.40 C554.95,523.40 551.03,521.83 549.20,519.80 C547.37,517.77 546.80,513.85 546.80,511.20 C546.80,508.55 547.78,505.42 549.20,503.90 C550.62,502.38 553.57,503.12 555.30,502.10 C557.03,501.08 558.58,497.90 559.60,497.80Z" fill="#5b77de" /><path d="M569.60,413.00 C569.83,412.60 570.97,412.35 571.40,412.60 C571.83,412.85 572.20,413.77 572.20,414.50 C572.20,415.23 571.70,416.32 571.40,417.00 C571.10,417.68 570.73,418.52 570.40,418.60 C570.07,418.68 569.47,418.10 569.40,417.50 C569.33,416.90 569.97,415.75 570.00,415.00 C570.03,414.25 569.37,413.40 569.60,413.00Z" fill="#5b77de" /><path d="M543.80,459.00 C545.13,458.42 548.80,459.83 550.80,459.50 C552.80,459.17 554.63,456.58 555.80,457.00 C556.97,457.42 557.80,460.50 557.80,462.00 C557.80,463.50 557.63,465.33 555.80,466.00 C553.97,466.67 548.97,466.50 546.80,466.00 C544.63,465.50 543.30,464.17 542.80,463.00 C542.30,461.83 542.47,459.58 543.80,459.00Z" fill="#5b77de" /><path d="M595.8,554 L599.8,552.3 L603.8,553 L606.8,552.5 L606.3,558 L604.8,562.6 L598.8,562.3 L596.3,560Z" fill="#5b77de" /><g clip-path="url(#cresI)"><rect x="614.8" y="410" width="70" height="120" fill="#cc3f3c"/></g><rect x="564.47" y="435.59" width="1.30" height="1.30" fill="#e8e4e2"/><rect x="552.42" y="435.82" width="1.30" height="1.30" fill="#9ab4f6"/><rect x="550.35" y="457.12" width="1.30" height="1.30" fill="#5672dc"/><rect x="563.61" y="433.33" width="1.30" height="1.30" fill="#e8e4e2"/><rect x="564.08" y="432.55" width="1.30" height="1.30" fill="#3b4cc0"/><rect x="561.06" y="430.55" width="1.30" height="1.30" fill="#5672dc"/><rect x="556.32" y="437.13" width="1.30" height="1.30" fill="#3b4cc0"/><rect x="553.78" y="454.00" width="1.30" height="1.30" fill="#9ab4f6"/><rect x="560.01" y="428.84" width="1.30" height="1.30" fill="#9ab4f6"/><rect x="558.09" y="429.92" width="1.30" height="1.30" fill="#9ab4f6"/><rect x="562.45" y="443.02" width="1.30" height="1.30" fill="#e8e4e2"/><rect x="546.71" y="446.93" width="1.30" height="1.30" fill="#5672dc"/><rect x="550.75" y="444.13" width="1.30" height="1.30" fill="#5672dc"/><rect x="555.35" y="439.55" width="1.30" height="1.30" fill="#9ab4f6"/><rect x="549.87" y="440.74" width="1.30" height="1.30" fill="#e8e4e2"/><rect x="549.11" y="443.31" width="1.30" height="1.30" fill="#de5a48"/><rect x="554.35" y="452.91" width="1.30" height="1.30" fill="#de5a48"/><rect x="555.45" y="445.23" width="1.30" height="1.30" fill="#5672dc"/><rect x="562.47" y="436.50" width="1.30" height="1.30" fill="#9ab4f6"/><rect x="566.37" y="432.14" width="1.30" height="1.30" fill="#de5a48"/><rect x="564.58" y="435.45" width="1.30" height="1.30" fill="#e8e4e2"/><rect x="561.09" y="443.74" width="1.30" height="1.30" fill="#de5a48"/><rect x="553.80" y="443.00" width="1.30" height="1.30" fill="#de5a48"/><rect x="550.15" y="437.46" width="1.30" height="1.30" fill="#9ab4f6"/><rect x="550.72" y="442.43" width="1.30" height="1.30" fill="#e8e4e2"/><rect x="565.51" y="430.40" width="1.30" height="1.30" fill="#9ab4f6"/><rect x="551.59" y="446.72" width="1.30" height="1.30" fill="#9ab4f6"/><rect x="557.74" y="435.28" width="1.30" height="1.30" fill="#9ab4f6"/><rect x="564.36" y="439.65" width="1.30" height="1.30" fill="#5672dc"/><rect x="553.99" y="453.37" width="1.30" height="1.30" fill="#9ab4f6"/><rect x="553.44" y="431.58" width="1.30" height="1.30" fill="#5672dc"/><rect x="542.09" y="444.82" width="1.30" height="1.30" fill="#3b4cc0"/><rect x="544.04" y="451.73" width="1.30" height="1.30" fill="#9ab4f6"/><rect x="553.71" y="430.04" width="1.30" height="1.30" fill="#9ab4f6"/><rect x="543.52" y="451.40" width="1.30" height="1.30" fill="#5672dc"/><rect x="552.37" y="439.99" width="1.30" height="1.30" fill="#3b4cc0"/><rect x="555.55" y="430.04" width="1.30" height="1.30" fill="#9ab4f6"/><rect x="548.99" y="440.66" width="1.30" height="1.30" fill="#de5a48"/><rect x="550.34" y="451.56" width="1.30" height="1.30" fill="#3b4cc0"/><rect x="551.58" y="446.57" width="1.30" height="1.30" fill="#9ab4f6"/><rect x="555.78" y="431.07" width="1.30" height="1.30" fill="#3b4cc0"/><rect x="547.70" y="445.96" width="1.30" height="1.30" fill="#e8e4e2"/><rect x="555.72" y="439.40" width="1.30" height="1.30" fill="#de5a48"/><rect x="564.00" y="441.86" width="1.30" height="1.30" fill="#9ab4f6"/><rect x="564.20" y="438.79" width="1.30" height="1.30" fill="#9ab4f6"/><rect x="550.04" y="439.04" width="1.30" height="1.30" fill="#5672dc"/><rect x="550.09" y="441.26" width="1.30" height="1.30" fill="#9ab4f6"/><rect x="557.98" y="436.90" width="1.30" height="1.30" fill="#5672dc"/><rect x="544.64" y="443.96" width="1.30" height="1.30" fill="#5672dc"/><rect x="554.87" y="441.26" width="1.30" height="1.30" fill="#9ab4f6"/><rect x="559.64" y="438.13" width="1.30" height="1.30" fill="#9ab4f6"/><rect x="547.52" y="441.57" width="1.30" height="1.30" fill="#9ab4f6"/><rect x="542.78" y="449.56" width="1.30" height="1.30" fill="#9ab4f6"/><rect x="556.03" y="440.33" width="1.30" height="1.30" fill="#9ab4f6"/><rect x="554.29" y="439.07" width="1.30" height="1.30" fill="#e8e4e2"/><rect x="545.11" y="455.32" width="1.30" height="1.30" fill="#5672dc"/><rect x="558.37" y="428.22" width="1.30" height="1.30" fill="#9ab4f6"/><rect x="539.87" y="449.97" width="1.30" height="1.30" fill="#5672dc"/><rect x="563.30" y="436.19" width="1.30" height="1.30" fill="#5672dc"/><rect x="540.99" y="456.76" width="1.30" height="1.30" fill="#e8e4e2"/><rect x="560.67" y="431.74" width="1.30" height="1.30" fill="#9ab4f6"/><rect x="562.33" y="438.89" width="1.30" height="1.30" fill="#9ab4f6"/><rect x="550.55" y="456.59" width="1.30" height="1.30" fill="#5672dc"/><rect x="565.75" y="431.17" width="1.30" height="1.30" fill="#9ab4f6"/><rect x="549.07" y="439.37" width="1.30" height="1.30" fill="#e8e4e2"/><rect x="546.13" y="454.43" width="1.30" height="1.30" fill="#9ab4f6"/><rect x="564.87" y="428.44" width="1.30" height="1.30" fill="#9ab4f6"/><rect x="542.33" y="456.72" width="1.30" height="1.30" fill="#9ab4f6"/><rect x="559.36" y="426.45" width="1.30" height="1.30" fill="#3b4cc0"/><rect x="556.39" y="440.00" width="1.30" height="1.30" fill="#9ab4f6"/><rect x="543.50" y="450.67" width="1.30" height="1.30" fill="#e8e4e2"/><rect x="547.91" y="447.20" width="1.30" height="1.30" fill="#5672dc"/><rect x="555.14" y="432.95" width="1.30" height="1.30" fill="#e8e4e2"/><rect x="559.47" y="433.89" width="1.30" height="1.30" fill="#de5a48"/><rect x="558.15" y="445.01" width="1.30" height="1.30" fill="#3b4cc0"/><rect x="542.24" y="451.55" width="1.30" height="1.30" fill="#9ab4f6"/><rect x="555.73" y="449.20" width="1.30" height="1.30" fill="#9ab4f6"/><rect x="558.46" y="426.34" width="1.30" height="1.30" fill="#9ab4f6"/><rect x="545.04" y="456.78" width="1.30" height="1.30" fill="#5672dc"/><rect x="550.94" y="450.86" width="1.30" height="1.30" fill="#9ab4f6"/><rect x="556.95" y="440.76" width="1.30" height="1.30" fill="#3b4cc0"/><rect x="558.33" y="432.20" width="1.30" height="1.30" fill="#e8e4e2"/><rect x="553.00" y="431.62" width="1.30" height="1.30" fill="#e8e4e2"/><rect x="546.49" y="444.01" width="1.30" height="1.30" fill="#9ab4f6"/><rect x="554.55" y="433.71" width="1.30" height="1.30" fill="#3b4cc0"/><rect x="541.69" y="447.14" width="1.30" height="1.30" fill="#5672dc"/><rect x="542.94" y="449.58" width="1.30" height="1.30" fill="#e8e4e2"/><rect x="553.74" y="440.49" width="1.30" height="1.30" fill="#9ab4f6"/><rect x="558.94" y="429.68" width="1.30" height="1.30" fill="#5672dc"/><rect x="555.80" y="433.40" width="1.30" height="1.30" fill="#5672dc"/><rect x="554.68" y="451.44" width="1.30" height="1.30" fill="#5672dc"/><rect x="558.35" y="430.42" width="1.30" height="1.30" fill="#e8e4e2"/><rect x="562.98" y="439.14" width="1.30" height="1.30" fill="#9ab4f6"/><rect x="544.67" y="449.40" width="1.30" height="1.30" fill="#e8e4e2"/><rect x="566.49" y="430.65" width="1.30" height="1.30" fill="#e8e4e2"/><rect x="552.41" y="437.65" width="1.30" height="1.30" fill="#5672dc"/><rect x="552.89" y="450.98" width="1.30" height="1.30" fill="#9ab4f6"/><rect x="551.43" y="431.64" width="1.30" height="1.30" fill="#e8e4e2"/><rect x="541.28" y="450.99" width="1.30" height="1.30" fill="#3b4cc0"/><rect x="565.46" y="430.90" width="1.30" height="1.30" fill="#9ab4f6"/><rect x="560.21" y="436.39" width="1.30" height="1.30" fill="#5672dc"/><rect x="557.50" y="437.41" width="1.30" height="1.30" fill="#9ab4f6"/><rect x="549.55" y="444.17" width="1.30" height="1.30" fill="#9ab4f6"/><rect x="562.93" y="433.85" width="1.30" height="1.30" fill="#3b4cc0"/><rect x="553.29" y="430.51" width="1.30" height="1.30" fill="#9ab4f6"/><rect x="556.22" y="446.79" width="1.30" height="1.30" fill="#5672dc"/><rect x="558.66" y="430.73" width="1.30" height="1.30" fill="#e8e4e2"/><rect x="557.20" y="438.98" width="1.30" height="1.30" fill="#3b4cc0"/><rect x="563.29" y="441.69" width="1.30" height="1.30" fill="#9ab4f6"/><rect x="561.48" y="439.81" width="1.30" height="1.30" fill="#9ab4f6"/><rect x="566.30" y="431.17" width="1.30" height="1.30" fill="#5672dc"/><rect x="555.22" y="441.32" width="1.30" height="1.30" fill="#e8e4e2"/><rect x="548.28" y="441.03" width="1.30" height="1.30" fill="#e8e4e2"/><rect x="540.76" y="448.52" width="1.30" height="1.30" fill="#9ab4f6"/><rect x="555.15" y="439.66" width="1.30" height="1.30" fill="#9ab4f6"/><rect x="552.75" y="447.51" width="1.30" height="1.30" fill="#9ab4f6"/><rect x="545.39" y="450.72" width="1.30" height="1.30" fill="#5672dc"/><rect x="543.24" y="445.14" width="1.30" height="1.30" fill="#e8e4e2"/><rect x="555.60" y="439.50" width="1.30" height="1.30" fill="#e8e4e2"/><rect x="566.65" y="432.09" width="1.30" height="1.30" fill="#5672dc"/><rect x="545.36" y="454.11" width="1.30" height="1.30" fill="#5672dc"/><rect x="544.39" y="448.31" width="1.30" height="1.30" fill="#e8e4e2"/><rect x="554.47" y="449.23" width="1.30" height="1.30" fill="#e8e4e2"/><rect x="561.86" y="429.71" width="1.30" height="1.30" fill="#e8e4e2"/><rect x="554.74" y="449.85" width="1.30" height="1.30" fill="#5672dc"/><rect x="553.73" y="441.01" width="1.30" height="1.30" fill="#de5a48"/><rect x="556.69" y="439.08" width="1.30" height="1.30" fill="#3b4cc0"/><rect x="555.99" y="432.45" width="1.30" height="1.30" fill="#9ab4f6"/><rect x="564.94" y="428.09" width="1.30" height="1.30" fill="#9ab4f6"/><rect x="563.87" y="430.88" width="1.30" height="1.30" fill="#9ab4f6"/><rect x="545.87" y="442.86" width="1.30" height="1.30" fill="#e8e4e2"/><rect x="561.94" y="428.97" width="1.30" height="1.30" fill="#9ab4f6"/><rect x="551.78" y="454.13" width="1.30" height="1.30" fill="#e8e4e2"/><rect x="542.20" y="452.83" width="1.30" height="1.30" fill="#5672dc"/><rect x="543.33" y="457.36" width="1.30" height="1.30" fill="#de5a48"/><rect x="560.75" y="434.37" width="1.30" height="1.30" fill="#e8e4e2"/><rect x="550.24" y="441.56" width="1.30" height="1.30" fill="#5672dc"/><rect x="558.80" y="440.62" width="1.30" height="1.30" fill="#9ab4f6"/><rect x="545.21" y="456.07" width="1.30" height="1.30" fill="#3b4cc0"/><rect x="545.07" y="453.48" width="1.30" height="1.30" fill="#e8e4e2"/><rect x="548.49" y="441.30" width="1.30" height="1.30" fill="#9ab4f6"/><rect x="552.83" y="432.91" width="1.30" height="1.30" fill="#9ab4f6"/><rect x="558.17" y="434.51" width="1.30" height="1.30" fill="#9ab4f6"/><rect x="549.22" y="444.95" width="1.30" height="1.30" fill="#5672dc"/><rect x="555.03" y="451.80" width="1.30" height="1.30" fill="#9ab4f6"/><rect x="557.14" y="437.64" width="1.30" height="1.30" fill="#9ab4f6"/><rect x="561.65" y="433.31" width="1.30" height="1.30" fill="#5672dc"/><rect x="558.47" y="435.60" width="1.30" height="1.30" fill="#9ab4f6"/><rect x="560.13" y="442.71" width="1.30" height="1.30" fill="#9ab4f6"/><rect x="549.04" y="444.16" width="1.30" height="1.30" fill="#de5a48"/><rect x="548.58" y="449.49" width="1.30" height="1.30" fill="#9ab4f6"/><rect x="550.59" y="438.79" width="1.30" height="1.30" fill="#9ab4f6"/><rect x="543.15" y="450.03" width="1.30" height="1.30" fill="#9ab4f6"/><rect x="559.76" y="444.18" width="1.30" height="1.30" fill="#9ab4f6"/><rect x="564.50" y="434.86" width="1.30" height="1.30" fill="#e8e4e2"/><rect x="557.52" y="431.88" width="1.30" height="1.30" fill="#3b4cc0"/><rect x="541.31" y="453.14" width="1.30" height="1.30" fill="#9ab4f6"/><rect x="546.76" y="447.34" width="1.30" height="1.30" fill="#3b4cc0"/><rect x="550.60" y="448.61" width="1.30" height="1.30" fill="#9ab4f6"/><rect x="544.02" y="455.01" width="1.30" height="1.30" fill="#3b4cc0"/><rect x="541.54" y="446.31" width="1.30" height="1.30" fill="#e8e4e2"/><rect x="557.69" y="435.93" width="1.30" height="1.30" fill="#de5a48"/><rect x="560.91" y="428.17" width="1.30" height="1.30" fill="#9ab4f6"/><rect x="551.11" y="443.74" width="1.30" height="1.30" fill="#e8e4e2"/><rect x="555.44" y="433.03" width="1.30" height="1.30" fill="#9ab4f6"/><rect x="562.23" y="441.62" width="1.30" height="1.30" fill="#3b4cc0"/><rect x="561.17" y="435.78" width="1.30" height="1.30" fill="#e8e4e2"/><rect x="546.98" y="443.21" width="1.30" height="1.30" fill="#9ab4f6"/><rect x="552.61" y="447.79" width="1.30" height="1.30" fill="#9ab4f6"/><rect x="543.34" y="446.87" width="1.30" height="1.30" fill="#de5a48"/><rect x="537.96" y="477.81" width="1.30" height="1.30" fill="#de5a48"/><rect x="557.18" y="469.85" width="1.30" height="1.30" fill="#de5a48"/><rect x="546.15" y="466.25" width="1.30" height="1.30" fill="#5672dc"/><rect x="545.75" y="484.63" width="1.30" height="1.30" fill="#9ab4f6"/><rect x="553.40" y="472.64" width="1.30" height="1.30" fill="#9ab4f6"/><rect x="548.68" y="471.97" width="1.30" height="1.30" fill="#3b4cc0"/><rect x="539.24" y="485.41" width="1.30" height="1.30" fill="#3b4cc0"/><rect x="554.42" y="472.85" width="1.30" height="1.30" fill="#5672dc"/><rect x="551.47" y="474.80" width="1.30" height="1.30" fill="#9ab4f6"/><rect x="542.36" y="469.61" width="1.30" height="1.30" fill="#9ab4f6"/><rect x="555.36" y="469.28" width="1.30" height="1.30" fill="#9ab4f6"/><rect x="541.80" y="486.25" width="1.30" height="1.30" fill="#e8e4e2"/><rect x="543.82" y="490.19" width="1.30" height="1.30" fill="#9ab4f6"/><rect x="542.16" y="480.03" width="1.30" height="1.30" fill="#5672dc"/><rect x="540.01" y="471.19" width="1.30" height="1.30" fill="#3b4cc0"/><rect x="545.23" y="477.28" width="1.30" height="1.30" fill="#5672dc"/><rect x="540.68" y="483.74" width="1.30" height="1.30" fill="#de5a48"/><rect x="548.12" y="475.61" width="1.30" height="1.30" fill="#5672dc"/><rect x="556.08" y="464.55" width="1.30" height="1.30" fill="#5672dc"/><rect x="548.80" y="474.38" width="1.30" height="1.30" fill="#9ab4f6"/><rect x="545.45" y="491.48" width="1.30" height="1.30" fill="#e8e4e2"/><rect x="546.98" y="472.36" width="1.30" height="1.30" fill="#3b4cc0"/><rect x="552.04" y="467.96" width="1.30" height="1.30" fill="#e8e4e2"/><rect x="554.83" y="462.59" width="1.30" height="1.30" fill="#de5a48"/><rect x="542.35" y="479.08" width="1.30" height="1.30" fill="#e8e4e2"/><rect x="539.36" y="472.95" width="1.30" height="1.30" fill="#9ab4f6"/><rect x="545.08" y="462.71" width="1.30" height="1.30" fill="#9ab4f6"/><rect x="550.93" y="479.35" width="1.30" height="1.30" fill="#e8e4e2"/><rect x="556.32" y="470.16" width="1.30" height="1.30" fill="#9ab4f6"/><rect x="544.88" y="475.10" width="1.30" height="1.30" fill="#5672dc"/><rect x="546.72" y="473.99" width="1.30" height="1.30" fill="#9ab4f6"/><rect x="553.37" y="469.19" width="1.30" height="1.30" fill="#de5a48"/><rect x="552.72" y="473.71" width="1.30" height="1.30" fill="#5672dc"/><rect x="538.68" y="481.71" width="1.30" height="1.30" fill="#3b4cc0"/><rect x="554.95" y="471.99" width="1.30" height="1.30" fill="#e8e4e2"/><rect x="548.21" y="483.26" width="1.30" height="1.30" fill="#9ab4f6"/><rect x="546.50" y="484.71" width="1.30" height="1.30" fill="#9ab4f6"/><rect x="556.86" y="469.95" width="1.30" height="1.30" fill="#9ab4f6"/><rect x="559.34" y="472.76" width="1.30" height="1.30" fill="#de5a48"/><rect x="549.12" y="468.61" width="1.30" height="1.30" fill="#5672dc"/><rect x="546.11" y="468.07" width="1.30" height="1.30" fill="#5672dc"/><rect x="540.97" y="488.31" width="1.30" height="1.30" fill="#9ab4f6"/><rect x="546.05" y="489.68" width="1.30" height="1.30" fill="#9ab4f6"/><rect x="543.09" y="464.72" width="1.30" height="1.30" fill="#9ab4f6"/><rect x="544.45" y="483.07" width="1.30" height="1.30" fill="#9ab4f6"/><rect x="554.98" y="476.09" width="1.30" height="1.30" fill="#9ab4f6"/><rect x="555.93" y="467.07" width="1.30" height="1.30" fill="#de5a48"/><rect x="540.37" y="483.66" width="1.30" height="1.30" fill="#9ab4f6"/><rect x="553.04" y="478.52" width="1.30" height="1.30" fill="#9ab4f6"/><rect x="543.13" y="479.59" width="1.30" height="1.30" fill="#3b4cc0"/><rect x="551.64" y="463.24" width="1.30" height="1.30" fill="#5672dc"/><rect x="544.57" y="479.21" width="1.30" height="1.30" fill="#9ab4f6"/><rect x="543.20" y="470.06" width="1.30" height="1.30" fill="#9ab4f6"/><rect x="538.80" y="482.22" width="1.30" height="1.30" fill="#3b4cc0"/><rect x="541.76" y="475.23" width="1.30" height="1.30" fill="#9ab4f6"/><rect x="552.91" y="473.54" width="1.30" height="1.30" fill="#3b4cc0"/><rect x="555.58" y="473.67" width="1.30" height="1.30" fill="#3b4cc0"/><rect x="555.45" y="471.03" width="1.30" height="1.30" fill="#9ab4f6"/><rect x="547.90" y="481.27" width="1.30" height="1.30" fill="#9ab4f6"/><rect x="545.79" y="473.99" width="1.30" height="1.30" fill="#de5a48"/><rect x="539.82" y="481.64" width="1.30" height="1.30" fill="#e8e4e2"/><rect x="551.90" y="463.43" width="1.30" height="1.30" fill="#5672dc"/><rect x="545.18" y="463.67" width="1.30" height="1.30" fill="#9ab4f6"/><rect x="546.52" y="478.60" width="1.30" height="1.30" fill="#9ab4f6"/><rect x="555.14" y="475.65" width="1.30" height="1.30" fill="#9ab4f6"/><rect x="547.01" y="465.79" width="1.30" height="1.30" fill="#3b4cc0"/><rect x="547.11" y="462.68" width="1.30" height="1.30" fill="#e8e4e2"/><rect x="544.23" y="472.18" width="1.30" height="1.30" fill="#9ab4f6"/><rect x="551.48" y="463.15" width="1.30" height="1.30" fill="#e8e4e2"/><rect x="541.71" y="472.36" width="1.30" height="1.30" fill="#3b4cc0"/><rect x="547.26" y="462.99" width="1.30" height="1.30" fill="#e8e4e2"/><rect x="540.25" y="472.32" width="1.30" height="1.30" fill="#de5a48"/><rect x="550.79" y="478.41" width="1.30" height="1.30" fill="#3b4cc0"/><rect x="544.74" y="469.71" width="1.30" height="1.30" fill="#9ab4f6"/><rect x="551.24" y="478.11" width="1.30" height="1.30" fill="#9ab4f6"/><rect x="554.60" y="471.41" width="1.30" height="1.30" fill="#5672dc"/><rect x="550.74" y="473.61" width="1.30" height="1.30" fill="#9ab4f6"/><rect x="545.51" y="476.32" width="1.30" height="1.30" fill="#e8e4e2"/><rect x="551.25" y="463.03" width="1.30" height="1.30" fill="#9ab4f6"/><rect x="548.12" y="467.93" width="1.30" height="1.30" fill="#5672dc"/><rect x="548.27" y="490.15" width="1.30" height="1.30" fill="#3b4cc0"/><rect x="541.18" y="489.50" width="1.30" height="1.30" fill="#3b4cc0"/><rect x="538.28" y="480.91" width="1.30" height="1.30" fill="#5672dc"/><rect x="556.11" y="466.73" width="1.30" height="1.30" fill="#5672dc"/><rect x="544.25" y="468.27" width="1.30" height="1.30" fill="#5672dc"/><rect x="554.01" y="469.80" width="1.30" height="1.30" fill="#9ab4f6"/><rect x="554.73" y="466.43" width="1.30" height="1.30" fill="#3b4cc0"/><rect x="540.64" y="475.99" width="1.30" height="1.30" fill="#5672dc"/><rect x="544.65" y="469.81" width="1.30" height="1.30" fill="#de5a48"/><rect x="546.84" y="462.43" width="1.30" height="1.30" fill="#9ab4f6"/><rect x="540.53" y="470.90" width="1.30" height="1.30" fill="#e8e4e2"/><rect x="550.98" y="464.42" width="1.30" height="1.30" fill="#9ab4f6"/><rect x="545.28" y="474.52" width="1.30" height="1.30" fill="#3b4cc0"/><rect x="544.14" y="472.76" width="1.30" height="1.30" fill="#9ab4f6"/><rect x="541.72" y="470.53" width="1.30" height="1.30" fill="#9ab4f6"/><rect x="543.62" y="490.64" width="1.30" height="1.30" fill="#5672dc"/><rect x="551.86" y="471.19" width="1.30" height="1.30" fill="#de5a48"/><rect x="545.58" y="492.33" width="1.30" height="1.30" fill="#e8e4e2"/><rect x="544.39" y="466.99" width="1.30" height="1.30" fill="#9ab4f6"/><rect x="548.40" y="469.46" width="1.30" height="1.30" fill="#e8e4e2"/><rect x="546.11" y="464.95" width="1.30" height="1.30" fill="#9ab4f6"/><rect x="548.54" y="485.85" width="1.30" height="1.30" fill="#3b4cc0"/><rect x="548.72" y="462.46" width="1.30" height="1.30" fill="#de5a48"/><rect x="551.87" y="474.90" width="1.30" height="1.30" fill="#e8e4e2"/><rect x="539.89" y="480.31" width="1.30" height="1.30" fill="#9ab4f6"/><rect x="556.03" y="473.14" width="1.30" height="1.30" fill="#e8e4e2"/><rect x="549.22" y="466.24" width="1.30" height="1.30" fill="#3b4cc0"/><rect x="540.45" y="470.22" width="1.30" height="1.30" fill="#de5a48"/><rect x="539.50" y="476.69" width="1.30" height="1.30" fill="#5672dc"/><rect x="551.58" y="462.73" width="1.30" height="1.30" fill="#9ab4f6"/><rect x="588.32" y="469.73" width="1.30" height="1.30" fill="#5672dc"/><rect x="570.65" y="473.68" width="1.30" height="1.30" fill="#9ab4f6"/><rect x="568.95" y="474.43" width="1.30" height="1.30" fill="#9ab4f6"/><rect x="583.22" y="473.02" width="1.30" height="1.30" fill="#5672dc"/><rect x="585.02" y="471.87" width="1.30" height="1.30" fill="#9ab4f6"/><rect x="580.38" y="474.52" width="1.30" height="1.30" fill="#e8e4e2"/><rect x="582.85" y="473.60" width="1.30" height="1.30" fill="#9ab4f6"/><rect x="587.66" y="465.57" width="1.30" height="1.30" fill="#e8e4e2"/><rect x="579.79" y="475.70" width="1.30" height="1.30" fill="#5672dc"/><rect x="582.29" y="475.05" width="1.30" height="1.30" fill="#de5a48"/><rect x="588.81" y="468.23" width="1.30" height="1.30" fill="#9ab4f6"/><rect x="565.49" y="474.83" width="1.30" height="1.30" fill="#9ab4f6"/><rect x="574.02" y="474.72" width="1.30" height="1.30" fill="#e8e4e2"/><rect x="581.03" y="475.37" width="1.30" height="1.30" fill="#9ab4f6"/><rect x="582.42" y="473.46" width="1.30" height="1.30" fill="#5672dc"/><rect x="585.06" y="472.34" width="1.30" height="1.30" fill="#9ab4f6"/><rect x="591.20" y="462.66" width="1.30" height="1.30" fill="#5672dc"/><rect x="584.90" y="471.95" width="1.30" height="1.30" fill="#de5a48"/><rect x="589.18" y="466.90" width="1.30" height="1.30" fill="#e8e4e2"/><rect x="578.54" y="475.70" width="1.30" height="1.30" fill="#9ab4f6"/><rect x="588.86" y="469.30" width="1.30" height="1.30" fill="#de5a48"/><rect x="573.14" y="474.36" width="1.30" height="1.30" fill="#e8e4e2"/><rect x="589.34" y="468.91" width="1.30" height="1.30" fill="#e8e4e2"/><rect x="581.87" y="474.13" width="1.30" height="1.30" fill="#de5a48"/><rect x="587.67" y="468.30" width="1.30" height="1.30" fill="#5672dc"/><rect x="552.68" y="506.44" width="1.30" height="1.30" fill="#de5a48"/><rect x="558.70" y="504.53" width="1.30" height="1.30" fill="#3b4cc0"/><rect x="552.31" y="516.90" width="1.30" height="1.30" fill="#3b4cc0"/><rect x="558.76" y="515.02" width="1.30" height="1.30" fill="#9ab4f6"/><rect x="554.53" y="521.21" width="1.30" height="1.30" fill="#9ab4f6"/><rect x="560.44" y="518.35" width="1.30" height="1.30" fill="#3b4cc0"/><rect x="550.33" y="515.66" width="1.30" height="1.30" fill="#3b4cc0"/><rect x="564.51" y="507.25" width="1.30" height="1.30" fill="#9ab4f6"/><rect x="555.63" y="509.95" width="1.30" height="1.30" fill="#9ab4f6"/><rect x="554.44" y="501.90" width="1.30" height="1.30" fill="#5672dc"/><rect x="558.75" y="510.49" width="1.30" height="1.30" fill="#9ab4f6"/><rect x="549.32" y="505.82" width="1.30" height="1.30" fill="#3b4cc0"/><rect x="551.73" y="508.22" width="1.30" height="1.30" fill="#5672dc"/><rect x="559.75" y="504.16" width="1.30" height="1.30" fill="#5672dc"/><rect x="549.73" y="514.34" width="1.30" height="1.30" fill="#5672dc"/><rect x="558.01" y="520.15" width="1.30" height="1.30" fill="#3b4cc0"/><rect x="563.76" y="518.17" width="1.30" height="1.30" fill="#de5a48"/><rect x="562.84" y="515.17" width="1.30" height="1.30" fill="#e8e4e2"/><rect x="567.39" y="515.38" width="1.30" height="1.30" fill="#e8e4e2"/><rect x="560.48" y="510.18" width="1.30" height="1.30" fill="#e8e4e2"/><rect x="551.20" y="502.88" width="1.30" height="1.30" fill="#3b4cc0"/><rect x="554.68" y="511.72" width="1.30" height="1.30" fill="#3b4cc0"/><rect x="554.68" y="515.06" width="1.30" height="1.30" fill="#3b4cc0"/><rect x="551.33" y="508.87" width="1.30" height="1.30" fill="#5672dc"/><rect x="556.74" y="510.04" width="1.30" height="1.30" fill="#de5a48"/><rect x="560.14" y="512.40" width="1.30" height="1.30" fill="#3b4cc0"/><rect x="561.07" y="505.86" width="1.30" height="1.30" fill="#9ab4f6"/><rect x="558.73" y="503.05" width="1.30" height="1.30" fill="#e8e4e2"/><rect x="566.04" y="517.85" width="1.30" height="1.30" fill="#e8e4e2"/><rect x="563.05" y="502.86" width="1.30" height="1.30" fill="#5672dc"/><rect x="546.82" y="510.07" width="1.30" height="1.30" fill="#de5a48"/><rect x="555.02" y="521.59" width="1.30" height="1.30" fill="#9ab4f6"/><rect x="563.32" y="512.12" width="1.30" height="1.30" fill="#de5a48"/><rect x="555.40" y="521.59" width="1.30" height="1.30" fill="#de5a48"/><rect x="551.51" y="519.36" width="1.30" height="1.30" fill="#3b4cc0"/><rect x="547.84" y="509.38" width="1.30" height="1.30" fill="#5672dc"/><rect x="556.37" y="521.96" width="1.30" height="1.30" fill="#e8e4e2"/><rect x="556.93" y="505.90" width="1.30" height="1.30" fill="#5672dc"/><rect x="564.58" y="517.38" width="1.30" height="1.30" fill="#5672dc"/><rect x="564.06" y="518.60" width="1.30" height="1.30" fill="#9ab4f6"/><rect x="566.62" y="515.63" width="1.30" height="1.30" fill="#e8e4e2"/><rect x="552.40" y="506.25" width="1.30" height="1.30" fill="#5672dc"/><rect x="559.55" y="505.23" width="1.30" height="1.30" fill="#9ab4f6"/><rect x="550.30" y="506.24" width="1.30" height="1.30" fill="#3b4cc0"/><rect x="565.22" y="508.80" width="1.30" height="1.30" fill="#3b4cc0"/><rect x="554.28" y="519.12" width="1.30" height="1.30" fill="#9ab4f6"/><rect x="564.58" y="509.21" width="1.30" height="1.30" fill="#3b4cc0"/><rect x="557.44" y="518.19" width="1.30" height="1.30" fill="#5672dc"/><rect x="566.29" y="510.67" width="1.30" height="1.30" fill="#9ab4f6"/><rect x="558.19" y="502.51" width="1.30" height="1.30" fill="#9ab4f6"/><rect x="550.73" y="504.27" width="1.30" height="1.30" fill="#e8e4e2"/><rect x="556.50" y="515.90" width="1.30" height="1.30" fill="#de5a48"/><rect x="556.50" y="500.69" width="1.30" height="1.30" fill="#3b4cc0"/><rect x="551.22" y="512.13" width="1.30" height="1.30" fill="#de5a48"/><rect x="559.73" y="520.55" width="1.30" height="1.30" fill="#9ab4f6"/><rect x="554.17" y="511.48" width="1.30" height="1.30" fill="#de5a48"/><rect x="557.63" y="513.52" width="1.30" height="1.30" fill="#5672dc"/><rect x="554.55" y="519.69" width="1.30" height="1.30" fill="#3b4cc0"/><rect x="560.16" y="500.38" width="1.30" height="1.30" fill="#5672dc"/><rect x="556.58" y="511.79" width="1.30" height="1.30" fill="#de5a48"/><rect x="564.20" y="511.75" width="1.30" height="1.30" fill="#3b4cc0"/><rect x="561.60" y="519.21" width="1.30" height="1.30" fill="#5672dc"/><rect x="563.14" y="509.17" width="1.30" height="1.30" fill="#de5a48"/><rect x="557.95" y="506.92" width="1.30" height="1.30" fill="#5672dc"/><rect x="563.65" y="513.73" width="1.30" height="1.30" fill="#5672dc"/><rect x="561.29" y="520.68" width="1.30" height="1.30" fill="#9ab4f6"/><rect x="547.13" y="509.13" width="1.30" height="1.30" fill="#de5a48"/><rect x="550.58" y="517.81" width="1.30" height="1.30" fill="#5672dc"/><rect x="560.75" y="505.43" width="1.30" height="1.30" fill="#e8e4e2"/><rect x="566.33" y="511.38" width="1.30" height="1.30" fill="#3b4cc0"/><rect x="558.06" y="513.02" width="1.30" height="1.30" fill="#e8e4e2"/><rect x="564.92" y="510.91" width="1.30" height="1.30" fill="#3b4cc0"/><rect x="561.83" y="512.90" width="1.30" height="1.30" fill="#de5a48"/><rect x="565.81" y="517.93" width="1.30" height="1.30" fill="#de5a48"/><rect x="551.10" y="515.28" width="1.30" height="1.30" fill="#5672dc"/><rect x="558.47" y="514.50" width="1.30" height="1.30" fill="#3b4cc0"/><rect x="563.46" y="518.90" width="1.30" height="1.30" fill="#3b4cc0"/><rect x="548.28" y="504.16" width="1.30" height="1.30" fill="#9ab4f6"/><rect x="562.56" y="512.48" width="1.30" height="1.30" fill="#e8e4e2"/><rect x="568.04" y="511.86" width="1.30" height="1.30" fill="#5672dc"/><rect x="565.99" y="515.50" width="1.30" height="1.30" fill="#3b4cc0"/><rect x="547.45" y="512.99" width="1.30" height="1.30" fill="#9ab4f6"/><rect x="556.62" y="515.24" width="1.30" height="1.30" fill="#9ab4f6"/><rect x="564.82" y="518.82" width="1.30" height="1.30" fill="#3b4cc0"/><rect x="556.65" y="522.26" width="1.30" height="1.30" fill="#de5a48"/><rect x="564.22" y="518.57" width="1.30" height="1.30" fill="#9ab4f6"/><rect x="552.65" y="503.54" width="1.30" height="1.30" fill="#de5a48"/><rect x="558.90" y="505.87" width="1.30" height="1.30" fill="#e8e4e2"/><rect x="553.94" y="516.87" width="1.30" height="1.30" fill="#5672dc"/><rect x="558.76" y="499.83" width="1.30" height="1.30" fill="#9ab4f6"/><rect x="599.83" y="555.12" width="1.30" height="1.30" fill="#3b4cc0"/><rect x="601.06" y="561.60" width="1.30" height="1.30" fill="#b40426"/><rect x="602.45" y="554.17" width="1.30" height="1.30" fill="#9ab4f6"/><rect x="605.40" y="556.99" width="1.30" height="1.30" fill="#3b4cc0"/><rect x="602.28" y="553.90" width="1.30" height="1.30" fill="#3b4cc0"/><rect x="603.01" y="556.09" width="1.30" height="1.30" fill="#3b4cc0"/><rect x="599.97" y="558.72" width="1.30" height="1.30" fill="#de5a48"/><rect x="603.43" y="554.21" width="1.30" height="1.30" fill="#de5a48"/><rect x="605.72" y="552.60" width="1.30" height="1.30" fill="#b40426"/><rect x="602.20" y="558.02" width="1.30" height="1.30" fill="#b40426"/><rect x="602.37" y="557.81" width="1.30" height="1.30" fill="#9ab4f6"/><rect x="598.49" y="552.31" width="1.30" height="1.30" fill="#3b4cc0"/><rect x="601.04" y="552.41" width="1.30" height="1.30" fill="#3b4cc0"/><rect x="596.71" y="552.81" width="1.30" height="1.30" fill="#9ab4f6"/><rect x="602.28" y="556.91" width="1.30" height="1.30" fill="#de5a48"/><rect x="605.28" y="556.29" width="1.30" height="1.30" fill="#3b4cc0"/><rect x="597.95" y="555.72" width="1.30" height="1.30" fill="#b40426"/><rect x="600.04" y="559.15" width="1.30" height="1.30" fill="#3b4cc0"/><rect x="604.62" y="556.39" width="1.30" height="1.30" fill="#de5a48"/><rect x="604.27" y="553.98" width="1.30" height="1.30" fill="#b40426"/><rect x="603.98" y="558.56" width="1.30" height="1.30" fill="#de5a48"/><rect x="602.02" y="560.36" width="1.30" height="1.30" fill="#3b4cc0"/><rect x="605.10" y="553.28" width="1.30" height="1.30" fill="#de5a48"/><rect x="602.42" y="553.51" width="1.30" height="1.30" fill="#b40426"/><rect x="600.45" y="560.27" width="1.30" height="1.30" fill="#3b4cc0"/><rect x="655.59" y="440.42" width="1.40" height="1.40" fill="#b40426"/><rect x="664.12" y="456.13" width="1.40" height="1.40" fill="#b40426"/><rect x="653.22" y="428.49" width="1.40" height="1.40" fill="#de5a48"/><rect x="670.02" y="442.30" width="1.40" height="1.40" fill="#e8e4e2"/><rect x="672.91" y="462.04" width="1.40" height="1.40" fill="#b40426"/><rect x="674.27" y="475.80" width="1.40" height="1.40" fill="#b40426"/><rect x="648.58" y="422.57" width="1.40" height="1.40" fill="#9ab4f6"/><rect x="635.29" y="508.86" width="1.40" height="1.40" fill="#de5a48"/><rect x="666.56" y="430.66" width="1.40" height="1.40" fill="#e8e4e2"/><rect x="658.72" y="427.05" width="1.40" height="1.40" fill="#de5a48"/><rect x="660.34" y="455.14" width="1.40" height="1.40" fill="#b40426"/><rect x="662.41" y="467.28" width="1.40" height="1.40" fill="#de5a48"/><rect x="659.84" y="471.51" width="1.40" height="1.40" fill="#b40426"/><rect x="659.36" y="489.89" width="1.40" height="1.40" fill="#b40426"/><rect x="653.94" y="441.58" width="1.40" height="1.40" fill="#e8e4e2"/><rect x="660.42" y="431.46" width="1.40" height="1.40" fill="#f4a385"/><rect x="633.98" y="502.35" width="1.40" height="1.40" fill="#f4a385"/><rect x="664.72" y="478.84" width="1.40" height="1.40" fill="#b40426"/><rect x="647.06" y="489.06" width="1.40" height="1.40" fill="#b40426"/><rect x="660.83" y="439.25" width="1.40" height="1.40" fill="#de5a48"/><rect x="642.37" y="500.29" width="1.40" height="1.40" fill="#de5a48"/><rect x="638.12" y="519.16" width="1.40" height="1.40" fill="#f4a385"/><rect x="647.62" y="492.24" width="1.40" height="1.40" fill="#5672dc"/><rect x="657.52" y="444.11" width="1.40" height="1.40" fill="#e8e4e2"/><rect x="650.78" y="475.06" width="1.40" height="1.40" fill="#f4a385"/><rect x="632.74" y="519.06" width="1.40" height="1.40" fill="#b40426"/><rect x="664.94" y="434.50" width="1.40" height="1.40" fill="#f4a385"/><rect x="640.29" y="517.11" width="1.40" height="1.40" fill="#f4a385"/><rect x="664.95" y="435.29" width="1.40" height="1.40" fill="#b40426"/><rect x="659.86" y="471.32" width="1.40" height="1.40" fill="#b40426"/><rect x="653.60" y="489.14" width="1.40" height="1.40" fill="#f4a385"/><rect x="672.28" y="477.45" width="1.40" height="1.40" fill="#b40426"/><rect x="659.35" y="460.56" width="1.40" height="1.40" fill="#9ab4f6"/><rect x="639.70" y="504.31" width="1.40" height="1.40" fill="#b40426"/><rect x="658.37" y="466.93" width="1.40" height="1.40" fill="#5672dc"/><rect x="671.89" y="466.27" width="1.40" height="1.40" fill="#f4a385"/><rect x="666.59" y="441.45" width="1.40" height="1.40" fill="#f4a385"/><rect x="631.13" y="520.20" width="1.40" height="1.40" fill="#9ab4f6"/><rect x="672.41" y="441.41" width="1.40" height="1.40" fill="#f4a385"/><rect x="671.62" y="482.33" width="1.40" height="1.40" fill="#5672dc"/><rect x="674.57" y="478.16" width="1.40" height="1.40" fill="#f4a385"/><rect x="644.17" y="497.52" width="1.40" height="1.40" fill="#f4a385"/><rect x="669.13" y="485.11" width="1.40" height="1.40" fill="#5672dc"/><rect x="665.74" y="456.00" width="1.40" height="1.40" fill="#de5a48"/><rect x="659.62" y="434.04" width="1.40" height="1.40" fill="#b40426"/><rect x="671.14" y="479.43" width="1.40" height="1.40" fill="#de5a48"/><rect x="672.26" y="480.14" width="1.40" height="1.40" fill="#f4a385"/><rect x="663.53" y="445.67" width="1.40" height="1.40" fill="#b40426"/><rect x="641.45" y="496.36" width="1.40" height="1.40" fill="#de5a48"/><rect x="670.79" y="451.67" width="1.40" height="1.40" fill="#9ab4f6"/><rect x="651.63" y="436.70" width="1.40" height="1.40" fill="#9ab4f6"/><rect x="669.30" y="461.71" width="1.40" height="1.40" fill="#de5a48"/><rect x="663.10" y="441.08" width="1.40" height="1.40" fill="#b40426"/><rect x="667.42" y="426.65" width="1.40" height="1.40" fill="#5672dc"/><rect x="634.35" y="501.31" width="1.40" height="1.40" fill="#e8e4e2"/><rect x="660.37" y="476.89" width="1.40" height="1.40" fill="#b40426"/><rect x="637.58" y="506.22" width="1.40" height="1.40" fill="#e8e4e2"/><rect x="663.47" y="440.18" width="1.40" height="1.40" fill="#de5a48"/><rect x="637.36" y="493.20" width="1.40" height="1.40" fill="#e8e4e2"/><rect x="660.32" y="444.43" width="1.40" height="1.40" fill="#b40426"/><rect x="643.85" y="491.73" width="1.40" height="1.40" fill="#5672dc"/><rect x="663.31" y="422.54" width="1.40" height="1.40" fill="#5672dc"/><rect x="642.92" y="500.36" width="1.40" height="1.40" fill="#9ab4f6"/><rect x="658.35" y="463.26" width="1.40" height="1.40" fill="#b40426"/><rect x="650.87" y="492.61" width="1.40" height="1.40" fill="#f4a385"/><rect x="663.49" y="450.18" width="1.40" height="1.40" fill="#b40426"/><rect x="659.01" y="446.33" width="1.40" height="1.40" fill="#b40426"/><rect x="654.98" y="423.34" width="1.40" height="1.40" fill="#5672dc"/><rect x="658.12" y="448.61" width="1.40" height="1.40" fill="#b40426"/><rect x="669.99" y="487.08" width="1.40" height="1.40" fill="#f4a385"/><rect x="648.86" y="425.74" width="1.40" height="1.40" fill="#f4a385"/><rect x="662.10" y="492.98" width="1.40" height="1.40" fill="#b40426"/><rect x="628.22" y="513.68" width="1.40" height="1.40" fill="#5672dc"/><rect x="665.54" y="462.03" width="1.40" height="1.40" fill="#f4a385"/><rect x="631.27" y="517.21" width="1.40" height="1.40" fill="#f4a385"/><rect x="657.35" y="447.40" width="1.40" height="1.40" fill="#e8e4e2"/><rect x="673.20" y="468.99" width="1.40" height="1.40" fill="#9ab4f6"/><rect x="670.10" y="450.88" width="1.40" height="1.40" fill="#b40426"/><rect x="661.35" y="486.98" width="1.40" height="1.40" fill="#b40426"/><rect x="655.86" y="417.71" width="1.40" height="1.40" fill="#de5a48"/><rect x="675.06" y="451.50" width="1.40" height="1.40" fill="#f4a385"/><rect x="668.28" y="444.98" width="1.40" height="1.40" fill="#f4a385"/><rect x="665.78" y="477.10" width="1.40" height="1.40" fill="#de5a48"/><rect x="668.18" y="485.34" width="1.40" height="1.40" fill="#b40426"/><rect x="643.72" y="504.16" width="1.40" height="1.40" fill="#f4a385"/><rect x="672.20" y="435.02" width="1.40" height="1.40" fill="#f4a385"/><rect x="661.06" y="486.22" width="1.40" height="1.40" fill="#b40426"/><rect x="663.73" y="455.11" width="1.40" height="1.40" fill="#b40426"/><rect x="627.92" y="501.59" width="1.40" height="1.40" fill="#de5a48"/><rect x="651.94" y="422.21" width="1.40" height="1.40" fill="#e8e4e2"/><rect x="659.18" y="449.80" width="1.40" height="1.40" fill="#e8e4e2"/><rect x="675.16" y="449.66" width="1.40" height="1.40" fill="#5672dc"/><rect x="671.75" y="478.14" width="1.40" height="1.40" fill="#f4a385"/><rect x="642.46" y="509.85" width="1.40" height="1.40" fill="#5672dc"/><rect x="673.15" y="480.61" width="1.40" height="1.40" fill="#9ab4f6"/><rect x="659.93" y="477.24" width="1.40" height="1.40" fill="#e8e4e2"/><rect x="656.68" y="462.73" width="1.40" height="1.40" fill="#b40426"/><rect x="648.45" y="426.45" width="1.40" height="1.40" fill="#9ab4f6"/><rect x="664.52" y="427.44" width="1.40" height="1.40" fill="#5672dc"/><rect x="667.41" y="439.97" width="1.40" height="1.40" fill="#f4a385"/><rect x="627.15" y="509.56" width="1.40" height="1.40" fill="#5672dc"/><rect x="635.93" y="513.72" width="1.40" height="1.40" fill="#9ab4f6"/><rect x="655.57" y="422.30" width="1.40" height="1.40" fill="#b40426"/><rect x="655.10" y="431.93" width="1.40" height="1.40" fill="#5672dc"/><rect x="648.91" y="419.85" width="1.40" height="1.40" fill="#b40426"/><rect x="657.25" y="444.25" width="1.40" height="1.40" fill="#de5a48"/><rect x="658.59" y="422.38" width="1.40" height="1.40" fill="#b40426"/><rect x="635.02" y="500.12" width="1.40" height="1.40" fill="#9ab4f6"/><rect x="672.62" y="438.15" width="1.40" height="1.40" fill="#5672dc"/><rect x="663.33" y="428.32" width="1.40" height="1.40" fill="#e8e4e2"/><rect x="662.85" y="492.42" width="1.40" height="1.40" fill="#de5a48"/><rect x="669.15" y="461.88" width="1.40" height="1.40" fill="#9ab4f6"/><rect x="629.28" y="517.34" width="1.40" height="1.40" fill="#e8e4e2"/><rect x="672.29" y="476.28" width="1.40" height="1.40" fill="#f4a385"/><rect x="643.70" y="498.39" width="1.40" height="1.40" fill="#de5a48"/><rect x="670.85" y="454.64" width="1.40" height="1.40" fill="#f4a385"/><rect x="652.28" y="436.19" width="1.40" height="1.40" fill="#e8e4e2"/><rect x="656.74" y="467.08" width="1.40" height="1.40" fill="#de5a48"/><rect x="650.60" y="437.72" width="1.40" height="1.40" fill="#5672dc"/><rect x="652.51" y="469.97" width="1.40" height="1.40" fill="#de5a48"/><rect x="675.82" y="459.64" width="1.40" height="1.40" fill="#f4a385"/><rect x="663.96" y="452.41" width="1.40" height="1.40" fill="#f4a385"/><rect x="659.46" y="466.25" width="1.40" height="1.40" fill="#5672dc"/><rect x="654.49" y="421.04" width="1.40" height="1.40" fill="#e8e4e2"/><rect x="673.44" y="459.46" width="1.40" height="1.40" fill="#f4a385"/><rect x="658.15" y="433.30" width="1.40" height="1.40" fill="#5672dc"/><rect x="660.33" y="495.03" width="1.40" height="1.40" fill="#5672dc"/><rect x="656.63" y="488.86" width="1.40" height="1.40" fill="#f4a385"/><rect x="667.37" y="433.29" width="1.40" height="1.40" fill="#9ab4f6"/><rect x="632.47" y="512.37" width="1.40" height="1.40" fill="#b40426"/><rect x="653.14" y="418.72" width="1.40" height="1.40" fill="#9ab4f6"/><rect x="659.13" y="467.49" width="1.40" height="1.40" fill="#f4a385"/><rect x="627.45" y="501.96" width="1.40" height="1.40" fill="#b40426"/><rect x="654.03" y="446.03" width="1.40" height="1.40" fill="#f4a385"/><rect x="674.41" y="456.85" width="1.40" height="1.40" fill="#b40426"/><rect x="667.60" y="432.27" width="1.40" height="1.40" fill="#de5a48"/><rect x="632.81" y="520.23" width="1.40" height="1.40" fill="#b40426"/><rect x="674.80" y="475.38" width="1.40" height="1.40" fill="#b40426"/><rect x="665.94" y="432.45" width="1.40" height="1.40" fill="#de5a48"/><rect x="663.77" y="461.65" width="1.40" height="1.40" fill="#5672dc"/><rect x="662.65" y="483.83" width="1.40" height="1.40" fill="#b40426"/><rect x="650.19" y="428.03" width="1.40" height="1.40" fill="#de5a48"/><rect x="657.61" y="488.35" width="1.40" height="1.40" fill="#de5a48"/><rect x="662.53" y="435.28" width="1.40" height="1.40" fill="#b40426"/><rect x="658.47" y="486.51" width="1.40" height="1.40" fill="#e8e4e2"/><rect x="653.59" y="489.23" width="1.40" height="1.40" fill="#b40426"/><rect x="666.46" y="475.00" width="1.40" height="1.40" fill="#5672dc"/><rect x="660.20" y="471.16" width="1.40" height="1.40" fill="#b40426"/><rect x="655.15" y="431.80" width="1.40" height="1.40" fill="#b40426"/><rect x="661.64" y="433.31" width="1.40" height="1.40" fill="#5672dc"/><rect x="666.61" y="471.53" width="1.40" height="1.40" fill="#b40426"/><rect x="669.58" y="455.22" width="1.40" height="1.40" fill="#5672dc"/><rect x="660.33" y="452.21" width="1.40" height="1.40" fill="#e8e4e2"/><rect x="657.91" y="450.35" width="1.40" height="1.40" fill="#f4a385"/><rect x="656.12" y="451.42" width="1.40" height="1.40" fill="#5672dc"/><rect x="665.16" y="444.59" width="1.40" height="1.40" fill="#5672dc"/><rect x="656.58" y="430.86" width="1.40" height="1.40" fill="#f4a385"/><rect x="670.95" y="463.74" width="1.40" height="1.40" fill="#de5a48"/><rect x="669.07" y="448.54" width="1.40" height="1.40" fill="#b40426"/><rect x="659.90" y="446.25" width="1.40" height="1.40" fill="#f4a385"/><rect x="652.09" y="472.83" width="1.40" height="1.40" fill="#5672dc"/><rect x="661.86" y="485.69" width="1.40" height="1.40" fill="#de5a48"/><rect x="650.66" y="429.26" width="1.40" height="1.40" fill="#b40426"/><rect x="667.90" y="448.09" width="1.40" height="1.40" fill="#5672dc"/><rect x="664.29" y="430.59" width="1.40" height="1.40" fill="#5672dc"/><rect x="649.24" y="419.33" width="1.40" height="1.40" fill="#b40426"/><rect x="650.47" y="493.28" width="1.40" height="1.40" fill="#de5a48"/><rect x="668.07" y="429.41" width="1.40" height="1.40" fill="#b40426"/><rect x="669.27" y="444.37" width="1.40" height="1.40" fill="#b40426"/><rect x="634.94" y="515.82" width="1.40" height="1.40" fill="#e8e4e2"/><rect x="670.25" y="440.48" width="1.40" height="1.40" fill="#de5a48"/><rect x="673.05" y="440.20" width="1.40" height="1.40" fill="#5672dc"/><rect x="659.82" y="467.91" width="1.40" height="1.40" fill="#9ab4f6"/><rect x="656.60" y="433.90" width="1.40" height="1.40" fill="#b40426"/><rect x="661.49" y="455.26" width="1.40" height="1.40" fill="#5672dc"/><rect x="636.67" y="518.83" width="1.40" height="1.40" fill="#5672dc"/><rect x="660.70" y="455.05" width="1.40" height="1.40" fill="#5672dc"/><rect x="662.73" y="492.28" width="1.40" height="1.40" fill="#5672dc"/><rect x="654.76" y="438.56" width="1.40" height="1.40" fill="#9ab4f6"/><rect x="660.58" y="445.04" width="1.40" height="1.40" fill="#f4a385"/><rect x="662.75" y="473.45" width="1.40" height="1.40" fill="#b40426"/><rect x="635.72" y="505.41" width="1.40" height="1.40" fill="#b40426"/><rect x="656.40" y="495.52" width="1.40" height="1.40" fill="#f4a385"/><rect x="660.95" y="457.59" width="1.40" height="1.40" fill="#b40426"/><rect x="630.02" y="505.20" width="1.40" height="1.40" fill="#f4a385"/><rect x="632.22" y="496.22" width="1.40" height="1.40" fill="#de5a48"/><rect x="673.38" y="456.09" width="1.40" height="1.40" fill="#9ab4f6"/><rect x="667.36" y="433.68" width="1.40" height="1.40" fill="#9ab4f6"/><rect x="655.47" y="426.85" width="1.40" height="1.40" fill="#e8e4e2"/><rect x="665.12" y="442.41" width="1.40" height="1.40" fill="#f4a385"/><rect x="643.68" y="498.24" width="1.40" height="1.40" fill="#de5a48"/><rect x="639.82" y="499.18" width="1.40" height="1.40" fill="#b40426"/><rect x="665.00" y="424.52" width="1.40" height="1.40" fill="#e8e4e2"/><rect x="648.43" y="434.31" width="1.40" height="1.40" fill="#b40426"/><rect x="664.68" y="437.01" width="1.40" height="1.40" fill="#f4a385"/><rect x="648.66" y="487.15" width="1.40" height="1.40" fill="#b40426"/><rect x="662.31" y="487.22" width="1.40" height="1.40" fill="#b40426"/><rect x="660.74" y="440.35" width="1.40" height="1.40" fill="#f4a385"/><rect x="646.07" y="489.20" width="1.40" height="1.40" fill="#de5a48"/><rect x="641.46" y="516.25" width="1.40" height="1.40" fill="#e8e4e2"/><rect x="648.86" y="487.02" width="1.40" height="1.40" fill="#b40426"/><rect x="662.10" y="478.29" width="1.40" height="1.40" fill="#b40426"/><rect x="630.41" y="502.15" width="1.40" height="1.40" fill="#de5a48"/><rect x="663.40" y="453.73" width="1.40" height="1.40" fill="#f4a385"/><rect x="638.57" y="513.40" width="1.40" height="1.40" fill="#5672dc"/><rect x="642.80" y="513.58" width="1.40" height="1.40" fill="#9ab4f6"/><rect x="670.63" y="479.36" width="1.40" height="1.40" fill="#5672dc"/><rect x="636.99" y="494.22" width="1.40" height="1.40" fill="#b40426"/><rect x="656.53" y="440.35" width="1.40" height="1.40" fill="#de5a48"/><rect x="660.17" y="430.33" width="1.40" height="1.40" fill="#b40426"/><rect x="647.92" y="487.47" width="1.40" height="1.40" fill="#b40426"/><rect x="650.85" y="491.76" width="1.40" height="1.40" fill="#9ab4f6"/><rect x="654.22" y="474.65" width="1.40" height="1.40" fill="#de5a48"/><rect x="647.06" y="492.22" width="1.40" height="1.40" fill="#de5a48"/><rect x="651.16" y="494.61" width="1.40" height="1.40" fill="#de5a48"/><rect x="662.70" y="465.15" width="1.40" height="1.40" fill="#b40426"/><rect x="666.53" y="486.44" width="1.40" height="1.40" fill="#5672dc"/><rect x="642.15" y="501.44" width="1.40" height="1.40" fill="#f4a385"/><rect x="640.90" y="514.99" width="1.40" height="1.40" fill="#de5a48"/><rect x="643.47" y="507.47" width="1.40" height="1.40" fill="#b40426"/><rect x="665.93" y="456.57" width="1.40" height="1.40" fill="#b40426"/><rect x="663.07" y="438.67" width="1.40" height="1.40" fill="#5672dc"/><rect x="660.92" y="481.79" width="1.40" height="1.40" fill="#de5a48"/><rect x="669.81" y="442.28" width="1.40" height="1.40" fill="#e8e4e2"/><rect x="656.43" y="477.91" width="1.40" height="1.40" fill="#f4a385"/><rect x="659.88" y="461.67" width="1.40" height="1.40" fill="#f4a385"/><rect x="656.49" y="456.85" width="1.40" height="1.40" fill="#b40426"/><rect x="653.05" y="475.30" width="1.40" height="1.40" fill="#de5a48"/><rect x="640.30" y="499.42" width="1.40" height="1.40" fill="#e8e4e2"/><rect x="650.41" y="418.05" width="1.40" height="1.40" fill="#5672dc"/><rect x="669.47" y="475.11" width="1.40" height="1.40" fill="#f4a385"/><rect x="634.73" y="518.62" width="1.40" height="1.40" fill="#de5a48"/><rect x="642.41" y="509.56" width="1.40" height="1.40" fill="#b40426"/><rect x="630.03" y="513.16" width="1.40" height="1.40" fill="#b40426"/><rect x="662.33" y="471.67" width="1.40" height="1.40" fill="#b40426"/><rect x="654.14" y="440.12" width="1.40" height="1.40" fill="#f4a385"/><rect x="657.89" y="476.71" width="1.40" height="1.40" fill="#de5a48"/><rect x="665.36" y="482.56" width="1.40" height="1.40" fill="#f4a385"/><rect x="669.53" y="455.66" width="1.40" height="1.40" fill="#9ab4f6"/><rect x="659.26" y="431.28" width="1.40" height="1.40" fill="#5672dc"/><rect x="669.61" y="452.73" width="1.40" height="1.40" fill="#f4a385"/><rect x="627.75" y="512.44" width="1.40" height="1.40" fill="#de5a48"/><rect x="660.32" y="487.53" width="1.40" height="1.40" fill="#e8e4e2"/><rect x="634.98" y="514.43" width="1.40" height="1.40" fill="#b40426"/><rect x="660.99" y="469.63" width="1.40" height="1.40" fill="#e8e4e2"/><rect x="667.36" y="474.39" width="1.40" height="1.40" fill="#b40426"/><rect x="659.44" y="490.63" width="1.40" height="1.40" fill="#de5a48"/><rect x="667.89" y="470.14" width="1.40" height="1.40" fill="#5672dc"/><rect x="665.81" y="486.88" width="1.40" height="1.40" fill="#f4a385"/><rect x="660.80" y="495.88" width="1.40" height="1.40" fill="#f4a385"/><rect x="659.83" y="427.96" width="1.40" height="1.40" fill="#5672dc"/><rect x="658.40" y="479.76" width="1.40" height="1.40" fill="#9ab4f6"/><rect x="663.66" y="445.15" width="1.40" height="1.40" fill="#b40426"/><rect x="635.62" y="504.93" width="1.40" height="1.40" fill="#9ab4f6"/><rect x="668.65" y="465.03" width="1.40" height="1.40" fill="#de5a48"/><rect x="670.50" y="438.26" width="1.40" height="1.40" fill="#5672dc"/><rect x="640.90" y="515.46" width="1.40" height="1.40" fill="#b40426"/><rect x="663.87" y="440.89" width="1.40" height="1.40" fill="#b40426"/><rect x="651.24" y="480.69" width="1.40" height="1.40" fill="#b40426"/><rect x="675.14" y="471.07" width="1.40" height="1.40" fill="#b40426"/><rect x="661.98" y="458.86" width="1.40" height="1.40" fill="#de5a48"/><rect x="666.85" y="465.84" width="1.40" height="1.40" fill="#f4a385"/><rect x="652.11" y="419.44" width="1.40" height="1.40" fill="#f4a385"/><rect x="665.51" y="461.95" width="1.40" height="1.40" fill="#b40426"/><rect x="666.66" y="437.71" width="1.40" height="1.40" fill="#de5a48"/><rect x="644.58" y="503.29" width="1.40" height="1.40" fill="#b40426"/><rect x="642.67" y="502.76" width="1.40" height="1.40" fill="#de5a48"/><rect x="639.52" y="505.24" width="1.40" height="1.40" fill="#9ab4f6"/><rect x="654.72" y="476.71" width="1.40" height="1.40" fill="#b40426"/><rect x="662.26" y="434.73" width="1.40" height="1.40" fill="#5672dc"/><rect x="648.83" y="488.45" width="1.40" height="1.40" fill="#f4a385"/><rect x="670.71" y="458.00" width="1.40" height="1.40" fill="#b40426"/><rect x="669.40" y="433.81" width="1.40" height="1.40" fill="#5672dc"/><rect x="627.45" y="515.83" width="1.40" height="1.40" fill="#de5a48"/><rect x="659.48" y="427.47" width="1.40" height="1.40" fill="#f4a385"/><rect x="637.68" y="499.94" width="1.40" height="1.40" fill="#de5a48"/><rect x="658.69" y="480.03" width="1.40" height="1.40" fill="#5672dc"/><rect x="631.91" y="502.70" width="1.40" height="1.40" fill="#5672dc"/><rect x="639.45" y="503.29" width="1.40" height="1.40" fill="#b40426"/><rect x="672.29" y="437.67" width="1.40" height="1.40" fill="#de5a48"/><rect x="665.13" y="460.53" width="1.40" height="1.40" fill="#9ab4f6"/><rect x="630.30" y="517.74" width="1.40" height="1.40" fill="#9ab4f6"/><rect x="664.68" y="488.81" width="1.40" height="1.40" fill="#5672dc"/><rect x="650.83" y="435.61" width="1.40" height="1.40" fill="#f4a385"/><rect x="637.58" y="518.26" width="1.40" height="1.40" fill="#de5a48"/><rect x="672.37" y="462.58" width="1.40" height="1.40" fill="#b40426"/><rect x="650.52" y="430.57" width="1.40" height="1.40" fill="#de5a48"/><rect x="663.26" y="472.07" width="1.40" height="1.40" fill="#de5a48"/><rect x="660.72" y="447.22" width="1.40" height="1.40" fill="#de5a48"/><rect x="667.73" y="428.93" width="1.40" height="1.40" fill="#5672dc"/><rect x="630.07" y="516.50" width="1.40" height="1.40" fill="#b40426"/><rect x="662.47" y="482.35" width="1.40" height="1.40" fill="#5672dc"/><rect x="638.21" y="519.97" width="1.40" height="1.40" fill="#f4a385"/><rect x="651.04" y="492.57" width="1.40" height="1.40" fill="#f4a385"/><rect x="671.08" y="438.26" width="1.40" height="1.40" fill="#e8e4e2"/><rect x="640.49" y="506.02" width="1.40" height="1.40" fill="#b40426"/><rect x="673.21" y="448.91" width="1.40" height="1.40" fill="#5672dc"/><rect x="631.81" y="501.99" width="1.40" height="1.40" fill="#f4a385"/><rect x="641.95" y="492.98" width="1.40" height="1.40" fill="#b40426"/><rect x="667.86" y="455.45" width="1.40" height="1.40" fill="#e8e4e2"/><rect x="652.24" y="484.71" width="1.40" height="1.40" fill="#b40426"/><rect x="654.74" y="481.09" width="1.40" height="1.40" fill="#b40426"/><rect x="633.57" y="504.21" width="1.40" height="1.40" fill="#f4a385"/><rect x="654.25" y="486.63" width="1.40" height="1.40" fill="#de5a48"/><rect x="661.90" y="479.30" width="1.40" height="1.40" fill="#de5a48"/><rect x="661.09" y="447.48" width="1.40" height="1.40" fill="#5672dc"/><rect x="656.41" y="448.51" width="1.40" height="1.40" fill="#de5a48"/><rect x="659.10" y="470.93" width="1.40" height="1.40" fill="#b40426"/><rect x="667.38" y="469.50" width="1.40" height="1.40" fill="#de5a48"/><rect x="668.98" y="447.68" width="1.40" height="1.40" fill="#de5a48"/><rect x="672.03" y="445.82" width="1.40" height="1.40" fill="#5672dc"/><rect x="674.61" y="444.04" width="1.40" height="1.40" fill="#5672dc"/><rect x="667.40" y="431.00" width="1.40" height="1.40" fill="#9ab4f6"/><rect x="655.00" y="425.09" width="1.40" height="1.40" fill="#b40426"/><rect x="644.94" y="490.21" width="1.40" height="1.40" fill="#de5a48"/><rect x="659.72" y="448.65" width="1.40" height="1.40" fill="#b40426"/><rect x="646.56" y="489.71" width="1.40" height="1.40" fill="#de5a48"/><rect x="645.67" y="490.88" width="1.40" height="1.40" fill="#5672dc"/><rect x="654.91" y="420.51" width="1.40" height="1.40" fill="#b40426"/><rect x="638.85" y="495.85" width="1.40" height="1.40" fill="#9ab4f6"/><rect x="671.36" y="445.16" width="1.40" height="1.40" fill="#e8e4e2"/><rect x="645.35" y="501.84" width="1.40" height="1.40" fill="#b40426"/><rect x="669.59" y="488.03" width="1.40" height="1.40" fill="#b40426"/><rect x="631.11" y="511.79" width="1.40" height="1.40" fill="#9ab4f6"/><rect x="663.10" y="440.46" width="1.40" height="1.40" fill="#f4a385"/><rect x="675.99" y="447.39" width="1.40" height="1.40" fill="#b40426"/><rect x="670.45" y="456.63" width="1.40" height="1.40" fill="#b40426"/><rect x="631.38" y="517.47" width="1.40" height="1.40" fill="#f4a385"/><rect x="656.22" y="470.38" width="1.40" height="1.40" fill="#de5a48"/><rect x="649.42" y="439.32" width="1.40" height="1.40" fill="#b40426"/><rect x="662.00" y="475.26" width="1.40" height="1.40" fill="#f4a385"/><rect x="658.58" y="480.53" width="1.40" height="1.40" fill="#de5a48"/><rect x="667.95" y="477.07" width="1.40" height="1.40" fill="#f4a385"/><rect x="652.40" y="420.67" width="1.40" height="1.40" fill="#de5a48"/><rect x="659.47" y="487.29" width="1.40" height="1.40" fill="#f4a385"/><rect x="666.19" y="464.13" width="1.40" height="1.40" fill="#e8e4e2"/><rect x="664.41" y="488.89" width="1.40" height="1.40" fill="#b40426"/><rect x="660.57" y="436.67" width="1.40" height="1.40" fill="#f4a385"/><rect x="677.33" y="464.15" width="1.40" height="1.40" fill="#b40426"/><rect x="658.75" y="435.11" width="1.40" height="1.40" fill="#b40426"/><rect x="649.63" y="418.50" width="1.40" height="1.40" fill="#e8e4e2"/><rect x="664.43" y="470.40" width="1.40" height="1.40" fill="#b40426"/><rect x="666.29" y="479.16" width="1.40" height="1.40" fill="#de5a48"/><rect x="647.76" y="422.71" width="1.40" height="1.40" fill="#9ab4f6"/><rect x="666.70" y="462.61" width="1.40" height="1.40" fill="#de5a48"/><rect x="669.20" y="479.11" width="1.40" height="1.40" fill="#5672dc"/><rect x="658.57" y="460.28" width="1.40" height="1.40" fill="#b40426"/><rect x="652.03" y="472.83" width="1.40" height="1.40" fill="#b40426"/><rect x="667.34" y="480.43" width="1.40" height="1.40" fill="#b40426"/><rect x="663.85" y="466.71" width="1.40" height="1.40" fill="#de5a48"/><rect x="628.93" y="510.34" width="1.40" height="1.40" fill="#5672dc"/><rect x="656.95" y="487.92" width="1.40" height="1.40" fill="#b40426"/><rect x="665.35" y="482.38" width="1.40" height="1.40" fill="#f4a385"/><rect x="668.63" y="459.23" width="1.40" height="1.40" fill="#5672dc"/><rect x="667.27" y="487.01" width="1.40" height="1.40" fill="#f4a385"/><rect x="658.33" y="467.60" width="1.40" height="1.40" fill="#5672dc"/><rect x="639.04" y="513.74" width="1.40" height="1.40" fill="#b40426"/><rect x="667.34" y="442.00" width="1.40" height="1.40" fill="#f4a385"/><rect x="665.78" y="482.17" width="1.40" height="1.40" fill="#b40426"/><rect x="675.04" y="442.98" width="1.40" height="1.40" fill="#9ab4f6"/><rect x="664.63" y="451.43" width="1.40" height="1.40" fill="#b40426"/><rect x="642.05" y="491.37" width="1.40" height="1.40" fill="#5672dc"/><rect x="632.75" y="511.28" width="1.40" height="1.40" fill="#b40426"/><rect x="667.85" y="441.05" width="1.40" height="1.40" fill="#b40426"/><rect x="629.36" y="513.98" width="1.40" height="1.40" fill="#de5a48"/><rect x="631.57" y="498.38" width="1.40" height="1.40" fill="#e8e4e2"/><rect x="676.73" y="451.57" width="1.40" height="1.40" fill="#b40426"/><rect x="673.48" y="450.05" width="1.40" height="1.40" fill="#5672dc"/><rect x="661.03" y="464.40" width="1.40" height="1.40" fill="#de5a48"/><rect x="657.39" y="436.17" width="1.40" height="1.40" fill="#5672dc"/><rect x="660.87" y="429.60" width="1.40" height="1.40" fill="#de5a48"/><rect x="665.61" y="449.29" width="1.40" height="1.40" fill="#b40426"/><rect x="672.86" y="459.41" width="1.40" height="1.40" fill="#b40426"/><rect x="671.07" y="460.26" width="1.40" height="1.40" fill="#e8e4e2"/><rect x="636.15" y="510.02" width="1.40" height="1.40" fill="#e8e4e2"/><rect x="662.28" y="485.00" width="1.40" height="1.40" fill="#9ab4f6"/><rect x="659.00" y="495.60" width="1.40" height="1.40" fill="#f4a385"/><rect x="660.20" y="449.43" width="1.40" height="1.40" fill="#9ab4f6"/><rect x="668.87" y="447.30" width="1.40" height="1.40" fill="#5672dc"/><rect x="633.67" y="514.88" width="1.40" height="1.40" fill="#5672dc"/><rect x="652.06" y="418.29" width="1.40" height="1.40" fill="#b40426"/><rect x="671.09" y="462.17" width="1.40" height="1.40" fill="#b40426"/><rect x="636.61" y="501.97" width="1.40" height="1.40" fill="#b40426"/><rect x="631.13" y="520.95" width="1.40" height="1.40" fill="#de5a48"/><rect x="661.52" y="465.08" width="1.40" height="1.40" fill="#f4a385"/><rect x="656.29" y="464.32" width="1.40" height="1.40" fill="#f4a385"/><rect x="660.25" y="477.46" width="1.40" height="1.40" fill="#5672dc"/><rect x="635.34" y="516.81" width="1.40" height="1.40" fill="#5672dc"/><rect x="652.61" y="487.19" width="1.40" height="1.40" fill="#b40426"/><rect x="672.42" y="460.28" width="1.40" height="1.40" fill="#b40426"/><rect x="660.58" y="490.13" width="1.40" height="1.40" fill="#f4a385"/><rect x="664.64" y="455.17" width="1.40" height="1.40" fill="#b40426"/><rect x="654.76" y="486.42" width="1.40" height="1.40" fill="#de5a48"/><rect x="643.14" y="508.49" width="1.40" height="1.40" fill="#f4a385"/><rect x="658.44" y="446.39" width="1.40" height="1.40" fill="#e8e4e2"/><rect x="650.41" y="433.60" width="1.40" height="1.40" fill="#e8e4e2"/><rect x="665.24" y="430.92" width="1.40" height="1.40" fill="#5672dc"/><rect x="638.62" y="502.93" width="1.40" height="1.40" fill="#9ab4f6"/><rect x="662.45" y="448.47" width="1.40" height="1.40" fill="#5672dc"/><rect x="644.41" y="497.76" width="1.40" height="1.40" fill="#5672dc"/><rect x="644.73" y="490.94" width="1.40" height="1.40" fill="#f4a385"/><rect x="630.82" y="508.94" width="1.40" height="1.40" fill="#5672dc"/><rect x="665.79" y="450.21" width="1.40" height="1.40" fill="#de5a48"/><rect x="648.76" y="485.82" width="1.40" height="1.40" fill="#5672dc"/><rect x="665.06" y="468.81" width="1.40" height="1.40" fill="#b40426"/><rect x="643.20" y="499.56" width="1.40" height="1.40" fill="#de5a48"/><rect x="633.57" y="497.49" width="1.40" height="1.40" fill="#5672dc"/><rect x="660.65" y="438.58" width="1.40" height="1.40" fill="#9ab4f6"/><rect x="651.63" y="436.21" width="1.40" height="1.40" fill="#de5a48"/><rect x="676.88" y="459.08" width="1.40" height="1.40" fill="#b40426"/><rect x="663.73" y="478.23" width="1.40" height="1.40" fill="#b40426"/><rect x="675.64" y="448.97" width="1.40" height="1.40" fill="#9ab4f6"/><rect x="665.53" y="489.01" width="1.40" height="1.40" fill="#9ab4f6"/><rect x="663.73" y="485.65" width="1.40" height="1.40" fill="#de5a48"/><rect x="627.29" y="512.60" width="1.40" height="1.40" fill="#de5a48"/><rect x="659.07" y="453.12" width="1.40" height="1.40" fill="#9ab4f6"/><rect x="656.04" y="464.21" width="1.40" height="1.40" fill="#de5a48"/><rect x="661.71" y="441.73" width="1.40" height="1.40" fill="#de5a48"/><rect x="662.26" y="442.02" width="1.40" height="1.40" fill="#9ab4f6"/><rect x="661.25" y="469.33" width="1.40" height="1.40" fill="#e8e4e2"/><rect x="660.45" y="441.21" width="1.40" height="1.40" fill="#9ab4f6"/><rect x="635.48" y="501.40" width="1.40" height="1.40" fill="#b40426"/><rect x="652.91" y="432.46" width="1.40" height="1.40" fill="#f4a385"/><rect x="665.53" y="466.77" width="1.40" height="1.40" fill="#e8e4e2"/><rect x="675.34" y="453.29" width="1.40" height="1.40" fill="#e8e4e2"/><rect x="671.95" y="437.97" width="1.40" height="1.40" fill="#9ab4f6"/><rect x="661.68" y="465.73" width="1.40" height="1.40" fill="#de5a48"/><rect x="657.18" y="427.27" width="1.40" height="1.40" fill="#b40426"/><rect x="631.81" y="500.21" width="1.40" height="1.40" fill="#5672dc"/><rect x="628.81" y="516.20" width="1.40" height="1.40" fill="#f4a385"/><rect x="667.60" y="465.99" width="1.40" height="1.40" fill="#de5a48"/><rect x="667.95" y="448.73" width="1.40" height="1.40" fill="#9ab4f6"/><rect x="668.89" y="436.61" width="1.40" height="1.40" fill="#b40426"/><rect x="630.63" y="508.28" width="1.40" height="1.40" fill="#5672dc"/><rect x="656.20" y="436.68" width="1.40" height="1.40" fill="#b40426"/><rect x="662.44" y="494.23" width="1.40" height="1.40" fill="#5672dc"/><rect x="660.23" y="443.61" width="1.40" height="1.40" fill="#b40426"/><rect x="653.49" y="445.50" width="1.40" height="1.40" fill="#e8e4e2"/><rect x="656.28" y="430.60" width="1.40" height="1.40" fill="#f4a385"/><rect x="648.73" y="491.01" width="1.40" height="1.40" fill="#9ab4f6"/><rect x="662.00" y="469.20" width="1.40" height="1.40" fill="#e8e4e2"/><rect x="635.50" y="499.56" width="1.40" height="1.40" fill="#f4a385"/><rect x="667.42" y="430.63" width="1.40" height="1.40" fill="#f4a385"/><rect x="632.47" y="515.56" width="1.40" height="1.40" fill="#f4a385"/><rect x="652.63" y="471.30" width="1.40" height="1.40" fill="#9ab4f6"/><rect x="628.36" y="514.85" width="1.40" height="1.40" fill="#e8e4e2"/><rect x="670.86" y="486.63" width="1.40" height="1.40" fill="#de5a48"/><rect x="665.21" y="448.78" width="1.40" height="1.40" fill="#5672dc"/><rect x="652.86" y="476.60" width="1.40" height="1.40" fill="#5672dc"/><rect x="659.60" y="486.60" width="1.40" height="1.40" fill="#5672dc"/><rect x="648.03" y="422.32" width="1.40" height="1.40" fill="#f4a385"/><rect x="656.72" y="455.76" width="1.40" height="1.40" fill="#de5a48"/><rect x="655.37" y="432.75" width="1.40" height="1.40" fill="#b40426"/><rect x="674.40" y="447.11" width="1.40" height="1.40" fill="#e8e4e2"/><rect x="672.85" y="441.70" width="1.40" height="1.40" fill="#5672dc"/><rect x="638.49" y="501.77" width="1.40" height="1.40" fill="#f4a385"/><rect x="649.97" y="432.08" width="1.40" height="1.40" fill="#b40426"/><rect x="663.48" y="464.09" width="1.40" height="1.40" fill="#5672dc"/><rect x="668.00" y="436.00" width="1.40" height="1.40" fill="#9ab4f6"/><rect x="675.05" y="451.54" width="1.40" height="1.40" fill="#5672dc"/><rect x="637.05" y="508.75" width="1.40" height="1.40" fill="#9ab4f6"/><rect x="652.83" y="443.77" width="1.40" height="1.40" fill="#5672dc"/><rect x="661.41" y="464.26" width="1.40" height="1.40" fill="#b40426"/><rect x="641.52" y="491.42" width="1.40" height="1.40" fill="#de5a48"/><rect x="672.57" y="462.00" width="1.40" height="1.40" fill="#5672dc"/><rect x="639.36" y="520.93" width="1.40" height="1.40" fill="#9ab4f6"/><rect x="633.14" y="514.07" width="1.40" height="1.40" fill="#e8e4e2"/><rect x="652.70" y="480.33" width="1.40" height="1.40" fill="#b40426"/><rect x="661.29" y="474.58" width="1.40" height="1.40" fill="#b40426"/><rect x="636.09" y="519.24" width="1.40" height="1.40" fill="#b40426"/><rect x="637.37" y="504.40" width="1.40" height="1.40" fill="#9ab4f6"/><rect x="652.02" y="480.43" width="1.40" height="1.40" fill="#de5a48"/><rect x="661.07" y="490.96" width="1.40" height="1.40" fill="#b40426"/><rect x="659.88" y="428.71" width="1.40" height="1.40" fill="#b40426"/><rect x="665.64" y="459.03" width="1.40" height="1.40" fill="#f4a385"/><rect x="666.42" y="475.61" width="1.40" height="1.40" fill="#b40426"/><rect x="669.98" y="481.19" width="1.40" height="1.40" fill="#5672dc"/><rect x="657.65" y="441.58" width="1.40" height="1.40" fill="#b40426"/><rect x="655.84" y="486.41" width="1.40" height="1.40" fill="#f4a385"/><rect x="673.98" y="443.03" width="1.40" height="1.40" fill="#b40426"/><rect x="654.74" y="419.87" width="1.40" height="1.40" fill="#f4a385"/><rect x="654.78" y="494.17" width="1.40" height="1.40" fill="#5672dc"/><rect x="650.44" y="421.08" width="1.40" height="1.40" fill="#b40426"/><rect x="666.40" y="430.35" width="1.40" height="1.40" fill="#de5a48"/><rect x="675.74" y="470.64" width="1.40" height="1.40" fill="#b40426"/><rect x="667.02" y="460.19" width="1.40" height="1.40" fill="#b40426"/><rect x="649.27" y="435.85" width="1.40" height="1.40" fill="#de5a48"/><rect x="665.55" y="473.76" width="1.40" height="1.40" fill="#5672dc"/><rect x="655.74" y="429.14" width="1.40" height="1.40" fill="#de5a48"/><rect x="657.62" y="432.81" width="1.40" height="1.40" fill="#f4a385"/><rect x="654.00" y="427.37" width="1.40" height="1.40" fill="#f4a385"/><rect x="665.36" y="490.56" width="1.40" height="1.40" fill="#f4a385"/><rect x="673.63" y="465.35" width="1.40" height="1.40" fill="#5672dc"/><rect x="667.93" y="452.85" width="1.40" height="1.40" fill="#f4a385"/><rect x="662.69" y="427.41" width="1.40" height="1.40" fill="#f4a385"/><rect x="671.53" y="454.29" width="1.40" height="1.40" fill="#9ab4f6"/><rect x="665.29" y="475.85" width="1.40" height="1.40" fill="#f4a385"/><rect x="649.47" y="431.32" width="1.40" height="1.40" fill="#b40426"/><rect x="667.37" y="449.16" width="1.40" height="1.40" fill="#b40426"/><rect x="661.91" y="486.69" width="1.40" height="1.40" fill="#f4a385"/><rect x="628.60" y="503.03" width="1.40" height="1.40" fill="#9ab4f6"/><rect x="641.00" y="514.44" width="1.40" height="1.40" fill="#b40426"/><rect x="631.18" y="514.75" width="1.40" height="1.40" fill="#b40426"/><rect x="673.85" y="456.87" width="1.40" height="1.40" fill="#b40426"/><rect x="640.74" y="519.09" width="1.40" height="1.40" fill="#de5a48"/><rect x="661.23" y="449.06" width="1.40" height="1.40" fill="#e8e4e2"/><rect x="648.80" y="430.08" width="1.40" height="1.40" fill="#5672dc"/><rect x="667.57" y="473.06" width="1.40" height="1.40" fill="#5672dc"/><rect x="662.95" y="468.82" width="1.40" height="1.40" fill="#9ab4f6"/><rect x="659.62" y="421.43" width="1.40" height="1.40" fill="#b40426"/><rect x="650.47" y="426.04" width="1.40" height="1.40" fill="#f4a385"/><rect x="649.38" y="424.94" width="1.40" height="1.40" fill="#9ab4f6"/><rect x="669.27" y="476.21" width="1.40" height="1.40" fill="#e8e4e2"/><rect x="656.12" y="473.18" width="1.40" height="1.40" fill="#9ab4f6"/><rect x="660.89" y="476.46" width="1.40" height="1.40" fill="#5672dc"/><rect x="655.81" y="483.94" width="1.40" height="1.40" fill="#b40426"/><rect x="636.07" y="508.36" width="1.40" height="1.40" fill="#b40426"/><rect x="651.46" y="435.35" width="1.40" height="1.40" fill="#de5a48"/><rect x="657.25" y="451.68" width="1.40" height="1.40" fill="#5672dc"/><rect x="657.02" y="428.58" width="1.40" height="1.40" fill="#f4a385"/><rect x="643.41" y="493.17" width="1.40" height="1.40" fill="#de5a48"/><rect x="633.84" y="500.97" width="1.40" height="1.40" fill="#b40426"/><rect x="674.76" y="444.75" width="1.40" height="1.40" fill="#9ab4f6"/><rect x="659.22" y="424.38" width="1.40" height="1.40" fill="#9ab4f6"/><rect x="671.24" y="443.99" width="1.40" height="1.40" fill="#b40426"/><rect x="654.69" y="473.06" width="1.40" height="1.40" fill="#e8e4e2"/><rect x="631.44" y="514.78" width="1.40" height="1.40" fill="#b40426"/><rect x="653.70" y="443.78" width="1.40" height="1.40" fill="#b40426"/><rect x="653.71" y="445.93" width="1.40" height="1.40" fill="#9ab4f6"/><rect x="643.91" y="504.06" width="1.40" height="1.40" fill="#e8e4e2"/><rect x="669.80" y="437.85" width="1.40" height="1.40" fill="#b40426"/><rect x="629.52" y="501.75" width="1.40" height="1.40" fill="#e8e4e2"/><rect x="669.70" y="448.17" width="1.40" height="1.40" fill="#de5a48"/><rect x="662.90" y="430.67" width="1.40" height="1.40" fill="#de5a48"/><rect x="661.18" y="492.98" width="1.40" height="1.40" fill="#b40426"/><rect x="669.67" y="450.74" width="1.40" height="1.40" fill="#b40426"/><rect x="661.95" y="428.09" width="1.40" height="1.40" fill="#de5a48"/><rect x="667.08" y="466.85" width="1.40" height="1.40" fill="#b40426"/><rect x="643.09" y="501.57" width="1.40" height="1.40" fill="#b40426"/><rect x="653.85" y="489.10" width="1.40" height="1.40" fill="#b40426"/><rect x="631.95" y="496.22" width="1.40" height="1.40" fill="#5672dc"/><rect x="670.62" y="469.53" width="1.40" height="1.40" fill="#e8e4e2"/><rect x="669.06" y="451.93" width="1.40" height="1.40" fill="#b40426"/><rect x="664.51" y="483.88" width="1.40" height="1.40" fill="#5672dc"/><rect x="656.10" y="472.22" width="1.40" height="1.40" fill="#de5a48"/><rect x="658.80" y="438.18" width="1.40" height="1.40" fill="#f4a385"/><rect x="654.18" y="444.66" width="1.40" height="1.40" fill="#b40426"/><rect x="644.73" y="506.07" width="1.40" height="1.40" fill="#b40426"/><rect x="662.24" y="431.70" width="1.40" height="1.40" fill="#b40426"/><rect x="634.63" y="505.56" width="1.40" height="1.40" fill="#5672dc"/><rect x="666.76" y="467.77" width="1.40" height="1.40" fill="#b40426"/><rect x="666.90" y="429.49" width="1.40" height="1.40" fill="#b40426"/><rect x="653.65" y="483.71" width="1.40" height="1.40" fill="#de5a48"/><rect x="661.53" y="481.43" width="1.40" height="1.40" fill="#9ab4f6"/><rect x="667.40" y="478.59" width="1.40" height="1.40" fill="#9ab4f6"/><rect x="664.81" y="440.74" width="1.40" height="1.40" fill="#f4a385"/><rect x="677.39" y="458.36" width="1.40" height="1.40" fill="#b40426"/><rect x="638.29" y="516.05" width="1.40" height="1.40" fill="#f4a385"/><rect x="663.83" y="482.30" width="1.40" height="1.40" fill="#de5a48"/><rect x="671.68" y="473.07" width="1.40" height="1.40" fill="#5672dc"/><rect x="670.62" y="484.07" width="1.40" height="1.40" fill="#b40426"/><rect x="641.95" y="513.13" width="1.40" height="1.40" fill="#5672dc"/><rect x="659.05" y="479.04" width="1.40" height="1.40" fill="#9ab4f6"/><rect x="651.75" y="417.25" width="1.40" height="1.40" fill="#de5a48"/><rect x="645.21" y="504.01" width="1.40" height="1.40" fill="#e8e4e2"/><rect x="651.69" y="416.90" width="1.40" height="1.40" fill="#de5a48"/><rect x="651.24" y="431.09" width="1.40" height="1.40" fill="#9ab4f6"/><rect x="654.15" y="436.85" width="1.40" height="1.40" fill="#5672dc"/><rect x="658.17" y="456.93" width="1.40" height="1.40" fill="#b40426"/><rect x="660.09" y="437.48" width="1.40" height="1.40" fill="#5672dc"/><rect x="630.47" y="498.69" width="1.40" height="1.40" fill="#b40426"/><rect x="649.22" y="428.99" width="1.40" height="1.40" fill="#5672dc"/><rect x="668.98" y="457.30" width="1.40" height="1.40" fill="#de5a48"/><rect x="660.87" y="441.53" width="1.40" height="1.40" fill="#f4a385"/><rect x="653.59" y="433.97" width="1.40" height="1.40" fill="#de5a48"/><rect x="633.83" y="499.82" width="1.40" height="1.40" fill="#de5a48"/><rect x="661.94" y="450.67" width="1.40" height="1.40" fill="#5672dc"/><rect x="656.71" y="473.12" width="1.40" height="1.40" fill="#b40426"/><rect x="660.91" y="477.91" width="1.40" height="1.40" fill="#5672dc"/><rect x="665.02" y="427.81" width="1.40" height="1.40" fill="#f4a385"/><rect x="674.77" y="458.81" width="1.40" height="1.40" fill="#f4a385"/><rect x="661.88" y="433.91" width="1.40" height="1.40" fill="#5672dc"/><rect x="654.02" y="493.09" width="1.40" height="1.40" fill="#5672dc"/><rect x="672.84" y="462.55" width="1.40" height="1.40" fill="#e8e4e2"/><rect x="662.57" y="493.94" width="1.40" height="1.40" fill="#f4a385"/><rect x="667.32" y="444.76" width="1.40" height="1.40" fill="#5672dc"/><rect x="652.08" y="486.33" width="1.40" height="1.40" fill="#b40426"/><rect x="652.05" y="473.16" width="1.40" height="1.40" fill="#f4a385"/><rect x="658.10" y="465.54" width="1.40" height="1.40" fill="#5672dc"/><rect x="642.86" y="495.82" width="1.40" height="1.40" fill="#e8e4e2"/><rect x="634.19" y="519.68" width="1.40" height="1.40" fill="#f4a385"/><rect x="656.33" y="472.02" width="1.40" height="1.40" fill="#b40426"/><rect x="659.27" y="480.05" width="1.40" height="1.40" fill="#de5a48"/><rect x="675.34" y="473.62" width="1.40" height="1.40" fill="#5672dc"/><rect x="652.29" y="438.15" width="1.40" height="1.40" fill="#9ab4f6"/><rect x="672.10" y="440.36" width="1.40" height="1.40" fill="#de5a48"/><rect x="635.67" y="495.85" width="1.40" height="1.40" fill="#9ab4f6"/><rect x="632.57" y="511.55" width="1.40" height="1.40" fill="#f4a385"/><rect x="651.65" y="440.54" width="1.40" height="1.40" fill="#b40426"/><rect x="671.97" y="467.60" width="1.40" height="1.40" fill="#de5a48"/><rect x="633.03" y="505.20" width="1.40" height="1.40" fill="#de5a48"/><rect x="650.45" y="428.10" width="1.40" height="1.40" fill="#de5a48"/><rect x="663.38" y="494.12" width="1.40" height="1.40" fill="#de5a48"/><rect x="652.51" y="481.63" width="1.40" height="1.40" fill="#b40426"/><rect x="629.16" y="509.62" width="1.40" height="1.40" fill="#b40426"/><rect x="666.66" y="453.38" width="1.40" height="1.40" fill="#de5a48"/><rect x="649.55" y="427.77" width="1.40" height="1.40" fill="#e8e4e2"/><rect x="675.18" y="459.61" width="1.40" height="1.40" fill="#5672dc"/><rect x="651.19" y="423.56" width="1.40" height="1.40" fill="#b40426"/><rect x="637.97" y="510.23" width="1.40" height="1.40" fill="#de5a48"/><rect x="675.71" y="472.18" width="1.40" height="1.40" fill="#b40426"/><rect x="652.86" y="474.15" width="1.40" height="1.40" fill="#b40426"/><rect x="654.90" y="421.61" width="1.40" height="1.40" fill="#f4a385"/><rect x="657.09" y="429.23" width="1.40" height="1.40" fill="#de5a48"/><rect x="633.43" y="498.57" width="1.40" height="1.40" fill="#b40426"/><rect x="637.26" y="514.45" width="1.40" height="1.40" fill="#b40426"/><rect x="655.22" y="481.53" width="1.40" height="1.40" fill="#b40426"/><rect x="664.29" y="447.41" width="1.40" height="1.40" fill="#f4a385"/><rect x="670.14" y="455.92" width="1.40" height="1.40" fill="#f4a385"/><rect x="657.27" y="461.72" width="1.40" height="1.40" fill="#b40426"/><rect x="656.23" y="450.88" width="1.40" height="1.40" fill="#e8e4e2"/><rect x="670.84" y="444.46" width="1.40" height="1.40" fill="#9ab4f6"/><rect x="650.38" y="483.79" width="1.40" height="1.40" fill="#de5a48"/><rect x="628.08" y="509.10" width="1.40" height="1.40" fill="#f4a385"/><rect x="665.54" y="469.90" width="1.40" height="1.40" fill="#f4a385"/><rect x="656.46" y="483.01" width="1.40" height="1.40" fill="#b40426"/><rect x="661.36" y="433.69" width="1.40" height="1.40" fill="#f4a385"/><rect x="670.29" y="448.88" width="1.40" height="1.40" fill="#5672dc"/><rect x="674.28" y="468.64" width="1.40" height="1.40" fill="#b40426"/><rect x="658.18" y="421.22" width="1.40" height="1.40" fill="#f4a385"/><rect x="657.24" y="421.31" width="1.40" height="1.40" fill="#b40426"/><rect x="661.14" y="426.11" width="1.40" height="1.40" fill="#b40426"/><rect x="636.40" y="506.21" width="1.40" height="1.40" fill="#5672dc"/><rect x="640.27" y="519.07" width="1.40" height="1.40" fill="#f4a385"/><rect x="665.70" y="424.66" width="1.40" height="1.40" fill="#5672dc"/><rect x="651.64" y="425.27" width="1.40" height="1.40" fill="#b40426"/><rect x="663.78" y="431.87" width="1.40" height="1.40" fill="#9ab4f6"/><rect x="662.73" y="465.69" width="1.40" height="1.40" fill="#de5a48"/><rect x="673.36" y="449.37" width="1.40" height="1.40" fill="#9ab4f6"/><rect x="651.23" y="486.81" width="1.40" height="1.40" fill="#b40426"/><rect x="665.42" y="467.65" width="1.40" height="1.40" fill="#b40426"/><rect x="640.20" y="498.96" width="1.40" height="1.40" fill="#de5a48"/><rect x="674.96" y="462.31" width="1.40" height="1.40" fill="#5672dc"/><rect x="660.35" y="447.83" width="1.40" height="1.40" fill="#b40426"/><rect x="655.52" y="471.14" width="1.40" height="1.40" fill="#e8e4e2"/><rect x="654.71" y="418.98" width="1.40" height="1.40" fill="#f4a385"/><rect x="652.50" y="424.29" width="1.40" height="1.40" fill="#f4a385"/><rect x="634.65" y="507.84" width="1.40" height="1.40" fill="#de5a48"/><rect x="648.93" y="428.75" width="1.40" height="1.40" fill="#b40426"/><rect x="657.39" y="495.71" width="1.40" height="1.40" fill="#de5a48"/><rect x="641.61" y="503.30" width="1.40" height="1.40" fill="#de5a48"/><rect x="651.53" y="474.78" width="1.40" height="1.40" fill="#e8e4e2"/><rect x="661.54" y="473.65" width="1.40" height="1.40" fill="#e8e4e2"/><rect x="662.14" y="452.85" width="1.40" height="1.40" fill="#5672dc"/><rect x="652.79" y="427.73" width="1.40" height="1.40" fill="#f4a385"/><rect x="638.95" y="518.42" width="1.40" height="1.40" fill="#b40426"/><rect x="663.25" y="480.73" width="1.40" height="1.40" fill="#de5a48"/><rect x="630.10" y="518.08" width="1.40" height="1.40" fill="#5672dc"/><rect x="666.68" y="455.53" width="1.40" height="1.40" fill="#9ab4f6"/><rect x="666.23" y="485.71" width="1.40" height="1.40" fill="#5672dc"/><rect x="656.18" y="469.12" width="1.40" height="1.40" fill="#de5a48"/><rect x="672.34" y="455.43" width="1.40" height="1.40" fill="#e8e4e2"/><rect x="655.95" y="438.75" width="1.40" height="1.40" fill="#f4a385"/><rect x="655.16" y="495.43" width="1.40" height="1.40" fill="#b40426"/><rect x="633.25" y="509.01" width="1.40" height="1.40" fill="#f4a385"/><rect x="667.64" y="483.72" width="1.40" height="1.40" fill="#5672dc"/><rect x="664.41" y="437.94" width="1.40" height="1.40" fill="#e8e4e2"/><rect x="630.53" y="517.96" width="1.40" height="1.40" fill="#f4a385"/><rect x="677.11" y="455.59" width="1.40" height="1.40" fill="#b40426"/><rect x="653.73" y="483.87" width="1.40" height="1.40" fill="#e8e4e2"/><rect x="654.74" y="486.37" width="1.40" height="1.40" fill="#e8e4e2"/><rect x="653.56" y="425.71" width="1.40" height="1.40" fill="#f4a385"/><rect x="648.59" y="422.90" width="1.40" height="1.40" fill="#b40426"/><rect x="670.10" y="470.21" width="1.40" height="1.40" fill="#b40426"/><rect x="665.05" y="463.03" width="1.40" height="1.40" fill="#f4a385"/><rect x="643.24" y="502.12" width="1.40" height="1.40" fill="#de5a48"/><rect x="668.70" y="435.96" width="1.40" height="1.40" fill="#de5a48"/><rect x="673.35" y="439.52" width="1.40" height="1.40" fill="#9ab4f6"/><rect x="660.68" y="460.52" width="1.40" height="1.40" fill="#f4a385"/><rect x="654.95" y="493.27" width="1.40" height="1.40" fill="#5672dc"/><rect x="676.18" y="461.61" width="1.40" height="1.40" fill="#de5a48"/><rect x="660.29" y="452.97" width="1.40" height="1.40" fill="#de5a48"/><rect x="650.18" y="491.36" width="1.40" height="1.40" fill="#5672dc"/><rect x="665.07" y="425.55" width="1.40" height="1.40" fill="#b40426"/><rect x="660.99" y="462.34" width="1.40" height="1.40" fill="#5672dc"/><rect x="665.56" y="474.64" width="1.40" height="1.40" fill="#b40426"/><rect x="669.80" y="467.35" width="1.40" height="1.40" fill="#f4a385"/><rect x="646.94" y="423.27" width="1.40" height="1.40" fill="#f4a385"/><rect x="671.59" y="441.97" width="1.40" height="1.40" fill="#f4a385"/><rect x="657.94" y="482.71" width="1.40" height="1.40" fill="#f4a385"/><rect x="660.58" y="469.23" width="1.40" height="1.40" fill="#de5a48"/><rect x="632.80" y="509.47" width="1.40" height="1.40" fill="#5672dc"/><rect x="668.71" y="486.14" width="1.40" height="1.40" fill="#b40426"/><rect x="668.88" y="438.90" width="1.40" height="1.40" fill="#5672dc"/><rect x="634.54" y="498.75" width="1.40" height="1.40" fill="#b40426"/><rect x="642.15" y="502.23" width="1.40" height="1.40" fill="#de5a48"/><rect x="628.88" y="516.89" width="1.40" height="1.40" fill="#5672dc"/><rect x="669.40" y="456.98" width="1.40" height="1.40" fill="#5672dc"/><rect x="654.10" y="430.92" width="1.40" height="1.40" fill="#b40426"/><rect x="676.95" y="470.51" width="1.40" height="1.40" fill="#f4a385"/><rect x="659.87" y="481.98" width="1.40" height="1.40" fill="#9ab4f6"/><rect x="660.20" y="472.31" width="1.40" height="1.40" fill="#b40426"/><rect x="637.49" y="517.58" width="1.40" height="1.40" fill="#b40426"/><rect x="658.03" y="492.54" width="1.40" height="1.40" fill="#5672dc"/><rect x="657.14" y="444.51" width="1.40" height="1.40" fill="#b40426"/><rect x="643.81" y="504.30" width="1.40" height="1.40" fill="#5672dc"/><rect x="651.33" y="482.97" width="1.40" height="1.40" fill="#5672dc"/><rect x="667.10" y="486.44" width="1.40" height="1.40" fill="#9ab4f6"/><rect x="658.22" y="439.70" width="1.40" height="1.40" fill="#b40426"/><rect x="653.59" y="430.21" width="1.40" height="1.40" fill="#b40426"/><rect x="671.50" y="440.61" width="1.40" height="1.40" fill="#b40426"/><rect x="645.64" y="497.88" width="1.40" height="1.40" fill="#f4a385"/><rect x="644.93" y="494.88" width="1.40" height="1.40" fill="#b40426"/><rect x="647.56" y="490.22" width="1.40" height="1.40" fill="#b40426"/><rect x="666.28" y="463.85" width="1.40" height="1.40" fill="#5672dc"/><rect x="665.34" y="474.54" width="1.40" height="1.40" fill="#f4a385"/><rect x="661.89" y="480.70" width="1.40" height="1.40" fill="#f4a385"/><rect x="652.77" y="494.14" width="1.40" height="1.40" fill="#e8e4e2"/><rect x="651.94" y="418.05" width="1.40" height="1.40" fill="#f4a385"/><rect x="662.55" y="455.20" width="1.40" height="1.40" fill="#5672dc"/><rect x="666.66" y="447.43" width="1.40" height="1.40" fill="#b40426"/><rect x="669.93" y="471.79" width="1.40" height="1.40" fill="#b40426"/><rect x="667.54" y="464.12" width="1.40" height="1.40" fill="#9ab4f6"/><rect x="664.51" y="482.31" width="1.40" height="1.40" fill="#5672dc"/><rect x="665.51" y="471.12" width="1.40" height="1.40" fill="#b40426"/><rect x="665.53" y="446.23" width="1.40" height="1.40" fill="#5672dc"/><rect x="667.68" y="444.77" width="1.40" height="1.40" fill="#b40426"/><rect x="653.60" y="487.77" width="1.40" height="1.40" fill="#b40426"/><rect x="663.37" y="484.29" width="1.40" height="1.40" fill="#9ab4f6"/><rect x="628.51" y="518.53" width="1.40" height="1.40" fill="#de5a48"/><rect x="652.32" y="430.46" width="1.40" height="1.40" fill="#e8e4e2"/><rect x="664.19" y="469.19" width="1.40" height="1.40" fill="#9ab4f6"/><rect x="669.54" y="434.86" width="1.40" height="1.40" fill="#b40426"/><rect x="672.15" y="476.88" width="1.40" height="1.40" fill="#9ab4f6"/><rect x="674.25" y="455.23" width="1.40" height="1.40" fill="#f4a385"/><rect x="669.72" y="470.77" width="1.40" height="1.40" fill="#5672dc"/><rect x="674.49" y="479.82" width="1.40" height="1.40" fill="#5672dc"/><rect x="634.20" y="503.56" width="1.40" height="1.40" fill="#de5a48"/><rect x="662.98" y="451.70" width="1.40" height="1.40" fill="#e8e4e2"/><rect x="652.78" y="476.17" width="1.40" height="1.40" fill="#b40426"/><rect x="651.45" y="433.83" width="1.40" height="1.40" fill="#e8e4e2"/><rect x="672.15" y="455.39" width="1.40" height="1.40" fill="#b40426"/><rect x="664.03" y="445.29" width="1.40" height="1.40" fill="#9ab4f6"/><rect x="652.46" y="475.91" width="1.40" height="1.40" fill="#e8e4e2"/><rect x="630.30" y="503.96" width="1.40" height="1.40" fill="#b40426"/><rect x="642.09" y="492.51" width="1.40" height="1.40" fill="#f4a385"/><rect x="669.20" y="443.09" width="1.40" height="1.40" fill="#9ab4f6"/><rect x="661.55" y="466.29" width="1.40" height="1.40" fill="#f4a385"/><rect x="655.78" y="495.02" width="1.40" height="1.40" fill="#5672dc"/><rect x="652.96" y="474.05" width="1.40" height="1.40" fill="#de5a48"/><rect x="651.82" y="433.49" width="1.40" height="1.40" fill="#f4a385"/><rect x="662.10" y="490.07" width="1.40" height="1.40" fill="#9ab4f6"/><rect x="659.08" y="435.88" width="1.40" height="1.40" fill="#9ab4f6"/><rect x="650.39" y="424.87" width="1.40" height="1.40" fill="#de5a48"/><rect x="649.74" y="432.61" width="1.40" height="1.40" fill="#de5a48"/><rect x="670.79" y="444.04" width="1.40" height="1.40" fill="#f4a385"/><rect x="674.99" y="474.70" width="1.40" height="1.40" fill="#5672dc"/><rect x="663.49" y="460.71" width="1.40" height="1.40" fill="#b40426"/><rect x="668.54" y="443.24" width="1.40" height="1.40" fill="#5672dc"/><rect x="661.13" y="437.06" width="1.40" height="1.40" fill="#f4a385"/><rect x="670.17" y="440.92" width="1.40" height="1.40" fill="#f4a385"/><rect x="667.57" y="463.39" width="1.40" height="1.40" fill="#b40426"/><rect x="650.78" y="418.14" width="1.40" height="1.40" fill="#b40426"/><rect x="640.15" y="496.60" width="1.40" height="1.40" fill="#f4a385"/><rect x="639.82" y="518.53" width="1.40" height="1.40" fill="#de5a48"/><rect x="665.25" y="429.41" width="1.40" height="1.40" fill="#5672dc"/><rect x="660.85" y="423.28" width="1.40" height="1.40" fill="#e8e4e2"/><rect x="671.40" y="477.69" width="1.40" height="1.40" fill="#f4a385"/><rect x="667.92" y="489.64" width="1.40" height="1.40" fill="#e8e4e2"/><rect x="650.67" y="489.34" width="1.40" height="1.40" fill="#b40426"/><rect x="668.49" y="470.86" width="1.40" height="1.40" fill="#b40426"/><rect x="656.91" y="480.36" width="1.40" height="1.40" fill="#e8e4e2"/><rect x="669.54" y="486.05" width="1.40" height="1.40" fill="#de5a48"/><rect x="650.61" y="429.50" width="1.40" height="1.40" fill="#f4a385"/><rect x="637.87" y="514.26" width="1.40" height="1.40" fill="#b40426"/><rect x="656.38" y="461.85" width="1.40" height="1.40" fill="#b40426"/><rect x="664.81" y="448.13" width="1.40" height="1.40" fill="#e8e4e2"/><rect x="637.39" y="509.57" width="1.40" height="1.40" fill="#5672dc"/><rect x="664.38" y="475.46" width="1.40" height="1.40" fill="#de5a48"/><rect x="663.22" y="438.92" width="1.40" height="1.40" fill="#9ab4f6"/><rect x="662.43" y="492.26" width="1.40" height="1.40" fill="#b40426"/><rect x="661.21" y="429.36" width="1.40" height="1.40" fill="#de5a48"/><rect x="637.55" y="519.07" width="1.40" height="1.40" fill="#e8e4e2"/><rect x="645.49" y="491.29" width="1.40" height="1.40" fill="#f4a385"/><rect x="675.40" y="456.65" width="1.40" height="1.40" fill="#b40426"/><rect x="667.51" y="450.74" width="1.40" height="1.40" fill="#b40426"/><rect x="650.71" y="480.66" width="1.40" height="1.40" fill="#e8e4e2"/><rect x="650.84" y="430.66" width="1.40" height="1.40" fill="#5672dc"/><rect x="660.10" y="440.66" width="1.40" height="1.40" fill="#f4a385"/><rect x="661.51" y="451.60" width="1.40" height="1.40" fill="#b40426"/><rect x="668.93" y="438.95" width="1.40" height="1.40" fill="#de5a48"/><rect x="672.39" y="443.26" width="1.40" height="1.40" fill="#f4a385"/><rect x="634.05" y="519.73" width="1.40" height="1.40" fill="#5672dc"/><rect x="630.73" y="508.98" width="1.40" height="1.40" fill="#5672dc"/><rect x="656.72" y="424.90" width="1.40" height="1.40" fill="#de5a48"/><rect x="664.74" y="435.78" width="1.40" height="1.40" fill="#de5a48"/><rect x="630.37" y="507.22" width="1.40" height="1.40" fill="#b40426"/><rect x="637.40" y="507.51" width="1.40" height="1.40" fill="#b40426"/><rect x="631.62" y="500.77" width="1.40" height="1.40" fill="#9ab4f6"/><rect x="641.20" y="511.42" width="1.40" height="1.40" fill="#b40426"/><rect x="633.02" y="495.18" width="1.40" height="1.40" fill="#de5a48"/><rect x="645.78" y="490.11" width="1.40" height="1.40" fill="#b40426"/><rect x="639.69" y="498.18" width="1.40" height="1.40" fill="#5672dc"/><rect x="649.66" y="434.07" width="1.40" height="1.40" fill="#5672dc"/><rect x="659.67" y="471.62" width="1.40" height="1.40" fill="#e8e4e2"/><rect x="651.86" y="438.75" width="1.40" height="1.40" fill="#f4a385"/><rect x="628.10" y="508.17" width="1.40" height="1.40" fill="#de5a48"/><rect x="671.67" y="465.30" width="1.40" height="1.40" fill="#9ab4f6"/><rect x="659.85" y="453.52" width="1.40" height="1.40" fill="#b40426"/><rect x="669.66" y="449.05" width="1.40" height="1.40" fill="#b40426"/><rect x="665.06" y="477.39" width="1.40" height="1.40" fill="#5672dc"/><rect x="656.16" y="480.35" width="1.40" height="1.40" fill="#de5a48"/><rect x="674.05" y="444.91" width="1.40" height="1.40" fill="#5672dc"/><rect x="675.39" y="450.42" width="1.40" height="1.40" fill="#b40426"/><rect x="640.95" y="493.74" width="1.40" height="1.40" fill="#b40426"/><rect x="632.55" y="511.84" width="1.40" height="1.40" fill="#9ab4f6"/><rect x="647.92" y="492.05" width="1.40" height="1.40" fill="#9ab4f6"/><rect x="632.49" y="516.18" width="1.40" height="1.40" fill="#b40426"/><rect x="653.37" y="472.65" width="1.40" height="1.40" fill="#b40426"/><rect x="653.07" y="437.05" width="1.40" height="1.40" fill="#de5a48"/><rect x="647.20" y="426.44" width="1.40" height="1.40" fill="#e8e4e2"/><rect x="667.02" y="480.91" width="1.40" height="1.40" fill="#b40426"/><rect x="662.59" y="481.06" width="1.40" height="1.40" fill="#de5a48"/><rect x="662.57" y="448.55" width="1.40" height="1.40" fill="#9ab4f6"/><rect x="676.83" y="459.19" width="1.40" height="1.40" fill="#9ab4f6"/><rect x="655.89" y="446.46" width="1.40" height="1.40" fill="#f4a385"/><rect x="664.08" y="457.28" width="1.40" height="1.40" fill="#de5a48"/><rect x="642.34" y="515.74" width="1.40" height="1.40" fill="#b40426"/><rect x="627.66" y="510.10" width="1.40" height="1.40" fill="#b40426"/><rect x="658.32" y="441.61" width="1.40" height="1.40" fill="#5672dc"/><rect x="672.38" y="455.24" width="1.40" height="1.40" fill="#e8e4e2"/><rect x="655.32" y="449.86" width="1.40" height="1.40" fill="#b40426"/><rect x="639.93" y="495.08" width="1.40" height="1.40" fill="#b40426"/><rect x="675.25" y="472.74" width="1.40" height="1.40" fill="#5672dc"/><rect x="666.43" y="452.30" width="1.40" height="1.40" fill="#f4a385"/><rect x="658.34" y="490.76" width="1.40" height="1.40" fill="#9ab4f6"/><rect x="660.46" y="426.29" width="1.40" height="1.40" fill="#f4a385"/><rect x="645.02" y="504.12" width="1.40" height="1.40" fill="#de5a48"/><rect x="656.23" y="468.56" width="1.40" height="1.40" fill="#f4a385"/><rect x="643.55" y="491.16" width="1.40" height="1.40" fill="#f4a385"/><rect x="667.04" y="469.09" width="1.40" height="1.40" fill="#e8e4e2"/><rect x="661.20" y="429.00" width="1.40" height="1.40" fill="#5672dc"/><rect x="631.94" y="496.95" width="1.40" height="1.40" fill="#9ab4f6"/><rect x="657.58" y="482.22" width="1.40" height="1.40" fill="#b40426"/><rect x="639.15" y="502.17" width="1.40" height="1.40" fill="#e8e4e2"/><rect x="669.75" y="478.83" width="1.40" height="1.40" fill="#b40426"/><rect x="658.57" y="480.08" width="1.40" height="1.40" fill="#9ab4f6"/><rect x="669.93" y="437.74" width="1.40" height="1.40" fill="#b40426"/><rect x="651.35" y="431.49" width="1.40" height="1.40" fill="#b40426"/><rect x="656.10" y="480.16" width="1.40" height="1.40" fill="#f4a385"/><rect x="662.67" y="423.05" width="1.40" height="1.40" fill="#9ab4f6"/><rect x="657.51" y="496.18" width="1.40" height="1.40" fill="#5672dc"/><rect x="655.41" y="447.53" width="1.40" height="1.40" fill="#e8e4e2"/><rect x="671.20" y="482.57" width="1.40" height="1.40" fill="#9ab4f6"/><rect x="641.77" y="492.50" width="1.40" height="1.40" fill="#de5a48"/><rect x="650.03" y="423.27" width="1.40" height="1.40" fill="#f4a385"/><rect x="659.64" y="493.62" width="1.40" height="1.40" fill="#b40426"/><rect x="651.52" y="430.49" width="1.40" height="1.40" fill="#de5a48"/><rect x="659.74" y="486.73" width="1.40" height="1.40" fill="#b40426"/><rect x="663.13" y="490.78" width="1.40" height="1.40" fill="#f4a385"/><rect x="671.73" y="464.41" width="1.40" height="1.40" fill="#b40426"/><rect x="654.82" y="472.41" width="1.40" height="1.40" fill="#de5a48"/><rect x="675.90" y="467.21" width="1.40" height="1.40" fill="#e8e4e2"/><rect x="628.44" y="519.29" width="1.40" height="1.40" fill="#b40426"/><rect x="633.90" y="500.73" width="1.40" height="1.40" fill="#f4a385"/><rect x="632.53" y="504.34" width="1.40" height="1.40" fill="#f4a385"/><rect x="663.42" y="422.48" width="1.40" height="1.40" fill="#de5a48"/><rect x="654.05" y="477.22" width="1.40" height="1.40" fill="#f4a385"/><rect x="655.71" y="491.90" width="1.40" height="1.40" fill="#f4a385"/><rect x="646.02" y="489.33" width="1.40" height="1.40" fill="#b40426"/><rect x="634.46" y="521.00" width="1.40" height="1.40" fill="#9ab4f6"/><rect x="674.46" y="445.10" width="1.40" height="1.40" fill="#5672dc"/><rect x="655.69" y="426.24" width="1.40" height="1.40" fill="#de5a48"/><rect x="656.48" y="465.58" width="1.40" height="1.40" fill="#b40426"/><rect x="673.35" y="451.00" width="1.40" height="1.40" fill="#f4a385"/><rect x="658.30" y="425.52" width="1.40" height="1.40" fill="#5672dc"/><rect x="662.58" y="473.96" width="1.40" height="1.40" fill="#de5a48"/><rect x="674.30" y="454.12" width="1.40" height="1.40" fill="#b40426"/><rect x="626.88" y="504.62" width="1.40" height="1.40" fill="#e8e4e2"/><rect x="656.51" y="493.63" width="1.40" height="1.40" fill="#f4a385"/><rect x="658.17" y="467.24" width="1.40" height="1.40" fill="#b40426"/><rect x="656.02" y="456.37" width="1.40" height="1.40" fill="#b40426"/><rect x="645.10" y="494.21" width="1.40" height="1.40" fill="#5672dc"/><rect x="676.36" y="461.47" width="1.40" height="1.40" fill="#5672dc"/><rect x="674.27" y="466.95" width="1.40" height="1.40" fill="#b40426"/><rect x="658.08" y="419.04" width="1.40" height="1.40" fill="#de5a48"/><rect x="667.05" y="450.96" width="1.40" height="1.40" fill="#b40426"/><rect x="662.28" y="448.12" width="1.40" height="1.40" fill="#5672dc"/><rect x="643.34" y="503.23" width="1.40" height="1.40" fill="#f4a385"/><rect x="677.32" y="462.22" width="1.40" height="1.40" fill="#e8e4e2"/><rect x="634.26" y="506.19" width="1.40" height="1.40" fill="#de5a48"/><rect x="670.12" y="459.33" width="1.40" height="1.40" fill="#f4a385"/><rect x="668.85" y="431.70" width="1.40" height="1.40" fill="#9ab4f6"/><rect x="666.15" y="433.19" width="1.40" height="1.40" fill="#b40426"/><rect x="642.25" y="516.04" width="1.40" height="1.40" fill="#b40426"/><rect x="643.87" y="502.18" width="1.40" height="1.40" fill="#b40426"/><rect x="650.92" y="476.57" width="1.40" height="1.40" fill="#f4a385"/><rect x="651.26" y="495.14" width="1.40" height="1.40" fill="#e8e4e2"/><rect x="643.64" y="499.44" width="1.40" height="1.40" fill="#f4a385"/><rect x="664.46" y="428.03" width="1.40" height="1.40" fill="#f4a385"/></g><text x="520.80" y="408.00" font-size="10.5" text-anchor="start" fill="#000" color="#000" stroke-width="0.12" font-weight="bold" >i</text><path d="M532.6,519.1 L532.6,567.8 L581.6,567.8" fill="none" stroke="#231f20" stroke-width="0.8"/><path d="M532.6,515.1 L530.6,520.1 L534.6,520.1Z" fill="#231f20"/><path d="M585.6,567.8 L580.6,565.8 L580.6,569.8Z" fill="#231f20"/><text x="557.20" y="578.60" font-size="7.9" text-anchor="middle" fill="#231f20" color="#231f20" stroke-width="0.12" font-weight="normal" >UMAP1</text><text x="0" y="0" font-size="7.8" fill="#231f20" text-anchor="middle" transform="translate(527.6,542.9) rotate(-90)">UMAP2</text><defs><linearGradient id="gCW" x1="0" x2="1"><stop offset="0" stop-color="#3b4cc0"/><stop offset="0.25" stop-color="#7b9ff9"/><stop offset="0.5" stop-color="#dddcdc"/><stop offset="0.75" stop-color="#f4987a"/><stop offset="1" stop-color="#b40426"/></linearGradient></defs><rect x="560.7" y="606.5" width="122.8" height="5.9" fill="url(#gCW)"/><line x1="573.40" y1="612.40" x2="573.40" y2="614.80" stroke="#555" stroke-width="0.6" /><text x="573.40" y="623.40" font-size="7.6" text-anchor="middle" fill="#231f20" color="#231f20" stroke-width="0.12" font-weight="normal" >−2</text><line x1="597.20" y1="612.40" x2="597.20" y2="614.80" stroke="#555" stroke-width="0.6" /><text x="597.20" y="623.40" font-size="7.6" text-anchor="middle" fill="#231f20" color="#231f20" stroke-width="0.12" font-weight="normal" >−1</text><line x1="621.50" y1="612.40" x2="621.50" y2="614.80" stroke="#555" stroke-width="0.6" /><text x="621.50" y="623.40" font-size="7.6" text-anchor="middle" fill="#231f20" color="#231f20" stroke-width="0.12" font-weight="normal" >0</text><line x1="645.80" y1="612.40" x2="645.80" y2="614.80" stroke="#555" stroke-width="0.6" /><text x="645.80" y="623.40" font-size="7.6" text-anchor="middle" fill="#231f20" color="#231f20" stroke-width="0.12" font-weight="normal" >1</text><line x1="670.80" y1="612.40" x2="670.80" y2="614.80" stroke="#555" stroke-width="0.6" /><text x="670.80" y="623.40" font-size="7.6" text-anchor="middle" fill="#231f20" color="#231f20" stroke-width="0.12" font-weight="normal" >2</text><text x="621.8" y="593.8" font-size="7.8" text-anchor="middle" fill="#231f20"><tspan font-style="italic">Z</tspan><tspan font-size="5.4" dy="1.8">older</tspan><tspan dy="-1.8"> − </tspan><tspan font-style="italic">Z</tspan><tspan font-size="5.4" dy="1.8">younger</tspan></text><text x="621.80" y="602.20" font-size="7.9" text-anchor="middle" fill="#231f20" color="#231f20" stroke-width="0.12" font-weight="normal" >for PP genetics</text><path d="M613,629.7 L562,629.7" stroke="#231f20" stroke-width="0.8"/><path d="M560.7,629.7 L565.7,627.7 L565.7,631.7Z" fill="#231f20"/><path d="M631.4,629.7 L682,629.7" stroke="#231f20" stroke-width="0.8"/><path d="M683.5,629.7 L678.5,627.7 L678.5,631.7Z" fill="#231f20"/><text x="588.40" y="638.20" font-size="7.9" text-anchor="middle" fill="#231f20" color="#231f20" stroke-width="0.12" font-weight="normal" >Younger</text><text x="655.50" y="638.20" font-size="7.9" text-anchor="middle" fill="#231f20" color="#231f20" stroke-width="0.12" font-weight="normal" >Older</text>
</svg></body></html>
